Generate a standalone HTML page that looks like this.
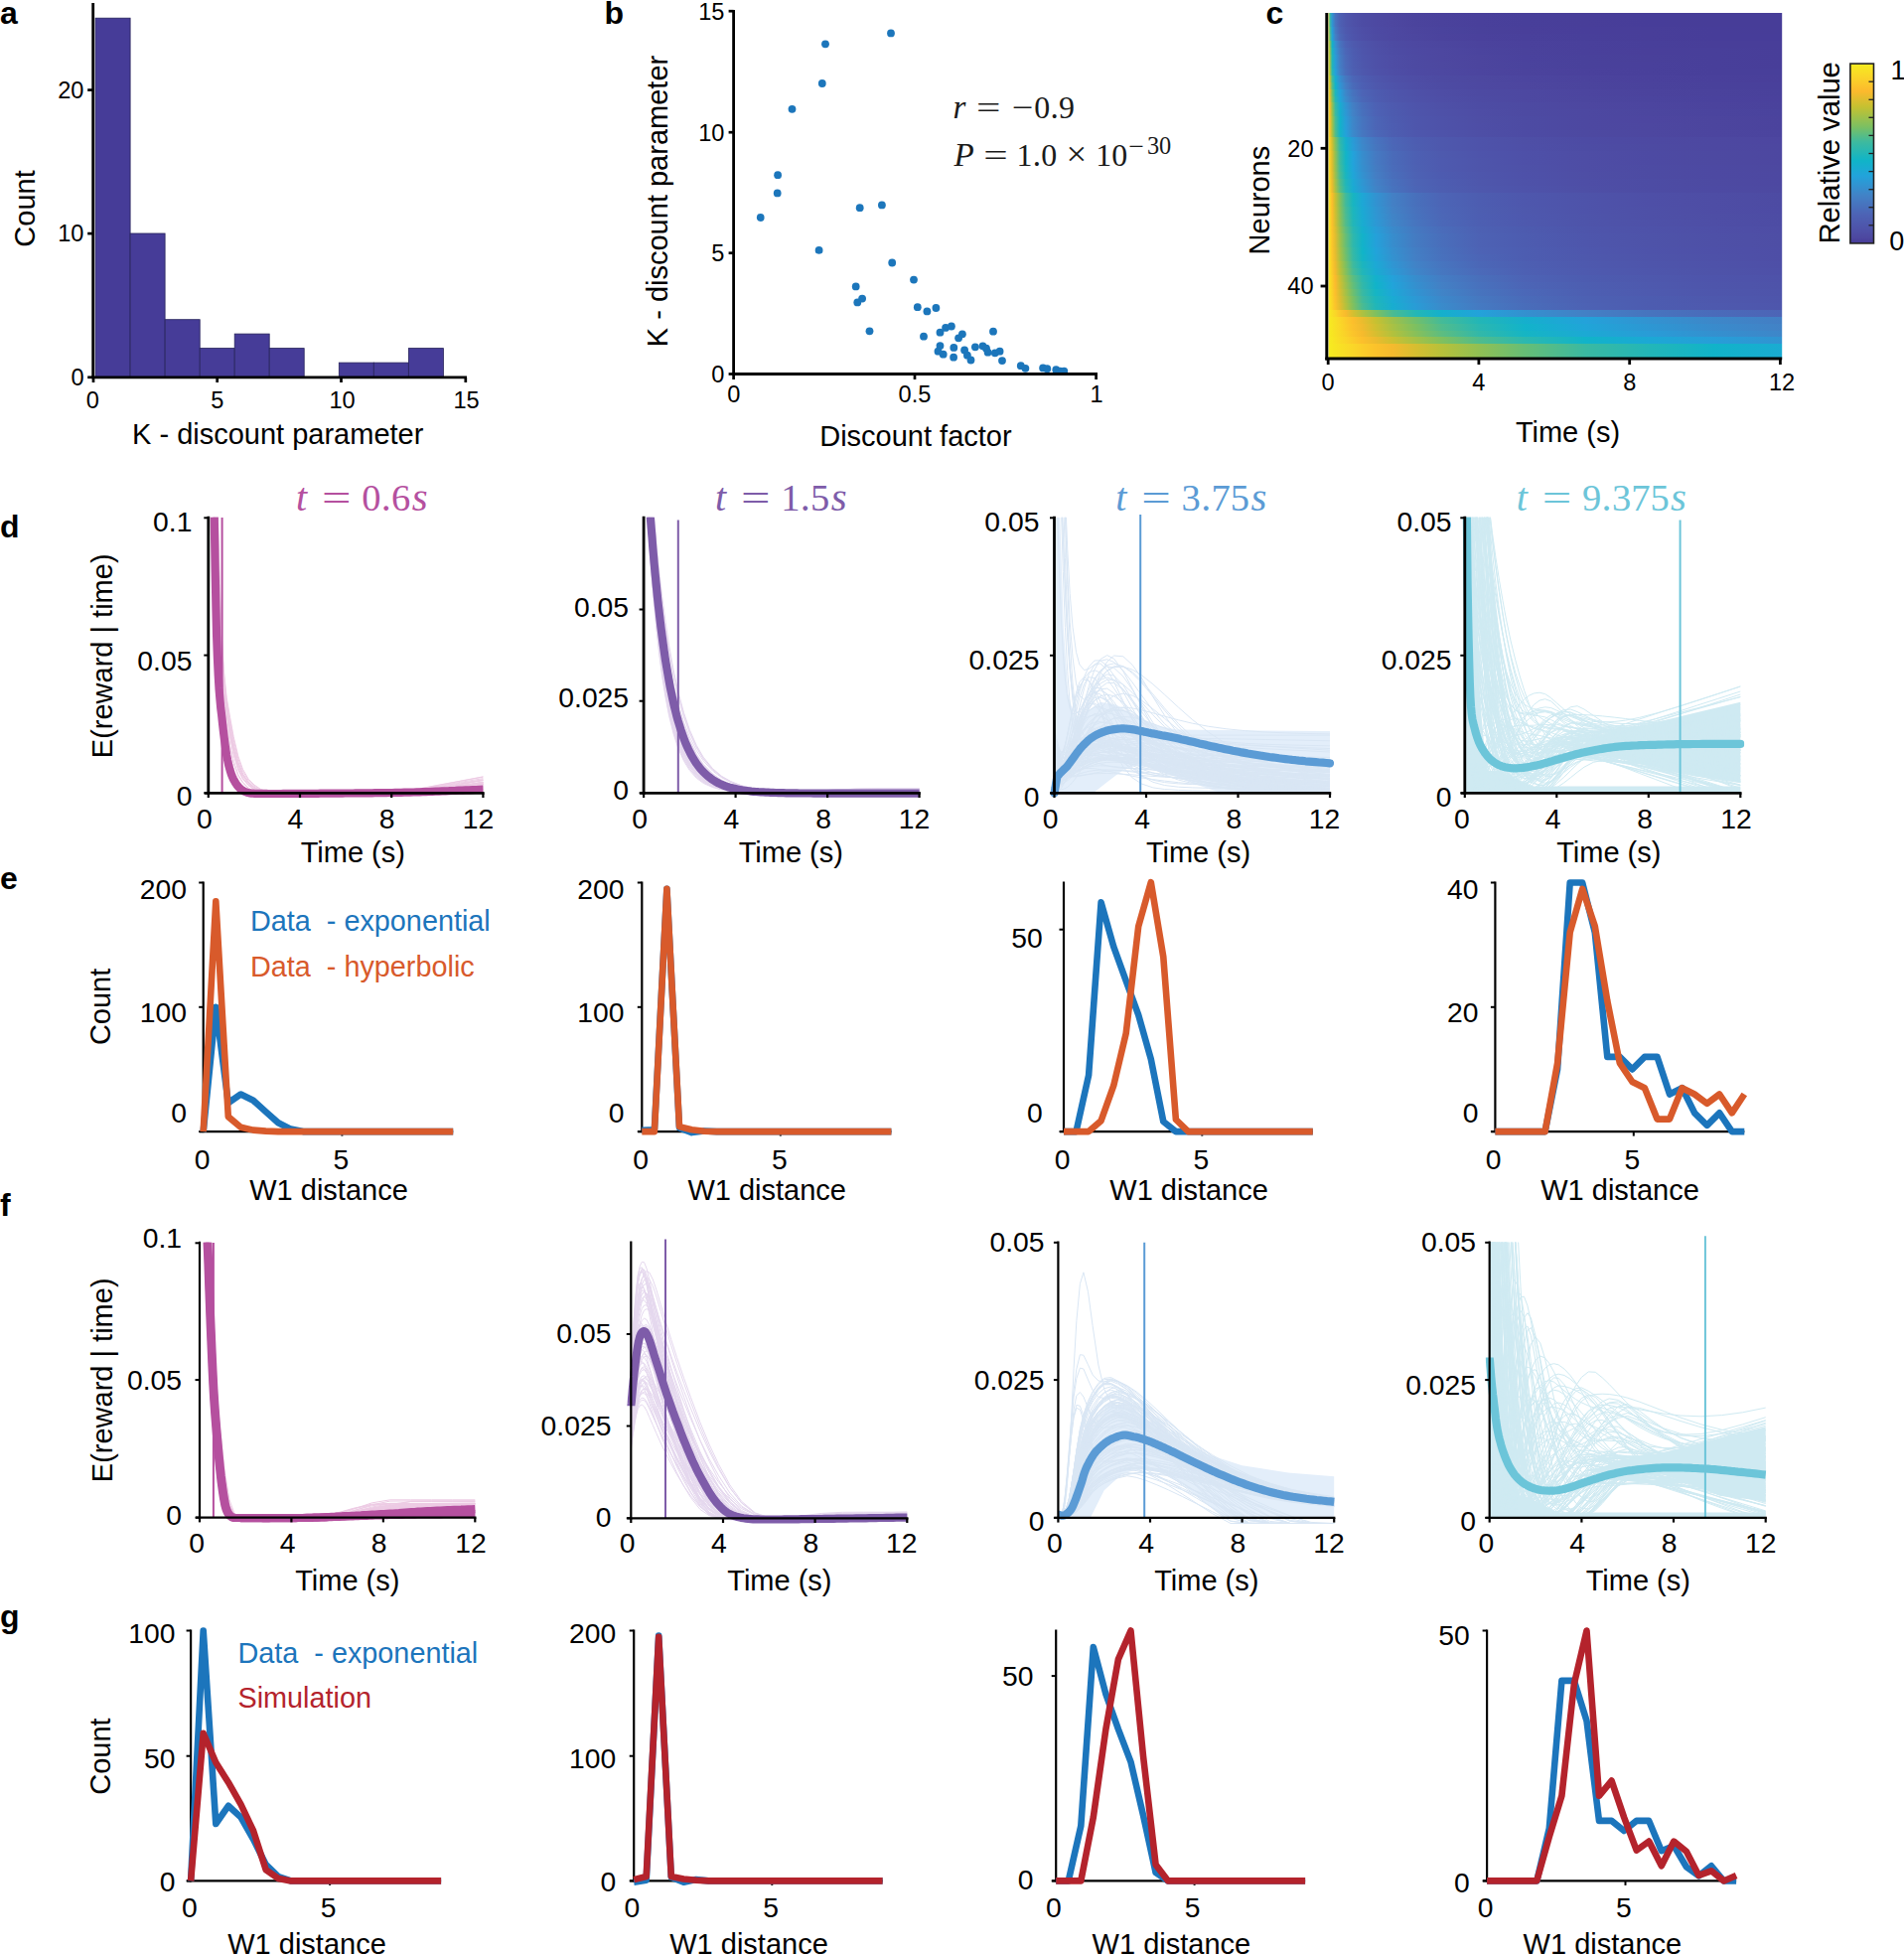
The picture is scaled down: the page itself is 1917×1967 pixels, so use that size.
<!DOCTYPE html>
<html lang="en"><head><meta charset="utf-8"><title>Figure</title><style>html,body{margin:0;padding:0;background:#fff}svg{display:block}</style></head><body>
<svg width="1917" height="1967" viewBox="0 0 1917 1967" font-family='"Liberation Sans", sans-serif'>
<rect x="0" y="0" width="1917" height="1967" fill="#fff"/>
<rect x="96.1" y="18.2" width="35" height="361.2" fill="#463c98" stroke="#26225a" stroke-width="0.8"/>
<rect x="131.1" y="235" width="35" height="144.5" fill="#463c98" stroke="#26225a" stroke-width="0.8"/>
<rect x="166.2" y="321.7" width="35" height="57.8" fill="#463c98" stroke="#26225a" stroke-width="0.8"/>
<rect x="201.2" y="350.6" width="35" height="28.9" fill="#463c98" stroke="#26225a" stroke-width="0.8"/>
<rect x="236.2" y="336.1" width="35" height="43.3" fill="#463c98" stroke="#26225a" stroke-width="0.8"/>
<rect x="271.2" y="350.6" width="35" height="28.9" fill="#463c98" stroke="#26225a" stroke-width="0.8"/>
<rect x="341.3" y="365.1" width="35" height="14.4" fill="#463c98" stroke="#26225a" stroke-width="0.8"/>
<rect x="376.3" y="365.1" width="35" height="14.4" fill="#463c98" stroke="#26225a" stroke-width="0.8"/>
<rect x="411.4" y="350.6" width="35" height="28.9" fill="#463c98" stroke="#26225a" stroke-width="0.8"/>
<line x1="93.7" y1="3" x2="93.7" y2="381" stroke="#000" stroke-width="2.8" stroke-linecap="butt"/>
<line x1="92.3" y1="379.8" x2="470" y2="379.8" stroke="#000" stroke-width="2.8" stroke-linecap="butt"/>
<line x1="94" y1="379.8" x2="94" y2="385" stroke="#000" stroke-width="2.7" stroke-linecap="butt"/>
<line x1="218.7" y1="379.8" x2="218.7" y2="385" stroke="#000" stroke-width="2.7" stroke-linecap="butt"/>
<line x1="343.5" y1="379.8" x2="343.5" y2="385" stroke="#000" stroke-width="2.7" stroke-linecap="butt"/>
<line x1="468.8" y1="379.8" x2="468.8" y2="385" stroke="#000" stroke-width="2.7" stroke-linecap="butt"/>
<line x1="88.2" y1="379.8" x2="93.7" y2="379.8" stroke="#000" stroke-width="2.7" stroke-linecap="butt"/>
<line x1="88.2" y1="235.1" x2="93.7" y2="235.1" stroke="#000" stroke-width="2.7" stroke-linecap="butt"/>
<line x1="88.2" y1="90.6" x2="93.7" y2="90.6" stroke="#000" stroke-width="2.7" stroke-linecap="butt"/>
<text x="93.4" y="410.8" font-size="23.6" text-anchor="middle" fill="#000">0</text>
<text x="218.7" y="410.8" font-size="23.6" text-anchor="middle" fill="#000">5</text>
<text x="344.5" y="410.8" font-size="23.6" text-anchor="middle" fill="#000">10</text>
<text x="469.6" y="410.8" font-size="23.6" text-anchor="middle" fill="#000">15</text>
<text x="84.5" y="388" font-size="23.6" text-anchor="end" fill="#000">0</text>
<text x="84.5" y="243.3" font-size="23.6" text-anchor="end" fill="#000">10</text>
<text x="84.5" y="98.8" font-size="23.6" text-anchor="end" fill="#000">20</text>
<text x="279.7" y="446.8" font-size="29" text-anchor="middle" fill="#000">K - discount parameter</text>
<text x="35" y="210" font-size="29" text-anchor="middle" fill="#000" transform="rotate(-90 35 210)">Count</text>
<circle cx="897" cy="33.4" r="3.9" fill="#1c76bb"/>
<circle cx="831" cy="44.3" r="3.9" fill="#1c76bb"/>
<circle cx="827.8" cy="84" r="3.9" fill="#1c76bb"/>
<circle cx="797.5" cy="109.8" r="3.9" fill="#1c76bb"/>
<circle cx="783.1" cy="176.2" r="3.9" fill="#1c76bb"/>
<circle cx="782.7" cy="194.4" r="3.9" fill="#1c76bb"/>
<circle cx="765.7" cy="219" r="3.9" fill="#1c76bb"/>
<circle cx="865.7" cy="209.2" r="3.9" fill="#1c76bb"/>
<circle cx="887.9" cy="206.4" r="3.9" fill="#1c76bb"/>
<circle cx="824.6" cy="251.9" r="3.9" fill="#1c76bb"/>
<circle cx="898.2" cy="264.5" r="3.9" fill="#1c76bb"/>
<circle cx="920" cy="281.6" r="3.9" fill="#1c76bb"/>
<circle cx="861.7" cy="288.4" r="3.9" fill="#1c76bb"/>
<circle cx="868.1" cy="300.6" r="3.9" fill="#1c76bb"/>
<circle cx="863.3" cy="304.4" r="3.9" fill="#1c76bb"/>
<circle cx="923.8" cy="309.2" r="3.9" fill="#1c76bb"/>
<circle cx="933.4" cy="313.4" r="3.9" fill="#1c76bb"/>
<circle cx="942.4" cy="310" r="3.9" fill="#1c76bb"/>
<circle cx="875.5" cy="333.3" r="3.9" fill="#1c76bb"/>
<circle cx="930" cy="338.7" r="3.9" fill="#1c76bb"/>
<circle cx="946.5" cy="334.7" r="3.9" fill="#1c76bb"/>
<circle cx="952.1" cy="329.9" r="3.9" fill="#1c76bb"/>
<circle cx="957.9" cy="328.5" r="3.9" fill="#1c76bb"/>
<circle cx="968.9" cy="336.3" r="3.9" fill="#1c76bb"/>
<circle cx="965.1" cy="340.3" r="3.9" fill="#1c76bb"/>
<circle cx="1000" cy="333.7" r="3.9" fill="#1c76bb"/>
<circle cx="946.5" cy="348.1" r="3.9" fill="#1c76bb"/>
<circle cx="960.3" cy="349.9" r="3.9" fill="#1c76bb"/>
<circle cx="944.5" cy="353.7" r="3.9" fill="#1c76bb"/>
<circle cx="949.7" cy="356.7" r="3.9" fill="#1c76bb"/>
<circle cx="960.1" cy="359.7" r="3.9" fill="#1c76bb"/>
<circle cx="971.1" cy="352.5" r="3.9" fill="#1c76bb"/>
<circle cx="973.9" cy="357.7" r="3.9" fill="#1c76bb"/>
<circle cx="977.5" cy="362.5" r="3.9" fill="#1c76bb"/>
<circle cx="981.9" cy="349.3" r="3.9" fill="#1c76bb"/>
<circle cx="989.5" cy="348.3" r="3.9" fill="#1c76bb"/>
<circle cx="993" cy="350.7" r="3.9" fill="#1c76bb"/>
<circle cx="994.6" cy="354.7" r="3.9" fill="#1c76bb"/>
<circle cx="1001.8" cy="355.3" r="3.9" fill="#1c76bb"/>
<circle cx="1006.6" cy="353.7" r="3.9" fill="#1c76bb"/>
<circle cx="1009" cy="363.1" r="3.9" fill="#1c76bb"/>
<circle cx="1027.8" cy="368.2" r="3.9" fill="#1c76bb"/>
<circle cx="1032.4" cy="370.8" r="3.9" fill="#1c76bb"/>
<circle cx="1050.1" cy="370.4" r="3.9" fill="#1c76bb"/>
<circle cx="1054.3" cy="371.2" r="3.9" fill="#1c76bb"/>
<circle cx="1063.3" cy="372.2" r="3.9" fill="#1c76bb"/>
<circle cx="1067.3" cy="373.6" r="3.9" fill="#1c76bb"/>
<circle cx="1071.3" cy="373.6" r="3.9" fill="#1c76bb"/>
<line x1="738.6" y1="10" x2="738.6" y2="377.9" stroke="#000" stroke-width="2.8" stroke-linecap="butt"/>
<line x1="737.2" y1="376.5" x2="1105" y2="376.5" stroke="#000" stroke-width="2.8" stroke-linecap="butt"/>
<line x1="738.6" y1="376.5" x2="738.6" y2="382" stroke="#000" stroke-width="2.7" stroke-linecap="butt"/>
<line x1="921" y1="376.5" x2="921" y2="382" stroke="#000" stroke-width="2.7" stroke-linecap="butt"/>
<line x1="1103.6" y1="376.5" x2="1103.6" y2="382" stroke="#000" stroke-width="2.7" stroke-linecap="butt"/>
<line x1="733.6" y1="376.5" x2="738.6" y2="376.5" stroke="#000" stroke-width="2.7" stroke-linecap="butt"/>
<line x1="733.6" y1="254.7" x2="738.6" y2="254.7" stroke="#000" stroke-width="2.7" stroke-linecap="butt"/>
<line x1="733.6" y1="133.2" x2="738.6" y2="133.2" stroke="#000" stroke-width="2.7" stroke-linecap="butt"/>
<line x1="733.6" y1="11.2" x2="738.6" y2="11.2" stroke="#000" stroke-width="2.7" stroke-linecap="butt"/>
<text x="738.8" y="405.2" font-size="23.6" text-anchor="middle" fill="#000">0</text>
<text x="921" y="405.2" font-size="23.6" text-anchor="middle" fill="#000">0.5</text>
<text x="1104" y="405.2" font-size="23.6" text-anchor="middle" fill="#000">1</text>
<text x="729.4" y="384.8" font-size="23.6" text-anchor="end" fill="#000">0</text>
<text x="729.4" y="263" font-size="23.6" text-anchor="end" fill="#000">5</text>
<text x="729.4" y="141.5" font-size="23.6" text-anchor="end" fill="#000">10</text>
<text x="729.4" y="19.5" font-size="23.6" text-anchor="end" fill="#000">15</text>
<text x="921.9" y="448.7" font-size="29" text-anchor="middle" fill="#000">Discount factor</text>
<text x="671.6" y="202.5" font-size="29" text-anchor="middle" fill="#000" transform="rotate(-90 671.6 202.5)">K - discount parameter</text>
<text x="959.5" y="118.6" font-size="33.176" text-anchor="start" fill="#1a1a1a" font-family='"Liberation Serif", "DejaVu Serif", serif' font-style="italic">r</text>
<text transform='translate(983.1 118.6) scale(1.36 1)' font-size='31.9' fill='#1a1a1a' font-family='"Liberation Serif", "DejaVu Serif", serif'>=</text>
<text transform='translate(1018.5 118.6) scale(1.2 1)' font-size='31.9' fill='#1a1a1a' font-family='"Liberation Serif", "DejaVu Serif", serif'>−</text>
<text x="1049.2" y="118.6" font-size="31.9" text-anchor="middle" fill="#1a1a1a" font-family='"Liberation Serif", "DejaVu Serif", serif'>0</text>
<text x="1061.6" y="118.6" font-size="33.176" text-anchor="middle" fill="#1a1a1a" font-family='"Liberation Serif", "DejaVu Serif", serif'>.</text>
<text x="1074.1" y="118.6" font-size="31.9" text-anchor="middle" fill="#1a1a1a" font-family='"Liberation Serif", "DejaVu Serif", serif'>9</text>
<text x="960.5" y="167" font-size="33.176" text-anchor="start" fill="#1a1a1a" font-family='"Liberation Serif", "DejaVu Serif", serif' font-style="italic">P</text>
<text transform='translate(990.2 167) scale(1.36 1)' font-size='31.9' fill='#1a1a1a' font-family='"Liberation Serif", "DejaVu Serif", serif'>=</text>
<text x="1031.5" y="167" font-size="31.9" text-anchor="middle" fill="#1a1a1a" font-family='"Liberation Serif", "DejaVu Serif", serif'>1</text>
<text x="1043.9" y="167" font-size="33.176" text-anchor="middle" fill="#1a1a1a" font-family='"Liberation Serif", "DejaVu Serif", serif'>.</text>
<text x="1056.3" y="167" font-size="31.9" text-anchor="middle" fill="#1a1a1a" font-family='"Liberation Serif", "DejaVu Serif", serif'>0</text>
<text x="1083.8" y="167" font-size="36.684999999999995" text-anchor="middle" fill="#1a1a1a" font-family='"Liberation Serif", "DejaVu Serif", serif'>×</text>
<text x="1111.3" y="167" font-size="31.9" text-anchor="middle" fill="#1a1a1a" font-family='"Liberation Serif", "DejaVu Serif", serif'>1</text>
<text x="1127.2" y="167" font-size="31.9" text-anchor="middle" fill="#1a1a1a" font-family='"Liberation Serif", "DejaVu Serif", serif'>0</text>
<text transform='translate(1136.3 154.6) scale(1.2 1)' font-size='23' fill='#1a1a1a' font-family='"Liberation Serif", "DejaVu Serif", serif'>−</text>
<text x="1161" y="154.6" font-size="24.346079999999997" text-anchor="middle" fill="#1a1a1a" font-family='"Liberation Serif", "DejaVu Serif", serif'>3</text>
<text x="1173.2" y="154.6" font-size="24.346079999999997" text-anchor="middle" fill="#1a1a1a" font-family='"Liberation Serif", "DejaVu Serif", serif'>0</text>
<defs>
<linearGradient id="h0"><stop offset="0%" stop-color="#f6ec20"/><stop offset="0.3%" stop-color="#38b9a4"/><stop offset="0.8%" stop-color="#3095d2"/><stop offset="1.5%" stop-color="#4773be"/><stop offset="2.5%" stop-color="#4d5fb2"/><stop offset="3.8%" stop-color="#4e56ac"/><stop offset="5.4%" stop-color="#4e50a8"/><stop offset="7.5%" stop-color="#4d4ca4"/><stop offset="10.4%" stop-color="#4d49a1"/><stop offset="14.2%" stop-color="#4d469f"/><stop offset="19.2%" stop-color="#4b439d"/><stop offset="25%" stop-color="#4a419c"/><stop offset="33.3%" stop-color="#49409b"/><stop offset="43.3%" stop-color="#483f9a"/><stop offset="56.7%" stop-color="#483e99"/><stop offset="70.8%" stop-color="#473d99"/><stop offset="85%" stop-color="#473d98"/><stop offset="100%" stop-color="#473d98"/></linearGradient>
<linearGradient id="h1"><stop offset="0%" stop-color="#f6ec20"/><stop offset="0.3%" stop-color="#3bbaa1"/><stop offset="0.8%" stop-color="#2e97d3"/><stop offset="1.5%" stop-color="#4775bf"/><stop offset="2.5%" stop-color="#4d60b3"/><stop offset="3.8%" stop-color="#4e57ac"/><stop offset="5.4%" stop-color="#4e51a8"/><stop offset="7.5%" stop-color="#4d4ca4"/><stop offset="10.4%" stop-color="#4d49a2"/><stop offset="14.2%" stop-color="#4d47a0"/><stop offset="19.2%" stop-color="#4b449d"/><stop offset="25%" stop-color="#4a429c"/><stop offset="33.3%" stop-color="#49409b"/><stop offset="43.3%" stop-color="#483f9a"/><stop offset="56.7%" stop-color="#483e99"/><stop offset="70.8%" stop-color="#473d99"/><stop offset="85%" stop-color="#473d98"/><stop offset="100%" stop-color="#473d98"/></linearGradient>
<linearGradient id="h2"><stop offset="0%" stop-color="#f6ec20"/><stop offset="0.3%" stop-color="#50bc8c"/><stop offset="0.8%" stop-color="#25a0d9"/><stop offset="1.5%" stop-color="#447bc2"/><stop offset="2.5%" stop-color="#4d63b5"/><stop offset="3.8%" stop-color="#4e59ae"/><stop offset="5.4%" stop-color="#4e53aa"/><stop offset="7.5%" stop-color="#4e4ea6"/><stop offset="10.4%" stop-color="#4d4aa3"/><stop offset="14.2%" stop-color="#4d48a1"/><stop offset="19.2%" stop-color="#4c459e"/><stop offset="25%" stop-color="#4a439d"/><stop offset="33.3%" stop-color="#49419b"/><stop offset="43.3%" stop-color="#493f9a"/><stop offset="56.7%" stop-color="#483e9a"/><stop offset="70.8%" stop-color="#483e99"/><stop offset="85%" stop-color="#473d99"/><stop offset="100%" stop-color="#473d98"/></linearGradient>
<linearGradient id="h3"><stop offset="0%" stop-color="#f6ec20"/><stop offset="0.3%" stop-color="#60bd7d"/><stop offset="0.8%" stop-color="#20a5d9"/><stop offset="1.5%" stop-color="#4380c5"/><stop offset="2.5%" stop-color="#4c67b7"/><stop offset="3.8%" stop-color="#4d5bb0"/><stop offset="5.4%" stop-color="#4e54ab"/><stop offset="7.5%" stop-color="#4e4fa7"/><stop offset="10.4%" stop-color="#4d4ba3"/><stop offset="14.2%" stop-color="#4d48a1"/><stop offset="19.2%" stop-color="#4c469f"/><stop offset="25%" stop-color="#4b439d"/><stop offset="33.3%" stop-color="#4a419c"/><stop offset="43.3%" stop-color="#49409b"/><stop offset="56.7%" stop-color="#483f9a"/><stop offset="70.8%" stop-color="#483e99"/><stop offset="85%" stop-color="#473d99"/><stop offset="100%" stop-color="#473d99"/></linearGradient>
<linearGradient id="h4"><stop offset="0%" stop-color="#f6ec20"/><stop offset="0.3%" stop-color="#8ec055"/><stop offset="0.8%" stop-color="#11b3c9"/><stop offset="1.5%" stop-color="#3392d0"/><stop offset="2.5%" stop-color="#4774be"/><stop offset="3.8%" stop-color="#4d62b5"/><stop offset="5.4%" stop-color="#4e5aae"/><stop offset="7.5%" stop-color="#4e54aa"/><stop offset="10.4%" stop-color="#4e4fa6"/><stop offset="14.2%" stop-color="#4d4ba3"/><stop offset="19.2%" stop-color="#4d48a1"/><stop offset="25%" stop-color="#4c469f"/><stop offset="33.3%" stop-color="#4b439d"/><stop offset="43.3%" stop-color="#4a419c"/><stop offset="56.7%" stop-color="#49409b"/><stop offset="70.8%" stop-color="#483f9a"/><stop offset="85%" stop-color="#483e99"/><stop offset="100%" stop-color="#483e99"/></linearGradient>
<linearGradient id="h5"><stop offset="0%" stop-color="#f6ec20"/><stop offset="0.3%" stop-color="#9cc04c"/><stop offset="0.8%" stop-color="#19b5c0"/><stop offset="1.5%" stop-color="#2d98d4"/><stop offset="2.5%" stop-color="#4579c1"/><stop offset="3.8%" stop-color="#4c66b7"/><stop offset="5.4%" stop-color="#4d5cb0"/><stop offset="7.5%" stop-color="#4e55ab"/><stop offset="10.4%" stop-color="#4e50a7"/><stop offset="14.2%" stop-color="#4d4ca4"/><stop offset="19.2%" stop-color="#4d49a2"/><stop offset="25%" stop-color="#4d47a0"/><stop offset="33.3%" stop-color="#4b449e"/><stop offset="43.3%" stop-color="#4a429c"/><stop offset="56.7%" stop-color="#49409b"/><stop offset="70.8%" stop-color="#493f9a"/><stop offset="85%" stop-color="#483f9a"/><stop offset="100%" stop-color="#483e99"/></linearGradient>
<linearGradient id="h6"><stop offset="0%" stop-color="#f6ec20"/><stop offset="0.3%" stop-color="#a5c146"/><stop offset="0.8%" stop-color="#20b6b9"/><stop offset="1.5%" stop-color="#289dd7"/><stop offset="2.5%" stop-color="#447dc3"/><stop offset="3.8%" stop-color="#4b69b8"/><stop offset="5.4%" stop-color="#4d5db1"/><stop offset="7.5%" stop-color="#4e56ac"/><stop offset="10.4%" stop-color="#4e51a8"/><stop offset="14.2%" stop-color="#4e4da5"/><stop offset="19.2%" stop-color="#4d4aa2"/><stop offset="25%" stop-color="#4d47a0"/><stop offset="33.3%" stop-color="#4c459e"/><stop offset="43.3%" stop-color="#4a429d"/><stop offset="56.7%" stop-color="#49419b"/><stop offset="70.8%" stop-color="#49409a"/><stop offset="85%" stop-color="#483f9a"/><stop offset="100%" stop-color="#483e99"/></linearGradient>
<linearGradient id="h7"><stop offset="0%" stop-color="#f6ec20"/><stop offset="0.3%" stop-color="#a7c145"/><stop offset="0.8%" stop-color="#22b6b8"/><stop offset="1.5%" stop-color="#279ed8"/><stop offset="2.5%" stop-color="#437ec4"/><stop offset="3.8%" stop-color="#4b6ab9"/><stop offset="5.4%" stop-color="#4d5eb1"/><stop offset="7.5%" stop-color="#4e57ac"/><stop offset="10.4%" stop-color="#4e51a8"/><stop offset="14.2%" stop-color="#4e4da5"/><stop offset="19.2%" stop-color="#4d4aa2"/><stop offset="25%" stop-color="#4d48a0"/><stop offset="33.3%" stop-color="#4c459e"/><stop offset="43.3%" stop-color="#4a439d"/><stop offset="56.7%" stop-color="#49419b"/><stop offset="70.8%" stop-color="#49409b"/><stop offset="85%" stop-color="#483f9a"/><stop offset="100%" stop-color="#483e99"/></linearGradient>
<linearGradient id="h8"><stop offset="0%" stop-color="#f6ec20"/><stop offset="0.3%" stop-color="#afc13f"/><stop offset="0.8%" stop-color="#29b7b2"/><stop offset="1.5%" stop-color="#23a2da"/><stop offset="2.5%" stop-color="#4281c6"/><stop offset="3.8%" stop-color="#4a6cba"/><stop offset="5.4%" stop-color="#4d5fb2"/><stop offset="7.5%" stop-color="#4e58ad"/><stop offset="10.4%" stop-color="#4e52a9"/><stop offset="14.2%" stop-color="#4e4ea6"/><stop offset="19.2%" stop-color="#4d4aa3"/><stop offset="25%" stop-color="#4d48a1"/><stop offset="33.3%" stop-color="#4c459f"/><stop offset="43.3%" stop-color="#4b439d"/><stop offset="56.7%" stop-color="#4a419c"/><stop offset="70.8%" stop-color="#49409b"/><stop offset="85%" stop-color="#483f9a"/><stop offset="100%" stop-color="#483f9a"/></linearGradient>
<linearGradient id="h9"><stop offset="0%" stop-color="#f6ec20"/><stop offset="0.3%" stop-color="#ccc030"/><stop offset="0.8%" stop-color="#45bb97"/><stop offset="1.5%" stop-color="#17aecf"/><stop offset="2.5%" stop-color="#358fcf"/><stop offset="3.8%" stop-color="#4678c0"/><stop offset="5.4%" stop-color="#4c66b7"/><stop offset="7.5%" stop-color="#4d5db1"/><stop offset="10.4%" stop-color="#4e56ac"/><stop offset="14.2%" stop-color="#4e51a8"/><stop offset="19.2%" stop-color="#4e4da5"/><stop offset="25%" stop-color="#4d4aa2"/><stop offset="33.3%" stop-color="#4d48a0"/><stop offset="43.3%" stop-color="#4c459f"/><stop offset="56.7%" stop-color="#4b439d"/><stop offset="70.8%" stop-color="#4a419c"/><stop offset="85%" stop-color="#49409b"/><stop offset="100%" stop-color="#493f9a"/></linearGradient>
<linearGradient id="h10"><stop offset="0%" stop-color="#f6ec20"/><stop offset="0.3%" stop-color="#d8be30"/><stop offset="0.8%" stop-color="#57bc85"/><stop offset="1.5%" stop-color="#11b3c9"/><stop offset="2.5%" stop-color="#2e96d3"/><stop offset="3.8%" stop-color="#447ec4"/><stop offset="5.4%" stop-color="#4a6bb9"/><stop offset="7.5%" stop-color="#4d5fb3"/><stop offset="10.4%" stop-color="#4e58ad"/><stop offset="14.2%" stop-color="#4e53aa"/><stop offset="19.2%" stop-color="#4e4ea6"/><stop offset="25%" stop-color="#4d4ba3"/><stop offset="33.3%" stop-color="#4d48a1"/><stop offset="43.3%" stop-color="#4d469f"/><stop offset="56.7%" stop-color="#4b449d"/><stop offset="70.8%" stop-color="#4a429c"/><stop offset="85%" stop-color="#49419b"/><stop offset="100%" stop-color="#49409b"/></linearGradient>
<linearGradient id="h11"><stop offset="0%" stop-color="#f6ec20"/><stop offset="0.3%" stop-color="#e9bc2e"/><stop offset="0.8%" stop-color="#74bf69"/><stop offset="1.5%" stop-color="#20b6ba"/><stop offset="2.5%" stop-color="#23a2da"/><stop offset="3.8%" stop-color="#3d87c9"/><stop offset="5.4%" stop-color="#4773be"/><stop offset="7.5%" stop-color="#4d64b6"/><stop offset="10.4%" stop-color="#4d5cb0"/><stop offset="14.2%" stop-color="#4e56ac"/><stop offset="19.2%" stop-color="#4e51a8"/><stop offset="25%" stop-color="#4e4da5"/><stop offset="33.3%" stop-color="#4d4aa2"/><stop offset="43.3%" stop-color="#4d48a1"/><stop offset="56.7%" stop-color="#4c459f"/><stop offset="70.8%" stop-color="#4b439d"/><stop offset="85%" stop-color="#4a429c"/><stop offset="100%" stop-color="#49419b"/></linearGradient>
<linearGradient id="h12"><stop offset="0%" stop-color="#f6ec20"/><stop offset="0.3%" stop-color="#f0bb2e"/><stop offset="0.8%" stop-color="#80c05e"/><stop offset="1.5%" stop-color="#28b7b2"/><stop offset="2.5%" stop-color="#1fa6d8"/><stop offset="3.8%" stop-color="#398ccc"/><stop offset="5.4%" stop-color="#4677c0"/><stop offset="7.5%" stop-color="#4b67b7"/><stop offset="10.4%" stop-color="#4d5db1"/><stop offset="14.2%" stop-color="#4e57ac"/><stop offset="19.2%" stop-color="#4e52a9"/><stop offset="25%" stop-color="#4e4ea6"/><stop offset="33.3%" stop-color="#4d4ba3"/><stop offset="43.3%" stop-color="#4d48a1"/><stop offset="56.7%" stop-color="#4c469f"/><stop offset="70.8%" stop-color="#4b449e"/><stop offset="85%" stop-color="#4a429d"/><stop offset="100%" stop-color="#4a419c"/></linearGradient>
<linearGradient id="h13"><stop offset="0%" stop-color="#f6ec20"/><stop offset="0.3%" stop-color="#fcb92d"/><stop offset="0.8%" stop-color="#96c050"/><stop offset="1.5%" stop-color="#38b9a3"/><stop offset="2.5%" stop-color="#18add0"/><stop offset="3.8%" stop-color="#2f95d2"/><stop offset="5.4%" stop-color="#437fc4"/><stop offset="7.5%" stop-color="#496ebb"/><stop offset="10.4%" stop-color="#4d61b4"/><stop offset="14.2%" stop-color="#4e5aaf"/><stop offset="19.2%" stop-color="#4e54ab"/><stop offset="25%" stop-color="#4e50a7"/><stop offset="33.3%" stop-color="#4d4ca4"/><stop offset="43.3%" stop-color="#4d4aa2"/><stop offset="56.7%" stop-color="#4d47a0"/><stop offset="70.8%" stop-color="#4c459f"/><stop offset="85%" stop-color="#4b439d"/><stop offset="100%" stop-color="#4a429c"/></linearGradient>
<linearGradient id="h14"><stop offset="0%" stop-color="#f6ec20"/><stop offset="0.3%" stop-color="#fcbc2d"/><stop offset="0.8%" stop-color="#9dc04b"/><stop offset="1.5%" stop-color="#3eba9e"/><stop offset="2.5%" stop-color="#15afcd"/><stop offset="3.8%" stop-color="#2c99d4"/><stop offset="5.4%" stop-color="#4282c6"/><stop offset="7.5%" stop-color="#4870bc"/><stop offset="10.4%" stop-color="#4d62b5"/><stop offset="14.2%" stop-color="#4d5baf"/><stop offset="19.2%" stop-color="#4e55ab"/><stop offset="25%" stop-color="#4e51a8"/><stop offset="33.3%" stop-color="#4e4da5"/><stop offset="43.3%" stop-color="#4d4aa2"/><stop offset="56.7%" stop-color="#4d48a1"/><stop offset="70.8%" stop-color="#4c469f"/><stop offset="85%" stop-color="#4b449e"/><stop offset="100%" stop-color="#4a439d"/></linearGradient>
<linearGradient id="h15"><stop offset="0%" stop-color="#f6ec20"/><stop offset="0.3%" stop-color="#fcbe2c"/><stop offset="0.8%" stop-color="#a6c145"/><stop offset="1.5%" stop-color="#4abb93"/><stop offset="2.5%" stop-color="#11b3c9"/><stop offset="3.8%" stop-color="#289dd7"/><stop offset="5.4%" stop-color="#3e86c8"/><stop offset="7.5%" stop-color="#4774be"/><stop offset="10.4%" stop-color="#4c65b6"/><stop offset="14.2%" stop-color="#4d5cb0"/><stop offset="19.2%" stop-color="#4e56ac"/><stop offset="25%" stop-color="#4e52a9"/><stop offset="33.3%" stop-color="#4e4ea5"/><stop offset="43.3%" stop-color="#4d4ba3"/><stop offset="56.7%" stop-color="#4d48a1"/><stop offset="70.8%" stop-color="#4d46a0"/><stop offset="85%" stop-color="#4c459e"/><stop offset="100%" stop-color="#4b439d"/></linearGradient>
<linearGradient id="h16"><stop offset="0%" stop-color="#f6ec20"/><stop offset="0.3%" stop-color="#fcbf2c"/><stop offset="0.8%" stop-color="#a8c144"/><stop offset="1.5%" stop-color="#4cbb90"/><stop offset="2.5%" stop-color="#11b3c9"/><stop offset="3.8%" stop-color="#279ed8"/><stop offset="5.4%" stop-color="#3e86c9"/><stop offset="7.5%" stop-color="#4774bf"/><stop offset="10.4%" stop-color="#4c65b6"/><stop offset="14.2%" stop-color="#4d5db1"/><stop offset="19.2%" stop-color="#4e56ac"/><stop offset="25%" stop-color="#4e52a9"/><stop offset="33.3%" stop-color="#4e4ea6"/><stop offset="43.3%" stop-color="#4d4ba3"/><stop offset="56.7%" stop-color="#4d48a1"/><stop offset="70.8%" stop-color="#4d47a0"/><stop offset="85%" stop-color="#4c459e"/><stop offset="100%" stop-color="#4b439d"/></linearGradient>
<linearGradient id="h17"><stop offset="0%" stop-color="#f6ec20"/><stop offset="0.3%" stop-color="#fbc12c"/><stop offset="0.8%" stop-color="#afc13f"/><stop offset="1.5%" stop-color="#55bc87"/><stop offset="2.5%" stop-color="#14b5c4"/><stop offset="3.8%" stop-color="#23a2da"/><stop offset="5.4%" stop-color="#3b8acb"/><stop offset="7.5%" stop-color="#4677c0"/><stop offset="10.4%" stop-color="#4b68b8"/><stop offset="14.2%" stop-color="#4d5eb1"/><stop offset="19.2%" stop-color="#4e57ad"/><stop offset="25%" stop-color="#4e53aa"/><stop offset="33.3%" stop-color="#4e4fa6"/><stop offset="43.3%" stop-color="#4d4ba4"/><stop offset="56.7%" stop-color="#4d49a1"/><stop offset="70.8%" stop-color="#4d47a0"/><stop offset="85%" stop-color="#4c459f"/><stop offset="100%" stop-color="#4b449e"/></linearGradient>
<linearGradient id="h18"><stop offset="0%" stop-color="#f6ec20"/><stop offset="0.3%" stop-color="#fbcb2a"/><stop offset="0.8%" stop-color="#d0bf30"/><stop offset="1.5%" stop-color="#83c05c"/><stop offset="2.5%" stop-color="#32b8a9"/><stop offset="3.8%" stop-color="#15afcd"/><stop offset="5.4%" stop-color="#299bd6"/><stop offset="7.5%" stop-color="#3e86c9"/><stop offset="10.4%" stop-color="#4774bf"/><stop offset="14.2%" stop-color="#4c66b7"/><stop offset="19.2%" stop-color="#4d5db1"/><stop offset="25%" stop-color="#4e58ad"/><stop offset="33.3%" stop-color="#4e53aa"/><stop offset="43.3%" stop-color="#4e4fa6"/><stop offset="56.7%" stop-color="#4d4ba4"/><stop offset="70.8%" stop-color="#4d49a2"/><stop offset="85%" stop-color="#4d48a1"/><stop offset="100%" stop-color="#4d46a0"/></linearGradient>
<linearGradient id="h19"><stop offset="0%" stop-color="#f6ec20"/><stop offset="0.3%" stop-color="#fbcc2a"/><stop offset="0.8%" stop-color="#d4bf30"/><stop offset="1.5%" stop-color="#87c05a"/><stop offset="2.5%" stop-color="#36b9a6"/><stop offset="3.8%" stop-color="#13b1cb"/><stop offset="5.4%" stop-color="#289dd7"/><stop offset="7.5%" stop-color="#3c88ca"/><stop offset="10.4%" stop-color="#4676bf"/><stop offset="14.2%" stop-color="#4b67b7"/><stop offset="19.2%" stop-color="#4d5eb1"/><stop offset="25%" stop-color="#4e58ad"/><stop offset="33.3%" stop-color="#4e53aa"/><stop offset="43.3%" stop-color="#4e4fa7"/><stop offset="56.7%" stop-color="#4d4ca4"/><stop offset="70.8%" stop-color="#4d4aa2"/><stop offset="85%" stop-color="#4d48a1"/><stop offset="100%" stop-color="#4d47a0"/></linearGradient>
<linearGradient id="h20"><stop offset="0%" stop-color="#f6ec20"/><stop offset="0.3%" stop-color="#fbce29"/><stop offset="0.8%" stop-color="#dcbe2f"/><stop offset="1.5%" stop-color="#92c052"/><stop offset="2.5%" stop-color="#3eba9e"/><stop offset="3.8%" stop-color="#12b4c7"/><stop offset="5.4%" stop-color="#22a3db"/><stop offset="7.5%" stop-color="#378dcd"/><stop offset="10.4%" stop-color="#457ac2"/><stop offset="14.2%" stop-color="#4a6bb9"/><stop offset="19.2%" stop-color="#4d60b3"/><stop offset="25%" stop-color="#4e5aae"/><stop offset="33.3%" stop-color="#4e54ab"/><stop offset="43.3%" stop-color="#4e50a8"/><stop offset="56.7%" stop-color="#4e4da5"/><stop offset="70.8%" stop-color="#4d4aa3"/><stop offset="85%" stop-color="#4d49a1"/><stop offset="100%" stop-color="#4d47a0"/></linearGradient>
<linearGradient id="h21"><stop offset="0%" stop-color="#f6ec20"/><stop offset="0.3%" stop-color="#fbce29"/><stop offset="0.8%" stop-color="#ddbe2f"/><stop offset="1.5%" stop-color="#94c051"/><stop offset="2.5%" stop-color="#3fba9d"/><stop offset="3.8%" stop-color="#13b4c6"/><stop offset="5.4%" stop-color="#22a3db"/><stop offset="7.5%" stop-color="#378ecd"/><stop offset="10.4%" stop-color="#457ac2"/><stop offset="14.2%" stop-color="#4a6bb9"/><stop offset="19.2%" stop-color="#4d60b3"/><stop offset="25%" stop-color="#4e5aaf"/><stop offset="33.3%" stop-color="#4e55ab"/><stop offset="43.3%" stop-color="#4e50a8"/><stop offset="56.7%" stop-color="#4e4da5"/><stop offset="70.8%" stop-color="#4d4aa3"/><stop offset="85%" stop-color="#4d49a1"/><stop offset="100%" stop-color="#4d47a0"/></linearGradient>
<linearGradient id="h22"><stop offset="0%" stop-color="#f6ec20"/><stop offset="0.3%" stop-color="#facf29"/><stop offset="0.8%" stop-color="#dfbd2f"/><stop offset="1.5%" stop-color="#97c04f"/><stop offset="2.5%" stop-color="#44bb98"/><stop offset="3.8%" stop-color="#15b5c3"/><stop offset="5.4%" stop-color="#21a4da"/><stop offset="7.5%" stop-color="#358fce"/><stop offset="10.4%" stop-color="#447cc2"/><stop offset="14.2%" stop-color="#4a6cba"/><stop offset="19.2%" stop-color="#4d61b3"/><stop offset="25%" stop-color="#4e5aaf"/><stop offset="33.3%" stop-color="#4e55ab"/><stop offset="43.3%" stop-color="#4e51a8"/><stop offset="56.7%" stop-color="#4e4da5"/><stop offset="70.8%" stop-color="#4d4ba3"/><stop offset="85%" stop-color="#4d49a2"/><stop offset="100%" stop-color="#4d48a0"/></linearGradient>
<linearGradient id="h23"><stop offset="0%" stop-color="#f6ec20"/><stop offset="0.3%" stop-color="#fad029"/><stop offset="0.8%" stop-color="#e3bd2f"/><stop offset="1.5%" stop-color="#9dc04c"/><stop offset="2.5%" stop-color="#4bbb92"/><stop offset="3.8%" stop-color="#19b5bf"/><stop offset="5.4%" stop-color="#1fa6d8"/><stop offset="7.5%" stop-color="#3392d0"/><stop offset="10.4%" stop-color="#447ec4"/><stop offset="14.2%" stop-color="#496ebb"/><stop offset="19.2%" stop-color="#4d62b4"/><stop offset="25%" stop-color="#4d5bb0"/><stop offset="33.3%" stop-color="#4e56ac"/><stop offset="43.3%" stop-color="#4e51a9"/><stop offset="56.7%" stop-color="#4e4ea5"/><stop offset="70.8%" stop-color="#4d4ba3"/><stop offset="85%" stop-color="#4d49a2"/><stop offset="100%" stop-color="#4d48a1"/></linearGradient>
<linearGradient id="h24"><stop offset="0%" stop-color="#f6ec20"/><stop offset="0.3%" stop-color="#fad229"/><stop offset="0.8%" stop-color="#e9bc2e"/><stop offset="1.5%" stop-color="#a5c146"/><stop offset="2.5%" stop-color="#55bc87"/><stop offset="3.8%" stop-color="#20b6b9"/><stop offset="5.4%" stop-color="#1ca9d4"/><stop offset="7.5%" stop-color="#2f96d2"/><stop offset="10.4%" stop-color="#4281c6"/><stop offset="14.2%" stop-color="#4871bd"/><stop offset="19.2%" stop-color="#4d64b5"/><stop offset="25%" stop-color="#4d5db1"/><stop offset="33.3%" stop-color="#4e57ac"/><stop offset="43.3%" stop-color="#4e52a9"/><stop offset="56.7%" stop-color="#4e4ea6"/><stop offset="70.8%" stop-color="#4d4ca4"/><stop offset="85%" stop-color="#4d4aa2"/><stop offset="100%" stop-color="#4d48a1"/></linearGradient>
<linearGradient id="h25"><stop offset="0%" stop-color="#f6ec20"/><stop offset="0.3%" stop-color="#fad329"/><stop offset="0.8%" stop-color="#edbb2e"/><stop offset="1.5%" stop-color="#abc142"/><stop offset="2.5%" stop-color="#5dbd80"/><stop offset="3.8%" stop-color="#25b7b5"/><stop offset="5.4%" stop-color="#19abd2"/><stop offset="7.5%" stop-color="#2c98d4"/><stop offset="10.4%" stop-color="#4084c7"/><stop offset="14.2%" stop-color="#4773be"/><stop offset="19.2%" stop-color="#4c65b6"/><stop offset="25%" stop-color="#4d5eb1"/><stop offset="33.3%" stop-color="#4e58ad"/><stop offset="43.3%" stop-color="#4e53aa"/><stop offset="56.7%" stop-color="#4e4fa6"/><stop offset="70.8%" stop-color="#4d4ca4"/><stop offset="85%" stop-color="#4d4aa3"/><stop offset="100%" stop-color="#4d49a1"/></linearGradient>
<linearGradient id="h26"><stop offset="0%" stop-color="#f6ec20"/><stop offset="0.3%" stop-color="#fad827"/><stop offset="0.8%" stop-color="#fcbc2c"/><stop offset="1.5%" stop-color="#c9c031"/><stop offset="2.5%" stop-color="#85c05b"/><stop offset="3.8%" stop-color="#40ba9c"/><stop offset="5.4%" stop-color="#17b5c1"/><stop offset="7.5%" stop-color="#1ea7d6"/><stop offset="10.4%" stop-color="#3293d1"/><stop offset="14.2%" stop-color="#4380c5"/><stop offset="19.2%" stop-color="#4870bc"/><stop offset="25%" stop-color="#4d64b6"/><stop offset="33.3%" stop-color="#4d5db0"/><stop offset="43.3%" stop-color="#4e57ad"/><stop offset="56.7%" stop-color="#4e53a9"/><stop offset="70.8%" stop-color="#4e4fa7"/><stop offset="85%" stop-color="#4e4da5"/><stop offset="100%" stop-color="#4d4ba3"/></linearGradient>
<linearGradient id="h27"><stop offset="0%" stop-color="#f6ec20"/><stop offset="0.3%" stop-color="#fad827"/><stop offset="0.8%" stop-color="#fcbd2c"/><stop offset="1.5%" stop-color="#cac031"/><stop offset="2.5%" stop-color="#86c05a"/><stop offset="3.8%" stop-color="#41ba9b"/><stop offset="5.4%" stop-color="#18b5c1"/><stop offset="7.5%" stop-color="#1da7d6"/><stop offset="10.4%" stop-color="#3193d1"/><stop offset="14.2%" stop-color="#4380c5"/><stop offset="19.2%" stop-color="#4870bc"/><stop offset="25%" stop-color="#4c65b6"/><stop offset="33.3%" stop-color="#4d5db1"/><stop offset="43.3%" stop-color="#4e57ad"/><stop offset="56.7%" stop-color="#4e53aa"/><stop offset="70.8%" stop-color="#4e4fa7"/><stop offset="85%" stop-color="#4e4da5"/><stop offset="100%" stop-color="#4d4ba3"/></linearGradient>
<linearGradient id="h28"><stop offset="0%" stop-color="#f6ec20"/><stop offset="0.3%" stop-color="#f9d927"/><stop offset="0.8%" stop-color="#fcbe2c"/><stop offset="1.5%" stop-color="#cec030"/><stop offset="2.5%" stop-color="#8bc057"/><stop offset="3.8%" stop-color="#48bb94"/><stop offset="5.4%" stop-color="#1cb6bd"/><stop offset="7.5%" stop-color="#1ba9d4"/><stop offset="10.4%" stop-color="#2f96d2"/><stop offset="14.2%" stop-color="#4282c6"/><stop offset="19.2%" stop-color="#4872bd"/><stop offset="25%" stop-color="#4c66b7"/><stop offset="33.3%" stop-color="#4d5eb1"/><stop offset="43.3%" stop-color="#4e58ad"/><stop offset="56.7%" stop-color="#4e53aa"/><stop offset="70.8%" stop-color="#4e50a7"/><stop offset="85%" stop-color="#4e4da5"/><stop offset="100%" stop-color="#4d4ba4"/></linearGradient>
<linearGradient id="h29"><stop offset="0%" stop-color="#f6ec20"/><stop offset="0.3%" stop-color="#f9d927"/><stop offset="0.8%" stop-color="#fcbf2c"/><stop offset="1.5%" stop-color="#d1bf30"/><stop offset="2.5%" stop-color="#8ec055"/><stop offset="3.8%" stop-color="#4cbb91"/><stop offset="5.4%" stop-color="#1eb6bb"/><stop offset="7.5%" stop-color="#1aaad3"/><stop offset="10.4%" stop-color="#2e97d3"/><stop offset="14.2%" stop-color="#4084c7"/><stop offset="19.2%" stop-color="#4773be"/><stop offset="25%" stop-color="#4c67b7"/><stop offset="33.3%" stop-color="#4d5eb2"/><stop offset="43.3%" stop-color="#4e58ae"/><stop offset="56.7%" stop-color="#4e54aa"/><stop offset="70.8%" stop-color="#4e50a7"/><stop offset="85%" stop-color="#4e4ea5"/><stop offset="100%" stop-color="#4d4ca4"/></linearGradient>
<linearGradient id="h30"><stop offset="0%" stop-color="#f6ec20"/><stop offset="0.3%" stop-color="#f9da27"/><stop offset="0.8%" stop-color="#fcc02c"/><stop offset="1.5%" stop-color="#d4bf30"/><stop offset="2.5%" stop-color="#93c052"/><stop offset="3.8%" stop-color="#51bc8b"/><stop offset="5.4%" stop-color="#22b6b8"/><stop offset="7.5%" stop-color="#19acd1"/><stop offset="10.4%" stop-color="#2c99d5"/><stop offset="14.2%" stop-color="#3f86c8"/><stop offset="19.2%" stop-color="#4775bf"/><stop offset="25%" stop-color="#4b68b8"/><stop offset="33.3%" stop-color="#4d5fb2"/><stop offset="43.3%" stop-color="#4e59ae"/><stop offset="56.7%" stop-color="#4e54aa"/><stop offset="70.8%" stop-color="#4e51a8"/><stop offset="85%" stop-color="#4e4ea6"/><stop offset="100%" stop-color="#4d4ca4"/></linearGradient>
<linearGradient id="h31"><stop offset="0%" stop-color="#f6ec20"/><stop offset="0.3%" stop-color="#f9db26"/><stop offset="0.8%" stop-color="#fbc32b"/><stop offset="1.5%" stop-color="#dcbe2f"/><stop offset="2.5%" stop-color="#9dc04b"/><stop offset="3.8%" stop-color="#5ebd7f"/><stop offset="5.4%" stop-color="#2ab7b1"/><stop offset="7.5%" stop-color="#15afcd"/><stop offset="10.4%" stop-color="#279ed8"/><stop offset="14.2%" stop-color="#3a8acb"/><stop offset="19.2%" stop-color="#4579c1"/><stop offset="25%" stop-color="#4a6cba"/><stop offset="33.3%" stop-color="#4d61b3"/><stop offset="43.3%" stop-color="#4d5baf"/><stop offset="56.7%" stop-color="#4e55ab"/><stop offset="70.8%" stop-color="#4e52a9"/><stop offset="85%" stop-color="#4e4fa7"/><stop offset="100%" stop-color="#4e4da5"/></linearGradient>
<linearGradient id="h32"><stop offset="0%" stop-color="#f6ec20"/><stop offset="0.3%" stop-color="#f9dc26"/><stop offset="0.8%" stop-color="#fbc52b"/><stop offset="1.5%" stop-color="#e1bd2f"/><stop offset="2.5%" stop-color="#a4c147"/><stop offset="3.8%" stop-color="#67be76"/><stop offset="5.4%" stop-color="#2fb8ac"/><stop offset="7.5%" stop-color="#12b2ca"/><stop offset="10.4%" stop-color="#24a1da"/><stop offset="14.2%" stop-color="#378dcd"/><stop offset="19.2%" stop-color="#447bc2"/><stop offset="25%" stop-color="#496ebb"/><stop offset="33.3%" stop-color="#4d62b4"/><stop offset="43.3%" stop-color="#4d5cb0"/><stop offset="56.7%" stop-color="#4e56ac"/><stop offset="70.8%" stop-color="#4e53a9"/><stop offset="85%" stop-color="#4e50a7"/><stop offset="100%" stop-color="#4e4ea5"/></linearGradient>
<linearGradient id="h33"><stop offset="0%" stop-color="#f6ec20"/><stop offset="0.3%" stop-color="#f9dc26"/><stop offset="0.8%" stop-color="#fbc52b"/><stop offset="1.5%" stop-color="#e1bd2f"/><stop offset="2.5%" stop-color="#a4c147"/><stop offset="3.8%" stop-color="#67be76"/><stop offset="5.4%" stop-color="#2fb8ac"/><stop offset="7.5%" stop-color="#12b2ca"/><stop offset="10.4%" stop-color="#24a1da"/><stop offset="14.2%" stop-color="#378dcd"/><stop offset="19.2%" stop-color="#447bc2"/><stop offset="25%" stop-color="#496ebb"/><stop offset="33.3%" stop-color="#4d62b4"/><stop offset="43.3%" stop-color="#4d5cb0"/><stop offset="56.7%" stop-color="#4e56ac"/><stop offset="70.8%" stop-color="#4e53a9"/><stop offset="85%" stop-color="#4e50a7"/><stop offset="100%" stop-color="#4e4ea5"/></linearGradient>
<linearGradient id="h34"><stop offset="0%" stop-color="#f6ec20"/><stop offset="0.3%" stop-color="#f9dc26"/><stop offset="0.8%" stop-color="#fbc62b"/><stop offset="1.5%" stop-color="#e5bc2f"/><stop offset="2.5%" stop-color="#aac143"/><stop offset="3.8%" stop-color="#6ebf6f"/><stop offset="5.4%" stop-color="#34b9a7"/><stop offset="7.5%" stop-color="#10b4c8"/><stop offset="10.4%" stop-color="#21a4da"/><stop offset="14.2%" stop-color="#3590cf"/><stop offset="19.2%" stop-color="#437ec4"/><stop offset="25%" stop-color="#4870bc"/><stop offset="33.3%" stop-color="#4d63b5"/><stop offset="43.3%" stop-color="#4d5db1"/><stop offset="56.7%" stop-color="#4e57ad"/><stop offset="70.8%" stop-color="#4e53aa"/><stop offset="85%" stop-color="#4e50a8"/><stop offset="100%" stop-color="#4e4ea6"/></linearGradient>
<linearGradient id="h35"><stop offset="0%" stop-color="#f6ec20"/><stop offset="0.3%" stop-color="#f9dd25"/><stop offset="0.8%" stop-color="#fbc72b"/><stop offset="1.5%" stop-color="#e8bc2e"/><stop offset="2.5%" stop-color="#aec140"/><stop offset="3.8%" stop-color="#73bf6a"/><stop offset="5.4%" stop-color="#37b9a4"/><stop offset="7.5%" stop-color="#13b4c5"/><stop offset="10.4%" stop-color="#1fa5d8"/><stop offset="14.2%" stop-color="#3392d0"/><stop offset="19.2%" stop-color="#437fc5"/><stop offset="25%" stop-color="#4871bd"/><stop offset="33.3%" stop-color="#4c65b6"/><stop offset="43.3%" stop-color="#4d5db1"/><stop offset="56.7%" stop-color="#4e58ad"/><stop offset="70.8%" stop-color="#4e54aa"/><stop offset="85%" stop-color="#4e51a8"/><stop offset="100%" stop-color="#4e4ea6"/></linearGradient>
<linearGradient id="h36"><stop offset="0%" stop-color="#f6ec20"/><stop offset="0.3%" stop-color="#f9de25"/><stop offset="0.8%" stop-color="#fbca2a"/><stop offset="1.5%" stop-color="#eebb2e"/><stop offset="2.5%" stop-color="#b7c13a"/><stop offset="3.8%" stop-color="#7ec060"/><stop offset="5.4%" stop-color="#3fba9d"/><stop offset="7.5%" stop-color="#1bb5be"/><stop offset="10.4%" stop-color="#1ca9d5"/><stop offset="14.2%" stop-color="#2f96d3"/><stop offset="19.2%" stop-color="#4183c7"/><stop offset="25%" stop-color="#4775bf"/><stop offset="33.3%" stop-color="#4b67b7"/><stop offset="43.3%" stop-color="#4d5fb2"/><stop offset="56.7%" stop-color="#4e59ae"/><stop offset="70.8%" stop-color="#4e55ab"/><stop offset="85%" stop-color="#4e52a9"/><stop offset="100%" stop-color="#4e4fa7"/></linearGradient>
<linearGradient id="h37"><stop offset="0%" stop-color="#f6ec20"/><stop offset="0.3%" stop-color="#f8df25"/><stop offset="0.8%" stop-color="#fbcb2a"/><stop offset="1.5%" stop-color="#f3ba2e"/><stop offset="2.5%" stop-color="#bdc136"/><stop offset="3.8%" stop-color="#86c05b"/><stop offset="5.4%" stop-color="#48bb94"/><stop offset="7.5%" stop-color="#21b6b9"/><stop offset="10.4%" stop-color="#19abd2"/><stop offset="14.2%" stop-color="#2b9ad5"/><stop offset="19.2%" stop-color="#3e86c9"/><stop offset="25%" stop-color="#4677c0"/><stop offset="33.3%" stop-color="#4b6ab9"/><stop offset="43.3%" stop-color="#4d60b3"/><stop offset="56.7%" stop-color="#4e5aaf"/><stop offset="70.8%" stop-color="#4e56ac"/><stop offset="85%" stop-color="#4e53a9"/><stop offset="100%" stop-color="#4e50a8"/></linearGradient>
<linearGradient id="h38"><stop offset="0%" stop-color="#f6ec20"/><stop offset="0.3%" stop-color="#f8e024"/><stop offset="0.8%" stop-color="#fbcf29"/><stop offset="1.5%" stop-color="#fcb92d"/><stop offset="2.5%" stop-color="#cbc031"/><stop offset="3.8%" stop-color="#96c050"/><stop offset="5.4%" stop-color="#5cbd81"/><stop offset="7.5%" stop-color="#2db8ae"/><stop offset="10.4%" stop-color="#13b1cc"/><stop offset="14.2%" stop-color="#24a1da"/><stop offset="19.2%" stop-color="#378dcd"/><stop offset="25%" stop-color="#447dc4"/><stop offset="33.3%" stop-color="#496fbb"/><stop offset="43.3%" stop-color="#4d63b5"/><stop offset="56.7%" stop-color="#4d5cb0"/><stop offset="70.8%" stop-color="#4e58ad"/><stop offset="85%" stop-color="#4e54ab"/><stop offset="100%" stop-color="#4e52a9"/></linearGradient>
<linearGradient id="h39"><stop offset="0%" stop-color="#f6ec20"/><stop offset="0.3%" stop-color="#f8e024"/><stop offset="0.8%" stop-color="#fad029"/><stop offset="1.5%" stop-color="#fcbb2d"/><stop offset="2.5%" stop-color="#d0bf30"/><stop offset="3.8%" stop-color="#9dc04c"/><stop offset="5.4%" stop-color="#64be79"/><stop offset="7.5%" stop-color="#32b8a9"/><stop offset="10.4%" stop-color="#11b3c9"/><stop offset="14.2%" stop-color="#21a4da"/><stop offset="19.2%" stop-color="#3490cf"/><stop offset="25%" stop-color="#4380c5"/><stop offset="33.3%" stop-color="#4871bd"/><stop offset="43.3%" stop-color="#4c65b6"/><stop offset="56.7%" stop-color="#4d5eb1"/><stop offset="70.8%" stop-color="#4e59ae"/><stop offset="85%" stop-color="#4e55ab"/><stop offset="100%" stop-color="#4e53a9"/></linearGradient>
<linearGradient id="h40"><stop offset="0%" stop-color="#f6ec20"/><stop offset="0.3%" stop-color="#f8e124"/><stop offset="0.8%" stop-color="#fad229"/><stop offset="1.5%" stop-color="#fcbe2c"/><stop offset="2.5%" stop-color="#d7be30"/><stop offset="3.8%" stop-color="#a5c146"/><stop offset="5.4%" stop-color="#6ebf6f"/><stop offset="7.5%" stop-color="#39b9a3"/><stop offset="10.4%" stop-color="#15b5c4"/><stop offset="14.2%" stop-color="#1ea7d7"/><stop offset="19.2%" stop-color="#3094d2"/><stop offset="25%" stop-color="#4084c7"/><stop offset="33.3%" stop-color="#4774be"/><stop offset="43.3%" stop-color="#4b68b8"/><stop offset="56.7%" stop-color="#4d5fb2"/><stop offset="70.8%" stop-color="#4e5aaf"/><stop offset="85%" stop-color="#4e56ac"/><stop offset="100%" stop-color="#4e54aa"/></linearGradient>
<linearGradient id="h41"><stop offset="0%" stop-color="#f6ec20"/><stop offset="0.3%" stop-color="#f8e224"/><stop offset="0.8%" stop-color="#fad428"/><stop offset="1.5%" stop-color="#fbc12c"/><stop offset="2.5%" stop-color="#debd2f"/><stop offset="3.8%" stop-color="#afc140"/><stop offset="5.4%" stop-color="#7bc062"/><stop offset="7.5%" stop-color="#42ba9a"/><stop offset="10.4%" stop-color="#1db6bc"/><stop offset="14.2%" stop-color="#1aabd3"/><stop offset="19.2%" stop-color="#2c99d5"/><stop offset="25%" stop-color="#3c88ca"/><stop offset="33.3%" stop-color="#4678c0"/><stop offset="43.3%" stop-color="#4a6bb9"/><stop offset="56.7%" stop-color="#4d61b3"/><stop offset="70.8%" stop-color="#4d5cb0"/><stop offset="85%" stop-color="#4e58ad"/><stop offset="100%" stop-color="#4e55ab"/></linearGradient>
<linearGradient id="h42"><stop offset="0%" stop-color="#f6ec20"/><stop offset="0.3%" stop-color="#f8e224"/><stop offset="0.8%" stop-color="#fad528"/><stop offset="1.5%" stop-color="#fbc32b"/><stop offset="2.5%" stop-color="#e3bd2f"/><stop offset="3.8%" stop-color="#b5c13c"/><stop offset="5.4%" stop-color="#81c05e"/><stop offset="7.5%" stop-color="#4abb92"/><stop offset="10.4%" stop-color="#21b6b8"/><stop offset="14.2%" stop-color="#18add0"/><stop offset="19.2%" stop-color="#299cd6"/><stop offset="25%" stop-color="#3a8bcb"/><stop offset="33.3%" stop-color="#457ac2"/><stop offset="43.3%" stop-color="#496dba"/><stop offset="56.7%" stop-color="#4d62b4"/><stop offset="70.8%" stop-color="#4d5cb0"/><stop offset="85%" stop-color="#4e59ae"/><stop offset="100%" stop-color="#4e56ac"/></linearGradient>
<linearGradient id="h43"><stop offset="0%" stop-color="#f6ec20"/><stop offset="0.3%" stop-color="#f7e722"/><stop offset="0.8%" stop-color="#f8df25"/><stop offset="1.5%" stop-color="#fad628"/><stop offset="2.5%" stop-color="#fbc72b"/><stop offset="3.8%" stop-color="#f8ba2d"/><stop offset="5.4%" stop-color="#d4bf30"/><stop offset="7.5%" stop-color="#adc141"/><stop offset="10.4%" stop-color="#7fc05f"/><stop offset="14.2%" stop-color="#4abb92"/><stop offset="19.2%" stop-color="#24b7b5"/><stop offset="25%" stop-color="#14b0cc"/><stop offset="33.3%" stop-color="#23a2da"/><stop offset="43.3%" stop-color="#3490cf"/><stop offset="56.7%" stop-color="#4380c5"/><stop offset="70.8%" stop-color="#4774be"/><stop offset="85%" stop-color="#4a6bba"/><stop offset="100%" stop-color="#4d64b6"/></linearGradient>
<linearGradient id="h44"><stop offset="0%" stop-color="#f6ec20"/><stop offset="0.3%" stop-color="#f7e921"/><stop offset="0.8%" stop-color="#f7e423"/><stop offset="1.5%" stop-color="#f8df25"/><stop offset="2.5%" stop-color="#fad628"/><stop offset="3.8%" stop-color="#fbcb2a"/><stop offset="5.4%" stop-color="#fcbe2c"/><stop offset="7.5%" stop-color="#eabc2e"/><stop offset="10.4%" stop-color="#c7c131"/><stop offset="14.2%" stop-color="#9fc04a"/><stop offset="19.2%" stop-color="#72bf6b"/><stop offset="25%" stop-color="#44bb98"/><stop offset="33.3%" stop-color="#22b6b7"/><stop offset="43.3%" stop-color="#15afcd"/><stop offset="56.7%" stop-color="#23a2da"/><stop offset="70.8%" stop-color="#3293d1"/><stop offset="85%" stop-color="#3d87c9"/><stop offset="100%" stop-color="#437ec4"/></linearGradient>
<linearGradient id="h45"><stop offset="0%" stop-color="#f6ec20"/><stop offset="0.3%" stop-color="#f7e921"/><stop offset="0.8%" stop-color="#f7e523"/><stop offset="1.5%" stop-color="#f8df25"/><stop offset="2.5%" stop-color="#fad827"/><stop offset="3.8%" stop-color="#fbcd29"/><stop offset="5.4%" stop-color="#fbc12c"/><stop offset="7.5%" stop-color="#f0bb2e"/><stop offset="10.4%" stop-color="#cfc030"/><stop offset="14.2%" stop-color="#a8c144"/><stop offset="19.2%" stop-color="#7dc060"/><stop offset="25%" stop-color="#50bc8d"/><stop offset="33.3%" stop-color="#2ab7b1"/><stop offset="43.3%" stop-color="#12b3ca"/><stop offset="56.7%" stop-color="#20a5d8"/><stop offset="70.8%" stop-color="#2d97d3"/><stop offset="85%" stop-color="#398bcc"/><stop offset="100%" stop-color="#4282c6"/></linearGradient>
<linearGradient id="h46"><stop offset="0%" stop-color="#f6ec20"/><stop offset="0.3%" stop-color="#f6e921"/><stop offset="0.8%" stop-color="#f7e522"/><stop offset="1.5%" stop-color="#f8e024"/><stop offset="2.5%" stop-color="#f9d927"/><stop offset="3.8%" stop-color="#fad029"/><stop offset="5.4%" stop-color="#fbc42b"/><stop offset="7.5%" stop-color="#f6ba2d"/><stop offset="10.4%" stop-color="#d7be30"/><stop offset="14.2%" stop-color="#b2c13d"/><stop offset="19.2%" stop-color="#88c059"/><stop offset="25%" stop-color="#5dbd80"/><stop offset="33.3%" stop-color="#32b8a9"/><stop offset="43.3%" stop-color="#15b5c4"/><stop offset="56.7%" stop-color="#1ca9d4"/><stop offset="70.8%" stop-color="#299cd7"/><stop offset="85%" stop-color="#3490cf"/><stop offset="100%" stop-color="#3e86c9"/></linearGradient>
<linearGradient id="h47"><stop offset="0%" stop-color="#f6ec20"/><stop offset="0.3%" stop-color="#f6ea21"/><stop offset="0.8%" stop-color="#f7e722"/><stop offset="1.5%" stop-color="#f8e223"/><stop offset="2.5%" stop-color="#f9dc26"/><stop offset="3.8%" stop-color="#fad528"/><stop offset="5.4%" stop-color="#fbcb2a"/><stop offset="7.5%" stop-color="#fcbf2c"/><stop offset="10.4%" stop-color="#ecbb2e"/><stop offset="14.2%" stop-color="#ccc031"/><stop offset="19.2%" stop-color="#a6c145"/><stop offset="25%" stop-color="#80c05e"/><stop offset="33.3%" stop-color="#4fbc8d"/><stop offset="43.3%" stop-color="#2cb8af"/><stop offset="56.7%" stop-color="#11b3c9"/><stop offset="70.8%" stop-color="#1ca8d5"/><stop offset="85%" stop-color="#279ed8"/><stop offset="100%" stop-color="#3193d1"/></linearGradient>
<linearGradient id="h48"><stop offset="0%" stop-color="#f6ec20"/><stop offset="0.3%" stop-color="#f6eb21"/><stop offset="0.8%" stop-color="#f7e821"/><stop offset="1.5%" stop-color="#f7e522"/><stop offset="2.5%" stop-color="#f8e124"/><stop offset="3.8%" stop-color="#f9dc26"/><stop offset="5.4%" stop-color="#fad628"/><stop offset="7.5%" stop-color="#fbcd2a"/><stop offset="10.4%" stop-color="#fbc22b"/><stop offset="14.2%" stop-color="#f4ba2e"/><stop offset="19.2%" stop-color="#d6be30"/><stop offset="25%" stop-color="#b7c13a"/><stop offset="33.3%" stop-color="#90c054"/><stop offset="43.3%" stop-color="#66be76"/><stop offset="56.7%" stop-color="#3ab9a2"/><stop offset="70.8%" stop-color="#22b6b8"/><stop offset="85%" stop-color="#11b3c9"/><stop offset="100%" stop-color="#1aabd2"/></linearGradient>
<linearGradient id="h49"><stop offset="0%" stop-color="#f6ec20"/><stop offset="0.3%" stop-color="#f6eb21"/><stop offset="0.8%" stop-color="#f7e821"/><stop offset="1.5%" stop-color="#f7e522"/><stop offset="2.5%" stop-color="#f8e124"/><stop offset="3.8%" stop-color="#f9dc26"/><stop offset="5.4%" stop-color="#fad628"/><stop offset="7.5%" stop-color="#fbcd2a"/><stop offset="10.4%" stop-color="#fbc22b"/><stop offset="14.2%" stop-color="#f4ba2e"/><stop offset="19.2%" stop-color="#d6be30"/><stop offset="25%" stop-color="#b7c13a"/><stop offset="33.3%" stop-color="#90c054"/><stop offset="43.3%" stop-color="#66be76"/><stop offset="56.7%" stop-color="#3ab9a2"/><stop offset="70.8%" stop-color="#22b6b8"/><stop offset="85%" stop-color="#11b3c9"/><stop offset="100%" stop-color="#1aabd2"/></linearGradient>
<linearGradient id="cb" x1="0" y1="1" x2="0" y2="0"><stop offset="0%" stop-color="#463b97"/><stop offset="3%" stop-color="#4d47a0"/><stop offset="7.7%" stop-color="#4e52a9"/><stop offset="16%" stop-color="#4d63b5"/><stop offset="26.5%" stop-color="#4282c6"/><stop offset="37.6%" stop-color="#22a3db"/><stop offset="46%" stop-color="#10b4c8"/><stop offset="56.5%" stop-color="#3eba9e"/><stop offset="65%" stop-color="#7cc061"/><stop offset="76%" stop-color="#c5c131"/><stop offset="84.6%" stop-color="#fcb92d"/><stop offset="93%" stop-color="#fad628"/><stop offset="100%" stop-color="#f6ec20"/></linearGradient>
</defs>
<rect x="1337.6" y="13" width="456.6" height="7" fill="url(#h0)"/>
<rect x="1337.6" y="20" width="456.6" height="7" fill="url(#h1)"/>
<rect x="1337.6" y="27" width="456.6" height="7" fill="url(#h2)"/>
<rect x="1337.6" y="34" width="456.6" height="7" fill="url(#h3)"/>
<rect x="1337.6" y="41" width="456.6" height="7" fill="url(#h4)"/>
<rect x="1337.6" y="48" width="456.6" height="7" fill="url(#h5)"/>
<rect x="1337.6" y="55" width="456.6" height="7" fill="url(#h6)"/>
<rect x="1337.6" y="62" width="456.6" height="7" fill="url(#h7)"/>
<rect x="1337.6" y="69" width="456.6" height="7" fill="url(#h8)"/>
<rect x="1337.6" y="76" width="456.6" height="7" fill="url(#h9)"/>
<rect x="1337.6" y="83" width="456.6" height="7" fill="url(#h10)"/>
<rect x="1337.6" y="90" width="456.6" height="7" fill="url(#h11)"/>
<rect x="1337.6" y="97" width="456.6" height="6" fill="url(#h12)"/>
<rect x="1337.6" y="103" width="456.6" height="7" fill="url(#h13)"/>
<rect x="1337.6" y="110" width="456.6" height="7" fill="url(#h14)"/>
<rect x="1337.6" y="117" width="456.6" height="7" fill="url(#h15)"/>
<rect x="1337.6" y="124" width="456.6" height="7" fill="url(#h16)"/>
<rect x="1337.6" y="131" width="456.6" height="7" fill="url(#h17)"/>
<rect x="1337.6" y="138" width="456.6" height="7" fill="url(#h18)"/>
<rect x="1337.6" y="145" width="456.6" height="7" fill="url(#h19)"/>
<rect x="1337.6" y="152" width="456.6" height="7" fill="url(#h20)"/>
<rect x="1337.6" y="159" width="456.6" height="7" fill="url(#h21)"/>
<rect x="1337.6" y="166" width="456.6" height="7" fill="url(#h22)"/>
<rect x="1337.6" y="173" width="456.6" height="7" fill="url(#h23)"/>
<rect x="1337.6" y="180" width="456.6" height="7" fill="url(#h24)"/>
<rect x="1337.6" y="187" width="456.6" height="7" fill="url(#h25)"/>
<rect x="1337.6" y="194" width="456.6" height="7" fill="url(#h26)"/>
<rect x="1337.6" y="201" width="456.6" height="7" fill="url(#h27)"/>
<rect x="1337.6" y="208" width="456.6" height="7" fill="url(#h28)"/>
<rect x="1337.6" y="215" width="456.6" height="6" fill="url(#h29)"/>
<rect x="1337.6" y="221" width="456.6" height="7" fill="url(#h30)"/>
<rect x="1337.6" y="228" width="456.6" height="7" fill="url(#h31)"/>
<rect x="1337.6" y="235" width="456.6" height="7" fill="url(#h32)"/>
<rect x="1337.6" y="242" width="456.6" height="7" fill="url(#h33)"/>
<rect x="1337.6" y="249" width="456.6" height="7" fill="url(#h34)"/>
<rect x="1337.6" y="256" width="456.6" height="7" fill="url(#h35)"/>
<rect x="1337.6" y="263" width="456.6" height="7" fill="url(#h36)"/>
<rect x="1337.6" y="270" width="456.6" height="7" fill="url(#h37)"/>
<rect x="1337.6" y="277" width="456.6" height="7" fill="url(#h38)"/>
<rect x="1337.6" y="284" width="456.6" height="7" fill="url(#h39)"/>
<rect x="1337.6" y="291" width="456.6" height="7" fill="url(#h40)"/>
<rect x="1337.6" y="298" width="456.6" height="7" fill="url(#h41)"/>
<rect x="1337.6" y="305" width="456.6" height="7" fill="url(#h42)"/>
<rect x="1337.6" y="312" width="456.6" height="7" fill="url(#h43)"/>
<rect x="1337.6" y="319" width="456.6" height="7" fill="url(#h44)"/>
<rect x="1337.6" y="326" width="456.6" height="7" fill="url(#h45)"/>
<rect x="1337.6" y="333" width="456.6" height="6" fill="url(#h46)"/>
<rect x="1337.6" y="339" width="456.6" height="7" fill="url(#h47)"/>
<rect x="1337.6" y="346" width="456.6" height="7" fill="url(#h48)"/>
<rect x="1337.6" y="353" width="456.6" height="7.5" fill="url(#h49)"/>
<line x1="1335.8" y1="13" x2="1335.8" y2="362.6" stroke="#000" stroke-width="3" stroke-linecap="butt"/>
<line x1="1334.3" y1="361.1" x2="1794.2" y2="361.1" stroke="#000" stroke-width="3" stroke-linecap="butt"/>
<line x1="1337.2" y1="361" x2="1337.2" y2="367" stroke="#000" stroke-width="2.8" stroke-linecap="butt"/>
<line x1="1488.9" y1="361" x2="1488.9" y2="367" stroke="#000" stroke-width="2.8" stroke-linecap="butt"/>
<line x1="1640.7" y1="361" x2="1640.7" y2="367" stroke="#000" stroke-width="2.8" stroke-linecap="butt"/>
<line x1="1792.4" y1="361" x2="1792.4" y2="367" stroke="#000" stroke-width="2.8" stroke-linecap="butt"/>
<line x1="1329.6" y1="149.3" x2="1335.8" y2="149.3" stroke="#000" stroke-width="2.8" stroke-linecap="butt"/>
<line x1="1329.6" y1="288" x2="1335.8" y2="288" stroke="#000" stroke-width="2.8" stroke-linecap="butt"/>
<text x="1337" y="393" font-size="23.6" text-anchor="middle" fill="#000">0</text>
<text x="1488.9" y="393" font-size="23.6" text-anchor="middle" fill="#000">4</text>
<text x="1640.7" y="393" font-size="23.6" text-anchor="middle" fill="#000">8</text>
<text x="1794" y="393" font-size="23.6" text-anchor="middle" fill="#000">12</text>
<text x="1322.6" y="157.5" font-size="23.6" text-anchor="end" fill="#000">20</text>
<text x="1322.6" y="296.2" font-size="23.6" text-anchor="end" fill="#000">40</text>
<text x="1578.5" y="444.5" font-size="29" text-anchor="middle" fill="#000">Time (s)</text>
<text x="1278.2" y="201.6" font-size="29" text-anchor="middle" fill="#000" transform="rotate(-90 1278.2 201.6)">Neurons</text>
<rect x="1862.9" y="64.1" width="23.6" height="180.8" fill="url(#cb)" stroke="#222" stroke-width="1.6"/>
<line x1="1881.5" y1="226.8" x2="1886.5" y2="226.8" stroke="#222" stroke-width="1.3" stroke-linecap="butt"/>
<line x1="1881.5" y1="208.7" x2="1886.5" y2="208.7" stroke="#222" stroke-width="1.3" stroke-linecap="butt"/>
<line x1="1881.5" y1="190.7" x2="1886.5" y2="190.7" stroke="#222" stroke-width="1.3" stroke-linecap="butt"/>
<line x1="1881.5" y1="172.6" x2="1886.5" y2="172.6" stroke="#222" stroke-width="1.3" stroke-linecap="butt"/>
<line x1="1881.5" y1="154.5" x2="1886.5" y2="154.5" stroke="#222" stroke-width="1.3" stroke-linecap="butt"/>
<line x1="1881.5" y1="136.4" x2="1886.5" y2="136.4" stroke="#222" stroke-width="1.3" stroke-linecap="butt"/>
<line x1="1881.5" y1="118.3" x2="1886.5" y2="118.3" stroke="#222" stroke-width="1.3" stroke-linecap="butt"/>
<line x1="1881.5" y1="100.3" x2="1886.5" y2="100.3" stroke="#222" stroke-width="1.3" stroke-linecap="butt"/>
<line x1="1881.5" y1="82.2" x2="1886.5" y2="82.2" stroke="#222" stroke-width="1.3" stroke-linecap="butt"/>
<text x="1903.5" y="79.9" font-size="27" text-anchor="start" fill="#000">1</text>
<text x="1902.3" y="252.2" font-size="27" text-anchor="start" fill="#000">0</text>
<text x="1851.6" y="153.8" font-size="29.2" text-anchor="middle" fill="#000" transform="rotate(-90 1851.6 153.8)">Relative value</text>
<clipPath id="c1"><rect x="205.8" y="520.8" width="284.6" height="283.5"/></clipPath>
<g clip-path="url(#c1)">
<path d="M209.8 490.8 210.7 490.8 211.6 490.8 212.6 490.8 213.7 490.8 215.1 490.8 216.7 517.6 218.6 607.7 220.6 667.3 222.9 700.5 225.5 721.5 228.2 742.7 231.7 762.4 235.2 775.5 239.8 785.6 244.4 791.5 250.1 795.9 255.9 797.9 262.8 798.7 269.7 798.9 278.9 798.9 288.2 799 297.4 798.9 308.9 798.9 320.4 798.8 334.3 798.8 348.1 798.7 364.2 798.6 382.7 798.4 401.1 798.3 421.9 796.9 442.6 794.8 463.3 792.3 486.4 789.1M209.8 490.8 210.7 490.8 211.6 490.8 212.6 490.8 213.7 490.8 215.1 513.5 216.7 614.1 218.6 675.9 220.6 708.5 222.9 731.7 225.5 753.9 228.2 770.3 231.7 782.6 235.2 789.4 239.8 794.9 244.4 797.5 250.1 798.7 255.9 798.9 262.8 798.9 269.7 799 278.9 798.9 288.2 798.9 297.4 798.8 308.9 798.8 320.4 798.7 334.3 798.5 348.1 798.4 364.2 798.2 382.7 797.9 401.1 797.3 421.9 795.5 442.6 793.1 463.3 790.7 486.4 788.7M209.8 490.8 210.7 490.8 211.6 490.8 212.6 490.8 213.7 490.8 215.1 490.8 216.7 531 218.6 619 220.6 674.2 222.9 704.9 225.5 725.6 228.2 746.9 231.7 765.7 235.2 777.9 239.8 787.1 244.4 792.6 250.1 796.5 255.9 798.2 262.8 798.8 269.7 798.9 278.9 799 288.2 799 297.4 798.9 308.9 798.9 320.4 798.8 334.3 798.8 348.1 798.7 364.2 798.6 382.7 798.4 401.1 798.2 421.9 796.7 442.6 794.5 463.3 791.8 486.4 788.4M209.8 490.8 210.7 490.8 211.6 490.8 212.6 490.8 213.7 490.8 215.1 490.8 216.7 490.8 218.6 539.9 220.6 618.5 222.9 669.9 225.5 700 228.2 719.5 231.7 741.6 235.2 758.9 239.8 774.5 244.4 783.7 250.1 790.5 255.9 794.8 262.8 797.4 269.7 798.5 278.9 798.8 288.2 798.9 297.4 799 308.9 799 320.4 798.9 334.3 798.9 348.1 798.8 364.2 798.7 382.7 798.7 401.1 798.6 421.9 797.4 442.6 795.6 463.3 793.6 486.4 791.1M209.8 490.8 210.7 490.8 211.6 490.8 212.6 490.8 213.7 490.8 215.1 490.8 216.7 558.7 218.6 640.7 220.6 687 222.9 713.3 225.5 735 228.2 755.1 231.7 772.1 235.2 782.3 239.8 790 244.4 794.7 250.1 797.6 255.9 798.6 262.8 798.9 269.7 798.9 278.9 799 288.2 799 297.4 798.9 308.9 798.8 320.4 798.8 334.3 798.7 348.1 798.6 364.2 798.5 382.7 798.3 401.1 798 421.9 796 442.6 792.9 463.3 789.4 486.4 785M209.8 490.8 210.7 490.8 211.6 490.8 212.6 490.8 213.7 490.8 215.1 490.8 216.7 490.8 218.6 512.5 220.6 594.6 222.9 654.6 225.5 689.6 228.2 711.6 231.7 732.5 235.2 751.1 239.8 768.6 244.4 779.7 250.1 787.7 255.9 792.8 262.8 796.4 269.7 798 278.9 798.8 288.2 798.9 297.4 798.9 308.9 799 320.4 799 334.3 798.9 348.1 798.9 364.2 798.8 382.7 798.7 401.1 798.6 421.9 797.9 442.6 796.8 463.3 795.6 486.4 794.1M209.8 490.8 210.7 490.8 211.6 490.8 212.6 490.8 213.7 490.8 215.1 490.8 216.7 490.8 218.6 511.4 220.6 593.6 222.9 653.9 225.5 689.2 228.2 711.3 231.7 732.1 235.2 750.8 239.8 768.4 244.4 779.6 250.1 787.6 255.9 792.7 262.8 796.3 269.7 798 278.9 798.8 288.2 798.9 297.4 798.9 308.9 799 320.4 799 334.3 798.9 348.1 798.9 364.2 798.8 382.7 798.7 401.1 798.6 421.9 796.8 442.6 794.3 463.3 791.3 486.4 787.5M209.8 490.8 210.7 490.8 211.6 490.8 212.6 490.8 213.7 490.8 215.1 490.8 216.7 572 218.6 650.2 220.6 692.6 222.9 717.2 225.5 739.6 228.2 758.9 231.7 774.9 235.2 784.2 239.8 791.3 244.4 795.5 250.1 798 255.9 798.7 262.8 798.9 269.7 798.9 278.9 799 288.2 798.9 297.4 798.9 308.9 798.8 320.4 798.8 334.3 798.7 348.1 798.6 364.2 798.4 382.7 798.2 401.1 797.9 421.9 797.3 442.6 796.4 463.3 795.4 486.4 794.3M209.8 490.8 210.7 490.8 211.6 490.8 212.6 490.8 213.7 490.8 215.1 524.4 216.7 623.1 218.6 681.1 220.6 711.7 222.9 735.3 225.5 756.9 228.2 772.7 231.7 784.1 235.2 790.4 239.8 795.6 244.4 797.9 250.1 798.8 255.9 798.9 262.8 799 269.7 799 278.9 798.9 288.2 798.9 297.4 798.8 308.9 798.7 320.4 798.6 334.3 798.5 348.1 798.3 364.2 798.1 382.7 797.7 401.1 797.1 421.9 794.2 442.6 790.3 463.3 786.4 486.4 782.2M209.8 490.8 210.7 490.8 211.6 490.8 212.6 490.8 213.7 490.8 215.1 490.8 216.7 563.8 218.6 644.4 220.6 689.2 222.9 714.8 225.5 736.8 228.2 756.6 231.7 773.2 235.2 783.1 239.8 790.5 244.4 795 250.1 797.7 255.9 798.7 262.8 798.9 269.7 798.9 278.9 799 288.2 798.9 297.4 798.9 308.9 798.8 320.4 798.8 334.3 798.7 348.1 798.6 364.2 798.4 382.7 798.2 401.1 798 421.9 796.3 442.6 793.7 463.3 790.7 486.4 787.1M209.8 490.8 210.7 490.8 211.6 490.8 212.6 490.8 213.7 490.8 215.1 490.8 216.7 490.8 218.6 531.9 220.6 611.7 222.9 665.7 225.5 697.1 228.2 717.2 231.7 739 235.2 756.7 239.8 772.9 244.4 782.7 250.1 789.7 255.9 794.3 262.8 797.2 269.7 798.4 278.9 798.8 288.2 798.9 297.4 799 308.9 799 320.4 798.9 334.3 798.9 348.1 798.8 364.2 798.8 382.7 798.7 401.1 798.6 421.9 798.4 442.6 798.2 463.3 798 486.4 797.6M209.8 490.8 210.7 490.8 211.6 490.8 212.6 490.8 213.7 490.8 215.1 490.8 216.7 535.9 218.6 623 220.6 676.5 222.9 706.5 225.5 727.2 228.2 748.3 231.7 766.9 235.2 778.8 239.8 787.6 244.4 793 250.1 796.7 255.9 798.3 262.8 798.8 269.7 798.9 278.9 799 288.2 799 297.4 798.9 308.9 798.9 320.4 798.8 334.3 798.7 348.1 798.7 364.2 798.5 382.7 798.4 401.1 798.2 421.9 797.8 442.6 797.1 463.3 796.2 486.4 795.1M209.8 490.8 210.7 490.8 211.6 490.8 212.6 490.8 213.7 490.8 215.1 490.8 216.7 490.8 218.6 541.6 220.6 619.9 222.9 670.7 225.5 700.5 228.2 720 231.7 742.1 235.2 759.3 239.8 774.8 244.4 784 250.1 790.6 255.9 794.9 262.8 797.5 269.7 798.5 278.9 798.8 288.2 798.9 297.4 799 308.9 799 320.4 798.9 334.3 798.9 348.1 798.8 364.2 798.7 382.7 798.7 401.1 798.5 421.9 797.9 442.6 797 463.3 795.9 486.4 794.6M209.8 490.8 210.7 490.8 211.6 490.8 212.6 490.8 213.7 490.8 215.1 490.8 216.7 490.8 218.6 493.1 220.6 575.4 222.9 640.7 225.5 680.7 228.2 705.4 231.7 725.5 235.2 744.8 239.8 763.6 244.4 776.2 250.1 785.4 255.9 791 262.8 795.3 269.7 797.5 278.9 798.6 288.2 798.8 297.4 798.9 308.9 799 320.4 799 334.3 798.9 348.1 798.9 364.2 798.8 382.7 798.8 401.1 798.7 421.9 797.6 442.6 796.1 463.3 794.3 486.4 792.1M209.8 490.8 210.7 490.8 211.6 490.8 212.6 490.8 213.7 490.8 215.1 490.8 216.7 514.7 218.6 605.1 220.6 665.7 222.9 699.5 225.5 720.7 228.2 741.7 231.7 761.7 235.2 774.9 239.8 785.2 244.4 791.2 250.1 795.7 255.9 797.8 262.8 798.7 269.7 798.9 278.9 798.9 288.2 799 297.4 799 308.9 798.9 320.4 798.8 334.3 798.8 348.1 798.7 364.2 798.6 382.7 798.5 401.1 798.3 421.9 796.3 442.6 793.4 463.3 789.9 486.4 785.5M209.8 490.8 210.7 490.8 211.6 490.8 212.6 490.8 213.7 490.8 215.1 490.8 216.7 533.7 218.6 621.2 220.6 675.5 222.9 705.8 225.5 726.5 228.2 747.7 231.7 766.4 235.2 778.4 239.8 787.4 244.4 792.9 250.1 796.7 255.9 798.3 262.8 798.8 269.7 798.9 278.9 799 288.2 799 297.4 798.9 308.9 798.9 320.4 798.8 334.3 798.7 348.1 798.7 364.2 798.5 382.7 798.4 401.1 798.2 421.9 796.6 442.6 794.2 463.3 791.3 486.4 787.6M209.8 490.8 210.7 490.8 211.6 490.8 212.6 490.8 213.7 490.8 215.1 490.8 216.7 529.1 218.6 617.4 220.6 673.2 222.9 704.3 225.5 725 228.2 746.3 231.7 765.3 235.2 777.6 239.8 786.9 244.4 792.5 250.1 796.5 255.9 798.2 262.8 798.8 269.7 798.9 278.9 799 288.2 799 297.4 798.9 308.9 798.9 320.4 798.8 334.3 798.8 348.1 798.7 364.2 798.6 382.7 798.4 401.1 798.2 421.9 796.6 442.6 794.2 463.3 791.2 486.4 787.5M209.8 490.8 210.7 490.8 211.6 490.8 212.6 490.8 213.7 490.8 215.1 490.8 216.7 518.8 218.6 608.7 220.6 667.9 222.9 700.9 225.5 721.9 228.2 743.1 231.7 762.7 235.2 775.7 239.8 785.7 244.4 791.6 250.1 796 255.9 797.9 262.8 798.7 269.7 798.9 278.9 799 288.2 799 297.4 798.9 308.9 798.9 320.4 798.8 334.3 798.8 348.1 798.7 364.2 798.6 382.7 798.4 401.1 798.3 421.9 797.4 442.6 796.2 463.3 794.7 486.4 792.7M209.8 490.8 210.7 490.8 211.6 490.8 212.6 490.8 213.7 490.8 215.1 527.2 216.7 625.4 218.6 682.4 220.6 712.5 222.9 736.3 225.5 757.7 228.2 773.3 231.7 784.4 235.2 790.7 239.8 795.7 244.4 797.9 250.1 798.8 255.9 798.9 262.8 799 269.7 799 278.9 798.9 288.2 798.9 297.4 798.8 308.9 798.7 320.4 798.6 334.3 798.5 348.1 798.3 364.2 798.1 382.7 797.7 401.1 797 421.9 794 442.6 790 463.3 786.2 486.4 781.8M209.8 490.8 210.7 490.8 211.6 490.8 212.6 490.8 213.7 490.8 215.1 498.1 216.7 599.9 218.6 667.7 220.6 703.4 222.9 726.2 225.5 749.1 228.2 766.6 231.7 780.2 235.2 787.7 239.8 793.8 244.4 797 250.1 798.5 255.9 798.8 262.8 798.9 269.7 799 278.9 799 288.2 798.9 297.4 798.8 308.9 798.8 320.4 798.7 334.3 798.6 348.1 798.5 364.2 798.3 382.7 798 401.1 797.6 421.9 795.4 442.6 792.3 463.3 788.9 486.4 785.5M209.8 490.8 210.7 490.8 211.6 490.8 212.6 490.8 213.7 490.8 215.1 490.8 216.7 490.8 218.6 575.6 220.6 646.4 222.9 687.1 225.5 711.5 228.2 731 231.7 752.8 235.2 768.1 239.8 780.9 244.4 788 250.1 793.7 255.9 796.7 262.8 798.3 269.7 798.8 278.9 798.9 288.2 799 297.4 799 308.9 798.9 320.4 798.9 334.3 798.8 348.1 798.8 364.2 798.7 382.7 798.6 401.1 798.4 421.9 797.8 442.6 796.9 463.3 795.7 486.4 794.2M209.8 490.8 210.7 490.8 211.6 490.8 212.6 490.8 213.7 490.8 215.1 490.8 216.7 490.8 218.6 568.9 220.6 641.4 222.9 684.1 225.5 709.4 228.2 728.6 231.7 750.7 235.2 766.4 239.8 779.8 244.4 787.2 250.1 793.1 255.9 796.4 262.8 798.2 269.7 798.8 278.9 798.9 288.2 799 297.4 799 308.9 798.9 320.4 798.9 334.3 798.8 348.1 798.8 364.2 798.7 382.7 798.6 401.1 798.4 421.9 798.1 442.6 797.7 463.3 797.2 486.4 796.3M209.8 490.8 210.7 490.8 211.6 490.8 212.6 490.8 213.7 490.8 215.1 490.8 216.7 586.4 218.6 659.5 220.6 698.3 222.9 721.6 225.5 744.5 228.2 762.9 231.7 777.7 235.2 786 239.8 792.6 244.4 796.3 250.1 798.3 255.9 798.8 262.8 798.9 269.7 799 278.9 799 288.2 798.9 297.4 798.9 308.9 798.8 320.4 798.7 334.3 798.6 348.1 798.5 364.2 798.3 382.7 798.1 401.1 797.8 421.9 796.3 442.6 794.3 463.3 791.9 486.4 789.5M209.8 490.8 210.7 490.8 211.6 490.8 212.6 490.8 213.7 490.8 215.1 499.3 216.7 601.1 218.6 668.3 220.6 703.8 222.9 726.6 225.5 749.4 228.2 766.9 231.7 780.4 235.2 787.8 239.8 793.9 244.4 797 250.1 798.5 255.9 798.8 262.8 798.9 269.7 799 278.9 799 288.2 798.9 297.4 798.8 308.9 798.8 320.4 798.7 334.3 798.6 348.1 798.5 364.2 798.3 382.7 798 401.1 797.6 421.9 796 442.6 793.9 463.3 791.6 486.4 789.7M209.8 490.8 210.7 490.8 211.6 490.8 212.6 490.8 213.7 490.8 215.1 519.9 216.7 619.4 218.6 679 220.6 710.4 222.9 733.8 225.5 755.7 228.2 771.7 231.7 783.5 235.2 790 239.8 795.3 244.4 797.7 250.1 798.7 255.9 798.9 262.8 799 269.7 799 278.9 798.9 288.2 798.9 297.4 798.8 308.9 798.7 320.4 798.7 334.3 798.5 348.1 798.4 364.2 798.1 382.7 797.8 401.1 797.2 421.9 794.5 442.6 791 463.3 787.4 486.4 783.7M209.8 490.8 210.7 490.8 211.6 490.8 212.6 490.8 213.7 490.8 215.1 490.8 216.7 490.8 218.6 490.8 220.6 565.9 222.9 633.4 225.5 676 228.2 702.2 231.7 722.5 235.2 741.6 239.8 761.1 244.4 774.2 250.1 784.2 255.9 790 262.8 794.6 269.7 797.1 278.9 798.5 288.2 798.8 297.4 798.9 308.9 799 320.4 799 334.3 798.9 348.1 798.9 364.2 798.8 382.7 798.8 401.1 798.7 421.9 798.2 442.6 797.4 463.3 796.5 486.4 795.5M209.8 490.8 210.7 490.8 211.6 490.8 212.6 490.8 213.7 490.8 215.1 511 216.7 611.9 218.6 674.6 220.6 707.7 222.9 730.8 225.5 753.1 228.2 769.7 231.7 782.2 235.2 789.1 239.8 794.8 244.4 797.5 250.1 798.7 255.9 798.9 262.8 798.9 269.7 799 278.9 798.9 288.2 798.9 297.4 798.8 308.9 798.8 320.4 798.7 334.3 798.6 348.1 798.4 364.2 798.2 382.7 797.9 401.1 797.4 421.9 795.5 442.6 793.1 463.3 790.7 486.4 788.6M209.8 490.8 210.7 490.8 211.6 490.8 212.6 490.8 213.7 490.8 215.1 524 216.7 622.8 218.6 680.9 220.6 711.6 222.9 735.2 225.5 756.8 228.2 772.6 231.7 784 235.2 790.4 239.8 795.6 244.4 797.8 250.1 798.8 255.9 798.9 262.8 799 269.7 799 278.9 798.9 288.2 798.9 297.4 798.8 308.9 798.7 320.4 798.6 334.3 798.5 348.1 798.3 364.2 798.1 382.7 797.7 401.1 797.1 421.9 795.4 442.6 793.1 463.3 791.3 486.4 789.6M209.8 490.8 210.7 490.8 211.6 490.8 212.6 490.8 213.7 490.8 215.1 490.8 216.7 490.8 218.6 506.1 220.6 588.5 222.9 650.3 225.5 686.9 228.2 709.7 231.7 730.2 235.2 749.1 239.8 767 244.4 778.6 250.1 787 255.9 792.2 262.8 796 269.7 797.9 278.9 798.7 288.2 798.9 297.4 798.9 308.9 799 320.4 799 334.3 798.9 348.1 798.9 364.2 798.8 382.7 798.7 401.1 798.6 421.9 797.2 442.6 795.2 463.3 792.8 486.4 789.9M209.8 490.8 210.7 490.8 211.6 490.8 212.6 490.8 213.7 490.8 215.1 490.8 216.7 588.7 218.6 660.9 220.6 699.2 222.9 722.3 225.5 745.3 228.2 763.6 231.7 778.1 235.2 786.3 239.8 792.9 244.4 796.5 250.1 798.3 255.9 798.8 262.8 798.9 269.7 799 278.9 799 288.2 798.9 297.4 798.9 308.9 798.8 320.4 798.7 334.3 798.6 348.1 798.5 364.2 798.3 382.7 798.1 401.1 797.7 421.9 796.5 442.6 794.9 463.3 793 486.4 791.2M209.8 490.8 210.7 490.8 211.6 490.8 212.6 490.8 213.7 490.8 215.1 490.8 216.7 490.8 218.6 510.3 220.6 592.6 222.9 653.2 225.5 688.7 228.2 711 231.7 731.7 235.2 750.4 239.8 768.1 244.4 779.4 250.1 787.5 255.9 792.6 262.8 796.3 269.7 798 278.9 798.8 288.2 798.9 297.4 798.9 308.9 799 320.4 799 334.3 798.9 348.1 798.9 364.2 798.8 382.7 798.7 401.1 798.6 421.9 797.8 442.6 796.7 463.3 795.4 486.4 793.7M209.8 490.8 210.7 490.8 211.6 490.8 212.6 490.8 213.7 490.8 215.1 521 216.7 620.4 218.6 679.5 220.6 710.7 222.9 734.2 225.5 756 228.2 772 231.7 783.6 235.2 790.1 239.8 795.4 244.4 797.8 250.1 798.7 255.9 798.9 262.8 799 269.7 799 278.9 798.9 288.2 798.9 297.4 798.8 308.9 798.7 320.4 798.7 334.3 798.5 348.1 798.4 364.2 798.1 382.7 797.8 401.1 797.2 421.9 794.7 442.6 791.4 463.3 788.2 486.4 784.9M209.8 490.8 210.7 490.8 211.6 490.8 212.6 490.8 213.7 490.8 215.1 490.8 216.7 490.8 218.6 519.8 220.6 601.3 222.9 659 225.5 692.6 228.2 713.8 231.7 735 235.2 753.3 239.8 770.3 244.4 780.9 250.1 788.5 255.9 793.4 262.8 796.7 269.7 798.2 278.9 798.8 288.2 798.9 297.4 799 308.9 799 320.4 798.9 334.3 798.9 348.1 798.8 364.2 798.8 382.7 798.7 401.1 798.6 421.9 798 442.6 797.1 463.3 796 486.4 794.7M209.8 490.8 210.7 490.8 211.6 490.8 212.6 490.8 213.7 490.8 215.1 490.8 216.7 490.8 218.6 514.6 220.6 596.5 222.9 655.9 225.5 690.5 228.2 712.3 231.7 733.2 235.2 751.7 239.8 769.1 244.4 780.1 250.1 787.9 255.9 793 262.8 796.5 269.7 798.1 278.9 798.8 288.2 798.9 297.4 798.9 308.9 799 320.4 799 334.3 798.9 348.1 798.9 364.2 798.8 382.7 798.7 401.1 798.6 421.9 798.4 442.6 798 463.3 797.7 486.4 797.2M209.8 490.8 210.7 490.8 211.6 490.8 212.6 490.8 213.7 490.8 215.1 490.8 216.7 592.1 218.6 663 220.6 700.5 222.9 723.5 225.5 746.4 228.2 764.5 231.7 778.8 235.2 786.7 239.8 793.2 244.4 796.6 250.1 798.4 255.9 798.8 262.8 798.9 269.7 799 278.9 799 288.2 798.9 297.4 798.9 308.9 798.8 320.4 798.7 334.3 798.6 348.1 798.5 364.2 798.3 382.7 798.1 401.1 797.7 421.9 796.6 442.6 795.2 463.3 793.7 486.4 792.4M209.8 490.8 210.7 490.8 211.6 490.8 212.6 490.8 213.7 490.8 215.1 490.8 216.7 543 218.6 628.7 220.6 679.9 222.9 708.6 225.5 729.6 228.2 750.5 231.7 768.6 235.2 779.9 239.8 788.4 244.4 793.6 250.1 797 255.9 798.4 262.8 798.8 269.7 798.9 278.9 799 288.2 799 297.4 798.9 308.9 798.9 320.4 798.8 334.3 798.7 348.1 798.6 364.2 798.5 382.7 798.3 401.1 798.1 421.9 796.9 442.6 795 463.3 792.7 486.4 789.9" fill="none" stroke="#edcbe4" stroke-width="1" stroke-linejoin="round"/>
<path d="M209.8 490.8 209.8 490.8 209.9 490.8 210.1 490.8 210.3 490.8 210.5 490.8 210.8 490.8 211.1 490.8 211.4 490.8 211.8 490.8 212.2 490.8 212.6 490.8 213.1 490.8 213.6 490.8 214.2 490.8 214.8 490.8 215.4 493.4 216 535.5 216.7 575.5 217.4 610.6 218.1 639.9 218.9 662.2 219.7 679.2 220.5 692.8 221.4 703.7 222.2 712.5 223.2 720.5 224.1 729 225.1 737.8 226.1 745.8 227.1 753.1 228.1 759.7 229.2 765.5 230.3 770.6 231.5 775 232.6 778.7 233.8 781.9 235 784.5 236.3 786.8 237.5 788.7 238.8 790.6 240.1 792.2 241.5 793.6 242.8 794.8 244.2 795.7 245.7 796.5 247.1 797.2 248.6 797.7 250.1 798.1 251.6 798.4 253.1 798.6 254.7 798.7 256.3 798.8 257.9 798.8 259.6 798.8 261.3 798.9 263 798.9 264.7 798.9 266.4 798.9 268.2 798.9 270 799 271.8 799 273.6 799 275.5 799 277.4 799 279.3 799 281.2 799 283.2 799 285.2 798.9 287.2 798.9 289.2 798.9 291.3 798.9 293.4 798.9 295.5 798.9 297.6 798.9 299.7 798.9 301.9 798.9 304.1 798.8 306.3 798.8 308.6 798.8 310.8 798.8 313.1 798.8 315.4 798.8 317.7 798.8 320.1 798.8 322.5 798.7 324.9 798.7 327.3 798.7 329.7 798.7 332.2 798.7 334.7 798.7 337.2 798.6 339.7 798.6 342.3 798.6 344.8 798.6 347.4 798.5 350.1 798.5 352.7 798.5 355.4 798.5 358 798.4 360.7 798.4 363.5 798.4 366.2 798.4 369 798.3 371.8 798.3 374.6 798.3 377.4 798.2 380.3 798.2 383.2 798.2 386.1 798.1 389 798.1 391.9 798 394.9 798 397.9 797.9 400.9 797.9 403.9 797.8 407 797.7 410 797.7 413.1 797.6 416.2 797.5 419.4 797.4 422.5 797.3 425.7 797.2 428.9 797.1 432.1 797 435.4 796.8 438.6 796.7 441.9 796.6 445.2 796.4 448.5 796.3 451.9 796.2 455.2 796 458.6 795.9 462 795.7 465.4 795.6 468.9 795.4 472.3 795.3 475.8 795.1 479.3 795 482.9 794.8 486.4 794.7" fill="none" stroke="#b5509f" stroke-width="8.2" stroke-linejoin="round" stroke-linecap="butt"/>
</g>
<line x1="223.6" y1="521" x2="223.6" y2="798.3" stroke="#b5509f" stroke-width="2" stroke-linecap="butt"/>
<line x1="209.8" y1="519.8" x2="209.8" y2="799.7" stroke="#000" stroke-width="2.8" stroke-linecap="butt"/>
<line x1="205.8" y1="798.3" x2="487.6" y2="798.3" stroke="#000" stroke-width="2.8" stroke-linecap="butt"/>
<line x1="209.8" y1="798.3" x2="209.8" y2="803" stroke="#000" stroke-width="2.2" stroke-linecap="butt"/>
<line x1="302" y1="798.3" x2="302" y2="803" stroke="#000" stroke-width="2.2" stroke-linecap="butt"/>
<line x1="394.2" y1="798.3" x2="394.2" y2="803" stroke="#000" stroke-width="2.2" stroke-linecap="butt"/>
<line x1="486.4" y1="798.3" x2="486.4" y2="803" stroke="#000" stroke-width="2.2" stroke-linecap="butt"/>
<line x1="205.3" y1="521.3" x2="209.8" y2="521.3" stroke="#000" stroke-width="2" stroke-linecap="butt"/>
<text x="193.4" y="535.2" font-size="28.3" text-anchor="end" fill="#000">0.1</text>
<line x1="205.3" y1="659.6" x2="209.8" y2="659.6" stroke="#000" stroke-width="2" stroke-linecap="butt"/>
<text x="193.4" y="674.6" font-size="28.3" text-anchor="end" fill="#000">0.05</text>
<line x1="205.3" y1="798.3" x2="209.8" y2="798.3" stroke="#000" stroke-width="2" stroke-linecap="butt"/>
<text x="193.4" y="810.9" font-size="28.3" text-anchor="end" fill="#000">0</text>
<text x="205.8" y="833.6" font-size="28.3" text-anchor="middle" fill="#000">0</text>
<text x="297.4" y="833.6" font-size="28.3" text-anchor="middle" fill="#000">4</text>
<text x="389.6" y="833.6" font-size="28.3" text-anchor="middle" fill="#000">8</text>
<text x="481.6" y="833.6" font-size="28.3" text-anchor="middle" fill="#000">12</text>
<text x="355.3" y="867.6" font-size="29" text-anchor="middle" fill="#000">Time (s)</text>
<text x="297.9" y="513.6" font-size="40.04" text-anchor="start" fill="#b5509f" font-family='"Liberation Serif", "DejaVu Serif", serif' font-style="italic">t</text>
<text transform='translate(323.9 513.6) scale(1.36 1)' font-size='38.5' fill='#b5509f' font-family='"Liberation Serif", "DejaVu Serif", serif'>=</text>
<text x="373.8" y="513.6" font-size="38.5" text-anchor="middle" fill="#b5509f" font-family='"Liberation Serif", "DejaVu Serif", serif'>0</text>
<text x="388.8" y="513.6" font-size="40.04" text-anchor="middle" fill="#b5509f" font-family='"Liberation Serif", "DejaVu Serif", serif'>.</text>
<text x="403.7" y="513.6" font-size="38.5" text-anchor="middle" fill="#b5509f" font-family='"Liberation Serif", "DejaVu Serif", serif'>6</text>
<text x="414.7" y="513.6" font-size="40.81" text-anchor="start" fill="#b5509f" font-family='"Liberation Serif", "DejaVu Serif", serif' font-style="italic">s</text>
<text x="113" y="660.3" font-size="29" text-anchor="middle" fill="#000" transform="rotate(-90 113 660.3)">E(reward | time)</text>
<clipPath id="c2"><rect x="644.1" y="520.8" width="285.5" height="283.5"/></clipPath>
<g clip-path="url(#c2)">
<path d="M648.1 490.8 649 490.8 650 490.8 650.9 490.8 652 490.8 653.4 506.5 655 530.5 656.9 555.4 659 580.7 661.3 605.8 663.8 630 666.6 652.9 670.1 677.3 673.5 697.6 678.2 719.4 682.8 736.5 688.6 752.8 694.4 764.8 701.3 775.1 708.2 782.2 717.5 788.4 726.7 792.2 736 794.6 747.5 796.3 759.1 797.2 773 797.7 786.9 797.7 803 797.4 821.5 796.8 840 796.1 860.9 795.5 881.7 795.3 902.5 795.3 925.6 795.3M648.1 490.8 649 490.8 650 490.8 650.9 490.8 652 492.1 653.4 508.6 655 526.8 656.9 546.1 659 566.3 661.3 586.8 663.8 607.2 666.6 627.3 670.1 649.5 673.5 668.7 678.2 690.6 682.8 708.8 688.6 727.3 694.4 741.9 701.3 755.6 708.2 765.9 717.5 776 726.7 782.9 736 787.6 747.5 791.6 759.1 794.1 773 795.8 786.9 796.7 803 797.1 821.5 797.1 840 796.9 860.9 796.7 881.7 796.6 902.5 796.6 925.6 796.6M648.1 490.8 649 490.8 650 490.8 650.9 490.8 652 501.7 653.4 523.8 655 547.6 656.9 572.2 659 597 661.3 621.4 663.8 644.9 666.6 666.9 670.1 690.1 673.5 709.2 678.2 729.5 682.8 745.2 688.6 759.8 694.4 770.5 701.3 779.4 708.2 785.5 717.5 790.7 726.7 793.7 736 795.6 747.5 796.9 759.1 797.6 773 797.9 786.9 797.8 803 797.4 821.5 796.7 840 796 860.9 795.4 881.7 795.2 902.5 795.2 925.6 795.2M648.1 490.8 649 490.8 650 490.8 650.9 490.8 652 490.8 653.4 495.3 655 519.2 656.9 544.3 659 569.8 661.3 595.2 663.8 619.8 666.6 643.3 670.1 668.4 673.5 689.4 678.2 712.3 682.8 730.3 688.6 747.6 694.4 760.5 701.3 771.8 708.2 779.7 717.5 786.7 726.7 791 736 793.8 747.5 795.8 759.1 796.9 773 797.6 786.9 797.7 803 797.4 821.5 796.8 840 796.1 860.9 795.6 881.7 795.4 902.5 795.4 925.6 795.4M648.1 490.8 649 490.8 650 490.8 650.9 490.8 652 502 653.4 521.3 655 542.2 656.9 564.2 659 586.7 661.3 609.2 663.8 631.1 666.6 652.2 670.1 674.8 673.5 694 678.2 714.9 682.8 731.7 688.6 748 694.4 760.3 701.3 771.2 708.2 778.9 717.5 785.9 726.7 790.4 736 793.3 747.5 795.4 759.1 796.7 773 797.5 786.9 797.8 803 797.9 821.5 797.9 840 797.7 860.9 797.6 881.7 797.6 902.5 797.6 925.6 797.6M648.1 490.8 649 490.8 650 490.8 650.9 490.8 652 490.8 653.4 490.8 655 490.8 656.9 503.1 659 527.3 661.3 551.7 663.8 576.1 666.6 600 670.1 626.3 673.5 649 678.2 674.8 682.8 696.1 688.6 717.7 694.4 734.7 701.3 750.4 708.2 762.2 717.5 773.6 726.7 781.4 736 786.7 747.5 791.1 759.1 793.8 773 795.7 786.9 796.5 803 796.6 821.5 796.1 840 795.5 860.9 794.8 881.7 794.6 902.5 794.7 925.6 794.7M648.1 490.8 649 490.8 650 490.8 650.9 494.3 652 512.5 653.4 532.9 655 554.9 656.9 577.8 659 601 661.3 624 663.8 646.1 666.6 667.1 670.1 689.3 673.5 707.8 678.2 727.6 682.8 743.1 688.6 757.8 694.4 768.5 701.3 777.8 708.2 784.1 717.5 789.7 726.7 793 736 795.1 747.5 796.6 759.1 797.4 773 797.8 786.9 797.9 803 797.8 821.5 797.5 840 797.2 860.9 796.9 881.7 796.8 902.5 796.8 925.6 796.8M648.1 490.8 649 490.8 650 490.8 650.9 490.8 652 493.6 653.4 516.6 655 541.2 656.9 566.7 659 592.4 661.3 617.7 663.8 641.9 666.6 664.6 670.1 688.4 673.5 708 678.2 728.8 682.8 744.8 688.6 759.7 694.4 770.5 701.3 779.5 708.2 785.6 717.5 790.8 726.7 793.8 736 795.7 747.5 796.9 759.1 797.6 773 798 786.9 798.1 803 798.2 821.5 798.2 840 798.2 860.9 798.2 881.7 798.2 902.5 798.2 925.6 798.2M648.1 490.8 649 490.8 650 490.8 650.9 499.1 652 518.5 653.4 540.1 655 563.2 656.9 587.2 659 611.2 661.3 634.6 663.8 657.1 666.6 678.1 670.1 700 673.5 717.9 678.2 736.8 682.8 751.3 688.6 764.7 694.4 774.2 701.3 782.2 708.2 787.5 717.5 792 726.7 794.6 736 796.1 747.5 797.2 759.1 797.7 773 798 786.9 798 803 797.6 821.5 797.2 840 796.6 860.9 796.2 881.7 796 902.5 796 925.6 796M648.1 490.8 649 490.8 650 490.8 650.9 498.1 652 518 653.4 540.2 655 563.9 656.9 588.3 659 612.7 661.3 636.5 663.8 659.2 666.6 680.4 670.1 702.3 673.5 720.2 678.2 739 682.8 753.2 688.6 766.3 694.4 775.6 701.3 783.3 708.2 788.4 717.5 792.6 726.7 795 736 796.4 747.5 797.3 759.1 797.8 773 798 786.9 797.8 803 797.1 821.5 796.2 840 795.2 860.9 794.4 881.7 794.1 902.5 794.1 925.6 794.1M648.1 490.8 649 490.8 650 490.8 650.9 490.8 652 503.9 653.4 522.9 655 543.6 656.9 565.3 659 587.6 661.3 609.8 663.8 631.5 666.6 652.4 670.1 674.9 673.5 693.9 678.2 714.8 682.8 731.4 688.6 747.7 694.4 760 701.3 770.9 708.2 778.7 717.5 785.7 726.7 790.3 736 793.2 747.5 795.4 759.1 796.6 773 797.4 786.9 797.8 803 797.9 821.5 797.9 840 797.8 860.9 797.7 881.7 797.7 902.5 797.7 925.6 797.7M648.1 490.8 649 490.8 650 490.8 650.9 490.8 652 494.6 653.4 515.8 655 538.7 656.9 562.6 659 586.8 661.3 610.8 663.8 634.1 666.6 656.2 670.1 679.7 673.5 699.4 678.2 720.6 682.8 737.2 688.6 753.1 694.4 764.9 701.3 775 708.2 782.1 717.5 788.3 726.7 792.1 736 794.5 747.5 796.2 759.1 797.2 773 797.7 786.9 798 803 798 821.5 797.9 840 797.8 860.9 797.6 881.7 797.6 902.5 797.6 925.6 797.6M648.1 490.8 649 490.8 650 490.8 650.9 490.8 652 490.8 653.4 490.8 655 492.9 656.9 515.1 659 538.2 661.3 561.6 663.8 584.9 666.6 607.8 670.1 632.9 673.5 654.8 678.2 679.4 682.8 699.9 688.6 720.6 694.4 736.9 701.3 752 708.2 763.4 717.5 774.4 726.7 781.9 736 787.1 747.5 791.3 759.1 793.9 773 795.8 786.9 796.8 803 797.4 821.5 797.6 840 797.6 860.9 797.5 881.7 797.5 902.5 797.5 925.6 797.5M648.1 490.8 649 490.8 650 490.8 650.9 490.8 652 490.8 653.4 490.8 655 500.1 656.9 525.3 659 551.1 661.3 576.9 663.8 602.3 666.6 626.6 670.1 652.8 673.5 675 678.2 699.4 682.8 719 688.6 738.2 694.4 752.7 701.3 765.5 708.2 774.8 717.5 783.2 726.7 788.6 736 792 747.5 794.7 759.1 796.2 773 797.2 786.9 797.6 803 797.5 821.5 797.3 840 796.9 860.9 796.6 881.7 796.4 902.5 796.4 925.6 796.4M648.1 490.8 649 490.8 650 490.8 650.9 490.8 652 490.8 653.4 493 655 516.4 656.9 541 659 566 661.3 591 663.8 615.5 666.6 638.8 670.1 663.9 673.5 685 678.2 708.1 682.8 726.5 688.6 744.3 694.4 757.7 701.3 769.4 708.2 777.8 717.5 785.3 726.7 790.1 736 793.1 747.5 795.3 759.1 796.6 773 797.4 786.9 797.7 803 797.7 821.5 797.4 840 797 860.9 796.7 881.7 796.6 902.5 796.6 925.6 796.6M648.1 490.8 649 490.8 650 490.8 650.9 498.1 652 516.4 653.4 536.8 655 558.8 656.9 581.7 659 604.8 661.3 627.6 663.8 649.6 666.6 670.4 670.1 692.3 673.5 710.5 678.2 730 682.8 745.1 688.6 759.4 694.4 769.9 701.3 778.8 708.2 784.9 717.5 790.2 726.7 793.4 736 795.3 747.5 796.7 759.1 797.5 773 797.8 786.9 797.7 803 797.1 821.5 796.1 840 795.1 860.9 794.3 881.7 794 902.5 794 925.6 794M648.1 490.8 649 490.8 650 490.8 650.9 490.8 652 490.8 653.4 490.8 655 501.3 656.9 529 659 557.1 661.3 584.9 663.8 611.8 666.6 637.3 670.1 664.4 673.5 686.8 678.2 711.1 682.8 730 688.6 748 694.4 761.3 701.3 772.7 708.2 780.6 717.5 787.4 726.7 791.6 736 794.2 747.5 796.1 759.1 797.1 773 797.7 786.9 797.9 803 797.8 821.5 797.5 840 797.1 860.9 796.8 881.7 796.7 902.5 796.7 925.6 796.7M648.1 490.8 649 490.8 650 490.8 650.9 490.8 652 492.8 653.4 514.6 655 538.2 656.9 562.7 659 587.5 661.3 612.1 663.8 635.8 666.6 658.2 670.1 681.9 673.5 701.6 678.2 722.8 682.8 739.4 688.6 755.1 694.4 766.6 701.3 776.4 708.2 783.2 717.5 789.1 726.7 792.7 736 794.9 747.5 796.5 759.1 797.3 773 797.8 786.9 797.8 803 797.4 821.5 796.8 840 796.1 860.9 795.5 881.7 795.3 902.5 795.3 925.6 795.3M648.1 490.8 649 490.8 650 490.8 650.9 490.8 652 499.4 653.4 517.3 655 536.8 656.9 557.5 659 578.7 661.3 600.2 663.8 621.4 666.6 641.9 670.1 664.3 673.5 683.4 678.2 704.8 682.8 722.2 688.6 739.4 694.4 752.8 701.3 764.8 708.2 773.7 717.5 782 726.7 787.5 736 791.1 747.5 794 759.1 795.7 773 796.9 786.9 797.4 803 797.5 821.5 797.3 840 797 860.9 796.8 881.7 796.7 902.5 796.7 925.6 796.7M648.1 490.8 649 490.8 650 490.8 650.9 490.8 652 490.8 653.4 508.9 655 533.9 656.9 559.9 659 586.1 661.3 611.8 663.8 636.5 666.6 659.8 670.1 684.2 673.5 704.3 678.2 725.7 682.8 742.3 688.6 757.7 694.4 768.9 701.3 778.4 708.2 784.8 717.5 790.2 726.7 793.5 736 795.4 747.5 796.8 759.1 797.5 773 797.9 786.9 797.9 803 797.6 821.5 797.2 840 796.7 860.9 796.2 881.7 796.1 902.5 796.1 925.6 796.1M648.1 490.8 649 490.8 650 490.8 650.9 499.9 652 518.7 653.4 539.6 655 562.1 656.9 585.4 659 608.9 661.3 631.9 663.8 654.1 666.6 674.9 670.1 696.7 673.5 714.7 678.2 733.8 682.8 748.6 688.6 762.4 694.4 772.3 701.3 780.7 708.2 786.4 717.5 791.2 726.7 794.1 736 795.8 747.5 797 759.1 797.6 773 798 786.9 798 803 797.7 821.5 797.3 840 796.9 860.9 796.5 881.7 796.4 902.5 796.4 925.6 796.4M648.1 490.8 649 490.8 650 490.8 650.9 490.8 652 490.8 653.4 490.8 655 511.1 656.9 533.7 659 556.9 661.3 580.4 663.8 603.6 666.6 626 670.1 650.5 673.5 671.5 678.2 695 682.8 714.1 688.6 733.1 694.4 747.8 701.3 761.1 708.2 770.9 717.5 780.1 726.7 786.2 736 790.3 747.5 793.5 759.1 795.4 773 796.7 786.9 797.3 803 797.4 821.5 797.2 840 796.8 860.9 796.5 881.7 796.4 902.5 796.4 925.6 796.4M648.1 490.8 649 490.8 650 490.8 650.9 490.8 652 493 653.4 515.5 655 539.6 656.9 564.7 659 590 661.3 615 663.8 639 666.6 661.6 670.1 685.4 673.5 705 678.2 726 682.8 742.3 688.6 757.6 694.4 768.7 701.3 778.1 708.2 784.5 717.5 790 726.7 793.3 736 795.3 747.5 796.7 759.1 797.5 773 797.9 786.9 798.1 803 798.1 821.5 798 840 798 860.9 797.9 881.7 797.8 902.5 797.8 925.6 797.8M648.1 490.8 649 490.8 650 490.8 650.9 490.8 652 490.8 653.4 490.8 655 507.4 656.9 529.8 659 553 661.3 576.4 663.8 599.5 666.6 622 670.1 646.6 673.5 667.8 678.2 691.5 682.8 710.9 688.6 730.3 694.4 745.3 701.3 759.1 708.2 769.3 717.5 778.9 726.7 785.3 736 789.6 747.5 793 759.1 795.1 773 796.5 786.9 797 803 797 821.5 796.5 840 795.9 860.9 795.4 881.7 795.2 902.5 795.2 925.6 795.2M648.1 490.8 649 490.8 650 490.8 650.9 490.8 652 505.8 653.4 523.7 655 543.1 656.9 563.6 659 584.7 661.3 605.9 663.8 626.9 666.6 647.1 670.1 669.1 673.5 687.9 678.2 708.7 682.8 725.7 688.6 742.4 694.4 755.3 701.3 766.9 708.2 775.3 717.5 783.2 726.7 788.4 736 791.8 747.5 794.4 759.1 796 773 797 786.9 797.5 803 797.6 821.5 797.4 840 797.1 860.9 796.9 881.7 796.8 902.5 796.8 925.6 796.8M648.1 490.8 649 490.8 650 490.8 650.9 490.8 652 490.8 653.4 490.8 655 496.8 656.9 518.7 659 541.5 661.3 564.6 663.8 587.7 666.6 610.2 670.1 635 673.5 656.6 678.2 681 682.8 701.2 688.6 721.6 694.4 737.7 701.3 752.7 708.2 763.9 717.5 774.7 726.7 782.1 736 787.2 747.5 791.4 759.1 794 773 795.8 786.9 796.7 803 797 821.5 796.9 840 796.6 860.9 796.3 881.7 796.2 902.5 796.2 925.6 796.3M648.1 490.8 649 490.8 650 490.8 650.9 490.8 652 493.8 653.4 512.4 655 532.6 656.9 554 659 576.1 661.3 598.2 663.8 620 666.6 641.1 670.1 664 673.5 683.6 678.2 705.3 682.8 722.9 688.6 740.3 694.4 753.7 701.3 765.7 708.2 774.5 717.5 782.7 726.7 788 736 791.6 747.5 794.3 759.1 795.9 773 797 786.9 797.4 803 797.4 821.5 797.1 840 796.7 860.9 796.3 881.7 796.2 902.5 796.2 925.6 796.2M648.1 490.8 649 490.8 650 490.8 650.9 490.8 652 490.8 653.4 490.8 655 494.8 656.9 521.2 659 548.3 661.3 575.3 663.8 601.6 666.6 626.7 670.1 653.7 673.5 676.5 678.2 701.3 682.8 721.1 688.6 740.3 694.4 754.7 701.3 767.3 708.2 776.3 717.5 784.4 726.7 789.5 736 792.7 747.5 795.1 759.1 796.5 773 797.3 786.9 797.4 803 797 821.5 796.1 840 795.2 860.9 794.3 881.7 794.1 902.5 794.1 925.6 794.1M648.1 490.8 649 490.8 650 490.8 650.9 491.5 652 511.5 653.4 533.7 655 557.5 656.9 582.1 659 606.7 661.3 630.8 663.8 653.9 666.6 675.4 670.1 697.9 673.5 716.2 678.2 735.6 682.8 750.4 688.6 764.1 694.4 773.8 701.3 782 708.2 787.4 717.5 791.9 726.7 794.6 736 796.1 747.5 797.2 759.1 797.7 773 798 786.9 798 803 797.8 821.5 797.5 840 797.1 860.9 796.8 881.7 796.7 902.5 796.7 925.6 796.7M648.1 490.8 649 490.8 650 490.8 650.9 490.8 652 506 653.4 527.4 655 550.3 656.9 574.2 659 598.3 661.3 622 663.8 644.9 666.6 666.5 670.1 689.3 673.5 708.1 678.2 728.3 682.8 743.9 688.6 758.7 694.4 769.4 701.3 778.5 708.2 784.8 717.5 790.1 726.7 793.4 736 795.3 747.5 796.7 759.1 797.5 773 797.8 786.9 797.7 803 797.1 821.5 796.2 840 795.3 860.9 794.5 881.7 794.2 902.5 794.3 925.6 794.3M648.1 490.8 649 490.8 650 490.8 650.9 492.2 652 507.8 653.4 525.4 655 544.6 656.9 565 659 585.9 661.3 606.9 663.8 627.7 666.6 647.8 670.1 669.6 673.5 688.2 678.2 708.9 682.8 725.8 688.6 742.4 694.4 755.3 701.3 766.8 708.2 775.3 717.5 783.1 726.7 788.3 736 791.7 747.5 794.4 759.1 796 773 797 786.9 797.3 803 797.1 821.5 796.5 840 795.7 860.9 795.1 881.7 794.9 902.5 794.9 925.6 794.9M648.1 490.8 649 490.8 650 490.8 650.9 490.8 652 490.8 653.4 502.3 655 522.9 656.9 544.7 659 567.2 661.3 589.8 663.8 612.2 666.6 633.8 670.1 657.4 673.5 677.6 678.2 700.1 682.8 718.4 688.6 736.5 694.4 750.6 701.3 763.3 708.2 772.6 717.5 781.3 726.7 787 736 790.8 747.5 793.8 759.1 795.6 773 796.9 786.9 797.5 803 797.9 821.5 798.1 840 798.2 860.9 798.2 881.7 798.3 902.5 798.3 925.6 798.3M648.1 490.8 649 490.8 650 490.8 650.9 495.7 652 513.4 653.4 533.2 655 554.7 656.9 577.1 659 599.8 661.3 622.3 663.8 644.2 666.6 664.9 670.1 687 673.5 705.4 678.2 725.3 682.8 740.9 688.6 755.8 694.4 766.9 701.3 776.4 708.2 783 717.5 788.9 726.7 792.5 736 794.7 747.5 796.3 759.1 797.2 773 797.7 786.9 797.6 803 797 821.5 796.1 840 795.1 860.9 794.2 881.7 793.9 902.5 793.9 925.6 793.9M648.1 490.8 649 490.8 650 490.8 650.9 490.8 652 490.8 653.4 490.8 655 493.3 656.9 520.2 659 547.5 661.3 574.8 663.8 601.4 666.6 626.8 670.1 654 673.5 676.9 678.2 701.9 682.8 721.7 688.6 740.9 694.4 755.2 701.3 767.8 708.2 776.7 717.5 784.7 726.7 789.7 736 792.9 747.5 795.3 759.1 796.6 773 797.4 786.9 797.9 803 798.1 821.5 798.2 840 798.2 860.9 798.2 881.7 798.2 902.5 798.2 925.6 798.2M648.1 490.8 649 490.8 650 490.8 650.9 490.8 652 497.9 653.4 520.1 655 544 656.9 568.8 659 593.8 661.3 618.4 663.8 642.1 666.6 664.3 670.1 687.8 673.5 707.1 678.2 727.7 682.8 743.7 688.6 758.7 694.4 769.5 701.3 778.7 708.2 785 717.5 790.3 726.7 793.5 736 795.4 747.5 796.8 759.1 797.5 773 797.9 786.9 797.7 803 797.2 821.5 796.4 840 795.6 860.9 794.9 881.7 794.6 902.5 794.6 925.6 794.6M648.1 490.8 649 490.8 650 490.8 650.9 490.8 652 490.8 653.4 490.8 655 503.9 656.9 527.1 659 551 661.3 575.1 663.8 598.9 666.6 622 670.1 647.1 673.5 668.7 678.2 692.7 682.8 712.3 688.6 731.8 694.4 746.8 701.3 760.4 708.2 770.5 717.5 779.8 726.7 786 736 790.2 747.5 793.4 759.1 795.4 773 796.7 786.9 797.2 803 797.3 821.5 796.9 840 796.5 860.9 796.1 881.7 795.9 902.5 796 925.6 796M648.1 490.8 649 490.8 650 490.8 650.9 490.8 652 490.8 653.4 505.4 655 529.2 656.9 554 659 579.1 661.3 604.1 663.8 628.3 666.6 651.2 670.1 675.6 673.5 695.9 678.2 717.9 682.8 735.2 688.6 751.6 694.4 763.8 701.3 774.3 708.2 781.6 717.5 788 726.7 791.9 736 794.4 747.5 796.2 759.1 797.1 773 797.7 786.9 797.9 803 797.9 821.5 797.7 840 797.4 860.9 797.2 881.7 797.1 902.5 797.1 925.6 797.1M648.1 490.8 649 490.8 650 490.8 650.9 490.8 652 490.8 653.4 490.8 655 512.3 656.9 541.2 659 570.2 661.3 598.6 663.8 625.8 666.6 651.3 670.1 677.9 673.5 699.7 678.2 722.8 682.8 740.4 688.6 756.8 694.4 768.6 701.3 778.3 708.2 784.9 717.5 790.4 726.7 793.7 736 795.6 747.5 796.9 759.1 797.6 773 798 786.9 798.1 803 798 821.5 797.9 840 797.8 860.9 797.6 881.7 797.6 902.5 797.6 925.6 797.6M648.1 490.8 649 490.8 650 490.8 650.9 490.8 652 502 653.4 524.6 655 548.8 656.9 573.8 659 599 661.3 623.6 663.8 647.3 666.6 669.4 670.1 692.6 673.5 711.6 678.2 731.7 682.8 747.2 688.6 761.6 694.4 771.9 701.3 780.6 708.2 786.4 717.5 791.3 726.7 794.2 736 795.9 747.5 797 759.1 797.6 773 798 786.9 798 803 797.9 821.5 797.7 840 797.4 860.9 797.1 881.7 797.1 902.5 797.1 925.6 797.1M648.1 490.8 649 490.8 650 490.8 650.9 490.8 652 490.8 653.4 490.8 655 497.1 656.9 523.7 659 550.9 661.3 577.9 663.8 604.2 666.6 629.4 670.1 656.3 673.5 678.9 678.2 703.6 682.8 723.1 688.6 742 694.4 756.2 701.3 768.5 708.2 777.3 717.5 785 726.7 790 736 793 747.5 795.4 759.1 796.6 773 797.4 786.9 797.6 803 797.3 821.5 796.7 840 796 860.9 795.4 881.7 795.2 902.5 795.2 925.6 795.2" fill="none" stroke="#e5d8ee" stroke-width="1" stroke-linejoin="round"/>
<path d="M648.1 490.8 648.1 490.8 648.2 490.8 648.4 490.8 648.6 490.8 648.8 490.8 649.1 490.8 649.4 490.8 649.7 490.8 650.1 490.8 650.5 490.8 650.9 490.8 651.4 490.8 651.9 490.8 652.5 490.8 653.1 495.7 653.7 504.6 654.3 513.6 655 522.6 655.7 531.6 656.5 540.9 657.2 550.2 658 559.6 658.8 569 659.7 578.3 660.6 587.5 661.5 596.5 662.4 605.3 663.4 614 664.4 622.7 665.4 631.2 666.5 639.5 667.6 647.6 668.7 655.5 669.8 663.1 671 670.4 672.2 677.4 673.4 684.3 674.6 690.9 675.9 697.3 677.2 703.5 678.5 709.4 679.9 715 681.2 720.3 682.6 725.4 684.1 730.2 685.5 734.8 687 739.1 688.5 743.3 690 747.3 691.6 751 693.2 754.5 694.8 757.8 696.4 760.8 698.1 763.6 699.7 766.3 701.4 768.9 703.2 771.3 704.9 773.5 706.7 775.5 708.5 777.4 710.3 779.2 712.2 780.8 714 782.3 715.9 783.8 717.8 785.1 719.8 786.4 721.7 787.5 723.7 788.5 725.8 789.4 727.8 790.3 729.9 791.1 731.9 791.8 734 792.5 736.2 793.1 738.3 793.6 740.5 794.1 742.7 794.6 744.9 795 747.2 795.4 749.4 795.7 751.7 796 754 796.3 756.4 796.6 758.7 796.8 761.1 797 763.5 797.2 766 797.3 768.4 797.4 770.9 797.6 773.4 797.7 775.9 797.8 778.4 797.9 781 798 783.6 798.1 786.2 798.2 788.8 798.2 791.5 798.3 794.1 798.3 796.8 798.4 799.5 798.4 802.3 798.4 805 798.5 807.8 798.5 810.6 798.5 813.4 798.5 816.3 798.5 819.2 798.6 822 798.6 824.9 798.6 827.9 798.6 830.8 798.6 833.8 798.6 836.8 798.6 839.8 798.6 842.9 798.6 845.9 798.6 849 798.6 852.1 798.7 855.2 798.7 858.4 798.7 861.5 798.7 864.7 798.7 867.9 798.7 871.1 798.7 874.4 798.7 877.7 798.7 881 798.7 884.3 798.7 887.6 798.7 890.9 798.7 894.3 798.7 897.7 798.7 901.1 798.7 904.6 798.7 908 798.7 911.5 798.7 915 798.7 918.5 798.7 922 798.7 925.6 798.7" fill="none" stroke="#7e5ca9" stroke-width="8.2" stroke-linejoin="round" stroke-linecap="butt"/>
</g>
<line x1="682.8" y1="523.5" x2="682.8" y2="798.3" stroke="#7e5ca9" stroke-width="2" stroke-linecap="butt"/>
<line x1="648.1" y1="519.8" x2="648.1" y2="799.7" stroke="#000" stroke-width="2.8" stroke-linecap="butt"/>
<line x1="644.1" y1="798.3" x2="926.8" y2="798.3" stroke="#000" stroke-width="2.8" stroke-linecap="butt"/>
<line x1="648.1" y1="798.3" x2="648.1" y2="803" stroke="#000" stroke-width="2.2" stroke-linecap="butt"/>
<line x1="740.6" y1="798.3" x2="740.6" y2="803" stroke="#000" stroke-width="2.2" stroke-linecap="butt"/>
<line x1="833.1" y1="798.3" x2="833.1" y2="803" stroke="#000" stroke-width="2.2" stroke-linecap="butt"/>
<line x1="925.6" y1="798.3" x2="925.6" y2="803" stroke="#000" stroke-width="2.2" stroke-linecap="butt"/>
<line x1="643.6" y1="613.5" x2="648.1" y2="613.5" stroke="#000" stroke-width="2" stroke-linecap="butt"/>
<text x="633.1" y="620.5" font-size="28.3" text-anchor="end" fill="#000">0.05</text>
<line x1="643.6" y1="705.7" x2="648.1" y2="705.7" stroke="#000" stroke-width="2" stroke-linecap="butt"/>
<text x="633.1" y="711.6" font-size="28.3" text-anchor="end" fill="#000">0.025</text>
<line x1="643.6" y1="798.3" x2="648.1" y2="798.3" stroke="#000" stroke-width="2" stroke-linecap="butt"/>
<text x="633.1" y="805" font-size="28.3" text-anchor="end" fill="#000">0</text>
<text x="644.1" y="833.6" font-size="28.3" text-anchor="middle" fill="#000">0</text>
<text x="736.3" y="833.6" font-size="28.3" text-anchor="middle" fill="#000">4</text>
<text x="829" y="833.6" font-size="28.3" text-anchor="middle" fill="#000">8</text>
<text x="920.5" y="833.6" font-size="28.3" text-anchor="middle" fill="#000">12</text>
<text x="796.3" y="867.6" font-size="29" text-anchor="middle" fill="#000">Time (s)</text>
<text x="719.9" y="513.6" font-size="40.04" text-anchor="start" fill="#7e5ca9" font-family='"Liberation Serif", "DejaVu Serif", serif' font-style="italic">t</text>
<text transform='translate(745.9 513.6) scale(1.36 1)' font-size='38.5' fill='#7e5ca9' font-family='"Liberation Serif", "DejaVu Serif", serif'>=</text>
<text x="795.8" y="513.6" font-size="38.5" text-anchor="middle" fill="#7e5ca9" font-family='"Liberation Serif", "DejaVu Serif", serif'>1</text>
<text x="810.8" y="513.6" font-size="40.04" text-anchor="middle" fill="#7e5ca9" font-family='"Liberation Serif", "DejaVu Serif", serif'>.</text>
<text x="825.7" y="513.6" font-size="38.5" text-anchor="middle" fill="#7e5ca9" font-family='"Liberation Serif", "DejaVu Serif", serif'>5</text>
<text x="836.7" y="513.6" font-size="40.81" text-anchor="start" fill="#7e5ca9" font-family='"Liberation Serif", "DejaVu Serif", serif' font-style="italic">s</text>
<clipPath id="c3"><rect x="1057.5" y="520.8" width="285.5" height="283.5"/></clipPath>
<g clip-path="url(#c3)">
<path d="M1062.7 798.3 1062.7 520.8 1067.3 520.8 1070.8 631.8 1075.4 698.4 1082.3 723.4 1091.6 717.8 1107.8 706.7 1123.9 709.5 1142.4 720.6 1165.6 730.6 1184.1 734.5 1339 736.1 1339 798.3 1230.3 798.3 1211.8 792.2 1188.7 783.9 1165.6 775 1147.1 769.4 1130.9 775 1114.7 787.2 1100.8 798.3Z" fill="#e3eefa"/>
<path d="M1061.5 752.7 1062.4 757 1063.3 760.8 1064.3 764 1065.4 767.3 1066.8 770.2 1068.4 772 1070.3 772.2 1072.4 770.6 1074.7 766.9 1077.2 761.5 1080 754.8 1083.5 746.8 1086.9 740 1091.6 734 1096.2 731.7 1102 733.5 1107.8 738.8 1114.7 747.4 1121.6 756.5 1130.9 767.3 1140.1 775.4 1149.4 781 1160.9 785.2 1172.5 787.6 1186.4 788.9 1200.2 789.6 1216.4 790 1234.9 790.3 1253.4 790.6 1274.2 790.8 1295.1 791.1 1315.9 791.4 1339 791.7M1061.5 762.9 1062.4 766.2 1063.3 768.6 1064.3 770.2 1065.4 771.4 1066.8 771.9 1068.4 771.4 1070.3 769.9 1072.4 767.6 1074.7 764.7 1077.2 761.4 1080 758.2 1083.5 754.8 1086.9 752.3 1091.6 750.1 1096.2 749.1 1102 748.9 1107.8 749.5 1114.7 750.6 1121.6 751.9 1130.9 753.6 1140.1 755.2 1149.4 756.6 1160.9 758.4 1172.5 760 1186.4 762.1 1200.2 764.1 1216.4 766.5 1234.9 769.4 1253.4 772.2 1274.2 775.4 1295.1 778.7 1315.9 781.9 1339 785.5M1061.5 740.3 1062.4 744.6 1063.3 748.1 1064.3 751 1065.4 753.7 1066.8 755.7 1068.4 756.6 1070.3 756.2 1072.4 754 1074.7 750.1 1077.2 744.5 1080 737.4 1083.5 727.7 1086.9 717.9 1091.6 705.4 1096.2 694.3 1102 683.1 1107.8 675.1 1114.7 669.5 1121.6 667.9 1130.9 670.7 1140.1 677.7 1149.4 687.2 1160.9 701 1172.5 715.1 1186.4 731.1 1200.2 745.2 1216.4 758.9 1234.9 771.2 1253.4 780.5 1274.2 788.4 1295.1 794.1 1315.9 795.9 1339 797M1061.5 765.9 1062.4 767.8 1063.3 769.3 1064.3 770.4 1065.4 771.5 1066.8 772.2 1068.4 772.6 1070.3 772.5 1072.4 771.9 1074.7 770.8 1077.2 769.3 1080 767.6 1083.5 765.4 1086.9 763.3 1091.6 761.1 1096.2 759.3 1102 758 1107.8 757.4 1114.7 757.4 1121.6 758 1130.9 759.4 1140.1 761.1 1149.4 762.8 1160.9 764.9 1172.5 766.8 1186.4 768.7 1200.2 770.4 1216.4 772 1234.9 773.7 1253.4 775.1 1274.2 776.7 1295.1 778.2 1315.9 779.7 1339 781.3M1061.5 745.1 1062.4 748.6 1063.3 751.6 1064.3 754.1 1065.4 756.6 1066.8 758.7 1068.4 760 1070.3 760.2 1072.4 758.9 1074.7 755.9 1077.2 751.2 1080 745 1083.5 736.2 1086.9 727.1 1091.6 715.4 1096.2 705.1 1102 694.9 1107.8 688.1 1114.7 684.2 1121.6 684.3 1130.9 689.1 1140.1 697.3 1149.4 707.1 1160.9 719.8 1172.5 731.5 1186.4 743.2 1200.2 752.3 1216.4 759.9 1234.9 765.7 1253.4 769.4 1274.2 772.1 1295.1 773.8 1315.9 775.1 1339 776.3M1061.5 784.8 1062.4 784.8 1063.3 784.6 1064.3 784.3 1065.4 783.6 1066.8 782.4 1068.4 780.6 1070.3 778.2 1072.4 775.2 1074.7 771.7 1077.2 768 1080 764.1 1083.5 760 1086.9 756.8 1091.6 753.7 1096.2 752.1 1102 751.4 1107.8 751.7 1114.7 752.9 1121.6 754.3 1130.9 756.1 1140.1 757.7 1149.4 758.9 1160.9 760.2 1172.5 761.2 1186.4 762.3 1200.2 763.4 1216.4 764.6 1234.9 766.1 1253.4 767.5 1274.2 769.2 1295.1 770.9 1315.9 772.6 1339 774.4M1061.5 782.6 1062.4 783.4 1063.3 783.8 1064.3 784.1 1065.4 784.1 1066.8 783.8 1068.4 783.2 1070.3 782.1 1072.4 780.8 1074.7 779.1 1077.2 777.2 1080 775.1 1083.5 772.8 1086.9 770.8 1091.6 768.6 1096.2 766.9 1102 765.5 1107.8 764.9 1114.7 764.7 1121.6 765.1 1130.9 766.2 1140.1 767.7 1149.4 769.4 1160.9 771.7 1172.5 774.1 1186.4 777 1200.2 780 1216.4 783.4 1234.9 787.4 1253.4 791.4 1274.2 795.8 1295.1 798.3 1315.9 798.3 1339 798.3M1061.5 795.4 1062.4 794.9 1063.3 794.4 1064.3 793.7 1065.4 792.7 1066.8 791.1 1068.4 788.5 1070.3 784.4 1072.4 778.3 1074.7 769.9 1077.2 759 1080 745.8 1083.5 728.5 1086.9 711.9 1091.6 692.8 1096.2 678.8 1102 669.3 1107.8 667.9 1114.7 674.4 1121.6 686.5 1130.9 705.8 1140.1 724.4 1149.4 739.8 1160.9 753.8 1172.5 762.9 1186.4 769.3 1200.2 772.8 1216.4 774.9 1234.9 776.2 1253.4 777.1 1274.2 777.9 1295.1 778.7 1315.9 779.5 1339 780.4M1061.5 744.8 1062.4 751.7 1063.3 757.3 1064.3 762 1065.4 766.7 1066.8 770.9 1068.4 774 1070.3 775.9 1072.4 776.2 1074.7 775 1077.2 772.2 1080 767.9 1083.5 761.4 1086.9 754.1 1091.6 744 1096.2 734.2 1102 723 1107.8 713.7 1114.7 705.4 1121.6 700.3 1130.9 698.1 1140.1 700.1 1149.4 705.1 1160.9 713.7 1172.5 723.3 1186.4 734.6 1200.2 744.5 1216.4 753.9 1234.9 761.7 1253.4 767.1 1274.2 771.1 1295.1 773.7 1315.9 775.5 1339 776.9M1061.5 784.2 1062.4 785 1063.3 785.3 1064.3 784.9 1065.4 783.8 1066.8 781.5 1068.4 777.7 1070.3 772.2 1072.4 765.1 1074.7 756.5 1077.2 746.9 1080 736.7 1083.5 725.2 1086.9 715.5 1091.6 705.9 1096.2 700 1102 697.3 1107.8 698.9 1114.7 704.8 1121.6 713.3 1130.9 726.2 1140.1 739.1 1149.4 750.5 1160.9 762.3 1172.5 771.3 1186.4 778.8 1200.2 783.9 1216.4 787.7 1234.9 790.5 1253.4 792.3 1274.2 793.9 1295.1 795.2 1315.9 796.4 1339 797.7M1061.5 752.7 1062.4 758.5 1063.3 763.1 1064.3 766.8 1065.4 770.2 1066.8 773.2 1068.4 775.3 1070.3 776.4 1072.4 776.7 1074.7 776.2 1077.2 775 1080 773.4 1083.5 771.3 1086.9 769.3 1091.6 766.9 1096.2 765 1102 763.1 1107.8 761.7 1114.7 760.7 1121.6 760.1 1130.9 760 1140.1 760.3 1149.4 761 1160.9 762.1 1172.5 763.3 1186.4 765 1200.2 766.7 1216.4 768.8 1234.9 771.1 1253.4 773.5 1274.2 776 1295.1 778.6 1315.9 781.1 1339 784M1061.5 775.5 1062.4 778.3 1063.3 780.6 1064.3 782.3 1065.4 783.6 1066.8 784.3 1068.4 784.1 1070.3 782.8 1072.4 780.2 1074.7 776.5 1077.2 772 1080 766.8 1083.5 760.7 1086.9 755.5 1091.6 750.4 1096.2 747.5 1102 746.4 1107.8 747.5 1114.7 750.7 1121.6 754.8 1130.9 760.3 1140.1 765 1149.4 768.7 1160.9 771.9 1172.5 774 1186.4 775.5 1200.2 776.5 1216.4 777.3 1234.9 778 1253.4 778.6 1274.2 779.3 1295.1 780 1315.9 780.7 1339 781.5M1061.5 490.8 1062.4 490.8 1063.3 490.8 1064.3 490.8 1065.4 490.8 1066.8 490.8 1068.4 508.4 1070.3 575.5 1072.4 631.3 1074.7 675.3 1077.2 708.1 1080 730.9 1083.5 747.2 1086.9 755.1 1091.6 758.2 1096.2 757.1 1102 753.5 1107.8 749.5 1114.7 745.6 1121.6 743.2 1130.9 742.3 1140.1 743.7 1149.4 746.7 1160.9 751.9 1172.5 757.7 1186.4 764.6 1200.2 770.8 1216.4 776.8 1234.9 782.1 1253.4 785.8 1274.2 788.8 1295.1 790.9 1315.9 792.4 1339 793.7M1061.5 753.7 1062.4 757.8 1063.3 761.2 1064.3 763.9 1065.4 766.4 1066.8 768.4 1068.4 769.6 1070.3 769.7 1072.4 768.7 1074.7 766.6 1077.2 763.6 1080 759.9 1083.5 755.4 1086.9 751.4 1091.6 747.2 1096.2 744.4 1102 742.8 1107.8 742.7 1114.7 744.1 1121.6 746.2 1130.9 749.5 1140.1 752.7 1149.4 755.6 1160.9 758.7 1172.5 761.4 1186.4 764.4 1200.2 767.3 1216.4 770.5 1234.9 774.2 1253.4 778 1274.2 782.1 1295.1 786.3 1315.9 790.5 1339 795.2M1061.5 781.1 1062.4 781.8 1063.3 782.2 1064.3 782.5 1065.4 782.6 1066.8 782.4 1068.4 782 1070.3 781.2 1072.4 780.1 1074.7 778.7 1077.2 777 1080 775.2 1083.5 773.1 1086.9 771.2 1091.6 769 1096.2 767.2 1102 765.5 1107.8 764.4 1114.7 763.7 1121.6 763.4 1130.9 763.5 1140.1 763.9 1149.4 764.5 1160.9 765.3 1172.5 766.2 1186.4 767.1 1200.2 767.9 1216.4 768.7 1234.9 769.5 1253.4 770.2 1274.2 770.8 1295.1 771.4 1315.9 772 1339 772.7M1061.5 792.5 1062.4 792 1063.3 791.3 1064.3 790.6 1065.4 789.6 1066.8 788.1 1068.4 786 1070.3 783.1 1072.4 779.5 1074.7 774.9 1077.2 769.6 1080 763.5 1083.5 756.1 1086.9 749.2 1091.6 741.2 1096.2 735 1102 729.9 1107.8 727.5 1114.7 727.7 1121.6 730.2 1130.9 735.5 1140.1 741.8 1149.4 748 1160.9 754.6 1172.5 759.9 1186.4 764.4 1200.2 767.6 1216.4 770 1234.9 771.8 1253.4 773.1 1274.2 774.4 1295.1 775.5 1315.9 776.5 1339 777.7M1061.5 779 1062.4 780.5 1063.3 781.5 1064.3 782.1 1065.4 782.3 1066.8 782 1068.4 780.9 1070.3 779 1072.4 776.4 1074.7 773.1 1077.2 769.3 1080 765.5 1083.5 761.2 1086.9 757.9 1091.6 754.9 1096.2 753.5 1102 753.5 1107.8 755 1114.7 757.9 1121.6 761.4 1130.9 766.2 1140.1 770.6 1149.4 774.3 1160.9 778 1172.5 780.9 1186.4 783.5 1200.2 785.5 1216.4 787.5 1234.9 789.5 1253.4 791.4 1274.2 793.5 1295.1 795.6 1315.9 797.6 1339 798.3M1061.5 796.1 1062.4 794.5 1063.3 792.9 1064.3 791.3 1065.4 789.1 1066.8 786.3 1068.4 782.9 1070.3 778.9 1072.4 774.4 1074.7 769.6 1077.2 764.9 1080 760.5 1083.5 756.2 1086.9 753.2 1091.6 751 1096.2 750.3 1102 750.9 1107.8 752.4 1114.7 754.6 1121.6 756.9 1130.9 759.8 1140.1 762.4 1149.4 764.9 1160.9 767.8 1172.5 770.7 1186.4 774.3 1200.2 777.9 1216.4 782.1 1234.9 787 1253.4 792 1274.2 797.5 1295.1 798.3 1315.9 798.3 1339 798.3M1061.5 744.8 1062.4 751.7 1063.3 757.6 1064.3 762.7 1065.4 767.7 1066.8 772 1068.4 774.8 1070.3 775.3 1072.4 772.9 1074.7 767.4 1077.2 759 1080 748.4 1083.5 735.1 1086.9 723.5 1091.6 712.6 1096.2 707.7 1102 709.2 1107.8 716.6 1114.7 729.7 1121.6 743.7 1130.9 760.3 1140.1 772.8 1149.4 781.1 1160.9 787.3 1172.5 790.5 1186.4 792.2 1200.2 792.9 1216.4 793.3 1234.9 793.4 1253.4 793.5 1274.2 793.6 1295.1 793.7 1315.9 793.8 1339 793.9M1061.5 766.4 1062.4 769.5 1063.3 772.1 1064.3 774.3 1065.4 776.5 1066.8 778.5 1068.4 780.1 1070.3 781.1 1072.4 781.4 1074.7 780.8 1077.2 779.4 1080 777.3 1083.5 773.9 1086.9 770.1 1091.6 765 1096.2 760.3 1102 755.5 1107.8 752.3 1114.7 750.6 1121.6 750.8 1130.9 753.4 1140.1 757.4 1149.4 761.9 1160.9 767.3 1172.5 771.9 1186.4 776.3 1200.2 779.6 1216.4 782.5 1234.9 785 1253.4 787.2 1274.2 789.4 1295.1 791.5 1315.9 793.6 1339 795.9M1061.5 737 1062.4 742.4 1063.3 746.7 1064.3 750.1 1065.4 753.2 1066.8 755.8 1068.4 757.4 1070.3 757.9 1072.4 757.4 1074.7 756 1077.2 753.9 1080 751.5 1083.5 748.7 1086.9 746.4 1091.6 744.3 1096.2 743.3 1102 743.3 1107.8 744.4 1114.7 746.5 1121.6 749.1 1130.9 752.8 1140.1 756.5 1149.4 759.8 1160.9 763.7 1172.5 767.1 1186.4 770.9 1200.2 774.5 1216.4 778.5 1234.9 782.9 1253.4 787.3 1274.2 792.2 1295.1 797.1 1315.9 798.3 1339 798.3M1061.5 744.2 1062.4 748.5 1063.3 751.6 1064.3 753.8 1065.4 755.7 1066.8 756.8 1068.4 757.1 1070.3 756.6 1072.4 755.2 1074.7 753.2 1077.2 750.9 1080 748.6 1083.5 746.2 1086.9 744.5 1091.6 743.4 1096.2 743.3 1102 744.4 1107.8 746.3 1114.7 749 1121.6 751.9 1130.9 755.3 1140.1 758.2 1149.4 760.4 1160.9 762.5 1172.5 763.8 1186.4 764.8 1200.2 765.4 1216.4 765.8 1234.9 766.1 1253.4 766.3 1274.2 766.5 1295.1 766.7 1315.9 766.9 1339 767.1M1061.5 791.2 1062.4 791.1 1063.3 791.1 1064.3 790.9 1065.4 790.5 1066.8 789.8 1068.4 788.3 1070.3 785.8 1072.4 781.9 1074.7 776.1 1077.2 768.1 1080 757.8 1083.5 743.4 1086.9 728.2 1091.6 708.4 1096.2 690.9 1102 674.1 1107.8 663.7 1114.7 659.6 1121.6 663.1 1130.9 675.8 1140.1 693.2 1149.4 711.4 1160.9 732 1172.5 748.5 1186.4 762.7 1200.2 772 1216.4 778.5 1234.9 782.7 1253.4 785 1274.2 786.7 1295.1 788 1315.9 789.2 1339 790.4M1061.5 779 1062.4 778.8 1063.3 778.5 1064.3 778.1 1065.4 777.5 1066.8 776.5 1068.4 775.2 1070.3 773.3 1072.4 771 1074.7 768.2 1077.2 764.9 1080 761.3 1083.5 757.1 1086.9 753.4 1091.6 749.3 1096.2 746.3 1102 744 1107.8 743 1114.7 742.9 1121.6 743.5 1130.9 744.8 1140.1 746.3 1149.4 747.7 1160.9 749.3 1172.5 750.8 1186.4 752.6 1200.2 754.3 1216.4 756.4 1234.9 758.7 1253.4 761.1 1274.2 763.9 1295.1 766.6 1315.9 769.4 1339 772.4M1061.5 798.1 1062.4 796.1 1063.3 794.3 1064.3 792.5 1065.4 790.3 1066.8 787.8 1068.4 784.9 1070.3 781.9 1072.4 778.6 1074.7 775.2 1077.2 771.6 1080 767.9 1083.5 763.6 1086.9 759.6 1091.6 754.7 1096.2 750.4 1102 745.9 1107.8 742.4 1114.7 739.3 1121.6 737.3 1130.9 736.2 1140.1 736.3 1149.4 737.1 1160.9 738.8 1172.5 740.6 1186.4 742.8 1200.2 744.6 1216.4 746.5 1234.9 748.2 1253.4 749.7 1274.2 751.1 1295.1 752.5 1315.9 753.8 1339 755.2M1061.5 732.1 1062.4 737.3 1063.3 741.7 1064.3 745.7 1065.4 749.9 1066.8 754.1 1068.4 758 1070.3 761.3 1072.4 763.9 1074.7 765.8 1077.2 766.9 1080 767.4 1083.5 767.2 1086.9 766.6 1091.6 765.5 1096.2 764.5 1102 763.5 1107.8 762.9 1114.7 762.8 1121.6 763.2 1130.9 764.5 1140.1 766.2 1149.4 768.2 1160.9 770.9 1172.5 773.6 1186.4 776.8 1200.2 779.8 1216.4 783.2 1234.9 786.7 1253.4 790.2 1274.2 793.9 1295.1 797.5 1315.9 798.2 1339 798.3M1061.5 766.6 1062.4 769.5 1063.3 771.8 1064.3 773.5 1065.4 775 1066.8 776.1 1068.4 776.5 1070.3 776.3 1072.4 775.4 1074.7 773.9 1077.2 771.9 1080 769.6 1083.5 766.8 1086.9 764.2 1091.6 761.2 1096.2 758.6 1102 756.1 1107.8 754.1 1114.7 752.3 1121.6 750.9 1130.9 749.7 1140.1 748.9 1149.4 748.5 1160.9 748.2 1172.5 748.2 1186.4 748.3 1200.2 748.6 1216.4 749.1 1234.9 749.7 1253.4 750.4 1274.2 751.2 1295.1 751.9 1315.9 752.7 1339 753.6M1061.5 739.3 1062.4 745.2 1063.3 750.3 1064.3 754.6 1065.4 759.1 1066.8 763.4 1068.4 767.1 1070.3 769.9 1072.4 771.6 1074.7 772.1 1077.2 771.6 1080 770 1083.5 767.3 1086.9 764.2 1091.6 760.1 1096.2 756.5 1102 753 1107.8 750.7 1114.7 749.6 1121.6 749.9 1130.9 751.9 1140.1 755.1 1149.4 758.9 1160.9 763.8 1172.5 768.4 1186.4 773.2 1200.2 777.2 1216.4 781 1234.9 784.4 1253.4 787.1 1274.2 789.8 1295.1 792.2 1315.9 794.5 1339 796.9M1061.5 796.8 1062.4 796.1 1063.3 795.3 1064.3 794.6 1065.4 793.6 1066.8 792.5 1068.4 791 1070.3 789.2 1072.4 787 1074.7 784.2 1077.2 780.8 1080 776.8 1083.5 771.6 1086.9 766.5 1091.6 760.2 1096.2 755.1 1102 750.5 1107.8 748.1 1114.7 747.7 1121.6 749.2 1130.9 752.8 1140.1 756.9 1149.4 760.8 1160.9 764.6 1172.5 767.2 1186.4 769.2 1200.2 770.2 1216.4 770.8 1234.9 771.1 1253.4 771.2 1274.2 771.3 1295.1 771.3 1315.9 771.4 1339 771.4M1061.5 765.9 1062.4 768.7 1063.3 771.1 1064.3 773.1 1065.4 775.2 1066.8 777.2 1068.4 778.9 1070.3 780.1 1072.4 780.7 1074.7 780.7 1077.2 780.2 1080 779.1 1083.5 777.3 1086.9 775.3 1091.6 772.6 1096.2 770.2 1102 767.7 1107.8 765.8 1114.7 764.4 1121.6 763.9 1130.9 764.2 1140.1 765.4 1149.4 767.1 1160.9 769.6 1172.5 772.1 1186.4 775 1200.2 777.5 1216.4 779.8 1234.9 782 1253.4 783.7 1274.2 785.2 1295.1 786.5 1315.9 787.6 1339 788.7M1061.5 794.9 1062.4 793.6 1063.3 792.2 1064.3 790.9 1065.4 789.3 1066.8 787.4 1068.4 785.1 1070.3 782.6 1072.4 779.8 1074.7 776.6 1077.2 773 1080 769 1083.5 763.9 1086.9 758.8 1091.6 752 1096.2 745.5 1102 738.2 1107.8 732.1 1114.7 726.6 1121.6 723.2 1130.9 721.4 1140.1 722.1 1149.4 724.5 1160.9 728.6 1172.5 733 1186.4 737.7 1200.2 741.4 1216.4 744.6 1234.9 746.9 1253.4 748.3 1274.2 749.3 1295.1 749.9 1315.9 750.4 1339 750.8M1061.5 742.9 1062.4 747.7 1063.3 751.8 1064.3 755.1 1065.4 758.1 1066.8 759.8 1068.4 759.3 1070.3 756 1072.4 749.3 1074.7 739.4 1077.2 727.3 1080 714.2 1083.5 700.3 1086.9 690.4 1091.6 684.2 1096.2 685.2 1102 693.6 1107.8 706.3 1114.7 722.9 1121.6 737.8 1130.9 753.2 1140.1 763.3 1149.4 769.5 1160.9 773.8 1172.5 776 1186.4 777.4 1200.2 778.2 1216.4 779 1234.9 779.8 1253.4 780.6 1274.2 781.5 1295.1 782.5 1315.9 783.4 1339 784.4M1061.5 794.5 1062.4 793.8 1063.3 793 1064.3 792.2 1065.4 791 1066.8 789.2 1068.4 786.5 1070.3 782.6 1072.4 777 1074.7 769.6 1077.2 760.2 1080 749.2 1083.5 735.3 1086.9 722.3 1091.6 708 1096.2 698.2 1102 692.3 1107.8 692.7 1114.7 699.3 1121.6 709.7 1130.9 725.5 1140.1 740.3 1149.4 752.6 1160.9 763.9 1172.5 771.6 1186.4 777.6 1200.2 781.5 1216.4 784.8 1234.9 787.8 1253.4 790.5 1274.2 793.4 1295.1 796.3 1315.9 798.3 1339 798.3M1061.5 760.2 1062.4 763.5 1063.3 766.3 1064.3 768.6 1065.4 770.9 1066.8 772.8 1068.4 774 1070.3 774.3 1072.4 773.2 1074.7 770.6 1077.2 766.2 1080 760 1083.5 750.7 1086.9 740.5 1091.6 726.8 1096.2 714.1 1102 701.1 1107.8 692.3 1114.7 687.3 1121.6 687.6 1130.9 694.2 1140.1 704.7 1149.4 716.5 1160.9 730.5 1172.5 742.1 1186.4 752.6 1200.2 759.7 1216.4 765.1 1234.9 769 1253.4 771.6 1274.2 773.8 1295.1 775.7 1315.9 777.5 1339 779.5M1061.5 773.3 1062.4 775.7 1063.3 777.4 1064.3 778.6 1065.4 779.5 1066.8 779.9 1068.4 779.7 1070.3 778.8 1072.4 777.3 1074.7 775.1 1077.2 772.6 1080 769.7 1083.5 766.2 1086.9 762.9 1091.6 758.9 1096.2 755.6 1102 752.2 1107.8 749.7 1114.7 747.7 1121.6 746.8 1130.9 746.8 1140.1 747.9 1149.4 749.8 1160.9 752.9 1172.5 756.4 1186.4 760.8 1200.2 765.2 1216.4 770 1234.9 775.1 1253.4 779.8 1274.2 784.7 1295.1 789.4 1315.9 793.8 1339 798.1M1061.5 760.7 1062.4 763.5 1063.3 766 1064.3 768.2 1065.4 770.5 1066.8 772.8 1068.4 774.8 1070.3 776.5 1072.4 777.6 1074.7 778.2 1077.2 778.1 1080 777.6 1083.5 776.4 1086.9 775.1 1091.6 773.4 1096.2 772.1 1102 771.1 1107.8 770.8 1114.7 771 1121.6 771.6 1130.9 772.6 1140.1 773.5 1149.4 774.3 1160.9 775 1172.5 775.5 1186.4 776 1200.2 776.5 1216.4 777.1 1234.9 777.8 1253.4 778.5 1274.2 779.2 1295.1 780 1315.9 780.8 1339 781.7M1061.5 736.1 1062.4 743.3 1063.3 748.9 1064.3 753.2 1065.4 757.2 1066.8 760.4 1068.4 762.3 1070.3 763 1072.4 762.5 1074.7 761 1077.2 758.7 1080 756.2 1083.5 753.3 1086.9 751 1091.6 749.1 1096.2 748.5 1102 749 1107.8 750.6 1114.7 753.3 1121.6 756.3 1130.9 760.2 1140.1 763.7 1149.4 766.6 1160.9 769.3 1172.5 771.2 1186.4 772.8 1200.2 773.7 1216.4 774.4 1234.9 774.9 1253.4 775.2 1274.2 775.4 1295.1 775.6 1315.9 775.8 1339 776M1061.5 784.2 1062.4 785.6 1063.3 786.7 1064.3 787.5 1065.4 788.2 1066.8 788.7 1068.4 788.8 1070.3 788.4 1072.4 787.4 1074.7 785.8 1077.2 783.6 1080 780.8 1083.5 776.9 1086.9 773 1091.6 768 1096.2 763.8 1102 759.8 1107.8 757.4 1114.7 756.4 1121.6 757.1 1130.9 759.7 1140.1 763.1 1149.4 766.5 1160.9 770.2 1172.5 773 1186.4 775.4 1200.2 776.9 1216.4 778 1234.9 778.7 1253.4 779.3 1274.2 779.8 1295.1 780.3 1315.9 780.7 1339 781.2M1061.5 751.1 1062.4 755.6 1063.3 759.6 1064.3 762.9 1065.4 766.4 1066.8 769.3 1068.4 771.3 1070.3 771.7 1072.4 770.3 1074.7 766.7 1077.2 760.9 1080 753.1 1083.5 742 1086.9 730.5 1091.6 715.9 1096.2 703.3 1102 691.6 1107.8 684.6 1114.7 681.9 1121.6 684.6 1130.9 693.8 1140.1 706.6 1149.4 720.7 1160.9 737.5 1172.5 751.9 1186.4 765.4 1200.2 775.1 1216.4 782.5 1234.9 787.4 1253.4 790.1 1274.2 791.6 1295.1 792.4 1315.9 792.8 1339 793.1M1061.5 746.2 1062.4 753.5 1063.3 759.4 1064.3 764.2 1065.4 768.6 1066.8 771.8 1068.4 773.2 1070.3 772.3 1072.4 768.7 1074.7 762.7 1077.2 754.5 1080 745 1083.5 733.6 1086.9 723.7 1091.6 714.1 1096.2 708.9 1102 707.9 1107.8 711.5 1114.7 719.8 1121.6 729.9 1130.9 743.5 1140.1 755.1 1149.4 764.2 1160.9 772.1 1172.5 777.1 1186.4 780.6 1200.2 782.6 1216.4 783.9 1234.9 784.8 1253.4 785.5 1274.2 786.1 1295.1 786.8 1315.9 787.4 1339 788.1M1061.5 737.9 1062.4 745.3 1063.3 751.5 1064.3 756.8 1065.4 762.3 1066.8 767.4 1068.4 771.8 1070.3 775.1 1072.4 777.1 1074.7 777.7 1077.2 776.9 1080 774.7 1083.5 770.4 1086.9 765.2 1091.6 757.3 1096.2 749.3 1102 740 1107.8 732.5 1114.7 726.1 1121.6 723 1130.9 723.2 1140.1 727 1149.4 733 1160.9 741.5 1172.5 749.8 1186.4 758.1 1200.2 764.4 1216.4 769.5 1234.9 773.2 1253.4 775.4 1274.2 777 1295.1 778.1 1315.9 779.1 1339 780M1061.5 744.5 1062.4 751 1063.3 756.4 1064.3 760.9 1065.4 765.4 1066.8 769.5 1068.4 772.9 1070.3 775.3 1072.4 776.7 1074.7 777.2 1077.2 776.9 1080 775.9 1083.5 774.3 1086.9 772.4 1091.6 770 1096.2 767.8 1102 765.4 1107.8 763.5 1114.7 761.8 1121.6 760.6 1130.9 759.7 1140.1 759.2 1149.4 759.1 1160.9 759.2 1172.5 759.5 1186.4 759.9 1200.2 760.2 1216.4 760.6 1234.9 760.9 1253.4 761.2 1274.2 761.5 1295.1 761.8 1315.9 762.1 1339 762.4M1061.5 751 1062.4 757 1063.3 761.8 1064.3 765.6 1065.4 769.4 1066.8 772.7 1068.4 775.3 1070.3 776.9 1072.4 777.7 1074.7 777.7 1077.2 777.2 1080 776.3 1083.5 775.2 1086.9 774.4 1091.6 773.6 1096.2 773.4 1102 773.8 1107.8 774.6 1114.7 776 1121.6 777.5 1130.9 779.4 1140.1 781.3 1149.4 782.9 1160.9 784.6 1172.5 786.1 1186.4 787.7 1200.2 789.1 1216.4 790.6 1234.9 792.3 1253.4 793.9 1274.2 795.7 1295.1 797.6 1315.9 798.3 1339 798.3M1061.5 743.8 1062.4 749.6 1063.3 754.7 1064.3 759 1065.4 763.5 1066.8 768 1068.4 771.9 1070.3 775.2 1072.4 777.7 1074.7 779.5 1077.2 780.5 1080 781 1083.5 780.9 1086.9 780.6 1091.6 780 1096.2 779.4 1102 778.8 1107.8 778.6 1114.7 778.5 1121.6 778.7 1130.9 779.3 1140.1 779.9 1149.4 780.6 1160.9 781.4 1172.5 782.2 1186.4 783.1 1200.2 783.9 1216.4 784.8 1234.9 785.7 1253.4 786.7 1274.2 787.7 1295.1 788.8 1315.9 789.8 1339 791M1061.5 797 1062.4 797 1063.3 796.9 1064.3 796.7 1065.4 796.3 1066.8 795.3 1068.4 793.5 1070.3 790.6 1072.4 786.3 1074.7 780.2 1077.2 772.4 1080 762.9 1083.5 750.4 1086.9 737.9 1091.6 722.8 1096.2 710.3 1102 699.3 1107.8 693.7 1114.7 693.1 1121.6 697.9 1130.9 709.5 1140.1 723.7 1149.4 738.2 1160.9 754.3 1172.5 767.1 1186.4 778.3 1200.2 785.6 1216.4 790.8 1234.9 794 1253.4 795.7 1274.2 796.7 1295.1 797.3 1315.9 797.8 1339 798.2M1061.5 745.1 1062.4 750 1063.3 754.2 1064.3 757.6 1065.4 761 1066.8 763.8 1068.4 765.6 1070.3 765.9 1072.4 764.6 1074.7 761.6 1077.2 756.8 1080 750.5 1083.5 741.9 1086.9 733.3 1091.6 722.7 1096.2 713.8 1102 705.6 1107.8 700.8 1114.7 699 1121.6 700.8 1130.9 707.2 1140.1 716.2 1149.4 726.4 1160.9 738.9 1172.5 750.3 1186.4 761.7 1200.2 770.6 1216.4 778.3 1234.9 784.4 1253.4 788.7 1274.2 792.2 1295.1 794.9 1315.9 797.2 1339 798.2M1061.5 490.8 1062.4 490.8 1063.3 490.8 1064.3 490.8 1065.4 490.8 1066.8 490.8 1068.4 490.8 1070.3 490.8 1072.4 561.7 1074.7 624.8 1077.2 672 1080 705.7 1083.5 730.9 1086.9 744.7 1091.6 753.4 1096.2 756.4 1102 756.8 1107.8 755.8 1114.7 754.5 1121.6 753.6 1130.9 753.3 1140.1 753.7 1149.4 754.7 1160.9 756.4 1172.5 758.3 1186.4 760.5 1200.2 762.5 1216.4 764.7 1234.9 766.8 1253.4 768.6 1274.2 770.5 1295.1 772.2 1315.9 773.9 1339 775.8M1061.5 746.2 1062.4 750.8 1063.3 754.7 1064.3 758 1065.4 761.4 1066.8 764.4 1068.4 766.9 1070.3 768.6 1072.4 769.3 1074.7 769 1077.2 767.8 1080 765.8 1083.5 762.6 1086.9 759 1091.6 754.3 1096.2 749.9 1102 745.3 1107.8 741.7 1114.7 738.9 1121.6 737.5 1130.9 737.7 1140.1 739.6 1149.4 742.6 1160.9 747.3 1172.5 752.3 1186.4 758.1 1200.2 763.5 1216.4 769 1234.9 774.4 1253.4 779 1274.2 783.5 1295.1 787.7 1315.9 791.6 1339 795.8M1061.5 785.8 1062.4 785.6 1063.3 785.3 1064.3 784.8 1065.4 783.9 1066.8 782.6 1068.4 780.7 1070.3 778.2 1072.4 775 1074.7 771.1 1077.2 766.7 1080 761.9 1083.5 756.2 1086.9 751 1091.6 745.1 1096.2 740.6 1102 736.8 1107.8 734.7 1114.7 733.9 1121.6 734.1 1130.9 735.3 1140.1 736.6 1149.4 737.8 1160.9 738.9 1172.5 739.5 1186.4 739.9 1200.2 740.1 1216.4 740.1 1234.9 740.1 1253.4 740.1 1274.2 740.1 1295.1 740.2 1315.9 740.2 1339 740.2M1061.5 741.8 1062.4 749.6 1063.3 756.2 1064.3 761.5 1065.4 766.7 1066.8 771.2 1068.4 774.1 1070.3 775.1 1072.4 773.7 1074.7 769.7 1077.2 763.2 1080 754.6 1083.5 742.9 1086.9 731.4 1091.6 718.3 1096.2 708.7 1102 702.3 1107.8 701.5 1114.7 706.1 1121.6 714.5 1130.9 727.8 1140.1 740.6 1149.4 751.3 1160.9 761.1 1172.5 767.5 1186.4 772.1 1200.2 774.5 1216.4 776.1 1234.9 777 1253.4 777.6 1274.2 778.1 1295.1 778.6 1315.9 779.1 1339 779.6M1061.5 760.7 1062.4 764 1063.3 766.8 1064.3 769 1065.4 771.2 1066.8 773.1 1068.4 774.4 1070.3 774.9 1072.4 774.5 1074.7 773.3 1077.2 771.4 1080 768.8 1083.5 765.2 1086.9 761.6 1091.6 757.3 1096.2 753.7 1102 750.3 1107.8 748.2 1114.7 747.2 1121.6 747.5 1130.9 749.5 1140.1 752.4 1149.4 755.9 1160.9 760.4 1172.5 764.6 1186.4 769.1 1200.2 772.9 1216.4 776.6 1234.9 780.2 1253.4 783.3 1274.2 786.5 1295.1 789.4 1315.9 792.3 1339 795.4M1061.5 789.5 1062.4 788.8 1063.3 788 1064.3 787.2 1065.4 786.2 1066.8 784.9 1068.4 783.2 1070.3 781.2 1072.4 778.7 1074.7 775.8 1077.2 772.5 1080 768.7 1083.5 763.9 1086.9 759.3 1091.6 753.3 1096.2 747.8 1102 742 1107.8 737.3 1114.7 733.3 1121.6 731 1130.9 730.1 1140.1 731.2 1149.4 733.7 1160.9 737.9 1172.5 742.6 1186.4 748.3 1200.2 753.4 1216.4 758.6 1234.9 763.3 1253.4 767 1274.2 770.3 1295.1 773 1315.9 775.4 1339 777.8M1061.5 794.3 1062.4 794.5 1063.3 794.7 1064.3 794.8 1065.4 795 1066.8 795 1068.4 794.9 1070.3 794.5 1072.4 793.7 1074.7 792.4 1077.2 790.3 1080 787.3 1083.5 782.7 1086.9 777.4 1091.6 769.6 1096.2 761.5 1102 752 1107.8 743.8 1114.7 736.7 1121.6 732.6 1130.9 731.6 1140.1 734.7 1149.4 740.6 1160.9 749.7 1172.5 759.2 1186.4 769.4 1200.2 777.5 1216.4 784.4 1234.9 789.5 1253.4 792.5 1274.2 794.3 1295.1 795.4 1315.9 795.9 1339 796.4M1061.5 795.9 1062.4 794.8 1063.3 793.6 1064.3 792.5 1065.4 790.9 1066.8 789 1068.4 786.4 1070.3 783.1 1072.4 779 1074.7 774.2 1077.2 768.9 1080 763.5 1083.5 757.8 1086.9 753.5 1091.6 750.1 1096.2 749 1102 750.1 1107.8 752.9 1114.7 757 1121.6 761.1 1130.9 765.8 1140.1 769.4 1149.4 772.2 1160.9 775 1172.5 777.4 1186.4 780.1 1200.2 782.7 1216.4 785.7 1234.9 789.2 1253.4 792.7 1274.2 796.6 1295.1 798.3 1315.9 798.3 1339 798.3M1061.5 797.2 1062.4 795.3 1063.3 793.4 1064.3 791.6 1065.4 789.4 1066.8 786.8 1068.4 783.6 1070.3 780.1 1072.4 776 1074.7 771.5 1077.2 766.7 1080 761.5 1083.5 755.5 1086.9 750 1091.6 743.8 1096.2 738.9 1102 734.8 1107.8 732.6 1114.7 732 1121.6 733.1 1130.9 736.2 1140.1 740.2 1149.4 744.3 1160.9 749.2 1172.5 753.5 1186.4 757.9 1200.2 761.7 1216.4 765.4 1234.9 769.3 1253.4 773 1274.2 776.9 1295.1 780.9 1315.9 784.8 1339 789.1M1061.5 767.2 1062.4 771 1063.3 773.8 1064.3 775.6 1065.4 777 1066.8 777.4 1068.4 776.9 1070.3 775.1 1072.4 772.3 1074.7 768.5 1077.2 764.1 1080 759.1 1083.5 753.3 1086.9 748 1091.6 742.1 1096.2 737.5 1102 733.6 1107.8 731.3 1114.7 730.5 1121.6 731.2 1130.9 733.9 1140.1 737.9 1149.4 742.5 1160.9 748.3 1172.5 754 1186.4 760 1200.2 765.1 1216.4 769.8 1234.9 773.9 1253.4 776.9 1274.2 779.3 1295.1 781 1315.9 782.3 1339 783.5M1061.5 490.8 1062.4 490.8 1063.3 490.8 1064.3 490.8 1065.4 490.8 1066.8 490.8 1068.4 490.8 1070.3 490.8 1072.4 493.9 1074.7 551.9 1077.2 597.5 1080 631.1 1083.5 656.3 1086.9 669 1091.6 674.5 1096.2 673.4 1102 669 1107.8 665.2 1114.7 663.8 1121.6 666.5 1130.9 675 1140.1 686.9 1149.4 699.9 1160.9 715.3 1172.5 728.5 1186.4 740.6 1200.2 749.2 1216.4 755.8 1234.9 760.4 1253.4 763.2 1274.2 765.3 1295.1 766.9 1315.9 768.2 1339 769.5M1061.5 789 1062.4 788.6 1063.3 788.1 1064.3 787.4 1065.4 786.2 1066.8 784.3 1068.4 781.4 1070.3 777.6 1072.4 772.6 1074.7 766.9 1077.2 760.7 1080 754.6 1083.5 748.5 1086.9 744.2 1091.6 741.2 1096.2 740.7 1102 742.3 1107.8 745.1 1114.7 748.9 1121.6 752.2 1130.9 755.6 1140.1 758 1149.4 759.6 1160.9 761.3 1172.5 762.7 1186.4 764.4 1200.2 766.1 1216.4 768.2 1234.9 770.5 1253.4 773 1274.2 775.7 1295.1 778.4 1315.9 781.2 1339 784.2M1061.5 787 1062.4 786.9 1063.3 786.6 1064.3 786.3 1065.4 785.6 1066.8 784.6 1068.4 783.2 1070.3 781.3 1072.4 779 1074.7 776.5 1077.2 773.8 1080 771.1 1083.5 768.2 1086.9 766.1 1091.6 764.1 1096.2 763.1 1102 762.9 1107.8 763.3 1114.7 764.4 1121.6 765.7 1130.9 767.5 1140.1 769.1 1149.4 770.6 1160.9 772.4 1172.5 774 1186.4 775.9 1200.2 777.7 1216.4 779.9 1234.9 782.5 1253.4 785 1274.2 787.9 1295.1 790.8 1315.9 793.7 1339 796.9M1061.5 753.6 1062.4 756.5 1063.3 759 1064.3 761.1 1065.4 763.1 1066.8 764.9 1068.4 766.2 1070.3 766.6 1072.4 766.1 1074.7 764.6 1077.2 762.2 1080 759.2 1083.5 755.4 1086.9 751.8 1091.6 748 1096.2 745.5 1102 744 1107.8 744.1 1114.7 745.6 1121.6 747.8 1130.9 751.1 1140.1 754.2 1149.4 756.6 1160.9 758.9 1172.5 760.5 1186.4 761.7 1200.2 762.6 1216.4 763.3 1234.9 764.1 1253.4 764.7 1274.2 765.5 1295.1 766.2 1315.9 766.9 1339 767.7M1061.5 758.2 1062.4 764.9 1063.3 770.2 1064.3 774.3 1065.4 778 1066.8 780.8 1068.4 781.9 1070.3 781.1 1072.4 777.9 1074.7 772.2 1077.2 764.3 1080 754.5 1083.5 741.6 1086.9 729.3 1091.6 715.1 1096.2 704.5 1102 696.8 1107.8 694.9 1114.7 698.6 1121.6 706.6 1130.9 720.5 1140.1 734.9 1149.4 747.6 1160.9 760.1 1172.5 769 1186.4 775.9 1200.2 779.9 1216.4 782.6 1234.9 784.2 1253.4 785.2 1274.2 786 1295.1 786.7 1315.9 787.3 1339 788M1061.5 789.1 1062.4 788 1063.3 786.9 1064.3 785.8 1065.4 784.5 1066.8 782.8 1068.4 780.8 1070.3 778.6 1072.4 776.1 1074.7 773.5 1077.2 770.6 1080 767.7 1083.5 764.4 1086.9 761.3 1091.6 757.8 1096.2 754.8 1102 751.8 1107.8 749.5 1114.7 747.5 1121.6 746 1130.9 744.8 1140.1 744 1149.4 743.5 1160.9 743.3 1172.5 743.1 1186.4 743.2 1200.2 743.3 1216.4 743.5 1234.9 743.8 1253.4 744.1 1274.2 744.5 1295.1 744.9 1315.9 745.3 1339 745.8M1061.5 738.4 1062.4 746.2 1063.3 752.5 1064.3 757.8 1065.4 763 1066.8 767.6 1068.4 771.1 1070.3 773.2 1072.4 773.8 1074.7 772.8 1077.2 770.5 1080 767 1083.5 762.1 1086.9 757.2 1091.6 751.2 1096.2 746.5 1102 742.7 1107.8 741.1 1114.7 741.6 1121.6 743.8 1130.9 748.4 1140.1 753.5 1149.4 758.4 1160.9 763.8 1172.5 768 1186.4 772 1200.2 775 1216.4 777.9 1234.9 780.7 1253.4 783.3 1274.2 786.2 1295.1 789 1315.9 791.7 1339 794.8M1061.5 775.7 1062.4 776.2 1063.3 776.5 1064.3 776.7 1065.4 776.8 1066.8 776.6 1068.4 776 1070.3 775 1072.4 773.5 1074.7 771.4 1077.2 768.7 1080 765.5 1083.5 761.3 1086.9 757.1 1091.6 751.6 1096.2 746.6 1102 741.4 1107.8 737.5 1114.7 734.5 1121.6 733.3 1130.9 733.9 1140.1 736.6 1149.4 740.5 1160.9 746.3 1172.5 752.4 1186.4 759.5 1200.2 765.9 1216.4 772.3 1234.9 778.6 1253.4 784 1274.2 789.3 1295.1 794.2 1315.9 798.1 1339 798.2M1061.5 787.9 1062.4 787.5 1063.3 786.9 1064.3 786.2 1065.4 785.3 1066.8 784 1068.4 782.3 1070.3 780.3 1072.4 777.8 1074.7 775 1077.2 771.7 1080 768.2 1083.5 763.9 1086.9 759.8 1091.6 754.8 1096.2 750.4 1102 745.9 1107.8 742.5 1114.7 739.7 1121.6 738.1 1130.9 737.5 1140.1 738.2 1149.4 739.7 1160.9 742.2 1172.5 744.9 1186.4 748.2 1200.2 751 1216.4 753.9 1234.9 756.5 1253.4 758.6 1274.2 760.5 1295.1 762.2 1315.9 763.6 1339 765.1M1061.5 785.4 1062.4 785.7 1063.3 785.9 1064.3 786 1065.4 786 1066.8 785.9 1068.4 785.6 1070.3 785.1 1072.4 784.4 1074.7 783.5 1077.2 782.5 1080 781.4 1083.5 780.1 1086.9 778.9 1091.6 777.5 1096.2 776.4 1102 775.5 1107.8 775.1 1114.7 774.9 1121.6 775.2 1130.9 775.9 1140.1 777 1149.4 778.2 1160.9 779.9 1172.5 781.6 1186.4 783.7 1200.2 785.9 1216.4 788.4 1234.9 791.2 1253.4 794.1 1274.2 797.3 1295.1 798.3 1315.9 798.3 1339 798.3M1061.5 793.6 1062.4 792.5 1063.3 791.5 1064.3 790.5 1065.4 789.2 1066.8 787.6 1068.4 785.7 1070.3 783.5 1072.4 781.1 1074.7 778.4 1077.2 775.7 1080 773 1083.5 770.3 1086.9 768.2 1091.6 766.2 1096.2 765.1 1102 764.3 1107.8 764 1114.7 763.9 1121.6 764 1130.9 764.3 1140.1 764.9 1149.4 765.7 1160.9 766.9 1172.5 768.2 1186.4 770 1200.2 771.9 1216.4 774.1 1234.9 776.8 1253.4 779.4 1274.2 782.4 1295.1 785.5 1315.9 788.5 1339 791.8M1061.5 490.8 1062.4 490.8 1063.3 490.8 1064.3 491.6 1065.4 537.9 1066.8 582.7 1068.4 623.1 1070.3 656.9 1072.4 683.1 1074.7 701.6 1077.2 713 1080 718.4 1083.5 718.7 1086.9 715 1091.6 707.4 1096.2 699 1102 689.4 1107.8 681.6 1114.7 675.2 1121.6 671.7 1130.9 671.1 1140.1 674.1 1149.4 679.7 1160.9 688.8 1172.5 699.2 1186.4 712 1200.2 724.2 1216.4 736.9 1234.9 749.1 1253.4 758.9 1274.2 767.4 1295.1 773.9 1315.9 778.8 1339 783M1061.5 795 1062.4 794.5 1063.3 793.9 1064.3 793.2 1065.4 792.1 1066.8 790.5 1068.4 788.2 1070.3 785 1072.4 780.7 1074.7 775.1 1077.2 768.2 1080 760 1083.5 749 1086.9 737.9 1091.6 723.3 1096.2 709.8 1102 695.4 1107.8 684.1 1114.7 675.1 1121.6 670.7 1130.9 671 1140.1 676.5 1149.4 685.4 1160.9 698.9 1172.5 712.9 1186.4 728.4 1200.2 741.6 1216.4 753.5 1234.9 763.3 1253.4 769.9 1274.2 774.6 1295.1 777.8 1315.9 779.9 1339 781.7M1061.5 791.9 1062.4 791.3 1063.3 790.6 1064.3 790 1065.4 789.2 1066.8 788.3 1068.4 787.2 1070.3 786 1072.4 784.7 1074.7 783.2 1077.2 781.6 1080 779.9 1083.5 777.9 1086.9 776 1091.6 773.7 1096.2 771.7 1102 769.7 1107.8 768.3 1114.7 767.4 1121.6 767.1 1130.9 767.7 1140.1 769 1149.4 770.8 1160.9 773.3 1172.5 775.9 1186.4 778.9 1200.2 781.7 1216.4 784.7 1234.9 787.9 1253.4 790.9 1274.2 794.1 1295.1 797.3 1315.9 798.3 1339 798.3M1061.5 797.5 1062.4 795.5 1063.3 793.5 1064.3 791.5 1065.4 788.9 1066.8 785.7 1068.4 782 1070.3 777.8 1072.4 773 1074.7 767.7 1077.2 762.1 1080 756.3 1083.5 749.4 1086.9 743.2 1091.6 735.8 1096.2 729.6 1102 723.3 1107.8 718.7 1114.7 714.9 1121.6 712.8 1130.9 712.1 1140.1 712.9 1149.4 714.8 1160.9 717.8 1172.5 721.1 1186.4 724.8 1200.2 728.1 1216.4 731.2 1234.9 733.8 1253.4 735.6 1274.2 737 1295.1 737.9 1315.9 738.5 1339 738.9M1061.5 490.8 1062.4 490.8 1063.3 490.8 1064.3 490.8 1065.4 490.8 1066.8 490.8 1068.4 490.8 1070.3 490.8 1072.4 514.8 1074.7 588.6 1077.2 645.7 1080 688 1083.5 721.1 1086.9 740.3 1091.6 753.4 1096.2 758.8 1102 760.7 1107.8 760.8 1114.7 760.6 1121.6 761.1 1130.9 762.8 1140.1 765.3 1149.4 768.1 1160.9 771.5 1172.5 774.4 1186.4 777 1200.2 779 1216.4 780.6 1234.9 781.9 1253.4 783 1274.2 784 1295.1 785 1315.9 785.9 1339 786.9M1061.5 738.8 1062.4 747.5 1063.3 754.7 1064.3 760.5 1065.4 766.3 1066.8 771.5 1068.4 775.7 1070.3 778.6 1072.4 780.3 1074.7 780.8 1077.2 780.3 1080 779 1083.5 777 1086.9 774.8 1091.6 771.9 1096.2 769.4 1102 766.8 1107.8 765 1114.7 763.5 1121.6 762.8 1130.9 762.7 1140.1 763.2 1149.4 764.1 1160.9 765.4 1172.5 766.6 1186.4 768 1200.2 769 1216.4 769.9 1234.9 770.7 1253.4 771.2 1274.2 771.5 1295.1 771.8 1315.9 772 1339 772.2M1061.5 764 1062.4 768.7 1063.3 772.1 1064.3 774.4 1065.4 775.8 1066.8 775.7 1068.4 773.4 1070.3 768.5 1072.4 761.1 1074.7 751.1 1077.2 739.2 1080 725.9 1083.5 710.1 1086.9 696.2 1091.6 681.4 1096.2 671.3 1102 665 1107.8 664.8 1114.7 670.3 1121.6 680.1 1130.9 696.4 1140.1 713.2 1149.4 728.7 1160.9 745 1172.5 757.4 1186.4 768.1 1200.2 775.1 1216.4 780.2 1234.9 783.7 1253.4 785.8 1274.2 787.4 1295.1 788.6 1315.9 789.7 1339 790.9M1061.5 786.4 1062.4 787.9 1063.3 789 1064.3 789.9 1065.4 790.5 1066.8 790.6 1068.4 790 1070.3 788.6 1072.4 786.1 1074.7 782.5 1077.2 777.8 1080 772.1 1083.5 764.5 1086.9 756.8 1091.6 747 1096.2 738.1 1102 728.8 1107.8 721.9 1114.7 716.5 1121.6 714.3 1130.9 715.2 1140.1 719.5 1149.4 725.9 1160.9 735.5 1172.5 745.4 1186.4 756.6 1200.2 766.1 1216.4 775.1 1234.9 782.5 1253.4 787.6 1274.2 791.2 1295.1 793.4 1315.9 794.7 1339 795.6M1061.5 757.2 1062.4 760.3 1063.3 762.8 1064.3 764.9 1065.4 767.1 1066.8 769 1068.4 770.5 1070.3 771.5 1072.4 771.8 1074.7 771.4 1077.2 770.5 1080 768.9 1083.5 766.7 1086.9 764.3 1091.6 761.2 1096.2 758.4 1102 755.4 1107.8 753.1 1114.7 751.1 1121.6 750 1130.9 749.5 1140.1 750 1149.4 751.1 1160.9 753.2 1172.5 755.6 1186.4 758.8 1200.2 762 1216.4 765.6 1234.9 769.3 1253.4 772.6 1274.2 775.8 1295.1 778.7 1315.9 781.3 1339 783.9M1061.5 738.1 1062.4 743.3 1063.3 747.9 1064.3 751.8 1065.4 755.6 1066.8 758.4 1068.4 759 1070.3 756.5 1072.4 750.1 1074.7 740 1077.2 726.9 1080 712.5 1083.5 697.2 1086.9 686.7 1091.6 681.5 1096.2 685 1102 697.9 1107.8 715.2 1114.7 736.4 1121.6 754.6 1130.9 772.1 1140.1 782.9 1149.4 789 1160.9 792.9 1172.5 794.5 1186.4 795.4 1200.2 795.8 1216.4 796.1 1234.9 796.4 1253.4 796.7 1274.2 797.1 1295.1 797.4 1315.9 797.7 1339 798.1M1061.5 765.7 1062.4 767.6 1063.3 769 1064.3 770 1065.4 770.9 1066.8 771.3 1068.4 771.1 1070.3 770.2 1072.4 768.5 1074.7 766.1 1077.2 763 1080 759.5 1083.5 755.1 1086.9 751 1091.6 746.3 1096.2 742.6 1102 739.3 1107.8 737.5 1114.7 736.7 1121.6 737.1 1130.9 738.9 1140.1 741.3 1149.4 744 1160.9 747.2 1172.5 750.1 1186.4 753.1 1200.2 755.6 1216.4 758.2 1234.9 760.7 1253.4 763 1274.2 765.5 1295.1 767.9 1315.9 770.3 1339 773M1061.5 779.3 1062.4 780.6 1063.3 781.6 1064.3 782.3 1065.4 782.7 1066.8 782.8 1068.4 782.2 1070.3 780.8 1072.4 778.4 1074.7 775.2 1077.2 770.9 1080 765.9 1083.5 759.1 1086.9 752.4 1091.6 743.9 1096.2 736.2 1102 728.1 1107.8 722 1114.7 717.3 1121.6 715 1130.9 715.4 1140.1 718.5 1149.4 723.6 1160.9 731.4 1172.5 739.8 1186.4 749.7 1200.2 758.5 1216.4 767.1 1234.9 774.7 1253.4 780.3 1274.2 784.7 1295.1 787.7 1315.9 789.8 1339 791.4M1061.5 777.3 1062.4 779.2 1063.3 780.5 1064.3 781.4 1065.4 781.9 1066.8 782 1068.4 781.4 1070.3 780.2 1072.4 778.5 1074.7 776.2 1077.2 773.7 1080 771.1 1083.5 768.2 1086.9 765.7 1091.6 763.1 1096.2 761.4 1102 760.2 1107.8 759.8 1114.7 760.2 1121.6 761.1 1130.9 763 1140.1 765.1 1149.4 767.3 1160.9 770.1 1172.5 772.8 1186.4 775.9 1200.2 778.9 1216.4 782.4 1234.9 786.3 1253.4 790.2 1274.2 794.6 1295.1 798.3 1315.9 798.3 1339 798.3M1061.5 796.3 1062.4 795.4 1063.3 794.2 1064.3 792.9 1065.4 791.1 1066.8 788.7 1068.4 785.7 1070.3 782.3 1072.4 778.5 1074.7 774.7 1077.2 771 1080 767.7 1083.5 764.6 1086.9 762.4 1091.6 760.8 1096.2 760.3 1102 760.7 1107.8 761.6 1114.7 763 1121.6 764.4 1130.9 766 1140.1 767.3 1149.4 768.3 1160.9 769.2 1172.5 770.1 1186.4 771 1200.2 771.8 1216.4 772.8 1234.9 774 1253.4 775.2 1274.2 776.6 1295.1 777.9 1315.9 779.3 1339 780.8M1061.5 782.4 1062.4 784.5 1063.3 786.1 1064.3 787.2 1065.4 788 1066.8 788.2 1068.4 787.3 1070.3 785 1072.4 781.3 1074.7 776 1077.2 769.6 1080 762.5 1083.5 754.3 1086.9 747.8 1091.6 742.2 1096.2 740.1 1102 741.4 1107.8 745.6 1114.7 752.4 1121.6 759.4 1130.9 767.4 1140.1 773.3 1149.4 777.2 1160.9 780.1 1172.5 781.7 1186.4 782.7 1200.2 783.3 1216.4 783.8 1234.9 784.3 1253.4 784.8 1274.2 785.3 1295.1 785.8 1315.9 786.3 1339 786.9M1061.5 734 1062.4 741.7 1063.3 748.2 1064.3 753.8 1065.4 759.6 1066.8 765.1 1068.4 769.9 1070.3 773.7 1072.4 776.3 1074.7 777.7 1077.2 778.1 1080 777.6 1083.5 776.2 1086.9 774.5 1091.6 772 1096.2 769.7 1102 767.5 1107.8 766 1114.7 765.2 1121.6 765.1 1130.9 765.9 1140.1 767.4 1149.4 769.2 1160.9 771.5 1172.5 773.6 1186.4 775.9 1200.2 777.7 1216.4 779.4 1234.9 781 1253.4 782.2 1274.2 783.4 1295.1 784.5 1315.9 785.5 1339 786.6M1061.5 768.6 1062.4 772.2 1063.3 775.3 1064.3 777.8 1065.4 780 1066.8 781.7 1068.4 782.2 1070.3 781.2 1072.4 778.2 1074.7 773.3 1077.2 766.4 1080 757.7 1083.5 746.3 1086.9 735.3 1091.6 722.3 1096.2 712.4 1102 704.7 1107.8 702.1 1114.7 704.5 1121.6 711.1 1130.9 723.6 1140.1 737.2 1149.4 749.9 1160.9 763.4 1172.5 773.5 1186.4 782 1200.2 787.4 1216.4 791.3 1234.9 793.8 1253.4 795.5 1274.2 796.8 1295.1 797.9 1315.9 798.3 1339 798.3M1061.5 741.1 1062.4 745 1063.3 748.5 1064.3 751.5 1065.4 754.7 1066.8 757.8 1068.4 760.5 1070.3 762.8 1072.4 764.3 1074.7 765.1 1077.2 765 1080 764.3 1083.5 762.6 1086.9 760.5 1091.6 757.6 1096.2 755 1102 752.3 1107.8 750.7 1114.7 750 1121.6 750.5 1130.9 752.4 1140.1 755.1 1149.4 758.2 1160.9 762 1172.5 765.6 1186.4 769.5 1200.2 773 1216.4 776.8 1234.9 780.9 1253.4 784.8 1274.2 789.1 1295.1 793.5 1315.9 797.8 1339 798.3M1061.5 770.7 1062.4 772.4 1063.3 773.6 1064.3 774.4 1065.4 775 1066.8 775.1 1068.4 774.6 1070.3 773.6 1072.4 771.9 1074.7 769.8 1077.2 767.4 1080 764.8 1083.5 761.9 1086.9 759.3 1091.6 756.5 1096.2 754.5 1102 752.7 1107.8 751.7 1114.7 751.1 1121.6 751 1130.9 751.4 1140.1 752.1 1149.4 753.1 1160.9 754.4 1172.5 755.9 1186.4 757.8 1200.2 759.7 1216.4 762 1234.9 764.7 1253.4 767.5 1274.2 770.6 1295.1 773.7 1315.9 776.8 1339 780.2M1061.5 744.6 1062.4 748.9 1063.3 752.8 1064.3 756.1 1065.4 759.6 1066.8 762.7 1068.4 765 1070.3 766.1 1072.4 765.5 1074.7 763 1077.2 758.7 1080 752.8 1083.5 744.8 1086.9 737 1091.6 728.2 1096.2 722.1 1102 718.6 1107.8 719.2 1114.7 724 1121.6 731.5 1130.9 743.1 1140.1 754.3 1149.4 763.9 1160.9 773.3 1172.5 779.8 1186.4 785.1 1200.2 788.4 1216.4 791 1234.9 793.2 1253.4 794.9 1274.2 796.7 1295.1 798.3 1315.9 798.3 1339 798.3M1061.5 490.8 1062.4 490.8 1063.3 490.8 1064.3 490.8 1065.4 490.8 1066.8 490.8 1068.4 490.8 1070.3 536.8 1072.4 594.8 1074.7 641.4 1077.2 676.4 1080 700.4 1083.5 715.7 1086.9 720.3 1091.6 716.4 1096.2 706.6 1102 691.8 1107.8 678.1 1114.7 666.1 1121.6 660 1130.9 660.8 1140.1 669.3 1149.4 682.5 1160.9 701.6 1172.5 720.2 1186.4 739.3 1200.2 753.8 1216.4 765.6 1234.9 773.9 1253.4 778.8 1274.2 782 1295.1 784 1315.9 785.5 1339 786.8M1061.5 490.8 1062.4 490.8 1063.3 490.8 1064.3 490.8 1065.4 490.8 1066.8 490.8 1068.4 490.8 1070.3 538.7 1072.4 592.2 1074.7 636.5 1077.2 671.4 1080 697.8 1083.5 719.1 1086.9 731.8 1091.6 740.9 1096.2 744.9 1102 746.5 1107.8 746.4 1114.7 745.7 1121.6 745 1130.9 744.4 1140.1 744.4 1149.4 744.7 1160.9 745.4 1172.5 746.3 1186.4 747.5 1200.2 748.7 1216.4 749.9 1234.9 751.3 1253.4 752.5 1274.2 753.7 1295.1 754.8 1315.9 755.8 1339 757M1061.5 734.1 1062.4 743.7 1063.3 751.1 1064.3 756.7 1065.4 761.6 1066.8 765.2 1068.4 766.9 1070.3 766.7 1072.4 764.6 1074.7 761 1077.2 756.2 1080 750.9 1083.5 744.6 1086.9 739.2 1091.6 733.6 1096.2 729.7 1102 727.2 1107.8 726.6 1114.7 727.7 1121.6 730.1 1130.9 734.1 1140.1 738.3 1149.4 742.3 1160.9 746.7 1172.5 750.3 1186.4 753.8 1200.2 756.6 1216.4 759.4 1234.9 762.3 1253.4 764.9 1274.2 767.8 1295.1 770.6 1315.9 773.5 1339 776.6M1061.5 759.6 1062.4 763.7 1063.3 767.2 1064.3 770.2 1065.4 773.3 1066.8 776.2 1068.4 778.5 1070.3 780 1072.4 780.6 1074.7 780 1077.2 778.4 1080 775.8 1083.5 771.6 1086.9 766.8 1091.6 760.3 1096.2 754.1 1102 747.3 1107.8 741.9 1114.7 737.4 1121.6 735.1 1130.9 735 1140.1 737.5 1149.4 741.8 1160.9 748.6 1172.5 755.8 1186.4 764.2 1200.2 771.5 1216.4 778.6 1234.9 784.8 1253.4 789.3 1274.2 793 1295.1 795.8 1315.9 797.5 1339 797.9M1061.5 739.4 1062.4 744.5 1063.3 748.8 1064.3 752.5 1065.4 756.4 1066.8 760 1068.4 763.2 1070.3 765.7 1072.4 767.4 1074.7 768.3 1077.2 768.4 1080 767.9 1083.5 766.7 1086.9 765.2 1091.6 763.2 1096.2 761.3 1102 759.3 1107.8 757.7 1114.7 756.3 1121.6 755.4 1130.9 754.8 1140.1 754.7 1149.4 755 1160.9 755.6 1172.5 756.4 1186.4 757.5 1200.2 758.7 1216.4 760 1234.9 761.5 1253.4 763 1274.2 764.6 1295.1 766.1 1315.9 767.7 1339 769.4M1061.5 779.8 1062.4 780.8 1063.3 780.9 1064.3 780.3 1065.4 779 1066.8 776.6 1068.4 773.1 1070.3 768.5 1072.4 763 1074.7 756.7 1077.2 750 1080 743.3 1083.5 736 1086.9 730 1091.6 724.4 1096.2 721.1 1102 719.8 1107.8 721.1 1114.7 724.9 1121.6 730.4 1130.9 739 1140.1 747.8 1149.4 756 1160.9 765 1172.5 772.3 1186.4 779 1200.2 783.8 1216.4 787.8 1234.9 790.6 1253.4 792.5 1274.2 793.9 1295.1 794.8 1315.9 795.6 1339 796.3M1061.5 795.7 1062.4 794.3 1063.3 792.9 1064.3 791.4 1065.4 789.4 1066.8 786.8 1068.4 783.7 1070.3 780 1072.4 775.8 1074.7 771.2 1077.2 766.4 1080 761.3 1083.5 755.7 1086.9 750.8 1091.6 745.5 1096.2 741.7 1102 738.7 1107.8 737.5 1114.7 737.9 1121.6 739.8 1130.9 743.7 1140.1 748.5 1149.4 753.6 1160.9 759.7 1172.5 765.3 1186.4 771.2 1200.2 776.3 1216.4 781.4 1234.9 786.4 1253.4 790.9 1274.2 795.7 1295.1 798.1 1315.9 798.2 1339 798.3M1061.5 490.8 1062.4 490.8 1063.3 490.8 1064.3 490.8 1065.4 490.8 1066.8 490.8 1068.4 490.8 1070.3 490.8 1072.4 517.3 1074.7 578.1 1077.2 626.1 1080 661.6 1083.5 687.9 1086.9 700.4 1091.6 704.1 1096.2 700 1102 691.2 1107.8 683.4 1114.7 678.8 1121.6 680.1 1130.9 689.6 1140.1 704.5 1149.4 721.4 1160.9 741.4 1172.5 758.1 1186.4 772.9 1200.2 782.6 1216.4 789.4 1234.9 793.4 1253.4 795.4 1274.2 796.4 1295.1 797 1315.9 797.4 1339 797.8M1061.5 736.3 1062.4 746.4 1063.3 754.3 1064.3 760.4 1065.4 765.9 1066.8 769.9 1068.4 771.8 1070.3 771.3 1072.4 768.4 1074.7 763.4 1077.2 756.6 1080 748.8 1083.5 739.3 1086.9 730.9 1091.6 721.9 1096.2 715.7 1102 711.9 1107.8 711.6 1114.7 714.7 1121.6 720.3 1130.9 729.6 1140.1 739.2 1149.4 748.1 1160.9 757.4 1172.5 764.5 1186.4 770.5 1200.2 774.5 1216.4 777.5 1234.9 779.5 1253.4 780.8 1274.2 781.8 1295.1 782.6 1315.9 783.3 1339 784.1M1061.5 771.3 1062.4 773.2 1063.3 774.5 1064.3 775.4 1065.4 776 1066.8 775.9 1068.4 775 1070.3 773.2 1072.4 770.4 1074.7 766.9 1077.2 762.8 1080 758.5 1083.5 753.7 1086.9 749.8 1091.6 746.3 1096.2 744.4 1102 743.9 1107.8 744.7 1114.7 746.6 1121.6 748.9 1130.9 752.1 1140.1 755 1149.4 757.7 1160.9 760.7 1172.5 763.5 1186.4 766.9 1200.2 770.2 1216.4 774.2 1234.9 778.7 1253.4 783.2 1274.2 788.3 1295.1 793.4 1315.9 798.3 1339 798.3M1061.5 776.6 1062.4 777 1063.3 777.3 1064.3 777.5 1065.4 777.6 1066.8 777.7 1068.4 777.5 1070.3 777.1 1072.4 776.5 1074.7 775.6 1077.2 774.5 1080 773.2 1083.5 771.4 1086.9 769.8 1091.6 767.7 1096.2 765.9 1102 764.2 1107.8 763 1114.7 762.3 1121.6 762.1 1130.9 762.5 1140.1 763.3 1149.4 764.3 1160.9 765.7 1172.5 767.1 1186.4 768.7 1200.2 770.4 1216.4 772.3 1234.9 774.5 1253.4 776.7 1274.2 779.2 1295.1 781.6 1315.9 784.1 1339 786.9M1061.5 774 1062.4 776.9 1063.3 779.1 1064.3 780.9 1065.4 782.2 1066.8 782.6 1068.4 781.3 1070.3 777.7 1072.4 771.2 1074.7 761.6 1077.2 749.1 1080 734.7 1083.5 717.2 1086.9 702.4 1091.6 688.4 1096.2 681.7 1102 682.5 1107.8 690.5 1114.7 705.2 1121.6 721.4 1130.9 740.8 1140.1 755.7 1149.4 766 1160.9 773.8 1172.5 778.2 1186.4 780.9 1200.2 782.4 1216.4 783.5 1234.9 784.5 1253.4 785.4 1274.2 786.4 1295.1 787.4 1315.9 788.5 1339 789.6M1061.5 759.3 1062.4 762.5 1063.3 765.3 1064.3 767.7 1065.4 770.4 1066.8 773 1068.4 775.5 1070.3 777.7 1072.4 779.5 1074.7 780.8 1077.2 781.6 1080 781.9 1083.5 781.8 1086.9 781.3 1091.6 780.4 1096.2 779.4 1102 778.2 1107.8 777.2 1114.7 776.3 1121.6 775.8 1130.9 775.7 1140.1 776.1 1149.4 776.9 1160.9 778.1 1172.5 779.4 1186.4 781 1200.2 782.5 1216.4 784.1 1234.9 785.7 1253.4 787.2 1274.2 788.8 1295.1 790.2 1315.9 791.6 1339 793.2M1061.5 741.1 1062.4 746.3 1063.3 750.8 1064.3 754.5 1065.4 758.3 1066.8 761.9 1068.4 764.8 1070.3 766.9 1072.4 768 1074.7 768.2 1077.2 767.5 1080 766.1 1083.5 763.7 1086.9 761.2 1091.6 758 1096.2 755.2 1102 752.7 1107.8 751.1 1114.7 750.3 1121.6 750.4 1130.9 751.7 1140.1 753.6 1149.4 755.8 1160.9 758.5 1172.5 761.2 1186.4 764.1 1200.2 766.8 1216.4 769.9 1234.9 773.3 1253.4 776.6 1274.2 780.3 1295.1 783.9 1315.9 787.6 1339 791.7M1061.5 795.2 1062.4 794.6 1063.3 794 1064.3 793.2 1065.4 792.1 1066.8 790.7 1068.4 788.9 1070.3 786.7 1072.4 784.1 1074.7 781.1 1077.2 777.8 1080 774.3 1083.5 770.1 1086.9 766.3 1091.6 761.8 1096.2 758.1 1102 754.6 1107.8 752.2 1114.7 750.7 1121.6 750.5 1130.9 751.4 1140.1 753.4 1149.4 756 1160.9 759.5 1172.5 762.9 1186.4 766.6 1200.2 769.7 1216.4 772.7 1234.9 775.4 1253.4 777.5 1274.2 779.5 1295.1 781.1 1315.9 782.6 1339 784.1M1061.5 794.3 1062.4 794 1063.3 793.7 1064.3 793.3 1065.4 792.5 1066.8 791.2 1068.4 789.2 1070.3 786 1072.4 781.5 1074.7 775.4 1077.2 767.4 1080 757.7 1083.5 744.6 1086.9 731.2 1091.6 714.3 1096.2 699.4 1102 684.9 1107.8 675.6 1114.7 670.9 1121.6 672.3 1130.9 681 1140.1 694.2 1149.4 709.2 1160.9 727.5 1172.5 743.4 1186.4 758.4 1200.2 769.2 1216.4 777.7 1234.9 783.7 1253.4 787.5 1274.2 790.3 1295.1 792.4 1315.9 794.1 1339 795.9M1061.5 777.2 1062.4 779.1 1063.3 779.7 1064.3 779.3 1065.4 777.5 1066.8 774 1068.4 768.4 1070.3 760.8 1072.4 751.3 1074.7 740.4 1077.2 728.6 1080 716.7 1083.5 703.7 1086.9 693.1 1091.6 682.9 1096.2 677 1102 674.8 1107.8 676.9 1114.7 683.6 1121.6 692.9 1130.9 707.1 1140.1 721.2 1149.4 734.1 1160.9 747.8 1172.5 758.5 1186.4 768.1 1200.2 775 1216.4 780.5 1234.9 784.9 1253.4 788 1274.2 790.8 1295.1 793.3 1315.9 795.6 1339 798M1061.5 767.2 1062.4 769.9 1063.3 772.2 1064.3 774.3 1065.4 776.3 1066.8 778.2 1068.4 779.6 1070.3 780.2 1072.4 779.9 1074.7 778.3 1077.2 775.6 1080 771.5 1083.5 765.3 1086.9 758.4 1091.6 749 1096.2 739.9 1102 729.8 1107.8 721.8 1114.7 715.3 1121.6 712.2 1130.9 712.4 1140.1 716.6 1149.4 723.3 1160.9 733.4 1172.5 744 1186.4 755.7 1200.2 765.5 1216.4 774.6 1234.9 781.9 1253.4 787 1274.2 790.8 1295.1 793.4 1315.9 795.3 1339 797M1061.5 738.9 1062.4 743.4 1063.3 747.4 1064.3 751 1065.4 755 1066.8 759 1068.4 762.8 1070.3 766.1 1072.4 768.5 1074.7 769.8 1077.2 769.9 1080 768.7 1083.5 765.9 1086.9 762.3 1091.6 757.3 1096.2 752.9 1102 749.1 1107.8 747.4 1114.7 747.9 1121.6 750.6 1130.9 755.8 1140.1 761.6 1149.4 766.8 1160.9 772.1 1172.5 775.9 1186.4 778.9 1200.2 780.9 1216.4 782.6 1234.9 784 1253.4 785.3 1274.2 786.6 1295.1 787.9 1315.9 789.2 1339 790.7M1061.5 795.4 1062.4 794.3 1063.3 793.2 1064.3 792.1 1065.4 790.5 1066.8 788.4 1068.4 785.7 1070.3 782.4 1072.4 778.6 1074.7 774.5 1077.2 770.3 1080 766.5 1083.5 762.8 1086.9 760.2 1091.6 758.4 1096.2 757.9 1102 758.4 1107.8 759.4 1114.7 760.8 1121.6 762 1130.9 763.1 1140.1 763.8 1149.4 764.3 1160.9 764.7 1172.5 765 1186.4 765.4 1200.2 766 1216.4 766.6 1234.9 767.4 1253.4 768.2 1274.2 769.1 1295.1 770.1 1315.9 771 1339 772M1061.5 765 1062.4 767.2 1063.3 768.8 1064.3 770 1065.4 770.9 1066.8 771.2 1068.4 770.7 1070.3 769.3 1072.4 766.8 1074.7 763.3 1077.2 758.9 1080 753.7 1083.5 747.2 1086.9 741 1091.6 733.6 1096.2 727.6 1102 722.2 1107.8 719.1 1114.7 717.9 1121.6 719 1130.9 723.1 1140.1 729.1 1149.4 735.8 1160.9 744.5 1172.5 752.6 1186.4 761.1 1200.2 767.9 1216.4 774 1234.9 778.9 1253.4 782.2 1274.2 784.6 1295.1 786.1 1315.9 787.1 1339 787.9M1061.5 737.4 1062.4 743.7 1063.3 749.1 1064.3 753.6 1065.4 758.2 1066.8 762.3 1068.4 765.6 1070.3 767.7 1072.4 768.4 1074.7 767.8 1077.2 765.8 1080 762.7 1083.5 758.2 1086.9 753.4 1091.6 747.3 1096.2 742 1102 736.8 1107.8 733.5 1114.7 731.6 1121.6 731.8 1130.9 734.4 1140.1 738.9 1149.4 744.4 1160.9 751.8 1172.5 759.1 1186.4 767 1200.2 773.7 1216.4 779.9 1234.9 785.2 1253.4 789 1274.2 791.8 1295.1 793.8 1315.9 795.1 1339 796.2M1061.5 760.9 1062.4 764.4 1063.3 767.4 1064.3 769.9 1065.4 772.5 1066.8 774.7 1068.4 776.3 1070.3 777 1072.4 776.7 1074.7 775.5 1077.2 773.6 1080 771.3 1083.5 768.9 1086.9 767.1 1091.6 766 1096.2 766.2 1102 767.4 1107.8 769 1114.7 770.8 1121.6 772.2 1130.9 773.3 1140.1 773.8 1149.4 773.9 1160.9 773.9 1172.5 773.9 1186.4 773.8 1200.2 773.8 1216.4 773.9 1234.9 774 1253.4 774.1 1274.2 774.3 1295.1 774.4 1315.9 774.6 1339 774.7" fill="none" stroke="#d9e6f4" stroke-width="1" stroke-linejoin="round"/>
<path d="M1061.5 798.3 1061.5 798.1 1061.6 797.5 1061.8 796.7 1062 795.6 1062.2 794.3 1062.5 792.8 1062.8 791 1063.1 789 1063.5 786.7 1063.9 784.4 1064.3 782.5 1064.8 781.3 1065.3 780.6 1065.9 780 1066.5 779.3 1067.1 778.6 1067.7 777.9 1068.4 777.3 1069.1 776.6 1069.9 775.8 1070.6 775.1 1071.4 774.4 1072.2 773.6 1073.1 772.8 1074 771.9 1074.9 770.8 1075.8 769.6 1076.8 768.3 1077.8 766.9 1078.8 765.5 1079.9 764 1081 762.5 1082.1 761 1083.2 759.4 1084.4 757.8 1085.6 756.2 1086.8 754.6 1088 753.1 1089.3 751.7 1090.6 750.3 1091.9 749 1093.3 747.7 1094.6 746.4 1096 745.1 1097.5 743.9 1098.9 742.8 1100.4 741.8 1101.9 740.8 1103.4 740 1105 739.2 1106.6 738.5 1108.2 737.8 1109.8 737.2 1111.5 736.6 1113.1 736 1114.8 735.5 1116.6 735.1 1118.3 734.7 1120.1 734.4 1121.9 734.1 1123.7 733.9 1125.6 733.7 1127.4 733.5 1129.3 733.4 1131.2 733.4 1133.2 733.5 1135.1 733.7 1137.1 733.8 1139.2 734.1 1141.2 734.4 1143.3 734.8 1145.3 735.3 1147.4 735.7 1149.6 736.1 1151.7 736.6 1153.9 737 1156.1 737.5 1158.3 737.9 1160.6 738.4 1162.8 738.8 1165.1 739.3 1167.4 739.7 1169.8 740.2 1172.1 740.6 1174.5 741 1176.9 741.5 1179.4 742 1181.8 742.5 1184.3 743 1186.8 743.6 1189.3 744.2 1191.8 744.7 1194.4 745.3 1197 745.9 1199.6 746.5 1202.2 747.1 1204.9 747.7 1207.5 748.4 1210.2 749 1212.9 749.6 1215.7 750.3 1218.4 750.9 1221.2 751.5 1224 752.1 1226.8 752.7 1229.7 753.3 1232.6 753.9 1235.4 754.5 1238.3 755.1 1241.3 755.7 1244.2 756.2 1247.2 756.8 1250.2 757.4 1253.2 757.9 1256.3 758.5 1259.3 759 1262.4 759.5 1265.5 760 1268.6 760.5 1271.8 761 1274.9 761.5 1278.1 762 1281.3 762.4 1284.5 762.8 1287.8 763.3 1291.1 763.7 1294.4 764.1 1297.7 764.5 1301 764.9 1304.3 765.2 1307.7 765.6 1311.1 765.9 1314.5 766.3 1318 766.6 1321.4 766.9 1324.9 767.2 1328.4 767.5 1331.9 767.7 1335.4 768 1339 768.3" fill="none" stroke="#5b9bd5" stroke-width="8.2" stroke-linejoin="round" stroke-linecap="round"/>
</g>
<line x1="1148.2" y1="518" x2="1148.2" y2="798.3" stroke="#5b9bd5" stroke-width="2" stroke-linecap="butt"/>
<line x1="1061.5" y1="519.8" x2="1061.5" y2="799.7" stroke="#000" stroke-width="2.8" stroke-linecap="butt"/>
<line x1="1057.5" y1="798.3" x2="1340.2" y2="798.3" stroke="#000" stroke-width="2.8" stroke-linecap="butt"/>
<line x1="1061.5" y1="798.3" x2="1061.5" y2="803" stroke="#000" stroke-width="2.2" stroke-linecap="butt"/>
<line x1="1154" y1="798.3" x2="1154" y2="803" stroke="#000" stroke-width="2.2" stroke-linecap="butt"/>
<line x1="1246.5" y1="798.3" x2="1246.5" y2="803" stroke="#000" stroke-width="2.2" stroke-linecap="butt"/>
<line x1="1339" y1="798.3" x2="1339" y2="803" stroke="#000" stroke-width="2.2" stroke-linecap="butt"/>
<line x1="1057" y1="521.3" x2="1061.5" y2="521.3" stroke="#000" stroke-width="2" stroke-linecap="butt"/>
<text x="1046.4" y="534.5" font-size="28.3" text-anchor="end" fill="#000">0.05</text>
<line x1="1057" y1="659.8" x2="1061.5" y2="659.8" stroke="#000" stroke-width="2" stroke-linecap="butt"/>
<text x="1046.4" y="673.5" font-size="28.3" text-anchor="end" fill="#000">0.025</text>
<line x1="1057" y1="798.3" x2="1061.5" y2="798.3" stroke="#000" stroke-width="2" stroke-linecap="butt"/>
<text x="1046.4" y="811.6" font-size="28.3" text-anchor="end" fill="#000">0</text>
<text x="1057.7" y="833.6" font-size="28.3" text-anchor="middle" fill="#000">0</text>
<text x="1150.2" y="833.6" font-size="28.3" text-anchor="middle" fill="#000">4</text>
<text x="1242.4" y="833.6" font-size="28.3" text-anchor="middle" fill="#000">8</text>
<text x="1333.5" y="833.6" font-size="28.3" text-anchor="middle" fill="#000">12</text>
<text x="1206.5" y="867.6" font-size="29" text-anchor="middle" fill="#000">Time (s)</text>
<text x="1123.3" y="513.6" font-size="40.04" text-anchor="start" fill="#5b9bd5" font-family='"Liberation Serif", "DejaVu Serif", serif' font-style="italic">t</text>
<text transform='translate(1149.3 513.6) scale(1.36 1)' font-size='38.5' fill='#5b9bd5' font-family='"Liberation Serif", "DejaVu Serif", serif'>=</text>
<text x="1199.2" y="513.6" font-size="38.5" text-anchor="middle" fill="#5b9bd5" font-family='"Liberation Serif", "DejaVu Serif", serif'>3</text>
<text x="1214.2" y="513.6" font-size="40.04" text-anchor="middle" fill="#5b9bd5" font-family='"Liberation Serif", "DejaVu Serif", serif'>.</text>
<text x="1229.1" y="513.6" font-size="38.5" text-anchor="middle" fill="#5b9bd5" font-family='"Liberation Serif", "DejaVu Serif", serif'>7</text>
<text x="1248.4" y="513.6" font-size="38.5" text-anchor="middle" fill="#5b9bd5" font-family='"Liberation Serif", "DejaVu Serif", serif'>5</text>
<text x="1259.4" y="513.6" font-size="40.81" text-anchor="start" fill="#5b9bd5" font-family='"Liberation Serif", "DejaVu Serif", serif' font-style="italic">s</text>
<clipPath id="c4"><rect x="1470.8" y="520.8" width="285.5" height="283.5"/></clipPath>
<g clip-path="url(#c4)">
<path d="M1474.8 798.3 1474.8 465.3 1481.7 465.3 1486.4 631.8 1491 715 1495.6 765 1502.5 798.3Z" fill="#cfeaf2"/>
<path d="M1578.9 756.7 1602 745.6 1620.5 738.4 1659.8 728.9 1706 717.8 1752.3 706.7 1752.3 787.2 1706 781.6 1659.8 770.5 1636.7 765 1613.5 760.6 1590.4 759.4Z" fill="#cfeaf2"/>
<path d="M1474.8 798.3 1752.3 798.3 1752.3 791.6 1544.2 791.6 1521 781.6 1509.5 776.1 1474.8 776.1Z" fill="#cfeaf2"/>
<path d="M1474.8 514.4 1475.7 564.8 1476.6 606.2 1477.6 640.3 1478.7 674.5 1480.1 705.9 1481.7 732.7 1483.6 753.9 1485.7 769.6 1488 780.5 1490.5 787.5 1493.3 791.5 1496.1 793.3 1499.1 793.7 1502.5 793 1506 791.4 1509.5 789.2 1513 786.5 1516.4 783.7 1521 779.6 1525.7 775.5 1530.3 771.6 1534.9 768.1 1539.5 764.2 1544.2 758.8 1550 750.5 1555.7 741.5 1561.5 732.6 1567.3 724.5 1574.2 716.7 1581.2 711.8 1588.1 710.7 1595 714 1604.3 720.3 1613.5 726.5 1625.1 733.7 1636.7 740.2 1650.5 746.8 1666.7 753.4 1687.5 760.2 1708.4 766 1729.2 771.1 1752.3 776.4M1474.8 613.1 1475.7 619 1476.6 624.7 1477.6 630.2 1478.7 636.9 1480.1 644.6 1481.7 653.1 1483.6 662.2 1485.7 671.8 1488 681.6 1490.5 691.6 1493.3 701.5 1496.1 710.5 1499.1 719.2 1502.5 728.3 1506 736.3 1509.5 743.4 1513 749.7 1516.4 755.2 1521 760.1 1525.7 762.3 1530.3 762.3 1534.9 760.5 1539.5 757.4 1544.2 753.4 1550 747.8 1555.7 742.3 1561.5 737.7 1567.3 734.8 1574.2 734.5 1581.2 735.5 1588.1 736.2 1595 736.7 1604.3 737.1 1613.5 737.3 1625.1 737.4 1636.7 737.3 1650.5 737 1666.7 736.6 1687.5 736 1708.4 735.2 1729.2 734.5 1752.3 733.7M1474.8 490.8 1475.7 490.8 1476.6 490.8 1477.6 490.8 1478.7 490.8 1480.1 490.8 1481.7 490.8 1483.6 490.8 1485.7 503.2 1488 529.8 1490.5 556.3 1493.3 582.3 1496.1 605.4 1499.1 627.7 1502.5 650.3 1506 669.8 1509.5 686.8 1513 701.6 1516.4 714.3 1521 728.8 1525.7 740.8 1530.3 750.7 1534.9 758.9 1539.5 763.9 1544.2 765.6 1550 764.1 1555.7 759.9 1561.5 754.2 1567.3 748 1574.2 741.3 1581.2 736.6 1588.1 735.2 1595 737.6 1604.3 741.4 1613.5 744.8 1625.1 748.8 1636.7 752.6 1650.5 756.9 1666.7 761.8 1687.5 768 1708.4 774.1 1729.2 780.3 1752.3 787M1474.8 798.3 1475.7 798.3 1476.6 798.2 1477.6 798 1478.7 797.6 1480.1 797 1481.7 795.9 1483.6 794.2 1485.7 791.9 1488 789 1490.5 785.4 1493.3 781.4 1496.1 777.3 1499.1 773.2 1502.5 768.8 1506 765 1509.5 762 1513 759.7 1516.4 758.2 1521 757.2 1525.7 757.2 1530.3 758.2 1534.9 759.4 1539.5 759.4 1544.2 758 1550 754.7 1555.7 750 1561.5 744.6 1567.3 738.9 1574.2 732.6 1581.2 728.1 1588.1 726.8 1595 728.3 1604.3 730 1613.5 731.1 1625.1 731.8 1636.7 732.1 1650.5 731.8 1666.7 731.2 1687.5 729.9 1708.4 728.5 1729.2 726.9 1752.3 725.2M1474.8 490.8 1475.7 490.8 1476.6 490.8 1477.6 490.8 1478.7 490.8 1480.1 490.8 1481.7 490.8 1483.6 490.8 1485.7 494 1488 519.9 1490.5 545.8 1493.3 571.4 1496.1 594.4 1499.1 616.6 1502.5 639.3 1506 659.2 1509.5 676.2 1513 689.5 1516.4 699.7 1521 709 1525.7 714.6 1530.3 717.3 1534.9 718.1 1539.5 717.5 1544.2 716.4 1550 715.2 1555.7 715 1561.5 716.8 1567.3 721.1 1574.2 726.1 1581.2 730.5 1588.1 734.2 1595 737.6 1604.3 741.6 1613.5 745.2 1625.1 749.2 1636.7 753 1650.5 757.3 1666.7 762.2 1687.5 768.3 1708.4 774.2 1729.2 780.2 1752.3 786.8M1474.8 490.8 1475.7 490.8 1476.6 490.8 1477.6 490.8 1478.7 490.8 1480.1 490.8 1481.7 490.8 1483.6 503.7 1485.7 531.2 1488 558.9 1490.5 585.9 1493.3 612 1496.1 634.9 1499.1 656.5 1502.5 677.9 1506 696.1 1509.5 711.5 1513 724.6 1516.4 735.7 1521 748 1525.7 757.9 1530.3 765.4 1534.9 770.4 1539.5 773.2 1544.2 774.2 1550 773.5 1555.7 771.4 1561.5 768.4 1567.3 765.3 1574.2 761.9 1581.2 760 1588.1 760.1 1595 760.3 1604.3 760.3 1613.5 760.1 1625.1 759.7 1636.7 759.2 1650.5 758.5 1666.7 757.7 1687.5 756.5 1708.4 755.4 1729.2 754.2 1752.3 752.9M1474.8 490.8 1475.7 490.8 1476.6 490.8 1477.6 552.7 1478.7 649.8 1480.1 717 1481.7 758 1483.6 780.1 1485.7 790.5 1488 794.8 1490.5 796.2 1493.3 796.2 1496.1 795.7 1499.1 794.9 1502.5 793.9 1506 792.7 1509.5 791.5 1513 790.2 1516.4 788.9 1521 787.3 1525.7 785.7 1530.3 782.9 1534.9 778 1539.5 771.4 1544.2 763.8 1550 753.7 1555.7 743.7 1561.5 734.7 1567.3 727.3 1574.2 721.6 1581.2 720.1 1588.1 722.6 1595 725.6 1604.3 729.8 1613.5 734.1 1625.1 739.7 1636.7 745.4 1650.5 752.1 1666.7 759.7 1687.5 769 1708.4 777.8 1729.2 786.1 1752.3 794.9M1474.8 490.8 1475.7 490.8 1476.6 490.8 1477.6 490.8 1478.7 490.8 1480.1 490.8 1481.7 490.8 1483.6 490.8 1485.7 518.7 1488 546.9 1490.5 574.6 1493.3 601.3 1496.1 624.9 1499.1 647.3 1502.5 669.5 1506 688.5 1509.5 704.4 1513 717 1516.4 726.7 1521 736 1525.7 741.8 1530.3 744.9 1534.9 746.1 1539.5 746 1544.2 745.1 1550 743.6 1555.7 742.6 1561.5 742.7 1567.3 744.6 1574.2 746.7 1581.2 748.4 1588.1 749.8 1595 750.8 1604.3 752 1613.5 752.9 1625.1 753.9 1636.7 754.7 1650.5 755.6 1666.7 756.6 1687.5 757.8 1708.4 758.9 1729.2 760.1 1752.3 761.4M1474.8 490.8 1475.7 490.8 1476.6 490.8 1477.6 490.8 1478.7 490.8 1480.1 490.8 1481.7 490.8 1483.6 490.8 1485.7 490.8 1488 490.8 1490.5 490.8 1493.3 490.8 1496.1 490.8 1499.1 529.5 1502.5 590.4 1506 637.5 1509.5 674 1513 702.2 1516.4 724 1521 745.5 1525.7 760.8 1530.3 771.7 1534.9 779.4 1539.5 784.5 1544.2 786.3 1550 785.2 1555.7 781.5 1561.5 776.5 1567.3 771.2 1574.2 765.3 1581.2 760.9 1588.1 758.9 1595 759.8 1604.3 762.7 1613.5 765.6 1625.1 769.1 1636.7 772.7 1650.5 776.9 1666.7 781.9 1687.5 788.2 1708.4 794.5 1729.2 798.3 1752.3 798.3M1474.8 490.8 1475.7 490.8 1476.6 490.8 1477.6 490.8 1478.7 490.8 1480.1 490.8 1481.7 490.8 1483.6 490.8 1485.7 490.8 1488 490.8 1490.5 490.8 1493.3 490.8 1496.1 490.8 1499.1 546.2 1502.5 639.9 1506 698.7 1509.5 735.7 1513 759 1516.4 773.6 1521 785 1525.7 791.1 1530.3 794.4 1534.9 795.1 1539.5 793.1 1544.2 789.2 1550 782.8 1555.7 775.4 1561.5 767.8 1567.3 760.8 1574.2 754 1581.2 749.9 1588.1 749.3 1595 750.6 1604.3 752.4 1613.5 754.2 1625.1 756.4 1636.7 758.6 1650.5 761.3 1666.7 764.4 1687.5 768.4 1708.4 772.4 1729.2 776.4 1752.3 780.8M1474.8 490.8 1475.7 490.8 1476.6 490.8 1477.6 497.4 1478.7 520.8 1480.1 546.6 1481.7 573.6 1483.6 601 1485.7 627.8 1488 653.3 1490.5 677 1493.3 698.5 1496.1 716.1 1499.1 731.8 1502.5 746.1 1506 757.4 1509.5 766.2 1513 773.2 1516.4 778.5 1521 782.1 1525.7 782.5 1530.3 780.3 1534.9 776.3 1539.5 771.1 1544.2 765.3 1550 758 1555.7 751.2 1561.5 745.9 1567.3 742.6 1574.2 742.3 1581.2 743.3 1588.1 744.2 1595 745.2 1604.3 746.3 1613.5 747.5 1625.1 749 1636.7 750.4 1650.5 752.2 1666.7 754.2 1687.5 756.8 1708.4 759.4 1729.2 762 1752.3 764.9M1474.8 490.8 1475.7 490.8 1476.6 490.8 1477.6 490.8 1478.7 490.8 1480.1 490.8 1481.7 490.8 1483.6 490.8 1485.7 490.8 1488 490.8 1490.5 490.8 1493.3 490.8 1496.1 490.8 1499.1 534.1 1502.5 628 1506 688.5 1509.5 727.5 1513 752.7 1516.4 768.9 1521 781.9 1525.7 789.2 1530.3 793.2 1534.9 795.5 1539.5 796.7 1544.2 797.4 1550 797.7 1555.7 795 1561.5 789.7 1567.3 782.7 1574.2 773.1 1581.2 763.7 1588.1 755.5 1595 749.6 1604.3 746.9 1613.5 748.9 1625.1 751.5 1636.7 754.2 1650.5 757.3 1666.7 761 1687.5 765.8 1708.4 770.5 1729.2 775.3 1752.3 780.5M1474.8 490.8 1475.7 504.3 1476.6 523.2 1477.6 540.9 1478.7 561.4 1480.1 583.9 1481.7 607.4 1483.6 631.2 1485.7 654.4 1488 676.4 1490.5 696.8 1493.3 715.1 1496.1 730.2 1499.1 743.4 1502.5 755.5 1506 765 1509.5 772.3 1513 778 1516.4 782.5 1521 787 1525.7 790.2 1530.3 792.5 1534.9 794.1 1539.5 795.3 1544.2 796.2 1550 795.7 1555.7 792.6 1561.5 787.6 1567.3 781.6 1574.2 774.1 1581.2 767.1 1588.1 761.7 1595 758.6 1604.3 759 1613.5 761.4 1625.1 764.3 1636.7 767.3 1650.5 770.9 1666.7 775 1687.5 780.4 1708.4 785.7 1729.2 791.1 1752.3 797M1474.8 490.8 1475.7 490.8 1476.6 490.8 1477.6 490.8 1478.7 541.4 1480.1 629.3 1481.7 694.1 1483.6 736.9 1485.7 761.7 1488 772.9 1490.5 774.5 1493.3 769.5 1496.1 761.3 1499.1 751.3 1502.5 740.6 1506 732.1 1509.5 726.7 1513 724.4 1516.4 724.9 1521 729.2 1525.7 736.3 1530.3 744.8 1534.9 753.7 1539.5 762.1 1544.2 769.6 1550 777.4 1555.7 781.3 1561.5 781.4 1567.3 778.6 1574.2 772.7 1581.2 765.5 1588.1 758.4 1595 752.6 1604.3 749 1613.5 749.5 1625.1 750.3 1636.7 751 1650.5 751.7 1666.7 752.6 1687.5 753.8 1708.4 754.9 1729.2 756.1 1752.3 757.4M1474.8 490.8 1475.7 490.8 1476.6 490.8 1477.6 490.8 1478.7 490.8 1480.1 508.2 1481.7 529.7 1483.6 552.3 1485.7 575.5 1488 598.7 1490.5 621.4 1493.3 643.3 1496.1 662.4 1499.1 680.5 1502.5 698.4 1506 713.6 1509.5 726.5 1513 737.4 1516.4 746.6 1521 756.8 1525.7 765 1530.3 771.5 1534.9 776 1539.5 778.3 1544.2 778.9 1550 777.8 1555.7 775.1 1561.5 771.4 1567.3 767.2 1574.2 762.4 1581.2 758.8 1588.1 757.4 1595 756.9 1604.3 756 1613.5 754.9 1625.1 753.4 1636.7 751.9 1650.5 749.9 1666.7 747.6 1687.5 744.6 1708.4 741.6 1729.2 738.5 1752.3 735.2M1474.8 490.8 1475.7 490.8 1476.6 490.8 1477.6 490.8 1478.7 490.8 1480.1 490.8 1481.7 490.8 1483.6 490.8 1485.7 490.8 1488 490.8 1490.5 490.8 1493.3 533.8 1496.1 576.7 1499.1 615.4 1502.5 651.8 1506 680.9 1509.5 704.2 1513 722.9 1516.4 737.9 1521 753.3 1525.7 764.8 1530.3 772.8 1534.9 777.7 1539.5 780.1 1544.2 780.7 1550 779.4 1555.7 776.7 1561.5 773.2 1567.3 769.5 1574.2 765.6 1581.2 763.2 1588.1 762.5 1595 761.8 1604.3 760.8 1613.5 759.7 1625.1 758.2 1636.7 756.7 1650.5 754.9 1666.7 752.8 1687.5 750.1 1708.4 747.4 1729.2 744.6 1752.3 741.6M1474.8 490.8 1475.7 490.8 1476.6 490.8 1477.6 490.8 1478.7 506.7 1480.1 533.8 1481.7 562.3 1483.6 591 1485.7 619.2 1488 646.1 1490.5 671 1493.3 693.6 1496.1 712.1 1499.1 728.5 1502.5 743.6 1506 755.5 1509.5 764.7 1513 772 1516.4 777.6 1521 781.6 1525.7 782.3 1530.3 780.5 1534.9 776.8 1539.5 771.8 1544.2 766.2 1550 758.9 1555.7 752.1 1561.5 746.6 1567.3 743 1574.2 742.3 1581.2 742.9 1588.1 743.5 1595 744.1 1604.3 744.8 1613.5 745.5 1625.1 746.3 1636.7 747.2 1650.5 748.2 1666.7 749.4 1687.5 750.9 1708.4 752.4 1729.2 753.9 1752.3 755.6M1474.8 490.8 1475.7 490.8 1476.6 490.8 1477.6 490.8 1478.7 490.8 1480.1 490.8 1481.7 490.8 1483.6 490.8 1485.7 490.8 1488 490.8 1490.5 490.8 1493.3 492.9 1496.1 529 1499.1 563.4 1502.5 597.6 1506 626.8 1509.5 651.7 1513 673.1 1516.4 691.3 1521 711.5 1525.7 727.7 1530.3 739 1534.9 746.4 1539.5 750.6 1544.2 752.5 1550 752.6 1555.7 751.1 1561.5 749 1567.3 747.2 1574.2 746.4 1581.2 748 1588.1 750.8 1595 753.1 1604.3 755.8 1613.5 758.2 1625.1 760.8 1636.7 763.2 1650.5 765.9 1666.7 769 1687.5 772.8 1708.4 776.6 1729.2 780.4 1752.3 784.6M1474.8 490.8 1475.7 490.8 1476.6 490.8 1477.6 530.6 1478.7 623.1 1480.1 692.6 1481.7 738.8 1483.6 765.6 1485.7 778.4 1488 781.7 1490.5 779.3 1493.3 773.5 1496.1 766.7 1499.1 759.7 1502.5 753 1506 748.6 1509.5 746.4 1513 746.3 1516.4 748 1521 752.2 1525.7 756.4 1530.3 759.4 1534.9 761.1 1539.5 761.3 1544.2 760.2 1550 757.3 1555.7 753.5 1561.5 749.5 1567.3 746.1 1574.2 744 1581.2 744.7 1588.1 745.5 1595 746 1604.3 746.5 1613.5 746.8 1625.1 747.2 1636.7 747.4 1650.5 747.7 1666.7 748.1 1687.5 748.5 1708.4 749 1729.2 749.4 1752.3 749.9M1474.8 722.4 1475.7 725.2 1476.6 727.8 1477.6 730.4 1478.7 733.4 1480.1 736.9 1481.7 740.7 1483.6 744.8 1485.7 749 1488 753.4 1490.5 757.7 1493.3 761.9 1496.1 765.7 1499.1 769.4 1502.5 773.1 1506 776.4 1509.5 779.2 1513 781.6 1516.4 783.8 1521 786.2 1525.7 788.2 1530.3 788.6 1534.9 786.8 1539.5 783.3 1544.2 778.5 1550 771.7 1555.7 764.4 1561.5 757.6 1567.3 751.9 1574.2 747.3 1581.2 746.1 1588.1 747.8 1595 749.7 1604.3 752.1 1613.5 754.4 1625.1 757.2 1636.7 760.1 1650.5 763.4 1666.7 767.3 1687.5 772.2 1708.4 777.2 1729.2 782.1 1752.3 787.6M1474.8 490.8 1475.7 490.8 1476.6 490.8 1477.6 490.8 1478.7 490.8 1480.1 490.8 1481.7 490.8 1483.6 490.8 1485.7 490.8 1488 499.4 1490.5 523 1493.3 546.6 1496.1 568.2 1499.1 589.5 1502.5 611.7 1506 631.5 1509.5 649 1513 663.7 1516.4 675.9 1521 688.7 1525.7 698.2 1530.3 704.8 1534.9 709.2 1539.5 711.9 1544.2 713.5 1550 714.5 1555.7 715.5 1561.5 717.3 1567.3 720.7 1574.2 724.4 1581.2 727.2 1588.1 729.3 1595 730.7 1604.3 732 1613.5 732.6 1625.1 732.7 1636.7 732.3 1650.5 731.4 1666.7 729.9 1687.5 727.7 1708.4 725.2 1729.2 722.6 1752.3 719.7M1474.8 490.8 1475.7 490.8 1476.6 490.8 1477.6 490.8 1478.7 490.8 1480.1 490.8 1481.7 490.8 1483.6 490.8 1485.7 490.8 1488 490.8 1490.5 490.8 1493.3 490.8 1496.1 496.1 1499.1 540.8 1502.5 584.2 1506 620.4 1509.5 650.1 1513 674.3 1516.4 693.8 1521 713.8 1525.7 728.1 1530.3 737.9 1534.9 744.2 1539.5 747.8 1544.2 749.5 1550 749.9 1555.7 749.3 1561.5 748.9 1567.3 749.3 1574.2 749.2 1581.2 748.4 1588.1 747.1 1595 745.6 1604.3 743.2 1613.5 740.5 1625.1 737 1636.7 733.4 1650.5 729 1666.7 723.8 1687.5 717 1708.4 710.2 1729.2 703.5 1752.3 696M1474.8 490.8 1475.7 490.8 1476.6 490.8 1477.6 490.8 1478.7 490.8 1480.1 490.8 1481.7 490.8 1483.6 490.8 1485.7 514.3 1488 553.9 1490.5 591.1 1493.3 625.2 1496.1 653.8 1499.1 679.4 1502.5 703.4 1506 722.5 1509.5 737.8 1513 750 1516.4 759.7 1521 769.7 1525.7 777 1530.3 780.3 1534.9 779.7 1539.5 776.5 1544.2 771.3 1550 763.4 1555.7 755 1561.5 747.2 1567.3 740.8 1574.2 736.3 1581.2 736 1588.1 738.8 1595 741.5 1604.3 745.2 1613.5 748.7 1625.1 753.2 1636.7 757.6 1650.5 762.9 1666.7 769.1 1687.5 777 1708.4 785 1729.2 792.9 1752.3 798.3M1474.8 490.8 1475.7 494.6 1476.6 507.9 1477.6 520.6 1478.7 535.7 1480.1 552.8 1481.7 571.2 1483.6 590.7 1485.7 610.5 1488 630.4 1490.5 649.8 1493.3 668.5 1496.1 684.8 1499.1 700.1 1502.5 715.3 1506 728.1 1509.5 739 1513 748.1 1516.4 755.9 1521 764.4 1525.7 771.2 1530.3 776.6 1534.9 781 1539.5 783.6 1544.2 783.5 1550 780.2 1555.7 774.4 1561.5 767 1567.3 758.9 1574.2 749.3 1581.2 741.3 1588.1 736.2 1595 735.2 1604.3 735.7 1613.5 736.1 1625.1 736.5 1636.7 736.8 1650.5 737.1 1666.7 737.5 1687.5 737.9 1708.4 738.3 1729.2 738.7 1752.3 739.1M1474.8 490.8 1475.7 490.8 1476.6 490.8 1477.6 490.8 1478.7 490.8 1480.1 490.8 1481.7 490.8 1483.6 490.8 1485.7 490.8 1488 490.8 1490.5 549.3 1493.3 631.2 1496.1 686.2 1499.1 725.6 1502.5 754.1 1506 771.5 1509.5 782 1513 788.4 1516.4 792.3 1521 795.2 1525.7 796.7 1530.3 797.5 1534.9 797.9 1539.5 798.1 1544.2 798.2 1550 797.8 1555.7 795.2 1561.5 790.5 1567.3 784.1 1574.2 774.7 1581.2 764.4 1588.1 754.3 1595 745.7 1604.3 738.9 1613.5 735.9 1625.1 732.2 1636.7 728.5 1650.5 724 1666.7 718.7 1687.5 712 1708.4 705.2 1729.2 698.5 1752.3 691M1474.8 490.8 1475.7 490.8 1476.6 490.8 1477.6 490.8 1478.7 490.8 1480.1 490.8 1481.7 507 1483.6 535.5 1485.7 564.3 1488 592.5 1490.5 619.7 1493.3 645.2 1496.1 667.1 1499.1 687.3 1502.5 706.8 1506 722.9 1509.5 736.1 1513 746.1 1516.4 752.9 1521 757.7 1525.7 758.8 1530.3 757.2 1534.9 753.6 1539.5 748.9 1544.2 743.6 1550 737.3 1555.7 732.2 1561.5 729.2 1567.3 729.2 1574.2 730.9 1581.2 732.3 1588.1 733.6 1595 734.7 1604.3 736.1 1613.5 737.5 1625.1 739 1636.7 740.6 1650.5 742.4 1666.7 744.5 1687.5 747.2 1708.4 749.9 1729.2 752.6 1752.3 755.6M1474.8 490.8 1475.7 490.8 1476.6 490.8 1477.6 490.8 1478.7 490.8 1480.1 490.8 1481.7 490.8 1483.6 490.8 1485.7 490.8 1488 490.8 1490.5 490.8 1493.3 490.8 1496.1 490.8 1499.1 508.6 1502.5 540.9 1506 569.6 1509.5 595.2 1513 617.8 1516.4 638 1521 661.4 1525.7 681.3 1530.3 697.1 1534.9 709.2 1539.5 718.1 1544.2 724.4 1550 729.3 1555.7 731.8 1561.5 732.8 1567.3 733.2 1574.2 733.7 1581.2 735.8 1588.1 739 1595 741.4 1604.3 743.6 1613.5 745.1 1625.1 746.1 1636.7 746.5 1650.5 746.4 1666.7 745.9 1687.5 744.7 1708.4 743.4 1729.2 741.9 1752.3 740.2M1474.8 490.8 1475.7 490.8 1476.6 490.8 1477.6 490.8 1478.7 490.8 1480.1 490.8 1481.7 490.8 1483.6 490.8 1485.7 490.8 1488 490.8 1490.5 490.8 1493.3 490.8 1496.1 568.7 1499.1 634.7 1502.5 687.6 1506 723.5 1509.5 747.7 1513 764.1 1516.4 775.1 1521 784.6 1525.7 790.1 1530.3 793.5 1534.9 795.4 1539.5 795.9 1544.2 794.2 1550 789.8 1555.7 783.5 1561.5 776 1567.3 768 1574.2 758.6 1581.2 750.6 1588.1 745.2 1595 743.5 1604.3 742.8 1613.5 742.2 1625.1 741.4 1636.7 740.6 1650.5 739.7 1666.7 738.5 1687.5 737.1 1708.4 735.7 1729.2 734.2 1752.3 732.6M1474.8 709.5 1475.7 713.8 1476.6 717.9 1477.6 721.8 1478.7 726.4 1480.1 731.6 1481.7 737.2 1483.6 743 1485.7 748.8 1488 754.6 1490.5 760.2 1493.3 765.5 1496.1 770.1 1499.1 774.3 1502.5 778.4 1506 781.8 1509.5 784.6 1513 786.9 1516.4 788.9 1521 790.9 1525.7 791.8 1530.3 790.6 1534.9 787.8 1539.5 783.6 1544.2 778.5 1550 771.1 1555.7 763.5 1561.5 756.1 1567.3 749.8 1574.2 744.5 1581.2 742.9 1588.1 742.3 1595 741.7 1604.3 740.8 1613.5 740 1625.1 738.9 1636.7 737.8 1650.5 736.5 1666.7 734.9 1687.5 732.9 1708.4 730.9 1729.2 728.9 1752.3 726.7M1474.8 490.8 1475.7 490.8 1476.6 490.8 1477.6 490.8 1478.7 490.8 1480.1 490.8 1481.7 490.8 1483.6 490.8 1485.7 515 1488 572.1 1490.5 621.6 1493.3 663.4 1496.1 695.3 1499.1 721.4 1502.5 743.5 1506 759.2 1509.5 770.4 1513 778.4 1516.4 784 1521 788.2 1525.7 789.5 1530.3 788.9 1534.9 786.9 1539.5 784 1544.2 780.5 1550 775.8 1555.7 771.2 1561.5 767.2 1567.3 764.4 1574.2 763.1 1581.2 762.5 1588.1 761.9 1595 761.2 1604.3 760.4 1613.5 759.6 1625.1 758.5 1636.7 757.5 1650.5 756.2 1666.7 754.8 1687.5 752.9 1708.4 751 1729.2 749.1 1752.3 747M1474.8 798.3 1475.7 798.3 1476.6 798.2 1477.6 798.2 1478.7 798.1 1480.1 797.9 1481.7 797.6 1483.6 797.1 1485.7 796.5 1488 795.8 1490.5 794.9 1493.3 793.8 1496.1 792.6 1499.1 791.2 1502.5 789.6 1506 787.9 1509.5 786.2 1513 784.6 1516.4 783 1521 780.9 1525.7 778.7 1530.3 775.2 1534.9 770.5 1539.5 764.8 1544.2 758.5 1550 750.1 1555.7 741.7 1561.5 733.9 1567.3 727.2 1574.2 721.5 1581.2 719.4 1588.1 719.4 1595 719.6 1604.3 720.1 1613.5 720.9 1625.1 722.1 1636.7 723.5 1650.5 725.3 1666.7 727.3 1687.5 729.7 1708.4 731.6 1729.2 733.2 1752.3 734.3M1474.8 490.8 1475.7 490.8 1476.6 522.4 1477.6 573 1478.7 623.4 1480.1 669.2 1481.7 707.7 1483.6 737.8 1485.7 759.8 1488 774.8 1490.5 784.2 1493.3 789.7 1496.1 792.1 1499.1 792.9 1502.5 792.3 1506 790.9 1509.5 789 1513 786.7 1516.4 784.2 1521 780.8 1525.7 777.3 1530.3 773.1 1534.9 767.7 1539.5 761.5 1544.2 754.8 1550 746.3 1555.7 738.2 1561.5 731 1567.3 725.3 1574.2 720.9 1581.2 719.8 1588.1 722 1595 724.6 1604.3 728.4 1613.5 732.4 1625.1 737.2 1636.7 741.6 1650.5 746.2 1666.7 750.5 1687.5 754.7 1708.4 757.7 1729.2 760 1752.3 761.9M1474.8 490.8 1475.7 490.8 1476.6 490.8 1477.6 490.8 1478.7 490.8 1480.1 490.8 1481.7 490.8 1483.6 490.8 1485.7 490.8 1488 490.8 1490.5 490.8 1493.3 490.8 1496.1 507.3 1499.1 555.5 1502.5 601.2 1506 638.4 1509.5 668.5 1513 693 1516.4 712.9 1521 733.6 1525.7 749.3 1530.3 761.2 1534.9 770.1 1539.5 775.2 1544.2 776.8 1550 775.3 1555.7 771.4 1561.5 766.1 1567.3 760.6 1574.2 754.7 1581.2 750.8 1588.1 749.8 1595 751.7 1604.3 754.7 1613.5 757.5 1625.1 761 1636.7 764.4 1650.5 768.4 1666.7 773 1687.5 779 1708.4 785 1729.2 791 1752.3 797.6M1474.8 798.3 1475.7 798.3 1476.6 798.3 1477.6 798.3 1478.7 798.3 1480.1 798.3 1481.7 798.3 1483.6 798.3 1485.7 798.3 1488 798.2 1490.5 798.1 1493.3 797.9 1496.1 797.7 1499.1 797.3 1502.5 796.7 1506 795.9 1509.5 795 1513 793.9 1516.4 792.6 1521 790.8 1525.7 788.8 1530.3 786 1534.9 781.7 1539.5 776.2 1544.2 769.9 1550 761.4 1555.7 752.7 1561.5 744.5 1567.3 737.4 1574.2 731 1581.2 727.9 1588.1 728.2 1595 729.2 1604.3 731 1613.5 733.1 1625.1 735.8 1636.7 738.6 1650.5 741.5 1666.7 744.5 1687.5 747.3 1708.4 749.2 1729.2 750.4 1752.3 751.3M1474.8 537.1 1475.7 550.8 1476.6 563.8 1477.6 576.1 1478.7 590.5 1480.1 606.7 1481.7 623.9 1483.6 641.7 1485.7 659.6 1488 677 1490.5 693.7 1493.3 709.3 1496.1 722.6 1499.1 734.8 1502.5 746.4 1506 755.9 1509.5 763.6 1513 770 1516.4 775.2 1521 780.6 1525.7 784.8 1530.3 787.4 1534.9 787.1 1539.5 784.5 1544.2 780.1 1550 772.8 1555.7 764.6 1561.5 756.3 1567.3 748.7 1574.2 741.7 1581.2 738 1588.1 738.4 1595 739.4 1604.3 740.7 1613.5 742 1625.1 743.6 1636.7 745.1 1650.5 747 1666.7 749.1 1687.5 751.9 1708.4 754.6 1729.2 757.4 1752.3 760.4M1474.8 490.8 1475.7 490.8 1476.6 526.3 1477.6 586.1 1478.7 642.3 1480.1 689.5 1481.7 724.4 1483.6 746 1485.7 754.8 1488 753.1 1490.5 744.1 1493.3 731.7 1496.1 720.8 1499.1 713.3 1502.5 711.2 1506 715.1 1509.5 723.3 1513 733.7 1516.4 744.9 1521 758.7 1525.7 768.4 1530.3 773.5 1534.9 774.7 1539.5 772.8 1544.2 768.9 1550 762.3 1555.7 755.2 1561.5 748.8 1567.3 743.9 1574.2 741.2 1581.2 742.1 1588.1 743.4 1595 744.8 1604.3 746.5 1613.5 748.3 1625.1 750.5 1636.7 752.7 1650.5 755.4 1666.7 758.4 1687.5 762.4 1708.4 766.4 1729.2 770.3 1752.3 774.7M1474.8 490.8 1475.7 490.8 1476.6 490.8 1477.6 490.8 1478.7 490.8 1480.1 490.8 1481.7 490.8 1483.6 490.8 1485.7 490.8 1488 490.8 1490.5 490.8 1493.3 490.8 1496.1 518.8 1499.1 554 1502.5 589.1 1506 618.8 1509.5 643.1 1513 662.8 1516.4 678.5 1521 694.3 1525.7 705.2 1530.3 712.3 1534.9 716.7 1539.5 719 1544.2 720.1 1550 720.8 1555.7 721.9 1561.5 724.5 1567.3 727.5 1574.2 730 1581.2 731.8 1588.1 732.9 1595 733.6 1604.3 734.1 1613.5 734.2 1625.1 733.9 1636.7 733.4 1650.5 732.6 1666.7 731.6 1687.5 730.1 1708.4 728.6 1729.2 727.1 1752.3 725.4M1474.8 643.1 1475.7 647.5 1476.6 651.9 1477.6 656.1 1478.7 661.1 1480.1 667 1481.7 673.5 1483.6 680.5 1485.7 688 1488 695.7 1490.5 703.6 1493.3 711.5 1496.1 718.7 1499.1 725.9 1502.5 733.3 1506 740 1509.5 746.1 1513 751.4 1516.4 756.3 1521 762 1525.7 766.9 1530.3 771.1 1534.9 774.8 1539.5 778 1544.2 780.7 1550 781.7 1555.7 779.3 1561.5 774.5 1567.3 768.1 1574.2 759.4 1581.2 750.8 1588.1 743.7 1595 739.2 1604.3 738.8 1613.5 740.3 1625.1 741.9 1636.7 743.3 1650.5 744.8 1666.7 746.5 1687.5 748.5 1708.4 750.4 1729.2 752.2 1752.3 754.2M1474.8 798.3 1475.7 798.3 1476.6 798.1 1477.6 797.8 1478.7 797.1 1480.1 796.1 1481.7 794.4 1483.6 792.1 1485.7 788.9 1488 785 1490.5 780.4 1493.3 775.1 1496.1 769.8 1499.1 764.3 1502.5 758.3 1506 753.1 1509.5 748.4 1513 743.8 1516.4 739.6 1521 734.3 1525.7 729.5 1530.3 725.3 1534.9 721.4 1539.5 718.1 1544.2 715.4 1550 712.9 1555.7 711.8 1561.5 712.5 1567.3 715.1 1574.2 718.3 1581.2 721.3 1588.1 723.9 1595 726.1 1604.3 728.3 1613.5 729.7 1625.1 730.5 1636.7 730.5 1650.5 729.5 1666.7 727.4 1687.5 723.7 1708.4 719.4 1729.2 714.8 1752.3 709.4M1474.8 490.8 1475.7 490.8 1476.6 490.8 1477.6 490.8 1478.7 490.8 1480.1 490.8 1481.7 490.8 1483.6 490.8 1485.7 510.4 1488 532 1490.5 553.8 1493.3 575.6 1496.1 595.5 1499.1 615 1502.5 635.2 1506 653.2 1509.5 669.1 1513 683.4 1516.4 696 1521 710.8 1525.7 723.4 1530.3 734.2 1534.9 743.4 1539.5 751.3 1544.2 757.2 1550 761.2 1555.7 762.6 1561.5 761.9 1567.3 760 1574.2 756.9 1581.2 754 1588.1 752.2 1595 752.4 1604.3 755 1613.5 757.3 1625.1 759.5 1636.7 761.4 1650.5 763.2 1666.7 765.1 1687.5 767.3 1708.4 769.2 1729.2 771.1 1752.3 773.2M1474.8 490.8 1475.7 490.8 1476.6 490.8 1477.6 490.8 1478.7 490.8 1480.1 490.8 1481.7 490.8 1483.6 490.8 1485.7 490.8 1488 490.8 1490.5 490.8 1493.3 490.8 1496.1 503.7 1499.1 541.8 1502.5 579.6 1506 611.9 1509.5 639.1 1513 661.3 1516.4 679.4 1521 698 1525.7 711.5 1530.3 720.9 1534.9 727.1 1539.5 731 1544.2 733.3 1550 734.7 1555.7 735.7 1561.5 737.3 1567.3 739.9 1574.2 742.5 1581.2 744.2 1588.1 745.2 1595 745.9 1604.3 746.3 1613.5 746.3 1625.1 746 1636.7 745.4 1650.5 744.6 1666.7 743.5 1687.5 742.1 1708.4 740.5 1729.2 739 1752.3 737.3M1474.8 490.8 1475.7 490.8 1476.6 490.8 1477.6 490.8 1478.7 490.8 1480.1 490.8 1481.7 490.8 1483.6 490.8 1485.7 490.8 1488 556.1 1490.5 613.3 1493.3 660.4 1496.1 695.5 1499.1 723.5 1502.5 746.5 1506 762.4 1509.5 773.4 1513 781.1 1516.4 786.4 1521 791 1525.7 793.8 1530.3 794.3 1534.9 791.9 1539.5 787.5 1544.2 781.5 1550 772.8 1555.7 763.5 1561.5 754.5 1567.3 746.5 1574.2 739.4 1581.2 736.1 1588.1 736.4 1595 737.1 1604.3 737.9 1613.5 738.8 1625.1 739.8 1636.7 740.8 1650.5 742.1 1666.7 743.6 1687.5 745.4 1708.4 747.3 1729.2 749.2 1752.3 751.3M1474.8 490.8 1475.7 490.8 1476.6 490.8 1477.6 490.8 1478.7 490.8 1480.1 490.8 1481.7 490.8 1483.6 490.8 1485.7 490.8 1488 490.8 1490.5 490.8 1493.3 522 1496.1 562.2 1499.1 599.2 1502.5 634.7 1506 663.9 1509.5 687.9 1513 707.6 1516.4 723.8 1521 741 1525.7 754.2 1530.3 764.4 1534.9 772.2 1539.5 778.2 1544.2 782.8 1550 786.4 1555.7 785.9 1561.5 782.1 1567.3 776 1574.2 766.7 1581.2 756.7 1588.1 747.4 1595 740.3 1604.3 736.3 1613.5 736.2 1625.1 735.9 1636.7 735.5 1650.5 735 1666.7 734.5 1687.5 733.7 1708.4 732.9 1729.2 732.1 1752.3 731.2M1474.8 490.8 1475.7 490.8 1476.6 490.8 1477.6 490.8 1478.7 490.8 1480.1 490.8 1481.7 490.8 1483.6 490.8 1485.7 490.8 1488 490.8 1490.5 490.8 1493.3 490.8 1496.1 490.8 1499.1 518.7 1502.5 578.1 1506 624.8 1509.5 661 1513 688.6 1516.4 709.4 1521 728.9 1525.7 741.3 1530.3 748.5 1534.9 752 1539.5 753 1544.2 752.4 1550 750.6 1555.7 748.8 1561.5 748 1567.3 748.2 1574.2 748 1581.2 747.4 1588.1 746.5 1595 745.5 1604.3 744.1 1613.5 742.6 1625.1 740.6 1636.7 738.6 1650.5 736.2 1666.7 733.4 1687.5 729.7 1708.4 726.1 1729.2 722.5 1752.3 718.4M1474.8 490.8 1475.7 490.8 1476.6 490.8 1477.6 490.8 1478.7 490.8 1480.1 490.8 1481.7 490.8 1483.6 490.8 1485.7 490.8 1488 490.8 1490.5 490.8 1493.3 559.4 1496.1 634.5 1499.1 689.5 1502.5 730.4 1506 756 1509.5 771.9 1513 781.8 1516.4 788 1521 792.8 1525.7 795.4 1530.3 796.3 1534.9 794.5 1539.5 790.7 1544.2 785.6 1550 778.2 1555.7 770.5 1561.5 763.2 1567.3 757 1574.2 751.9 1581.2 750 1588.1 751.6 1595 753.9 1604.3 756.9 1613.5 759.9 1625.1 763.7 1636.7 767.5 1650.5 772 1666.7 777.3 1687.5 784.1 1708.4 790.9 1729.2 797.7 1752.3 798.3M1474.8 509.9 1475.7 517.9 1476.6 525.8 1477.6 533.4 1478.7 542.6 1480.1 553.2 1481.7 565.1 1483.6 578 1485.7 591.6 1488 605.7 1490.5 620.2 1493.3 634.7 1496.1 648 1499.1 661.3 1502.5 675.1 1506 687.5 1509.5 698.7 1513 708.7 1516.4 717.8 1521 728.4 1525.7 737.5 1530.3 744.6 1534.9 750 1539.5 753.7 1544.2 756.1 1550 757.5 1555.7 757.6 1561.5 757 1567.3 756.1 1574.2 755.3 1581.2 755.8 1588.1 756.8 1595 757.5 1604.3 758 1613.5 757.9 1625.1 757.4 1636.7 756.6 1650.5 755.2 1666.7 753.4 1687.5 750.7 1708.4 747.8 1729.2 744.8 1752.3 741.4M1474.8 490.8 1475.7 490.8 1476.6 490.8 1477.6 490.8 1478.7 490.8 1480.1 490.8 1481.7 490.8 1483.6 490.8 1485.7 490.8 1488 490.8 1490.5 490.8 1493.3 490.8 1496.1 490.8 1499.1 512.8 1502.5 544.2 1506 572.1 1509.5 596.9 1513 618.9 1516.4 638 1521 659.5 1525.7 677 1530.3 690.9 1534.9 701.8 1539.5 710.1 1544.2 716.3 1550 721.8 1555.7 725.6 1561.5 728.5 1567.3 731.6 1574.2 735.3 1581.2 737.8 1588.1 739.3 1595 739.9 1604.3 739.9 1613.5 739.1 1625.1 737.2 1636.7 734.7 1650.5 731.1 1666.7 726.5 1687.5 720.1 1708.4 713.4 1729.2 706.6 1752.3 699M1474.8 496.9 1475.7 509.4 1476.6 521.3 1477.6 532.7 1478.7 546.3 1480.1 561.7 1481.7 578.5 1483.6 596.3 1485.7 614.6 1488 632.9 1490.5 651 1493.3 668.5 1496.1 683.9 1499.1 698.5 1502.5 713.1 1506 725.5 1509.5 736.2 1513 745 1516.4 751.4 1521 756.7 1525.7 759.1 1530.3 759.2 1534.9 757.8 1539.5 755.4 1544.2 752.5 1550 748.9 1555.7 746.1 1561.5 744.7 1567.3 745.3 1574.2 748 1581.2 750.4 1588.1 752.6 1595 754.6 1604.3 757 1613.5 759.4 1625.1 762.1 1636.7 764.8 1650.5 768 1666.7 771.6 1687.5 776.2 1708.4 780.8 1729.2 785.4 1752.3 790.5M1474.8 490.8 1475.7 490.8 1476.6 490.8 1477.6 490.8 1478.7 490.8 1480.1 490.8 1481.7 490.8 1483.6 490.8 1485.7 490.8 1488 490.8 1490.5 490.8 1493.3 490.8 1496.1 555.2 1499.1 617 1502.5 669 1506 706.1 1509.5 732.6 1513 751.5 1516.4 764.8 1521 775 1525.7 779.2 1530.3 779.2 1534.9 776.7 1539.5 772.5 1544.2 767.7 1550 761.4 1555.7 755.9 1561.5 751.9 1567.3 749.8 1574.2 750.6 1581.2 752.5 1588.1 754.4 1595 756.3 1604.3 758.7 1613.5 761.2 1625.1 764.3 1636.7 767.3 1650.5 771 1666.7 775.3 1687.5 780.9 1708.4 786.4 1729.2 792 1752.3 798.1M1474.8 490.8 1475.7 490.8 1476.6 490.8 1477.6 490.8 1478.7 490.8 1480.1 505.3 1481.7 572.4 1483.6 612.5 1485.7 634 1488 648 1490.5 663.3 1493.3 683.7 1496.1 706.4 1499.1 730 1502.5 752.9 1506 769.7 1509.5 781.2 1513 788.4 1516.4 792.6 1521 794.8 1525.7 794.5 1530.3 792.8 1534.9 790.2 1539.5 787 1544.2 783.5 1550 779 1555.7 774.6 1561.5 770.8 1567.3 768 1574.2 766.5 1581.2 765.5 1588.1 764.5 1595 763.4 1604.3 762.1 1613.5 760.7 1625.1 759 1636.7 757.3 1650.5 755.2 1666.7 752.8 1687.5 749.7 1708.4 746.6 1729.2 743.5 1752.3 740.1M1474.8 490.8 1475.7 490.8 1476.6 490.8 1477.6 490.8 1478.7 490.8 1480.1 490.8 1481.7 490.8 1483.6 490.8 1485.7 490.8 1488 490.8 1490.5 490.8 1493.3 490.8 1496.1 515.3 1499.1 542.7 1502.5 570.9 1506 596.1 1509.5 618.5 1513 638.3 1516.4 656 1521 676.6 1525.7 694.2 1530.3 709.3 1534.9 722.2 1539.5 733.2 1544.2 742.6 1550 752.4 1555.7 758.4 1561.5 760.9 1567.3 760.6 1574.2 757.9 1581.2 753.9 1588.1 749.9 1595 746.8 1604.3 746.1 1613.5 748.9 1625.1 751.9 1636.7 754.3 1650.5 756.7 1666.7 759 1687.5 761.7 1708.4 764.1 1729.2 766.5 1752.3 769M1474.8 490.8 1475.7 490.8 1476.6 490.8 1477.6 490.8 1478.7 490.8 1480.1 490.8 1481.7 490.8 1483.6 490.8 1485.7 490.8 1488 490.8 1490.5 490.8 1493.3 490.8 1496.1 490.8 1499.1 543.7 1502.5 600.9 1506 645.2 1509.5 679.6 1513 706.2 1516.4 726.9 1521 747.4 1525.7 762 1530.3 772.5 1534.9 779.8 1539.5 783.9 1544.2 785.1 1550 783.6 1555.7 779.7 1561.5 774.5 1567.3 768.8 1574.2 762 1581.2 756.6 1588.1 753.4 1595 753.1 1604.3 753.1 1613.5 753.1 1625.1 753 1636.7 752.9 1650.5 752.8 1666.7 752.7 1687.5 752.5 1708.4 752.3 1729.2 752.1 1752.3 751.9M1474.8 490.8 1475.7 490.8 1476.6 490.8 1477.6 492 1478.7 502.6 1480.1 514.8 1481.7 528.4 1483.6 543.2 1485.7 558.8 1488 575 1490.5 591.6 1493.3 608.4 1496.1 623.7 1499.1 638.9 1502.5 654.9 1506 669.2 1509.5 682.1 1513 692.8 1516.4 701.3 1521 709.5 1525.7 714.9 1530.3 717.9 1534.9 719.1 1539.5 719 1544.2 718.2 1550 716.8 1555.7 715.9 1561.5 716.3 1567.3 718.9 1574.2 722.6 1581.2 725.7 1588.1 728.1 1595 730 1604.3 732.1 1613.5 733.6 1625.1 734.9 1636.7 735.8 1650.5 736.5 1666.7 736.9 1687.5 737.2 1708.4 737.2 1729.2 737.1 1752.3 736.9M1474.8 490.8 1475.7 490.8 1476.6 490.8 1477.6 490.8 1478.7 490.8 1480.1 490.8 1481.7 490.8 1483.6 490.8 1485.7 490.8 1488 490.8 1490.5 506 1493.3 594.1 1496.1 655.7 1499.1 701.7 1502.5 736.6 1506 758.9 1509.5 773.2 1513 782.3 1516.4 788.1 1521 792.2 1525.7 792.3 1530.3 789.5 1534.9 784.9 1539.5 779.1 1544.2 772.8 1550 764.7 1555.7 757.3 1561.5 751.3 1567.3 747.1 1574.2 745.5 1581.2 746.9 1588.1 748.4 1595 750 1604.3 752.1 1613.5 754.1 1625.1 756.7 1636.7 759.3 1650.5 762.4 1666.7 766 1687.5 770.7 1708.4 775.3 1729.2 780 1752.3 785.1M1474.8 538.5 1475.7 546.6 1476.6 554.4 1477.6 562.1 1478.7 571.2 1480.1 581.8 1481.7 593.5 1483.6 606.1 1485.7 619.3 1488 632.9 1490.5 646.8 1493.3 660.5 1496.1 673 1499.1 685.3 1502.5 698 1506 709.2 1509.5 719.2 1513 728.1 1516.4 735.9 1521 745.1 1525.7 752.8 1530.3 758.6 1534.9 762.6 1539.5 765.1 1544.2 766.2 1550 766.1 1555.7 764.8 1561.5 762.8 1567.3 760.6 1574.2 758.4 1581.2 757.8 1588.1 758.2 1595 758.3 1604.3 758.1 1613.5 757.6 1625.1 756.7 1636.7 755.5 1650.5 753.8 1666.7 751.8 1687.5 748.9 1708.4 746 1729.2 743 1752.3 739.7M1474.8 536.5 1475.7 543.8 1476.6 550.8 1477.6 557.7 1478.7 566 1480.1 575.5 1481.7 586.2 1483.6 597.8 1485.7 610.1 1488 622.8 1490.5 635.9 1493.3 649 1496.1 661.1 1499.1 673 1502.5 685.5 1506 696.8 1509.5 707 1513 716.1 1516.4 724.3 1521 734 1525.7 742.4 1530.3 749.7 1534.9 756.1 1539.5 761.2 1544.2 763.7 1550 763.6 1555.7 761.2 1561.5 757.2 1567.3 752.6 1574.2 747.3 1581.2 743.4 1588.1 741.8 1595 743.4 1604.3 747.4 1613.5 751 1625.1 755.1 1636.7 758.9 1650.5 763 1666.7 767.6 1687.5 773.3 1708.4 778.7 1729.2 784.1 1752.3 790M1474.8 798.3 1475.7 798.3 1476.6 798.3 1477.6 798.3 1478.7 798.3 1480.1 798.2 1481.7 798.2 1483.6 797.9 1485.7 797.5 1488 796.8 1490.5 795.5 1493.3 793.6 1496.1 791.2 1499.1 788 1502.5 783.8 1506 779.1 1509.5 774.2 1513 769.4 1516.4 764.8 1521 759.3 1525.7 754.9 1530.3 751.7 1534.9 749.7 1539.5 749 1544.2 749.3 1550 750.8 1555.7 751.6 1561.5 751.2 1567.3 749.3 1574.2 745.5 1581.2 740.3 1588.1 734.7 1595 729.7 1604.3 726.4 1613.5 726.9 1625.1 726.5 1636.7 725.1 1650.5 722.4 1666.7 718.2 1687.5 712.1 1708.4 705.5 1729.2 698.7 1752.3 691M1474.8 490.8 1475.7 490.8 1476.6 490.8 1477.6 490.8 1478.7 490.8 1480.1 490.8 1481.7 490.8 1483.6 490.8 1485.7 490.8 1488 490.8 1490.5 490.8 1493.3 490.8 1496.1 501.8 1499.1 544.1 1502.5 585.4 1506 620 1509.5 649 1513 673.3 1516.4 693.6 1521 715.7 1525.7 732.4 1530.3 744.1 1534.9 751.6 1539.5 756 1544.2 757.9 1550 757.9 1555.7 756.1 1561.5 753.5 1567.3 751 1574.2 749.2 1581.2 749.7 1588.1 750.6 1595 751.2 1604.3 751.6 1613.5 751.8 1625.1 751.8 1636.7 751.6 1650.5 751.3 1666.7 750.9 1687.5 750.4 1708.4 749.8 1729.2 749.2 1752.3 748.5M1474.8 490.8 1475.7 490.8 1476.6 490.8 1477.6 490.8 1478.7 490.8 1480.1 490.8 1481.7 490.8 1483.6 490.8 1485.7 490.8 1488 490.8 1490.5 522.7 1493.3 608.5 1496.1 667.6 1499.1 711.1 1502.5 743.6 1506 764 1509.5 776.8 1513 784.8 1516.4 789.8 1521 793.8 1525.7 795.9 1530.3 797 1534.9 797.6 1539.5 797.9 1544.2 798 1550 796.4 1555.7 792.6 1561.5 787.2 1567.3 780.8 1574.2 772.6 1581.2 764.6 1588.1 757.9 1595 753.4 1604.3 752 1613.5 751.9 1625.1 751.7 1636.7 751.5 1650.5 751.3 1666.7 751 1687.5 750.6 1708.4 750.3 1729.2 750 1752.3 749.6M1474.8 490.8 1475.7 490.8 1476.6 490.8 1477.6 490.8 1478.7 490.8 1480.1 490.8 1481.7 490.8 1483.6 490.8 1485.7 490.8 1488 490.8 1490.5 490.8 1493.3 490.8 1496.1 490.8 1499.1 521.4 1502.5 556.8 1506 587.7 1509.5 614.6 1513 638.1 1516.4 658.6 1521 681.9 1525.7 701.3 1530.3 717.5 1534.9 731 1539.5 742.2 1544.2 751.5 1550 760.9 1555.7 766.4 1561.5 768.7 1567.3 768.8 1574.2 766.9 1581.2 764.2 1588.1 761.5 1595 759.8 1604.3 760.2 1613.5 763 1625.1 765.9 1636.7 768.4 1650.5 771.1 1666.7 774 1687.5 777.4 1708.4 780.8 1729.2 784.1 1752.3 787.7M1474.8 613.9 1475.7 621.1 1476.6 627.9 1477.6 634.5 1478.7 642.4 1480.1 651.4 1481.7 661.2 1483.6 671.6 1485.7 682.3 1488 693.2 1490.5 704 1493.3 714.6 1496.1 723.9 1499.1 732.9 1502.5 741.9 1506 749.6 1509.5 756.3 1513 762.1 1516.4 767.1 1521 772.7 1525.7 777.3 1530.3 781 1534.9 784.1 1539.5 786.7 1544.2 788.7 1550 790.6 1555.7 790.1 1561.5 787.5 1567.3 783.6 1574.2 777.9 1581.2 772.3 1588.1 767.6 1595 764.5 1604.3 763.8 1613.5 766 1625.1 768.8 1636.7 771.4 1650.5 774.6 1666.7 778.2 1687.5 782.8 1708.4 787.4 1729.2 792 1752.3 797.1M1474.8 798.3 1475.7 798.3 1476.6 798.1 1477.6 797.9 1478.7 797.3 1480.1 796.2 1481.7 794.5 1483.6 791.9 1485.7 788.3 1488 783.7 1490.5 778.2 1493.3 772 1496.1 765.8 1499.1 759.5 1502.5 752.9 1506 747.3 1509.5 742.4 1513 738.5 1516.4 735.4 1521 732.5 1525.7 730.8 1530.3 730.1 1534.9 730.1 1539.5 730.7 1544.2 731.9 1550 733.8 1555.7 736.6 1561.5 740.2 1567.3 744 1574.2 747.9 1581.2 751.3 1588.1 753.9 1595 755.9 1604.3 757.7 1613.5 758.7 1625.1 759 1636.7 758.6 1650.5 757.4 1666.7 755.4 1687.5 752.4 1708.4 749.1 1729.2 745.7 1752.3 741.9M1474.8 798.3 1475.7 798.3 1476.6 798.3 1477.6 798.2 1478.7 797.9 1480.1 797.4 1481.7 796.4 1483.6 794.8 1485.7 792.4 1488 789.1 1490.5 784.7 1493.3 779.2 1496.1 773.2 1499.1 766.6 1502.5 759.1 1506 751.7 1509.5 744.3 1513 737 1516.4 730.1 1521 721.8 1525.7 714.5 1530.3 708.5 1534.9 703.7 1539.5 700.2 1544.2 698 1550 697.2 1555.7 698.6 1561.5 702.5 1567.3 707.7 1574.2 713.6 1581.2 719 1588.1 723.8 1595 727.9 1604.3 732.4 1613.5 735.9 1625.1 738.8 1636.7 740.7 1650.5 741.8 1666.7 742.1 1687.5 741.6 1708.4 740.5 1729.2 739.1 1752.3 737.5M1474.8 490.8 1475.7 490.8 1476.6 490.8 1477.6 490.8 1478.7 490.8 1480.1 540.7 1481.7 590.6 1483.6 635.9 1485.7 675.2 1488 707.8 1490.5 733.8 1493.3 753.7 1496.1 767.5 1499.1 777.6 1502.5 785.3 1506 790.1 1509.5 793.1 1513 795 1516.4 796.2 1521 797.2 1525.7 797.7 1530.3 798 1534.9 797.9 1539.5 796.5 1544.2 793.8 1550 789.1 1555.7 783.6 1561.5 777.8 1567.3 772.2 1574.2 766.5 1581.2 762.6 1588.1 761.2 1595 762 1604.3 763.4 1613.5 764.7 1625.1 766.4 1636.7 768.1 1650.5 770.2 1666.7 772.6 1687.5 775.6 1708.4 778.7 1729.2 781.7 1752.3 785.1M1474.8 490.8 1475.7 490.8 1476.6 490.8 1477.6 490.8 1478.7 490.8 1480.1 512.7 1481.7 590 1483.6 652.8 1485.7 700.8 1488 735.3 1490.5 758.5 1493.3 773.1 1496.1 780.9 1499.1 784.9 1502.5 786.4 1506 786.2 1509.5 785 1513 783.4 1516.4 781.5 1521 777.5 1525.7 772.1 1530.3 765.7 1534.9 758.7 1539.5 751.4 1544.2 744.1 1550 735.5 1555.7 728.1 1561.5 722.4 1567.3 719.1 1574.2 718.9 1581.2 720.2 1588.1 721.8 1595 723.4 1604.3 725.6 1613.5 727.8 1625.1 730.3 1636.7 732.5 1650.5 734.7 1666.7 736.6 1687.5 738.3 1708.4 739.2 1729.2 739.7 1752.3 739.8M1474.8 495.3 1475.7 504.7 1476.6 513.7 1477.6 522.5 1478.7 533 1480.1 545.2 1481.7 558.6 1483.6 573.2 1485.7 588.4 1488 604.2 1490.5 620.2 1493.3 636.1 1496.1 650.7 1499.1 664.9 1502.5 679.7 1506 692.8 1509.5 704.4 1513 714.8 1516.4 724.1 1521 734.8 1525.7 744 1530.3 751.8 1534.9 758.6 1539.5 764.3 1544.2 768.8 1550 771.2 1555.7 770.7 1561.5 767.8 1567.3 763.1 1574.2 756.2 1581.2 748.8 1588.1 742.5 1595 738.5 1604.3 737.5 1613.5 736.7 1625.1 735.3 1636.7 733.6 1650.5 731.4 1666.7 728.5 1687.5 724.6 1708.4 720.6 1729.2 716.6 1752.3 712M1474.8 581.3 1475.7 588.2 1476.6 594.9 1477.6 601.3 1478.7 609.1 1480.1 618.1 1481.7 627.9 1483.6 638.6 1485.7 649.7 1488 661.2 1490.5 672.9 1493.3 684.4 1496.1 694.9 1499.1 705.2 1502.5 715.8 1506 725.2 1509.5 733.5 1513 740.9 1516.4 747.4 1521 755 1525.7 761.5 1530.3 766.9 1534.9 771.6 1539.5 774.4 1544.2 774.4 1550 771.4 1555.7 766.2 1561.5 759.8 1567.3 753.3 1574.2 746.4 1581.2 741.7 1588.1 740.2 1595 742.4 1604.3 746.7 1613.5 750.7 1625.1 755.4 1636.7 760 1650.5 765.3 1666.7 771.3 1687.5 779 1708.4 786.6 1729.2 794.2 1752.3 798.3M1474.8 490.8 1475.7 490.8 1476.6 490.8 1477.6 490.8 1478.7 490.8 1480.1 490.8 1481.7 490.8 1483.6 490.8 1485.7 490.8 1488 490.8 1490.5 490.8 1493.3 546 1496.1 598.3 1499.1 642.8 1502.5 682 1506 711.3 1509.5 733.2 1513 749.6 1516.4 761.9 1521 773.6 1525.7 781.5 1530.3 786.9 1534.9 790.6 1539.5 793 1544.2 794.7 1550 796 1555.7 795.3 1561.5 792.8 1567.3 788.8 1574.2 782.7 1581.2 775.9 1588.1 769.2 1595 763.4 1604.3 758.8 1613.5 757.6 1625.1 756.1 1636.7 754.7 1650.5 753 1666.7 750.9 1687.5 748.3 1708.4 745.7 1729.2 743.1 1752.3 740.2M1474.8 490.8 1475.7 490.8 1476.6 490.8 1477.6 493.2 1478.7 508.7 1480.1 526.3 1481.7 545.5 1483.6 565.8 1485.7 586.7 1488 607.7 1490.5 628.4 1493.3 648.5 1496.1 666.1 1499.1 682.9 1502.5 699.7 1506 714 1509.5 726.2 1513 736.7 1516.4 745.6 1521 755.6 1525.7 763.6 1530.3 770.2 1534.9 775.5 1539.5 779.8 1544.2 783.3 1550 786.7 1555.7 788.3 1561.5 786.4 1567.3 781.7 1574.2 773.6 1581.2 763.9 1588.1 753.9 1595 745 1604.3 737 1613.5 735.3 1625.1 734.3 1636.7 733.1 1650.5 731.7 1666.7 729.9 1687.5 727.6 1708.4 725.2 1729.2 722.9 1752.3 720.3M1474.8 798.3 1475.7 797.3 1476.6 794.3 1477.6 789.7 1478.7 782.5 1480.1 773 1481.7 761.9 1483.6 751 1485.7 741.9 1488 735.9 1490.5 734 1493.3 736.1 1496.1 741.1 1499.1 748.3 1502.5 757.2 1506 765.7 1509.5 773.2 1513 779.3 1516.4 784.3 1521 789.1 1525.7 791.7 1530.3 791.8 1534.9 789.9 1539.5 786.5 1544.2 782 1550 775.5 1555.7 768.5 1561.5 761.6 1567.3 755.6 1574.2 750.5 1581.2 748.5 1588.1 747.4 1595 746.2 1604.3 744.8 1613.5 743.3 1625.1 741.4 1636.7 739.5 1650.5 737.3 1666.7 734.7 1687.5 731.4 1708.4 728 1729.2 724.7 1752.3 720.9M1474.8 490.8 1475.7 490.8 1476.6 490.8 1477.6 490.8 1478.7 490.8 1480.1 515.1 1481.7 555.4 1483.6 594.4 1485.7 630.9 1488 663.8 1490.5 692.6 1493.3 717 1496.1 735.8 1499.1 751.3 1502.5 764.5 1506 773.9 1509.5 780.8 1513 785.7 1516.4 789.2 1521 792.4 1525.7 793.6 1530.3 792.6 1534.9 789.8 1539.5 785.7 1544.2 780.6 1550 773.5 1555.7 766 1561.5 758.8 1567.3 752.7 1574.2 747.5 1581.2 745.8 1588.1 744.9 1595 744.1 1604.3 742.9 1613.5 741.7 1625.1 740.2 1636.7 738.8 1650.5 737 1666.7 734.9 1687.5 732.3 1708.4 729.6 1729.2 727 1752.3 724M1474.8 490.8 1475.7 490.8 1476.6 490.8 1477.6 490.8 1478.7 490.8 1480.1 490.8 1481.7 490.8 1483.6 490.8 1485.7 490.8 1488 490.8 1490.5 490.8 1493.3 490.8 1496.1 541.2 1499.1 587.2 1502.5 630.1 1506 664.3 1509.5 691.5 1513 713.2 1516.4 730.5 1521 748.2 1525.7 761.3 1530.3 771 1534.9 778 1539.5 781.6 1544.2 782.2 1550 779.8 1555.7 775 1561.5 768.9 1567.3 762.2 1574.2 754.7 1581.2 748.9 1588.1 745.9 1595 746.1 1604.3 746.8 1613.5 747.4 1625.1 748.2 1636.7 748.8 1650.5 749.6 1666.7 750.5 1687.5 751.7 1708.4 752.8 1729.2 754 1752.3 755.3M1474.8 490.8 1475.7 490.8 1476.6 490.8 1477.6 490.8 1478.7 490.8 1480.1 490.8 1481.7 490.8 1483.6 490.8 1485.7 490.8 1488 490.8 1490.5 490.8 1493.3 490.8 1496.1 490.8 1499.1 508.9 1502.5 536.6 1506 561.6 1509.5 584.2 1513 604.6 1516.4 623.1 1521 645 1525.7 664.2 1530.3 681 1534.9 695.7 1539.5 708.6 1544.2 719.8 1550 731.4 1555.7 739.5 1561.5 744.8 1567.3 747.7 1574.2 748.8 1581.2 748.3 1588.1 747.1 1595 746.2 1604.3 747.3 1613.5 749.3 1625.1 750.9 1636.7 751.5 1650.5 751.6 1666.7 750.8 1687.5 749.2 1708.4 747.1 1729.2 744.8 1752.3 742M1474.8 490.8 1475.7 490.8 1476.6 490.8 1477.6 490.8 1478.7 490.8 1480.1 490.8 1481.7 490.8 1483.6 490.8 1485.7 490.8 1488 490.8 1490.5 529.7 1493.3 594.9 1496.1 644.2 1499.1 684.2 1502.5 717.7 1506 741.3 1509.5 757.9 1513 769 1516.4 776.2 1521 781.4 1525.7 783.1 1530.3 782.6 1534.9 780.7 1539.5 777.9 1544.2 774.6 1550 770.5 1555.7 766.9 1561.5 764.5 1567.3 763.5 1574.2 762.5 1581.2 761.6 1588.1 760.6 1595 759.7 1604.3 758.4 1613.5 757 1625.1 755.4 1636.7 753.8 1650.5 751.8 1666.7 749.5 1687.5 746.6 1708.4 743.7 1729.2 740.7 1752.3 737.5M1474.8 490.8 1475.7 490.8 1476.6 490.8 1477.6 490.8 1478.7 490.8 1480.1 490.8 1481.7 525.2 1483.6 560.9 1485.7 595.5 1488 628 1490.5 657.8 1493.3 684.4 1496.1 706 1499.1 724.8 1502.5 741.7 1506 754.8 1509.5 764.8 1513 772.6 1516.4 778.5 1521 784.3 1525.7 788.4 1530.3 790.2 1534.9 789.9 1539.5 787.9 1544.2 784.9 1550 780 1555.7 774.8 1561.5 769.7 1567.3 765.4 1574.2 761.7 1581.2 760.5 1588.1 761.3 1595 762.2 1604.3 763.3 1613.5 764.3 1625.1 765.7 1636.7 767 1650.5 768.6 1666.7 770.5 1687.5 772.9 1708.4 775.3 1729.2 777.7 1752.3 780.3M1474.8 490.8 1475.7 490.8 1476.6 490.8 1477.6 490.8 1478.7 490.8 1480.1 490.8 1481.7 490.8 1483.6 525.5 1485.7 561.4 1488 595.8 1490.5 628 1493.3 657.2 1496.1 681.4 1499.1 703 1502.5 723 1506 738.8 1509.5 751.3 1513 761.1 1516.4 768.9 1521 776.9 1525.7 782.6 1530.3 786.8 1534.9 788.3 1539.5 786.8 1544.2 783 1550 776.2 1555.7 768.2 1561.5 760 1567.3 752.5 1574.2 745.5 1581.2 741.6 1588.1 741.9 1595 744.2 1604.3 747.1 1613.5 750 1625.1 753.6 1636.7 757.2 1650.5 761.6 1666.7 766.6 1687.5 773.1 1708.4 779.6 1729.2 786 1752.3 793.2M1474.8 490.8 1475.7 490.8 1476.6 490.8 1477.6 490.8 1478.7 490.8 1480.1 490.8 1481.7 504.1 1483.6 524.3 1485.7 545.4 1488 566.9 1490.5 588.4 1493.3 609.6 1496.1 628.7 1499.1 647.2 1502.5 666.1 1506 682.6 1509.5 697 1513 709.7 1516.4 720.7 1521 733.4 1525.7 743.9 1530.3 752.8 1534.9 760.2 1539.5 766.4 1544.2 770.8 1550 773.3 1555.7 773.3 1561.5 771.6 1567.3 768.8 1574.2 764.9 1581.2 761.4 1588.1 759.1 1595 758.8 1604.3 761 1613.5 762.9 1625.1 765 1636.7 766.8 1650.5 768.9 1666.7 771.1 1687.5 773.8 1708.4 776.4 1729.2 779 1752.3 781.9M1474.8 490.8 1475.7 490.8 1476.6 490.8 1477.6 553.3 1478.7 645 1480.1 710.8 1481.7 752.5 1483.6 775.8 1485.7 787.1 1488 791.5 1490.5 792.1 1493.3 790.8 1496.1 788.6 1499.1 785.8 1502.5 782.2 1506 778.5 1509.5 774.6 1513 770.9 1516.4 767.3 1521 762.8 1525.7 758.9 1530.3 755.3 1534.9 750.9 1539.5 746 1544.2 740.8 1550 734.2 1555.7 727.9 1561.5 722.4 1567.3 718 1574.2 714.6 1581.2 714 1588.1 716.6 1595 720 1604.3 724.7 1613.5 729.4 1625.1 734.9 1636.7 739.9 1650.5 745.1 1666.7 750.2 1687.5 755.1 1708.4 758.7 1729.2 761.4 1752.3 763.6M1474.8 490.8 1475.7 490.8 1476.6 490.8 1477.6 490.8 1478.7 517.9 1480.1 600.6 1481.7 665.8 1483.6 712.3 1485.7 741.4 1488 755.9 1490.5 759.3 1493.3 755.1 1496.1 747.5 1499.1 738.7 1502.5 730.6 1506 725.9 1509.5 724.9 1513 727.1 1516.4 731.8 1521 740.5 1525.7 750.4 1530.3 760 1534.9 768.7 1539.5 776 1544.2 781.8 1550 785.2 1555.7 784.8 1561.5 781.8 1567.3 777.1 1574.2 770.6 1581.2 764.3 1588.1 759.4 1595 756.7 1604.3 757.3 1613.5 758.8 1625.1 760.6 1636.7 762.4 1650.5 764.6 1666.7 767.1 1687.5 770.4 1708.4 773.6 1729.2 776.8 1752.3 780.5M1474.8 609.3 1475.7 653.8 1476.6 687.9 1477.6 713.8 1478.7 737.6 1480.1 757.1 1481.7 771.5 1483.6 780.9 1485.7 786.2 1488 788.2 1490.5 788.1 1493.3 786.4 1496.1 784 1499.1 781 1502.5 777.4 1506 773.9 1509.5 770.6 1513 767.5 1516.4 764.7 1521 761.5 1525.7 759 1530.3 757 1534.9 755.7 1539.5 755 1544.2 754.5 1550 753 1555.7 750.6 1561.5 747.7 1567.3 744.5 1574.2 741 1581.2 738.3 1588.1 737 1595 737.5 1604.3 741.3 1613.5 745.4 1625.1 750.1 1636.7 754.3 1650.5 758.7 1666.7 762.9 1687.5 767.2 1708.4 770.5 1729.2 773.2 1752.3 775.6M1474.8 490.8 1475.7 490.8 1476.6 490.8 1477.6 490.8 1478.7 490.8 1480.1 490.8 1481.7 490.8 1483.6 490.8 1485.7 490.8 1488 490.8 1490.5 490.8 1493.3 508.1 1496.1 531.7 1499.1 555 1502.5 579.4 1506 601.4 1509.5 621.1 1513 638.9 1516.4 654.9 1521 673.7 1525.7 690.1 1530.3 703.5 1534.9 713.7 1539.5 721.2 1544.2 726.5 1550 730.6 1555.7 732.8 1561.5 733.7 1567.3 734 1574.2 734.7 1581.2 736.8 1588.1 740.4 1595 743.4 1604.3 746.5 1613.5 748.8 1625.1 750.9 1636.7 752.3 1650.5 753.4 1666.7 754.2 1687.5 754.7 1708.4 754.8 1729.2 754.8 1752.3 754.7M1474.8 490.8 1475.7 490.8 1476.6 490.8 1477.6 490.8 1478.7 490.8 1480.1 490.8 1481.7 490.8 1483.6 490.8 1485.7 495.1 1488 531.5 1490.5 566.6 1493.3 599.7 1496.1 628 1499.1 654.1 1502.5 679.3 1506 700.2 1509.5 717.3 1513 731.5 1516.4 743.2 1521 755.6 1525.7 765.3 1530.3 772.8 1534.9 778.5 1539.5 782.9 1544.2 784.5 1550 783 1555.7 778.6 1561.5 772.3 1567.3 764.9 1574.2 755.9 1581.2 748 1588.1 742.4 1595 740.4 1604.3 741.1 1613.5 741.8 1625.1 742.5 1636.7 743.2 1650.5 744 1666.7 744.9 1687.5 746 1708.4 747.1 1729.2 748.2 1752.3 749.4M1474.8 798.3 1475.7 798.3 1476.6 798.3 1477.6 798.3 1478.7 798.2 1480.1 798.1 1481.7 797.9 1483.6 797.4 1485.7 796.5 1488 795 1490.5 792.7 1493.3 789.5 1496.1 785.7 1499.1 781.1 1502.5 775.5 1506 769.8 1509.5 764.5 1513 759.8 1516.4 755.8 1521 751.9 1525.7 749.7 1530.3 747.7 1534.9 744.8 1539.5 741.3 1544.2 737.4 1550 732.1 1555.7 726.9 1561.5 722.1 1567.3 718.4 1574.2 716 1581.2 717.1 1588.1 721.3 1595 725.3 1604.3 729.6 1613.5 733 1625.1 736.3 1636.7 738.9 1650.5 741.5 1666.7 743.9 1687.5 746.8 1708.4 749.4 1729.2 752 1752.3 754.9M1474.8 490.8 1475.7 490.8 1476.6 490.8 1477.6 490.8 1478.7 490.8 1480.1 576.8 1481.7 645.4 1483.6 693.7 1485.7 722.7 1488 735.9 1490.5 738 1493.3 734.7 1496.1 731.1 1499.1 729.9 1502.5 732.9 1506 739.8 1509.5 748.8 1513 757.9 1516.4 765.8 1521 773.5 1525.7 777.8 1530.3 779.1 1534.9 778 1539.5 775.1 1544.2 771.3 1550 765.8 1555.7 760.6 1561.5 756.3 1567.3 753.9 1574.2 752 1581.2 750.1 1588.1 748.1 1595 746.1 1604.3 743.5 1613.5 740.9 1625.1 737.6 1636.7 734.3 1650.5 730.3 1666.7 725.7 1687.5 719.8 1708.4 713.9 1729.2 708 1752.3 701.4M1474.8 490.8 1475.7 490.8 1476.6 490.8 1477.6 490.8 1478.7 490.8 1480.1 490.8 1481.7 490.8 1483.6 490.8 1485.7 531.2 1488 582.4 1490.5 627.4 1493.3 665.9 1496.1 695.7 1499.1 720.5 1502.5 741.7 1506 757.2 1509.5 768.4 1513 776.6 1516.4 782.5 1521 788 1525.7 791.6 1530.3 793.9 1534.9 795.4 1539.5 796 1544.2 794.8 1550 791.2 1555.7 785.9 1561.5 779.4 1567.3 772.2 1574.2 763.6 1581.2 755.9 1588.1 750.3 1595 748 1604.3 746.6 1613.5 745.3 1625.1 743.6 1636.7 741.9 1650.5 739.9 1666.7 737.5 1687.5 734.5 1708.4 731.5 1729.2 728.4 1752.3 725.1M1474.8 798.3 1475.7 798.3 1476.6 798.3 1477.6 798.3 1478.7 798.3 1480.1 798.3 1481.7 798.2 1483.6 798.1 1485.7 797.8 1488 797.3 1490.5 796.3 1493.3 794.8 1496.1 792.7 1499.1 789.8 1502.5 785.9 1506 781.5 1509.5 776.6 1513 770.2 1516.4 762.9 1521 752.4 1525.7 741.8 1530.3 731.7 1534.9 722.8 1539.5 715.4 1544.2 709.6 1550 705.1 1555.7 703.7 1561.5 705.8 1567.3 711 1574.2 718.1 1581.2 724.7 1588.1 730.8 1595 736.2 1604.3 742.6 1613.5 748.1 1625.1 753.9 1636.7 758.9 1650.5 764.3 1666.7 770 1687.5 776.9 1708.4 783.7 1729.2 790.3 1752.3 797.8M1474.8 651.6 1475.7 687.4 1476.6 714.5 1477.6 734.9 1478.7 753.6 1480.1 768.9 1481.7 780.2 1483.6 787.8 1485.7 792.4 1488 794.9 1490.5 795.9 1493.3 796 1496.1 795.5 1499.1 794.6 1502.5 793.2 1506 791.7 1509.5 790 1513 788.2 1516.4 786.4 1521 784 1525.7 781.7 1530.3 779.6 1534.9 777.7 1539.5 776 1544.2 774.2 1550 770.7 1555.7 765.9 1561.5 760.2 1567.3 754.2 1574.2 746.9 1581.2 740.3 1588.1 735.3 1595 732.8 1604.3 733.4 1613.5 734.6 1625.1 735.9 1636.7 737.1 1650.5 738.1 1666.7 738.7 1687.5 738.6 1708.4 737.7 1729.2 736.2 1752.3 734.1M1474.8 490.8 1475.7 490.8 1476.6 490.8 1477.6 490.8 1478.7 490.8 1480.1 490.8 1481.7 490.8 1483.6 490.8 1485.7 527.2 1488 565.7 1490.5 601.8 1493.3 634.9 1496.1 662.4 1499.1 686.9 1502.5 709.8 1506 728 1509.5 742.2 1513 752.7 1516.4 760.3 1521 766.8 1525.7 770.1 1530.3 771.1 1534.9 770.3 1539.5 768.3 1544.2 765.7 1550 762.1 1555.7 759 1561.5 757 1567.3 756.5 1574.2 755.9 1581.2 755.1 1588.1 754.2 1595 753.3 1604.3 752 1613.5 750.6 1625.1 748.9 1636.7 747.2 1650.5 745.1 1666.7 742.6 1687.5 739.5 1708.4 736.3 1729.2 733.1 1752.3 729.6M1474.8 490.8 1475.7 490.8 1476.6 563.9 1477.6 653.1 1478.7 717.9 1480.1 757.4 1481.7 777.5 1483.6 785.3 1485.7 786.4 1488 784 1490.5 780 1493.3 775.1 1496.1 770.1 1499.1 765 1502.5 759.4 1506 754.5 1509.5 750.4 1513 746.9 1516.4 744.3 1521 741.8 1525.7 740.6 1530.3 739.5 1534.9 737.9 1539.5 735.9 1544.2 733.5 1550 730 1555.7 726.2 1561.5 722.5 1567.3 719.3 1574.2 716.9 1581.2 717 1588.1 719.5 1595 721.9 1604.3 724.5 1613.5 726.4 1625.1 728 1636.7 728.6 1650.5 728.5 1666.7 727.5 1687.5 725 1708.4 721.9 1729.2 718.3 1752.3 714.1M1474.8 545.6 1475.7 556.9 1476.6 567.6 1477.6 577.8 1478.7 590 1480.1 603.7 1481.7 618.6 1483.6 634.2 1485.7 650.2 1488 666.1 1490.5 681.6 1493.3 696.5 1496.1 709.5 1499.1 721.7 1502.5 733.7 1506 743.8 1509.5 752.3 1513 759.5 1516.4 765.6 1521 772.3 1525.7 777.6 1530.3 781.6 1534.9 783.5 1539.5 783.4 1544.2 781.9 1550 778.5 1555.7 774.2 1561.5 769.7 1567.3 765.5 1574.2 761.6 1581.2 759.7 1588.1 760.4 1595 761.7 1604.3 763.4 1613.5 765 1625.1 766.9 1636.7 768.7 1650.5 770.9 1666.7 773.4 1687.5 776.6 1708.4 779.8 1729.2 783 1752.3 786.6M1474.8 490.8 1475.7 490.8 1476.6 490.8 1477.6 490.8 1478.7 490.8 1480.1 490.8 1481.7 490.8 1483.6 490.8 1485.7 490.8 1488 532.4 1490.5 589.9 1493.3 638.6 1496.1 675.9 1499.1 706.5 1502.5 732.5 1506 751.1 1509.5 764.4 1513 774 1516.4 780.9 1521 787.1 1525.7 791.1 1530.3 793.7 1534.9 795.3 1539.5 796.4 1544.2 796.5 1550 794.2 1555.7 789.6 1561.5 783.3 1567.3 775.8 1574.2 766 1581.2 756.3 1588.1 748 1595 742.5 1604.3 739.7 1613.5 737.3 1625.1 734.4 1636.7 731.4 1650.5 727.8 1666.7 723.6 1687.5 718.3 1708.4 712.9 1729.2 707.6 1752.3 701.6M1474.8 639.5 1475.7 696.5 1476.6 732.7 1477.6 755.1 1478.7 770.5 1480.1 777.7 1481.7 777.3 1483.6 771.2 1485.7 761.9 1488 752.2 1490.5 744.4 1493.3 740.2 1496.1 740.3 1499.1 743.9 1502.5 750.8 1506 759 1509.5 767.1 1513 774.3 1516.4 780.3 1521 785.1 1525.7 786.2 1530.3 784.5 1534.9 780.7 1539.5 775.4 1544.2 769.2 1550 761 1555.7 753.1 1561.5 746.4 1567.3 741.5 1574.2 739.3 1581.2 738.7 1588.1 738.1 1595 737.5 1604.3 736.6 1613.5 735.8 1625.1 734.7 1636.7 733.7 1650.5 732.4 1666.7 730.9 1687.5 729.1 1708.4 727.2 1729.2 725.3 1752.3 723.2M1474.8 798.3 1475.7 798.3 1476.6 798.3 1477.6 798.3 1478.7 798.2 1480.1 798.1 1481.7 797.7 1483.6 796.8 1485.7 795.2 1488 792.7 1490.5 788.9 1493.3 783.9 1496.1 778.4 1499.1 772.2 1502.5 765.6 1506 760 1509.5 755.9 1513 753.3 1516.4 752.3 1521 753.1 1525.7 755.8 1530.3 759.7 1534.9 764.4 1539.5 769.2 1544.2 773.9 1550 778.2 1555.7 780 1561.5 779.8 1567.3 777.9 1574.2 774.4 1581.2 770.4 1588.1 766.8 1595 764.3 1604.3 764.1 1613.5 765 1625.1 765.7 1636.7 766.4 1650.5 767.1 1666.7 767.9 1687.5 769 1708.4 770 1729.2 771 1752.3 772.1M1474.8 490.8 1475.7 490.8 1476.6 490.8 1477.6 490.8 1478.7 490.8 1480.1 490.8 1481.7 500.2 1483.6 518.9 1485.7 538.5 1488 558.7 1490.5 579.1 1493.3 599.4 1496.1 617.8 1499.1 635.8 1502.5 654.4 1506 670.9 1509.5 685.3 1513 697.1 1516.4 706.7 1521 716.3 1525.7 722.9 1530.3 727.1 1534.9 729.4 1539.5 730.3 1544.2 730.2 1550 729.7 1555.7 729.3 1561.5 729.9 1567.3 732.3 1574.2 735 1581.2 737 1588.1 738.5 1595 739.5 1604.3 740.4 1613.5 740.9 1625.1 741 1636.7 740.9 1650.5 740.4 1666.7 739.5 1687.5 738.3 1708.4 736.9 1729.2 735.4 1752.3 733.8M1474.8 490.8 1475.7 490.8 1476.6 490.8 1477.6 490.8 1478.7 490.8 1480.1 490.8 1481.7 490.8 1483.6 490.8 1485.7 490.8 1488 490.8 1490.5 500.9 1493.3 527.7 1496.1 552 1499.1 575.9 1502.5 600.6 1506 622.6 1509.5 642.1 1513 659.4 1516.4 674.9 1521 692.8 1525.7 708.1 1530.3 721.2 1534.9 732.4 1539.5 741.8 1544.2 748.6 1550 753.9 1555.7 756.4 1561.5 756.9 1567.3 756.1 1574.2 754.3 1581.2 752.6 1588.1 751.8 1595 753 1604.3 755.7 1613.5 757.8 1625.1 759.8 1636.7 761.3 1650.5 762.7 1666.7 764 1687.5 765.3 1708.4 766.4 1729.2 767.4 1752.3 768.5M1474.8 490.8 1475.7 490.8 1476.6 490.8 1477.6 490.8 1478.7 490.8 1480.1 490.8 1481.7 490.8 1483.6 506.4 1485.7 536.5 1488 566.3 1490.5 595.3 1493.3 622.7 1496.1 646.4 1499.1 668.5 1502.5 690.1 1506 708.1 1509.5 723 1513 735 1516.4 743.7 1521 751.2 1525.7 755.1 1530.3 756.4 1534.9 755.8 1539.5 754 1544.2 751.8 1550 749 1555.7 747 1561.5 746.5 1567.3 748 1574.2 751.2 1581.2 754 1588.1 756.7 1595 759.1 1604.3 762.2 1613.5 765.2 1625.1 768.8 1636.7 772.3 1650.5 776.5 1666.7 781.4 1687.5 787.6 1708.4 793.9 1729.2 798.3 1752.3 798.3M1474.8 490.8 1475.7 490.8 1476.6 490.8 1477.6 490.8 1478.7 490.8 1480.1 490.8 1481.7 490.8 1483.6 490.8 1485.7 490.8 1488 490.8 1490.5 490.8 1493.3 490.8 1496.1 568 1499.1 635.1 1502.5 688.7 1506 724.7 1509.5 748.8 1513 765.1 1516.4 776 1521 785.2 1525.7 790.6 1530.3 793.8 1534.9 795.6 1539.5 796.7 1544.2 797.4 1550 797.8 1555.7 797.5 1561.5 795.8 1567.3 792.9 1574.2 788.3 1581.2 782.9 1588.1 777.3 1595 772.2 1604.3 767.3 1613.5 765.5 1625.1 763.9 1636.7 762.3 1650.5 760.4 1666.7 758.2 1687.5 755.3 1708.4 752.5 1729.2 749.6 1752.3 746.4M1474.8 490.8 1475.7 490.8 1476.6 490.8 1477.6 490.8 1478.7 566 1480.1 658.3 1481.7 720.3 1483.6 757.5 1485.7 777.3 1488 786.3 1490.5 789.3 1493.3 789.2 1496.1 787.7 1499.1 785.5 1502.5 782.7 1506 779.9 1509.5 777.2 1513 774.7 1516.4 772.5 1521 768.7 1525.7 763.4 1530.3 757.1 1534.9 750.4 1539.5 743.5 1544.2 736.9 1550 729.6 1555.7 723.7 1561.5 719.9 1567.3 718.4 1574.2 720.3 1581.2 724.4 1588.1 728.5 1595 732.8 1604.3 738.3 1613.5 743.8 1625.1 750.2 1636.7 756.3 1650.5 763 1666.7 770.2 1687.5 778.5 1708.4 786 1729.2 792.9 1752.3 797.5M1474.8 592.8 1475.7 607.2 1476.6 620.6 1477.6 633 1478.7 647.3 1480.1 662.9 1481.7 679.1 1483.6 695.2 1485.7 710.7 1488 725.2 1490.5 738.4 1493.3 750.2 1496.1 759.6 1499.1 767.7 1502.5 775 1506 780.5 1509.5 784.8 1513 788 1516.4 790.5 1521 792.8 1525.7 794.5 1530.3 795.7 1534.9 796.5 1539.5 797 1544.2 797.2 1550 794.9 1555.7 790 1561.5 783.2 1567.3 775.3 1574.2 765.4 1581.2 756.2 1588.1 748.9 1595 744.5 1604.3 744.2 1613.5 745 1625.1 746.1 1636.7 747.1 1650.5 748.4 1666.7 749.9 1687.5 751.8 1708.4 753.7 1729.2 755.6 1752.3 757.7M1474.8 490.8 1475.7 490.8 1476.6 490.8 1477.6 490.8 1478.7 490.8 1480.1 490.8 1481.7 490.8 1483.6 490.8 1485.7 490.8 1488 490.8 1490.5 490.8 1493.3 490.8 1496.1 511.4 1499.1 564.8 1502.5 614.1 1506 653 1509.5 683.7 1513 707.9 1516.4 727 1521 746.3 1525.7 760.4 1530.3 770.7 1534.9 778.2 1539.5 783.6 1544.2 787.6 1550 790.7 1555.7 789.9 1561.5 786.1 1567.3 780.3 1574.2 772.1 1581.2 763.8 1588.1 756.7 1595 751.7 1604.3 750 1613.5 752 1625.1 754.5 1636.7 756.9 1650.5 759.8 1666.7 763.2 1687.5 767.5 1708.4 771.9 1729.2 776.2 1752.3 781.1M1474.8 645.2 1475.7 655.3 1476.6 664.7 1477.6 673.6 1478.7 683.8 1480.1 694.9 1481.7 706.6 1483.6 718.3 1485.7 729.7 1488 740.5 1490.5 750.4 1493.3 759.3 1496.1 766.5 1499.1 772.8 1502.5 778.6 1506 783.1 1509.5 786.5 1513 789.2 1516.4 791.2 1521 793.3 1525.7 794.7 1530.3 795.8 1534.9 796.5 1539.5 797 1544.2 797.4 1550 797.7 1555.7 796.6 1561.5 792.8 1567.3 786.7 1574.2 777.6 1581.2 767.6 1588.1 757.7 1595 749.3 1604.3 742.2 1613.5 741.2 1625.1 740.9 1636.7 740.5 1650.5 740.1 1666.7 739.6 1687.5 739 1708.4 738.4 1729.2 737.8 1752.3 737.1M1474.8 798.3 1475.7 798.3 1476.6 798.2 1477.6 798.1 1478.7 797.6 1480.1 796.5 1481.7 794.5 1483.6 791.1 1485.7 785.9 1488 778.9 1490.5 770.4 1493.3 760.9 1496.1 752 1499.1 743.7 1502.5 736.7 1506 732.4 1509.5 730.6 1513 730.1 1516.4 730.6 1521 732.1 1525.7 734.1 1530.3 736 1534.9 737.5 1539.5 738.6 1544.2 739.5 1550 740.4 1555.7 741.8 1561.5 744.1 1567.3 747.8 1574.2 751.8 1581.2 755.1 1588.1 757.9 1595 760.2 1604.3 763 1613.5 765.6 1625.1 768.7 1636.7 771.6 1650.5 775.2 1666.7 779.2 1687.5 784.5 1708.4 789.7 1729.2 794.9 1752.3 798.3M1474.8 490.8 1475.7 490.8 1476.6 494.9 1477.6 507.8 1478.7 523.2 1480.1 540.6 1481.7 559.5 1483.6 579.4 1485.7 599.9 1488 620.3 1490.5 640.4 1493.3 659.8 1496.1 676.7 1499.1 692.8 1502.5 708.7 1506 722.2 1509.5 733.7 1513 743.4 1516.4 751.7 1521 760.4 1525.7 765.8 1530.3 768.3 1534.9 768.7 1539.5 767.5 1544.2 765.1 1550 761.4 1555.7 757.4 1561.5 753.9 1567.3 751.6 1574.2 751 1581.2 752.7 1588.1 754.3 1595 755.6 1604.3 757.3 1613.5 758.8 1625.1 760.6 1636.7 762.2 1650.5 764.2 1666.7 766.4 1687.5 769.2 1708.4 772 1729.2 774.8 1752.3 777.9M1474.8 490.8 1475.7 490.8 1476.6 490.8 1477.6 490.8 1478.7 490.8 1480.1 490.8 1481.7 490.8 1483.6 490.8 1485.7 490.8 1488 490.8 1490.5 490.8 1493.3 490.8 1496.1 490.8 1499.1 537.2 1502.5 598.7 1506 645.7 1509.5 681.7 1513 709.2 1516.4 730.2 1521 750.7 1525.7 765 1530.3 774 1534.9 777.9 1539.5 778.1 1544.2 775.7 1550 770.2 1555.7 763.2 1561.5 755.9 1567.3 749.1 1574.2 742.9 1581.2 740.1 1588.1 740.6 1595 741.5 1604.3 742.5 1613.5 743.5 1625.1 744.7 1636.7 745.9 1650.5 747.3 1666.7 749 1687.5 751.1 1708.4 753.3 1729.2 755.4 1752.3 757.8M1474.8 490.8 1475.7 490.8 1476.6 490.8 1477.6 490.8 1478.7 490.8 1480.1 490.8 1481.7 495.5 1483.6 552.4 1485.7 603.7 1488 648.3 1490.5 685.6 1493.3 715.8 1496.1 738 1499.1 755.3 1502.5 769.2 1506 778.6 1509.5 785 1513 789.3 1516.4 792.2 1521 794.7 1525.7 796.1 1530.3 797 1534.9 797.5 1539.5 797.8 1544.2 798 1550 796.6 1555.7 792.5 1561.5 786.8 1567.3 780.3 1574.2 772.5 1581.2 765.8 1588.1 761.1 1595 759 1604.3 760.8 1613.5 764.3 1625.1 768.7 1636.7 773.1 1650.5 778.4 1666.7 784.5 1687.5 792.4 1708.4 798.3 1729.2 798.3 1752.3 798.3M1474.8 798.3 1475.7 798.3 1476.6 798.3 1477.6 798.3 1478.7 798.2 1480.1 798 1481.7 797.7 1483.6 797.1 1485.7 796 1488 794.4 1490.5 792.1 1493.3 789 1496.1 785.4 1499.1 781.1 1502.5 775.9 1506 770.6 1509.5 765.5 1513 760.4 1516.4 755 1521 747.6 1525.7 740.5 1530.3 734 1534.9 728.3 1539.5 723.6 1544.2 720.1 1550 717.4 1555.7 716.7 1561.5 718.1 1567.3 721.7 1574.2 727.8 1581.2 733.7 1588.1 739.3 1595 744.5 1604.3 750.6 1613.5 755.9 1625.1 761.5 1636.7 766 1650.5 770.4 1666.7 774.6 1687.5 779.1 1708.4 783 1729.2 786.6 1752.3 790.5M1474.8 490.8 1475.7 490.8 1476.6 490.8 1477.6 490.8 1478.7 490.8 1480.1 490.8 1481.7 490.8 1483.6 490.8 1485.7 490.8 1488 490.8 1490.5 541.6 1493.3 590.1 1496.1 629.4 1499.1 663.6 1502.5 694.6 1506 718.5 1509.5 736.9 1513 751 1516.4 761.8 1521 770.9 1525.7 775.4 1530.3 776.4 1534.9 775 1539.5 772 1544.2 768 1550 762.4 1555.7 757.1 1561.5 752.8 1567.3 750.1 1574.2 749.8 1581.2 750.6 1588.1 751.3 1595 752 1604.3 752.8 1613.5 753.7 1625.1 754.7 1636.7 755.7 1650.5 756.9 1666.7 758.3 1687.5 760.2 1708.4 762 1729.2 763.8 1752.3 765.8M1474.8 490.8 1475.7 490.8 1476.6 490.8 1477.6 490.8 1478.7 490.8 1480.1 490.8 1481.7 490.8 1483.6 490.8 1485.7 490.8 1488 490.8 1490.5 490.8 1493.3 490.8 1496.1 520.7 1499.1 553.9 1502.5 587.4 1506 616.2 1509.5 641.1 1513 662.6 1516.4 681.2 1521 701.8 1525.7 717.9 1530.3 730.1 1534.9 739.1 1539.5 745.5 1544.2 749.9 1550 753.2 1555.7 754.9 1561.5 755.6 1567.3 756.1 1574.2 757.3 1581.2 759.3 1588.1 760.8 1595 761.7 1604.3 762.4 1613.5 762.7 1625.1 762.7 1636.7 762.3 1650.5 761.7 1666.7 760.8 1687.5 759.5 1708.4 758.1 1729.2 756.7 1752.3 755.1M1474.8 490.8 1475.7 490.8 1476.6 490.8 1477.6 490.8 1478.7 490.8 1480.1 490.8 1481.7 490.8 1483.6 490.8 1485.7 508.4 1488 536.3 1490.5 563.9 1493.3 590.7 1496.1 614.5 1499.1 637.2 1502.5 659.9 1506 679.4 1509.5 696.2 1513 710.6 1516.4 722.9 1521 736.8 1525.7 747.1 1530.3 753.5 1534.9 756.9 1539.5 757.8 1544.2 756.8 1550 754 1555.7 750.1 1561.5 746.2 1567.3 743.1 1574.2 741.3 1581.2 742.5 1588.1 744.4 1595 745.9 1604.3 747.7 1613.5 749.2 1625.1 750.8 1636.7 752.2 1650.5 753.8 1666.7 755.6 1687.5 757.8 1708.4 759.9 1729.2 762.1 1752.3 764.4M1474.8 490.8 1475.7 490.8 1476.6 490.8 1477.6 501.1 1478.7 516.4 1480.1 533.6 1481.7 552.5 1483.6 572.4 1485.7 592.8 1488 613.4 1490.5 633.6 1493.3 653.2 1496.1 670.4 1499.1 686.8 1502.5 703.1 1506 717 1509.5 728.9 1513 739.1 1516.4 747.7 1521 757.3 1525.7 765.1 1530.3 771.4 1534.9 776.5 1539.5 780.6 1544.2 782.3 1550 780.6 1555.7 776 1561.5 769.6 1567.3 762.6 1574.2 754.6 1581.2 748.3 1588.1 744.8 1595 744.8 1604.3 748.7 1613.5 752.5 1625.1 757.1 1636.7 761.6 1650.5 767 1666.7 773.2 1687.5 781.1 1708.4 789 1729.2 796.9 1752.3 798.3M1474.8 490.8 1475.7 490.8 1476.6 529.9 1477.6 620.6 1478.7 692.3 1480.1 741.2 1481.7 770.5 1483.6 786.1 1485.7 793.3 1488 796.2 1490.5 797.1 1493.3 797.1 1496.1 796.7 1499.1 796.1 1502.5 795.1 1506 793.9 1509.5 792.5 1513 791.1 1516.4 789.5 1521 786.7 1525.7 782.4 1530.3 777 1534.9 770.9 1539.5 764.4 1544.2 757.8 1550 749.9 1555.7 742.9 1561.5 737.2 1567.3 733.3 1574.2 731.5 1581.2 732.1 1588.1 733.2 1595 734.6 1604.3 736.9 1613.5 739.6 1625.1 743.3 1636.7 747 1650.5 751.4 1666.7 756.2 1687.5 761.5 1708.4 766 1729.2 769.6 1752.3 773M1474.8 490.8 1475.7 490.8 1476.6 490.8 1477.6 490.8 1478.7 490.8 1480.1 490.8 1481.7 490.8 1483.6 490.8 1485.7 490.8 1488 490.8 1490.5 501.1 1493.3 538.5 1496.1 571.1 1499.1 601.9 1502.5 632.3 1506 657.9 1509.5 679.6 1513 698 1516.4 713.5 1521 730.2 1525.7 742.5 1530.3 751.2 1534.9 756.9 1539.5 760.5 1544.2 762.3 1550 762.9 1555.7 762.4 1561.5 761.6 1567.3 761 1574.2 761.4 1581.2 762.9 1588.1 764.1 1595 764.9 1604.3 765.8 1613.5 766.4 1625.1 766.9 1636.7 767.3 1650.5 767.7 1666.7 768.1 1687.5 768.5 1708.4 768.9 1729.2 769.2 1752.3 769.7M1474.8 490.8 1475.7 490.8 1476.6 490.8 1477.6 490.8 1478.7 490.8 1480.1 555.6 1481.7 638 1483.6 697.8 1485.7 737.6 1488 761.2 1490.5 772.7 1493.3 775.7 1496.1 773.3 1499.1 767.4 1502.5 758.9 1506 749.9 1509.5 741.6 1513 734.5 1516.4 729 1521 724.5 1525.7 723 1530.3 724.3 1534.9 727.7 1539.5 732.6 1544.2 738.6 1550 745.8 1555.7 751.4 1561.5 755.2 1567.3 757.4 1574.2 758.2 1581.2 757.7 1588.1 756.7 1595 756.2 1604.3 757.8 1613.5 759.8 1625.1 761.2 1636.7 762 1650.5 762.4 1666.7 762.5 1687.5 762.5 1708.4 762.4 1729.2 762.2 1752.3 762.1M1474.8 544.1 1475.7 559.2 1476.6 573.4 1477.6 586.8 1478.7 602.4 1480.1 619.6 1481.7 637.7 1483.6 656.3 1485.7 674.6 1488 692.1 1490.5 708.6 1493.3 723.7 1496.1 736.2 1499.1 747.4 1502.5 757.9 1506 766.2 1509.5 772.8 1513 778 1516.4 782.2 1521 786.4 1525.7 789.6 1530.3 791.9 1534.9 793.6 1539.5 794.8 1544.2 795.7 1550 796.5 1555.7 795.2 1561.5 791.1 1567.3 785.3 1574.2 777.4 1581.2 769.6 1588.1 763 1595 758.5 1604.3 756.9 1613.5 759.8 1625.1 763.9 1636.7 767.9 1650.5 772.7 1666.7 778.3 1687.5 785.6 1708.4 792.8 1729.2 798.3 1752.3 798.3M1474.8 490.8 1475.7 490.8 1476.6 490.8 1477.6 490.8 1478.7 490.8 1480.1 490.8 1481.7 490.8 1483.6 490.8 1485.7 490.8 1488 490.8 1490.5 490.8 1493.3 520.7 1496.1 556.1 1499.1 589.3 1502.5 622 1506 649.6 1509.5 672.8 1513 692.5 1516.4 709 1521 727.2 1525.7 741.6 1530.3 752.3 1534.9 758.5 1539.5 761.3 1544.2 761.4 1550 759 1555.7 754.9 1561.5 750.2 1567.3 745.8 1574.2 742.2 1581.2 741.4 1588.1 743.7 1595 746.2 1604.3 749.2 1613.5 751.9 1625.1 755 1636.7 758.1 1650.5 761.6 1666.7 765.6 1687.5 770.7 1708.4 775.8 1729.2 781 1752.3 786.6" fill="none" stroke="#cfeaf2" stroke-width="1" stroke-linejoin="round"/>
<path d="M1474.8 490.8 1474.8 490.8 1474.9 490.8 1475.1 490.8 1475.3 490.8 1475.5 490.8 1475.8 490.8 1476.1 490.8 1476.4 490.8 1476.8 511.7 1477.2 552.9 1477.6 588.6 1478.1 616.7 1478.6 642.2 1479.2 666.1 1479.8 686.7 1480.4 701.4 1481 711.3 1481.7 718.7 1482.4 723.9 1483.2 727.6 1483.9 730.4 1484.7 733.3 1485.5 736.5 1486.4 739.6 1487.3 742.4 1488.2 744.9 1489.1 747.3 1490.1 749.4 1491.1 751.4 1492.1 753.3 1493.2 755 1494.3 756.7 1495.4 758.4 1496.5 759.9 1497.7 761.3 1498.9 762.7 1500.1 763.9 1501.3 765.1 1502.6 766.1 1503.9 767.1 1505.2 768 1506.6 768.8 1507.9 769.6 1509.3 770.2 1510.8 770.8 1512.2 771.4 1513.7 771.8 1515.2 772.2 1516.7 772.5 1518.3 772.8 1519.9 773 1521.5 773.2 1523.1 773.3 1524.8 773.3 1526.4 773.4 1528.1 773.3 1529.9 773.2 1531.6 773.1 1533.4 772.9 1535.2 772.6 1537 772.4 1538.9 772 1540.7 771.7 1542.6 771.3 1544.5 770.9 1546.5 770.6 1548.4 770.1 1550.4 769.7 1552.5 769.1 1554.5 768.6 1556.6 768 1558.6 767.4 1560.7 766.7 1562.9 766.1 1565 765.4 1567.2 764.8 1569.4 764.2 1571.6 763.5 1573.9 762.9 1576.1 762.2 1578.4 761.6 1580.7 760.9 1583.1 760.3 1585.4 759.6 1587.8 759 1590.2 758.4 1592.7 757.8 1595.1 757.3 1597.6 756.7 1600.1 756.2 1602.6 755.7 1605.1 755.2 1607.7 754.7 1610.3 754.3 1612.9 753.9 1615.5 753.4 1618.2 753 1620.8 752.6 1623.5 752.2 1626.2 751.9 1629 751.6 1631.7 751.3 1634.5 751.1 1637.3 750.9 1640.1 750.8 1643 750.6 1645.9 750.5 1648.7 750.4 1651.6 750.2 1654.6 750.1 1657.5 750 1660.5 749.9 1663.5 749.8 1666.5 749.8 1669.6 749.7 1672.6 749.6 1675.7 749.5 1678.8 749.4 1681.9 749.4 1685.1 749.3 1688.2 749.2 1691.4 749.2 1694.6 749.1 1697.8 749.1 1701.1 749.1 1704.4 749 1707.7 749 1711 749 1714.3 748.9 1717.6 748.9 1721 748.9 1724.4 748.9 1727.8 748.9 1731.3 748.9 1734.7 748.9 1738.2 748.9 1741.7 748.9 1745.2 748.9 1748.7 748.9 1752.3 748.9" fill="none" stroke="#6cc5d9" stroke-width="8.2" stroke-linejoin="round" stroke-linecap="round"/>
</g>
<line x1="1691.6" y1="523.5" x2="1691.6" y2="798.3" stroke="#6cc5d9" stroke-width="2" stroke-linecap="butt"/>
<line x1="1474.8" y1="519.8" x2="1474.8" y2="799.7" stroke="#000" stroke-width="2.8" stroke-linecap="butt"/>
<line x1="1470.8" y1="798.3" x2="1753.5" y2="798.3" stroke="#000" stroke-width="2.8" stroke-linecap="butt"/>
<line x1="1474.8" y1="798.3" x2="1474.8" y2="803" stroke="#000" stroke-width="2.2" stroke-linecap="butt"/>
<line x1="1567.3" y1="798.3" x2="1567.3" y2="803" stroke="#000" stroke-width="2.2" stroke-linecap="butt"/>
<line x1="1659.8" y1="798.3" x2="1659.8" y2="803" stroke="#000" stroke-width="2.2" stroke-linecap="butt"/>
<line x1="1752.3" y1="798.3" x2="1752.3" y2="803" stroke="#000" stroke-width="2.2" stroke-linecap="butt"/>
<line x1="1470.3" y1="521.3" x2="1474.8" y2="521.3" stroke="#000" stroke-width="2" stroke-linecap="butt"/>
<text x="1461.5" y="534.5" font-size="28.3" text-anchor="end" fill="#000">0.05</text>
<line x1="1470.3" y1="659.8" x2="1474.8" y2="659.8" stroke="#000" stroke-width="2" stroke-linecap="butt"/>
<text x="1461.5" y="673.5" font-size="28.3" text-anchor="end" fill="#000">0.025</text>
<line x1="1470.3" y1="798.3" x2="1474.8" y2="798.3" stroke="#000" stroke-width="2" stroke-linecap="butt"/>
<text x="1461.5" y="811.6" font-size="28.3" text-anchor="end" fill="#000">0</text>
<text x="1471.9" y="833.6" font-size="28.3" text-anchor="middle" fill="#000">0</text>
<text x="1563.7" y="833.6" font-size="28.3" text-anchor="middle" fill="#000">4</text>
<text x="1656.1" y="833.6" font-size="28.3" text-anchor="middle" fill="#000">8</text>
<text x="1747.9" y="833.6" font-size="28.3" text-anchor="middle" fill="#000">12</text>
<text x="1619.8" y="867.6" font-size="29" text-anchor="middle" fill="#000">Time (s)</text>
<text x="1526.7" y="513.6" font-size="40.04" text-anchor="start" fill="#6cc5d9" font-family='"Liberation Serif", "DejaVu Serif", serif' font-style="italic">t</text>
<text transform='translate(1552.7 513.6) scale(1.36 1)' font-size='38.5' fill='#6cc5d9' font-family='"Liberation Serif", "DejaVu Serif", serif'>=</text>
<text x="1602.6" y="513.6" font-size="38.5" text-anchor="middle" fill="#6cc5d9" font-family='"Liberation Serif", "DejaVu Serif", serif'>9</text>
<text x="1617.6" y="513.6" font-size="40.04" text-anchor="middle" fill="#6cc5d9" font-family='"Liberation Serif", "DejaVu Serif", serif'>.</text>
<text x="1632.5" y="513.6" font-size="38.5" text-anchor="middle" fill="#6cc5d9" font-family='"Liberation Serif", "DejaVu Serif", serif'>3</text>
<text x="1651.8" y="513.6" font-size="38.5" text-anchor="middle" fill="#6cc5d9" font-family='"Liberation Serif", "DejaVu Serif", serif'>7</text>
<text x="1671" y="513.6" font-size="38.5" text-anchor="middle" fill="#6cc5d9" font-family='"Liberation Serif", "DejaVu Serif", serif'>5</text>
<text x="1682" y="513.6" font-size="40.81" text-anchor="start" fill="#6cc5d9" font-family='"Liberation Serif", "DejaVu Serif", serif' font-style="italic">s</text>
<line x1="204.7" y1="887.5" x2="204.7" y2="1140.1" stroke="#000" stroke-width="2.2" stroke-linecap="butt"/>
<line x1="200.7" y1="1139.1" x2="456.2" y2="1139.1" stroke="#000" stroke-width="2.2" stroke-linecap="butt"/>
<line x1="344.4" y1="1139.1" x2="344.4" y2="1143.6" stroke="#000" stroke-width="2" stroke-linecap="butt"/>
<line x1="200.2" y1="888.5" x2="204.7" y2="888.5" stroke="#000" stroke-width="2" stroke-linecap="butt"/>
<text x="187.9" y="904.6" font-size="28.3" text-anchor="end" fill="#000">200</text>
<line x1="200.2" y1="1013.8" x2="204.7" y2="1013.8" stroke="#000" stroke-width="2" stroke-linecap="butt"/>
<text x="187.9" y="1029.3" font-size="28.3" text-anchor="end" fill="#000">100</text>
<line x1="200.2" y1="1139.1" x2="204.7" y2="1139.1" stroke="#000" stroke-width="2" stroke-linecap="butt"/>
<text x="187.9" y="1130.3" font-size="28.3" text-anchor="end" fill="#000">0</text>
<path d="M204.7 1139.1 217.3 1013.8 229.8 1110.3 242.4 1101.5 255 1107.8 267.6 1119.1 280.1 1130.3 292.7 1136.6 305.3 1139.1 317.9 1139.1 330.4 1139.1 343 1139.1 355.6 1139.1 368.2 1139.1 380.8 1139.1 393.3 1139.1 405.9 1139.1 418.5 1139.1 431 1139.1 443.6 1139.1 456.2 1139.1" fill="none" stroke="#1c75bc" stroke-width="6.6" stroke-linejoin="round" stroke-linecap="butt"/>
<path d="M204.7 1139.1 217.3 907.3 229.8 1124.1 242.4 1134.7 255 1137.6 267.6 1138.6 280.1 1139.1 292.7 1139.1 305.3 1139.1 317.9 1139.1 330.4 1139.1 343 1139.1 355.6 1139.1 368.2 1139.1 380.8 1139.1 393.3 1139.1 405.9 1139.1 418.5 1139.1 431 1139.1 443.6 1139.1 456.2 1139.1" fill="none" stroke="#d85a2b" stroke-width="6.6" stroke-linejoin="round" stroke-linecap="butt"/>
<text x="203.6" y="1176.5" font-size="28.3" text-anchor="middle" fill="#000">0</text>
<text x="343.3" y="1176.5" font-size="28.3" text-anchor="middle" fill="#000">5</text>
<text x="331" y="1208" font-size="29" text-anchor="middle" fill="#000">W1 distance</text>
<text x="111.5" y="1013.4" font-size="29" text-anchor="middle" fill="#000" transform="rotate(-90 111.5 1013.4)">Count</text>
<text x="252" y="936.9" font-size="28.8" text-anchor="start" fill="#1c75bc" xml:space="preserve">Data  - exponential</text>
<text x="252" y="982.8" font-size="28.8" text-anchor="start" fill="#d85a2b" xml:space="preserve">Data  - hyperbolic</text>
<line x1="646.3" y1="887.5" x2="646.3" y2="1140.1" stroke="#000" stroke-width="2.2" stroke-linecap="butt"/>
<line x1="642.3" y1="1139.1" x2="897.4" y2="1139.1" stroke="#000" stroke-width="2.2" stroke-linecap="butt"/>
<line x1="785.8" y1="1139.1" x2="785.8" y2="1143.6" stroke="#000" stroke-width="2" stroke-linecap="butt"/>
<line x1="641.8" y1="888.5" x2="646.3" y2="888.5" stroke="#000" stroke-width="2" stroke-linecap="butt"/>
<text x="628.5" y="904.6" font-size="28.3" text-anchor="end" fill="#000">200</text>
<line x1="641.8" y1="1013.8" x2="646.3" y2="1013.8" stroke="#000" stroke-width="2" stroke-linecap="butt"/>
<text x="628.5" y="1029.3" font-size="28.3" text-anchor="end" fill="#000">100</text>
<line x1="641.8" y1="1139.1" x2="646.3" y2="1139.1" stroke="#000" stroke-width="2" stroke-linecap="butt"/>
<text x="628.5" y="1130.3" font-size="28.3" text-anchor="end" fill="#000">0</text>
<path d="M646.3 1137.8 658.9 1137.2 671.4 894.8 684 1135.3 696.5 1140.1 709.1 1138.5 721.6 1139.1 734.2 1139.1 746.7 1139.1 759.3 1139.1 771.8 1139.1 784.4 1139.1 797 1139.1 809.5 1139.1 822.1 1139.1 834.6 1139.1 847.2 1139.1 859.7 1139.1 872.3 1139.1 884.8 1139.1 897.4 1139.1" fill="none" stroke="#1c75bc" stroke-width="6.6" stroke-linejoin="round" stroke-linecap="butt"/>
<path d="M646.3 1139.1 658.9 1139.1 671.4 894.8 684 1134.1 696.5 1137.2 709.1 1138.7 721.6 1139.1 734.2 1139.1 746.7 1139.1 759.3 1139.1 771.8 1139.1 784.4 1139.1 797 1139.1 809.5 1139.1 822.1 1139.1 834.6 1139.1 847.2 1139.1 859.7 1139.1 872.3 1139.1 884.8 1139.1 897.4 1139.1" fill="none" stroke="#d85a2b" stroke-width="6.6" stroke-linejoin="round" stroke-linecap="butt"/>
<text x="645.2" y="1176.5" font-size="28.3" text-anchor="middle" fill="#000">0</text>
<text x="784.9" y="1176.5" font-size="28.3" text-anchor="middle" fill="#000">5</text>
<text x="772.2" y="1208" font-size="29" text-anchor="middle" fill="#000">W1 distance</text>
<line x1="1071" y1="887.5" x2="1071" y2="1140.1" stroke="#000" stroke-width="2.2" stroke-linecap="butt"/>
<line x1="1067" y1="1139.1" x2="1321.8" y2="1139.1" stroke="#000" stroke-width="2.2" stroke-linecap="butt"/>
<line x1="1210.3" y1="1139.1" x2="1210.3" y2="1143.6" stroke="#000" stroke-width="2" stroke-linecap="butt"/>
<line x1="1066.5" y1="935.7" x2="1071" y2="935.7" stroke="#000" stroke-width="2" stroke-linecap="butt"/>
<text x="1049.7" y="954.2" font-size="28.3" text-anchor="end" fill="#000">50</text>
<line x1="1066.5" y1="1139.1" x2="1071" y2="1139.1" stroke="#000" stroke-width="2" stroke-linecap="butt"/>
<text x="1049.7" y="1130.3" font-size="28.3" text-anchor="end" fill="#000">0</text>
<path d="M1071 1139.1 1083.5 1139.1 1096.1 1082.4 1108.6 908.3 1121.2 952.9 1133.7 987.3 1146.2 1021.7 1158.8 1066.2 1171.3 1129 1183.9 1139.1 1196.4 1139.1 1208.9 1139.1 1221.5 1139.1 1234 1139.1 1246.6 1139.1 1259.1 1139.1 1271.6 1139.1 1284.2 1139.1 1296.7 1139.1 1309.3 1139.1 1321.8 1139.1" fill="none" stroke="#1c75bc" stroke-width="6.6" stroke-linejoin="round" stroke-linecap="butt"/>
<path d="M1071 1139.1 1083.5 1139.1 1096.1 1139.1 1108.6 1128.2 1121.2 1092.9 1133.7 1040.3 1146.2 932.6 1158.8 888.1 1171.3 963.4 1183.9 1127 1196.4 1139.1 1208.9 1139.1 1221.5 1139.1 1234 1139.1 1246.6 1139.1 1259.1 1139.1 1271.6 1139.1 1284.2 1139.1 1296.7 1139.1 1309.3 1139.1 1321.8 1139.1" fill="none" stroke="#d85a2b" stroke-width="6.6" stroke-linejoin="round" stroke-linecap="butt"/>
<text x="1069.6" y="1176.5" font-size="28.3" text-anchor="middle" fill="#000">0</text>
<text x="1209.3" y="1176.5" font-size="28.3" text-anchor="middle" fill="#000">5</text>
<text x="1197.1" y="1208" font-size="29" text-anchor="middle" fill="#000">W1 distance</text>
<line x1="1505.4" y1="887.5" x2="1505.4" y2="1140.1" stroke="#000" stroke-width="2.2" stroke-linecap="butt"/>
<line x1="1501.4" y1="1139.1" x2="1756.3" y2="1139.1" stroke="#000" stroke-width="2.2" stroke-linecap="butt"/>
<line x1="1644.8" y1="1139.1" x2="1644.8" y2="1143.6" stroke="#000" stroke-width="2" stroke-linecap="butt"/>
<line x1="1500.9" y1="888.5" x2="1505.4" y2="888.5" stroke="#000" stroke-width="2" stroke-linecap="butt"/>
<text x="1488.6" y="904.6" font-size="28.3" text-anchor="end" fill="#000">40</text>
<line x1="1500.9" y1="1013.8" x2="1505.4" y2="1013.8" stroke="#000" stroke-width="2" stroke-linecap="butt"/>
<text x="1488.6" y="1029.3" font-size="28.3" text-anchor="end" fill="#000">20</text>
<line x1="1500.9" y1="1139.1" x2="1505.4" y2="1139.1" stroke="#000" stroke-width="2" stroke-linecap="butt"/>
<text x="1488.6" y="1130.3" font-size="28.3" text-anchor="end" fill="#000">0</text>
<path d="M1505.4 1139.1 1517.9 1139.1 1530.5 1139.1 1543 1139.1 1555.6 1139.1 1568.1 1076.4 1580.7 888.5 1593.2 888.5 1605.8 938.6 1618.3 1063.9 1630.8 1063.9 1643.4 1076.4 1655.9 1063.9 1668.5 1063.9 1681 1101.5 1693.6 1095.2 1706.1 1120.3 1718.7 1132.8 1731.2 1120.3 1743.8 1139.1 1756.3 1139.1" fill="none" stroke="#1c75bc" stroke-width="6.6" stroke-linejoin="round" stroke-linecap="butt"/>
<path d="M1505.4 1139.1 1517.9 1139.1 1530.5 1139.1 1543 1139.1 1555.6 1139.1 1568.1 1070.2 1580.7 938.6 1593.2 894.8 1605.8 932.4 1618.3 1007.5 1630.8 1070.2 1643.4 1089 1655.9 1095.2 1668.5 1126.6 1681 1126.6 1693.6 1095.2 1706.1 1101.5 1718.7 1110.9 1731.2 1101.5 1743.8 1120.3 1756.3 1101.5" fill="none" stroke="#d85a2b" stroke-width="6.6" stroke-linejoin="round" stroke-linecap="butt"/>
<text x="1503.7" y="1176.5" font-size="28.3" text-anchor="middle" fill="#000">0</text>
<text x="1643.3" y="1176.5" font-size="28.3" text-anchor="middle" fill="#000">5</text>
<text x="1631" y="1208" font-size="29" text-anchor="middle" fill="#000">W1 distance</text>
<clipPath id="c5"><rect x="197" y="1250.8" width="285.3" height="282.9"/></clipPath>
<g clip-path="url(#c5)">
<path d="M316.5 1527.7 339.6 1524.4 362.8 1519.4 385.9 1515.2 409 1513.3 478.3 1512.5 478.3 1527.7Z" fill="#edcbe4"/>
<path d="M201 1220.8 201.9 1220.8 202.8 1220.8 203.8 1220.8 204.9 1220.8 206.3 1220.8 207.9 1220.8 209.8 1247.3 211.9 1293.7 214.2 1345.3 216.7 1393.6 219.5 1429.3 223 1463.7 226.4 1491.7 231 1516.2 235.7 1525.1 241.4 1527.9 247.2 1528 254.1 1528.1 261.1 1528.2 270.3 1527.7 279.6 1527.7 288.8 1527.7 300.4 1527.7 311.9 1527.7 325.8 1527.7 339.6 1527.4 355.8 1524.7 374.3 1520.1 392.8 1516 413.6 1514.9 434.4 1514.9 455.2 1514.9 478.3 1514.9M201 1220.8 201.9 1220.8 202.8 1220.8 203.8 1220.8 204.9 1220.8 206.3 1220.8 207.9 1225.1 209.8 1270 211.9 1322.7 214.2 1376.5 216.7 1419 219.5 1451 223 1485.4 226.4 1509.5 231 1523.9 235.7 1527.5 241.4 1528 247.2 1528.1 254.1 1528.2 261.1 1528.2 270.3 1527.7 279.6 1527.7 288.8 1527.7 300.4 1527.7 311.9 1527.7 325.8 1527.7 339.6 1527.7 355.8 1527.2 374.3 1525.5 392.8 1523.8 413.6 1522.7 434.4 1522.7 455.2 1522.7 478.3 1522.7M201 1220.8 201.9 1220.8 202.8 1220.8 203.8 1220.8 204.9 1220.8 206.3 1220.8 207.9 1243.5 209.8 1294.5 211.9 1351.8 214.2 1403.3 216.7 1439.6 219.5 1472.7 223 1503.3 226.4 1520.3 231 1527 235.7 1528 241.4 1528.1 247.2 1528.1 254.1 1528.2 261.1 1528.2 270.3 1527.7 279.6 1527.7 288.8 1527.7 300.4 1527.7 311.9 1527.7 325.8 1527.7 339.6 1526.8 355.8 1524.2 374.3 1520.6 392.8 1518.1 413.6 1517.8 434.4 1517.8 455.2 1517.8 478.3 1517.8M201 1220.8 201.9 1220.8 202.8 1220.8 203.8 1220.8 204.9 1220.8 206.3 1220.8 207.9 1220.8 209.8 1252.4 211.9 1300.3 214.2 1352.7 216.7 1400.1 219.5 1434.4 223 1469.1 226.4 1496.3 231 1518.6 235.7 1525.9 241.4 1527.9 247.2 1528 254.1 1528.1 261.1 1528.2 270.3 1527.7 279.6 1527.7 288.8 1527.7 300.4 1527.7 311.9 1527.7 325.8 1527.7 339.6 1527.4 355.8 1527 374.3 1526.5 392.8 1526.3 413.6 1526.3 434.4 1526.3 455.2 1526.3 478.3 1526.3M201 1220.8 201.9 1220.8 202.8 1220.8 203.8 1220.8 204.9 1220.8 206.3 1220.8 207.9 1231.1 209.8 1277.9 211.9 1332.3 214.2 1385.9 216.7 1426.1 219.5 1458.4 223 1491.7 226.4 1514 231 1525.2 235.7 1527.8 241.4 1528 247.2 1528.1 254.1 1528.2 261.1 1528.2 270.3 1527.7 279.6 1527.7 288.8 1527.7 300.4 1527.7 311.9 1527.7 325.8 1527.7 339.6 1527.7 355.8 1527.4 374.3 1526.6 392.8 1525.7 413.6 1525.2 434.4 1525.2 455.2 1525.2 478.3 1525.2M201 1220.8 201.9 1220.8 202.8 1220.8 203.8 1220.8 204.9 1220.8 206.3 1220.8 207.9 1220.8 209.8 1252.1 211.9 1299.9 214.2 1352.3 216.7 1399.8 219.5 1434.1 223 1468.8 226.4 1496 231 1518.5 235.7 1525.9 241.4 1527.9 247.2 1528 254.1 1528.1 261.1 1528.2 270.3 1527.7 279.6 1527.7 288.8 1527.7 300.4 1527.7 311.9 1527.5 325.8 1526.5 339.6 1525.1 355.8 1523.4 374.3 1522.5 392.8 1522.4 413.6 1522.4 434.4 1522.4 455.2 1522.4 478.3 1522.4M201 1220.8 201.9 1220.8 202.8 1220.8 203.8 1220.8 204.9 1220.8 206.3 1220.8 207.9 1254.2 209.8 1308.8 211.9 1367.5 214.2 1415.7 216.7 1450.6 219.5 1483.3 223 1511.4 226.4 1523.6 231 1527.7 235.7 1528 241.4 1528.1 247.2 1528.2 254.1 1528.2 261.1 1528.2 270.3 1527.7 279.6 1527.7 288.8 1527.7 300.4 1527.7 311.9 1527.7 325.8 1527.7 339.6 1527.7 355.8 1526.9 374.3 1522.9 392.8 1517.9 413.6 1514.2 434.4 1514 455.2 1514 478.3 1514M201 1220.8 201.9 1220.8 202.8 1220.8 203.8 1220.8 204.9 1220.8 206.3 1220.8 207.9 1232.8 209.8 1280.2 211.9 1335 214.2 1388.5 216.7 1428.1 219.5 1460.5 223 1493.4 226.4 1515.1 231 1525.6 235.7 1527.9 241.4 1528 247.2 1528.1 254.1 1528.2 261.1 1528.2 270.3 1527.7 279.6 1527.7 288.8 1527.7 300.4 1527.7 311.9 1527.7 325.8 1527.6 339.6 1527.3 355.8 1526.7 374.3 1526 392.8 1525.7 413.6 1525.7 434.4 1525.7 455.2 1525.7 478.3 1525.7M201 1220.8 201.9 1220.8 202.8 1220.8 203.8 1220.8 204.9 1220.8 206.3 1220.8 207.9 1226.1 209.8 1271.4 211.9 1324.4 214.2 1378.2 216.7 1420.3 219.5 1452.3 223 1486.6 226.4 1510.3 231 1524.2 235.7 1527.6 241.4 1528 247.2 1528.1 254.1 1528.2 261.1 1528.2 270.3 1527.7 279.6 1527.7 288.8 1527.7 300.4 1527.7 311.9 1527.7 325.8 1527.7 339.6 1527.7 355.8 1527.6 374.3 1526.8 392.8 1525.6 413.6 1524.5 434.4 1524.4 455.2 1524.4 478.3 1524.4M201 1220.8 201.9 1220.8 202.8 1220.8 203.8 1220.8 204.9 1220.8 206.3 1220.8 207.9 1220.8 209.8 1261.9 211.9 1312.5 214.2 1366 216.7 1411 219.5 1443.5 223 1478.4 226.4 1503.9 231 1522 235.7 1527 241.4 1528 247.2 1528.1 254.1 1528.1 261.1 1528.2 270.3 1527.7 279.6 1527.7 288.8 1527.7 300.4 1527.7 311.9 1527.7 325.8 1527.7 339.6 1527.7 355.8 1527.3 374.3 1526.1 392.8 1524.7 413.6 1523.8 434.4 1523.7 455.2 1523.7 478.3 1523.7M201 1220.8 201.9 1220.8 202.8 1220.8 203.8 1220.8 204.9 1220.8 206.3 1220.8 207.9 1220.8 209.8 1244.5 211.9 1289.9 214.2 1341 216.7 1389.8 219.5 1426.3 223 1460.5 226.4 1489.1 231 1514.6 235.7 1524.6 241.4 1527.8 247.2 1528 254.1 1528.1 261.1 1528.2 270.3 1527.7 279.6 1527.7 288.8 1527.7 300.4 1527.7 311.9 1527.7 325.8 1527.6 339.6 1525.6 355.8 1520.8 374.3 1514.8 392.8 1511.1 413.6 1510.9 434.4 1510.9 455.2 1510.9 478.3 1510.9M201 1220.8 201.9 1220.8 202.8 1220.8 203.8 1220.8 204.9 1220.8 206.3 1220.8 207.9 1229.2 209.8 1275.4 211.9 1329.3 214.2 1383 216.7 1424 219.5 1456.1 223 1489.8 226.4 1512.7 231 1524.9 235.7 1527.7 241.4 1528 247.2 1528.1 254.1 1528.2 261.1 1528.2 270.3 1527.7 279.6 1527.7 288.8 1527.7 300.4 1527.7 311.9 1527.7 325.8 1527.7 339.6 1527 355.8 1525 374.3 1522.5 392.8 1520.8 413.6 1520.6 434.4 1520.6 455.2 1520.6 478.3 1520.6M201 1220.8 201.9 1220.8 202.8 1220.8 203.8 1220.8 204.9 1220.8 206.3 1220.8 207.9 1220.8 209.8 1248.9 211.9 1295.7 214.2 1347.6 216.7 1395.7 219.5 1430.9 223 1465.4 226.4 1493.2 231 1517 235.7 1525.4 241.4 1527.9 247.2 1528 254.1 1528.1 261.1 1528.2 270.3 1527.7 279.6 1527.7 288.8 1527.7 300.4 1527.7 311.9 1527.7 325.8 1527.7 339.6 1527.7 355.8 1527.6 374.3 1527 392.8 1526.2 413.6 1525.7 434.4 1525.7 455.2 1525.7 478.3 1525.7M201 1220.8 201.9 1220.8 202.8 1220.8 203.8 1220.8 204.9 1220.8 206.3 1220.8 207.9 1220.8 209.8 1252.3 211.9 1300.1 214.2 1352.6 216.7 1400 219.5 1434.3 223 1469 226.4 1496.2 231 1518.5 235.7 1525.9 241.4 1527.9 247.2 1528 254.1 1528.1 261.1 1528.2 270.3 1527.7 279.6 1527.7 288.8 1527.7 300.4 1527.7 311.9 1527.7 325.8 1526.2 339.6 1522.9 355.8 1518.3 374.3 1514.2 392.8 1513.4 413.6 1513.4 434.4 1513.4 455.2 1513.4 478.3 1513.4M201 1220.8 201.9 1220.8 202.8 1220.8 203.8 1220.8 204.9 1220.8 206.3 1220.8 207.9 1252.6 209.8 1306.6 211.9 1365.2 214.2 1413.9 216.7 1448.9 219.5 1481.8 223 1510.3 226.4 1523.2 231 1527.6 235.7 1528 241.4 1528.1 247.2 1528.2 254.1 1528.2 261.1 1528.2 270.3 1527.7 279.6 1527.7 288.8 1527.7 300.4 1527.7 311.9 1527.7 325.8 1527.7 339.6 1527.7 355.8 1525.5 374.3 1520 392.8 1514.4 413.6 1511.5 434.4 1511.5 455.2 1511.5 478.3 1511.5M201 1220.8 201.9 1220.8 202.8 1220.8 203.8 1220.8 204.9 1220.8 206.3 1220.8 207.9 1241 209.8 1291.1 211.9 1347.9 214.2 1400 216.7 1437 219.5 1469.9 223 1501.1 226.4 1519.3 231 1526.7 235.7 1528 241.4 1528.1 247.2 1528.1 254.1 1528.2 261.1 1528.2 270.3 1527.7 279.6 1527.7 288.8 1527.7 300.4 1527.7 311.9 1527.7 325.8 1527.7 339.6 1527.7 355.8 1526 374.3 1522.2 392.8 1518.4 413.6 1516.7 434.4 1516.7 455.2 1516.7 478.3 1516.7M201 1220.8 201.9 1220.8 202.8 1220.8 203.8 1220.8 204.9 1220.8 206.3 1220.8 207.9 1220.8 209.8 1244.3 211.9 1289.7 214.2 1340.8 216.7 1389.5 219.5 1426.1 223 1460.4 226.4 1488.9 231 1514.5 235.7 1524.6 241.4 1527.8 247.2 1528 254.1 1528.1 261.1 1528.2 270.3 1527.7 279.6 1527.7 288.8 1527.7 300.4 1527.7 311.9 1527.7 325.8 1527.7 339.6 1527.7 355.8 1526.9 374.3 1524 392.8 1520.6 413.6 1518.4 434.4 1518.4 455.2 1518.4 478.3 1518.4M201 1220.8 201.9 1220.8 202.8 1220.8 203.8 1220.8 204.9 1220.8 206.3 1220.8 207.9 1220.8 209.8 1249.9 211.9 1297 214.2 1349.1 216.7 1397 219.5 1431.9 223 1466.5 226.4 1494.1 231 1517.5 235.7 1525.6 241.4 1527.9 247.2 1528 254.1 1528.1 261.1 1528.2 270.3 1527.7 279.6 1527.7 288.8 1527.7 300.4 1527.7 311.9 1527.7 325.8 1527.7 339.6 1527.7 355.8 1526.8 374.3 1522.1 392.8 1515.9 413.6 1511.3 434.4 1511 455.2 1511 478.3 1511M201 1220.8 201.9 1220.8 202.8 1220.8 203.8 1220.8 204.9 1220.8 206.3 1220.8 207.9 1221.2 209.8 1264.9 211.9 1316.3 214.2 1370 216.7 1414.1 219.5 1446.3 223 1481.1 226.4 1506.1 231 1522.8 235.7 1527.2 241.4 1528 247.2 1528.1 254.1 1528.2 261.1 1528.2 270.3 1527.7 279.6 1527.7 288.8 1527.7 300.4 1527.7 311.9 1527.7 325.8 1527.7 339.6 1526.8 355.8 1524.6 374.3 1522 392.8 1520.3 413.6 1520.2 434.4 1520.2 455.2 1520.2 478.3 1520.2M201 1220.8 201.9 1220.8 202.8 1220.8 203.8 1220.8 204.9 1220.8 206.3 1220.8 207.9 1220.8 209.8 1263.2 211.9 1314.1 214.2 1367.7 216.7 1412.3 219.5 1444.7 223 1479.5 226.4 1504.9 231 1522.3 235.7 1527.1 241.4 1528 247.2 1528.1 254.1 1528.2 261.1 1528.2 270.3 1527.7 279.6 1527.7 288.8 1527.7 300.4 1527.7 311.9 1527.7 325.8 1527.4 339.6 1524.6 355.8 1519.2 374.3 1512.9 392.8 1509.8 413.6 1509.8 434.4 1509.8 455.2 1509.8 478.3 1509.8M201 1220.8 201.9 1220.8 202.8 1220.8 203.8 1220.8 204.9 1220.8 206.3 1220.8 207.9 1220.8 209.8 1237.5 211.9 1280.9 214.2 1330.4 216.7 1379.7 219.5 1418.6 223 1452.5 226.4 1482.1 231 1509.8 235.7 1522.9 241.4 1527.4 247.2 1528 254.1 1528.1 261.1 1528.1 270.3 1527.7 279.6 1527.7 288.8 1527.7 300.4 1527.7 311.9 1527.7 325.8 1527.7 339.6 1527.7 355.8 1527.2 374.3 1526.2 392.8 1525.2 413.6 1524.8 434.4 1524.8 455.2 1524.8 478.3 1524.8M201 1220.8 201.9 1220.8 202.8 1220.8 203.8 1220.8 204.9 1220.8 206.3 1220.8 207.9 1253.9 209.8 1308.4 211.9 1367.1 214.2 1415.4 216.7 1450.3 219.5 1483.1 223 1511.2 226.4 1523.5 231 1527.7 235.7 1528 241.4 1528.1 247.2 1528.2 254.1 1528.2 261.1 1528.2 270.3 1527.7 279.6 1527.7 288.8 1527.7 300.4 1527.7 311.9 1527.7 325.8 1527.7 339.6 1526.8 355.8 1524.1 374.3 1520.6 392.8 1518.3 413.6 1518.1 434.4 1518.1 455.2 1518.1 478.3 1518.1M201 1220.8 201.9 1220.8 202.8 1220.8 203.8 1220.8 204.9 1220.8 206.3 1220.8 207.9 1229.1 209.8 1275.3 211.9 1329.2 214.2 1382.9 216.7 1423.9 219.5 1456 223 1489.7 226.4 1512.6 231 1524.9 235.7 1527.7 241.4 1528 247.2 1528.1 254.1 1528.2 261.1 1528.2 270.3 1527.7 279.6 1527.7 288.8 1527.7 300.4 1527.7 311.9 1527.7 325.8 1526.4 339.6 1523.3 355.8 1518.8 374.3 1514.8 392.8 1513.9 413.6 1513.9 434.4 1513.9 455.2 1513.9 478.3 1513.9M201 1220.8 201.9 1220.8 202.8 1220.8 203.8 1220.8 204.9 1220.8 206.3 1220.8 207.9 1232.4 209.8 1279.6 211.9 1334.4 214.2 1387.9 216.7 1427.6 219.5 1460 223 1493 226.4 1514.8 231 1525.5 235.7 1527.9 241.4 1528 247.2 1528.1 254.1 1528.2 261.1 1528.2 270.3 1527.7 279.6 1527.7 288.8 1527.7 300.4 1527.7 311.9 1527.7 325.8 1527.7 339.6 1527.4 355.8 1525.1 374.3 1521.2 392.8 1518 413.6 1517.1 434.4 1517.1 455.2 1517.1 478.3 1517.1M201 1220.8 201.9 1220.8 202.8 1220.8 203.8 1220.8 204.9 1220.8 206.3 1220.8 207.9 1220.8 209.8 1248.5 211.9 1295.1 214.2 1346.9 216.7 1395.1 219.5 1430.4 223 1464.9 226.4 1492.8 231 1516.8 235.7 1525.3 241.4 1527.9 247.2 1528 254.1 1528.1 261.1 1528.2 270.3 1527.7 279.6 1527.7 288.8 1527.7 300.4 1527.7 311.9 1527.7 325.8 1527.6 339.6 1526.8 355.8 1525.5 374.3 1524.1 392.8 1523.5 413.6 1523.5 434.4 1523.5 455.2 1523.5 478.3 1523.5M201 1220.8 201.9 1220.8 202.8 1220.8 203.8 1220.8 204.9 1220.8 206.3 1220.8 207.9 1250.2 209.8 1303.5 211.9 1361.8 214.2 1411.3 216.7 1446.5 219.5 1479.5 223 1508.6 226.4 1522.6 231 1527.5 235.7 1528 241.4 1528.1 247.2 1528.2 254.1 1528.2 261.1 1528.2 270.3 1527.7 279.6 1527.7 288.8 1527.7 300.4 1527.7 311.9 1527.7 325.8 1527.7 339.6 1527.4 355.8 1525.8 374.3 1523.2 392.8 1521.1 413.6 1520.6 434.4 1520.6 455.2 1520.6 478.3 1520.6M201 1220.8 201.9 1220.8 202.8 1220.8 203.8 1220.8 204.9 1220.8 206.3 1220.8 207.9 1220.8 209.8 1257.4 211.9 1306.8 214.2 1359.9 216.7 1406.1 219.5 1439.3 223 1474.2 226.4 1500.5 231 1520.5 235.7 1526.5 241.4 1528 247.2 1528.1 254.1 1528.1 261.1 1528.2 270.3 1527.7 279.6 1527.7 288.8 1527.7 300.4 1527.7 311.9 1527.6 325.8 1527 339.6 1526.2 355.8 1525.3 374.3 1524.6 392.8 1524.6 413.6 1524.6 434.4 1524.6 455.2 1524.6 478.3 1524.6M201 1220.8 201.9 1220.8 202.8 1220.8 203.8 1220.8 204.9 1220.8 206.3 1220.8 207.9 1243.9 209.8 1295 211.9 1352.3 214.2 1403.7 216.7 1440 219.5 1473 223 1503.6 226.4 1520.5 231 1527 235.7 1528 241.4 1528.1 247.2 1528.2 254.1 1528.2 261.1 1528.2 270.3 1527.7 279.6 1527.7 288.8 1527.7 300.4 1527.7 311.9 1527.7 325.8 1527.4 339.6 1525.1 355.8 1520.7 374.3 1515.8 392.8 1513.4 413.6 1513.4 434.4 1513.4 455.2 1513.4 478.3 1513.4M201 1220.8 201.9 1220.8 202.8 1220.8 203.8 1220.8 204.9 1220.8 206.3 1220.8 207.9 1236.6 209.8 1285.2 211.9 1341 214.2 1394 216.7 1432.2 219.5 1464.9 223 1497.1 226.4 1517.2 231 1526.1 235.7 1527.9 241.4 1528.1 247.2 1528.1 254.1 1528.2 261.1 1528.2 270.3 1527.7 279.6 1527.7 288.8 1527.7 300.4 1527.7 311.9 1527.7 325.8 1527.7 339.6 1527.7 355.8 1527.1 374.3 1523.6 392.8 1519 413.6 1515.4 434.4 1515.1 455.2 1515.1 478.3 1515.1M201 1220.8 201.9 1220.8 202.8 1220.8 203.8 1220.8 204.9 1220.8 206.3 1220.8 207.9 1252 209.8 1305.8 211.9 1364.3 214.2 1413.3 216.7 1448.3 219.5 1481.2 223 1509.9 226.4 1523.1 231 1527.6 235.7 1528 241.4 1528.1 247.2 1528.2 254.1 1528.2 261.1 1528.2 270.3 1527.7 279.6 1527.7 288.8 1527.7 300.4 1527.7 311.9 1527.7 325.8 1527.7 339.6 1527.7 355.8 1527.6 374.3 1525.7 392.8 1522.8 413.6 1520 434.4 1519.6 455.2 1519.6 478.3 1519.6M201 1220.8 201.9 1220.8 202.8 1220.8 203.8 1220.8 204.9 1220.8 206.3 1220.8 207.9 1252.1 209.8 1306.1 211.9 1364.6 214.2 1413.5 216.7 1448.5 219.5 1481.4 223 1510 226.4 1523.1 231 1527.6 235.7 1528 241.4 1528.1 247.2 1528.2 254.1 1528.2 261.1 1528.2 270.3 1527.7 279.6 1527.7 288.8 1527.7 300.4 1527.7 311.9 1527.7 325.8 1527.7 339.6 1527.7 355.8 1527.1 374.3 1523.9 392.8 1519.8 413.6 1516.7 434.4 1516.5 455.2 1516.5 478.3 1516.5M201 1220.8 201.9 1220.8 202.8 1220.8 203.8 1220.8 204.9 1220.8 206.3 1220.8 207.9 1225.8 209.8 1270.9 211.9 1323.8 214.2 1377.6 216.7 1419.9 219.5 1451.8 223 1486.2 226.4 1510 231 1524.1 235.7 1527.6 241.4 1528 247.2 1528.1 254.1 1528.2 261.1 1528.2 270.3 1527.7 279.6 1527.7 288.8 1527.7 300.4 1527.7 311.9 1527.7 325.8 1527.1 339.6 1525.4 355.8 1523 374.3 1520.7 392.8 1520.1 413.6 1520.1 434.4 1520.1 455.2 1520.1 478.3 1520.1M201 1220.8 201.9 1220.8 202.8 1220.8 203.8 1220.8 204.9 1220.8 206.3 1220.8 207.9 1247.4 209.8 1299.7 211.9 1357.6 214.2 1408 216.7 1443.6 219.5 1476.7 223 1506.4 226.4 1521.7 231 1527.3 235.7 1528 241.4 1528.1 247.2 1528.2 254.1 1528.2 261.1 1528.2 270.3 1527.7 279.6 1527.7 288.8 1527.7 300.4 1527.7 311.9 1527.6 325.8 1526.8 339.6 1525.8 355.8 1524.5 374.3 1523.6 392.8 1523.6 413.6 1523.6 434.4 1523.6 455.2 1523.6 478.3 1523.6M201 1220.8 201.9 1220.8 202.8 1220.8 203.8 1220.8 204.9 1220.8 206.3 1220.8 207.9 1243.4 209.8 1294.3 211.9 1351.6 214.2 1403.1 216.7 1439.5 219.5 1472.5 223 1503.2 226.4 1520.3 231 1527 235.7 1528 241.4 1528.1 247.2 1528.1 254.1 1528.2 261.1 1528.2 270.3 1527.7 279.6 1527.7 288.8 1527.7 300.4 1527.7 311.9 1527.7 325.8 1527.7 339.6 1526.2 355.8 1522.3 374.3 1517.1 392.8 1513.7 413.6 1513.5 434.4 1513.5 455.2 1513.5 478.3 1513.5M201 1220.8 201.9 1220.8 202.8 1220.8 203.8 1220.8 204.9 1220.8 206.3 1220.8 207.9 1245.2 209.8 1296.7 211.9 1354.3 214.2 1405.3 216.7 1441.3 219.5 1474.4 223 1504.7 226.4 1520.9 231 1527.1 235.7 1528 241.4 1528.1 247.2 1528.2 254.1 1528.2 261.1 1528.2 270.3 1527.7 279.6 1527.7 288.8 1527.7 300.4 1527.7 311.9 1527.7 325.8 1527.5 339.6 1527.1 355.8 1526.3 374.3 1525.6 392.8 1525.4 413.6 1525.4 434.4 1525.4 455.2 1525.4 478.3 1525.4M201 1220.8 201.9 1220.8 202.8 1220.8 203.8 1220.8 204.9 1220.8 206.3 1220.8 207.9 1220.8 209.8 1256.2 211.9 1305.2 214.2 1358.2 216.7 1404.7 219.5 1438.1 223 1473 226.4 1499.5 231 1520.1 235.7 1526.4 241.4 1528 247.2 1528.1 254.1 1528.1 261.1 1528.2 270.3 1527.7 279.6 1527.7 288.8 1527.7 300.4 1527.7 311.9 1527.7 325.8 1526.6 339.6 1524.6 355.8 1521.9 374.3 1519.7 392.8 1519.3 413.6 1519.3 434.4 1519.3 455.2 1519.3 478.3 1519.3" fill="none" stroke="#edcbe4" stroke-width="1" stroke-linejoin="round"/>
<path d="M201 1220.8 201 1220.8 201.1 1220.8 201.3 1220.8 201.5 1220.8 201.7 1220.8 202 1220.8 202.3 1220.8 202.6 1220.8 203 1220.8 203.4 1220.8 203.8 1220.8 204.3 1220.8 204.8 1220.8 205.4 1220.8 206 1220.8 206.6 1220.8 207.2 1220.8 207.9 1232.7 208.6 1250.5 209.4 1269.5 210.1 1289.8 210.9 1311.1 211.7 1332.7 212.6 1354.2 213.5 1374.8 214.4 1393.5 215.3 1409.6 216.3 1423.4 217.3 1435.8 218.3 1447.6 219.4 1459.9 220.5 1471.6 221.6 1482.3 222.7 1492 223.9 1500.8 225.1 1508.5 226.3 1514.8 227.5 1519.2 228.8 1522.4 230.1 1524.5 231.4 1526 232.8 1527 234.1 1527.6 235.5 1527.9 237 1528 238.4 1528 239.9 1528 241.4 1528 242.9 1528.1 244.5 1528.1 246 1528.1 247.6 1528.1 249.3 1528.1 250.9 1528.2 252.6 1528.2 254.3 1528.2 256 1528.2 257.8 1528.2 259.5 1528.2 261.3 1528.2 263.2 1528.2 265 1528.2 266.9 1528.2 268.8 1528.2 270.7 1528.2 272.6 1528.2 274.6 1528.2 276.6 1528.2 278.6 1528.2 280.6 1528.2 282.7 1528.2 284.8 1528.2 286.9 1528.1 289 1528.1 291.2 1528.1 293.3 1528.1 295.5 1528.1 297.8 1528.1 300 1528 302.3 1528 304.6 1528 306.9 1528 309.2 1527.9 311.6 1527.9 313.9 1527.8 316.3 1527.7 318.8 1527.6 321.2 1527.6 323.7 1527.5 326.2 1527.4 328.7 1527.3 331.2 1527.2 333.8 1527.1 336.4 1527 339 1526.9 341.6 1526.8 344.3 1526.7 346.9 1526.6 349.6 1526.5 352.3 1526.4 355.1 1526.3 357.8 1526.2 360.6 1526.1 363.4 1526 366.2 1525.9 369.1 1525.8 371.9 1525.7 374.8 1525.6 377.7 1525.5 380.6 1525.4 383.6 1525.3 386.6 1525.2 389.6 1525.1 392.6 1525 395.6 1525 398.7 1524.9 401.7 1524.8 404.8 1524.8 408 1524.7 411.1 1524.7 414.3 1524.6 417.5 1524.6 420.7 1524.5 423.9 1524.5 427.1 1524.4 430.4 1524.4 433.7 1524.4 437 1524.3 440.3 1524.3 443.7 1524.3 447 1524.2 450.4 1524.2 453.8 1524.2 457.3 1524.2 460.7 1524.2 464.2 1524.2 467.7 1524.2 471.2 1524.1 474.7 1524.1 478.3 1524.1" fill="none" stroke="#b5509f" stroke-width="8.2" stroke-linejoin="round" stroke-linecap="butt"/>
<path d="M201 1220.8 201 1220.8 201.1 1220.8 201.3 1220.8 201.5 1220.8 201.7 1220.8 202 1220.8 202.3 1220.8 202.6 1220.8 203 1220.8 203.4 1220.8 203.8 1220.8 204.3 1220.8 204.8 1220.8 205.4 1220.8 206 1220.8 206.6 1220.8 207.2 1220.8 207.9 1220.8 208.6 1230.9 209.4 1251.7 210.1 1273 210.9 1294.8 211.7 1316.7 212.6 1338.4 213.5 1359.6 214.4 1379.7 215.3 1398 216.3 1413.8 217.3 1427.3 218.3 1439.6 219.4 1451.7 220.5 1464.2 221.6 1475.7 222.7 1486.2 223.9 1495.6 225.1 1504.2 226.3 1511.4 227.5 1517 228.8 1520.8 230.1 1523.4 231.4 1525.2 232.8 1526.5 234.1 1527.4 235.5 1527.8 237 1528 238.4 1528 239.9 1528 241.4 1528 242.9 1528.1 244.5 1528.1 246 1528.1 247.6 1528.1 249.3 1528.1 250.9 1528.2 252.6 1528.2 254.3 1528.2 256 1528.2 257.8 1528.2 259.5 1528.2 261.3 1528.2 263.2 1528.2 265 1528.3 266.9 1528.3 268.8 1528.3 270.7 1528.3 272.6 1528.2 274.6 1528.2 276.6 1528.2 278.6 1528.2 280.6 1528.2 282.7 1528.2 284.8 1528.2 286.9 1528.2 289 1528.2 291.2 1528.1 293.3 1528.1 295.5 1528.1 297.8 1528.1 300 1528 302.3 1528 304.6 1528 306.9 1527.9 309.2 1527.9 311.6 1527.8 313.9 1527.8 316.3 1527.7 318.8 1527.6 321.2 1527.5 323.7 1527.4 326.2 1527.3 328.7 1527.1 331.2 1527 333.8 1526.9 336.4 1526.8 339 1526.6 341.6 1526.5 344.3 1526.4 346.9 1526.2 349.6 1526.1 352.3 1526 355.1 1525.8 357.8 1525.7 360.6 1525.5 363.4 1525.4 366.2 1525.2 369.1 1525.1 371.9 1524.9 374.8 1524.7 377.7 1524.6 380.6 1524.4 383.6 1524.2 386.6 1524.1 389.6 1523.9 392.6 1523.7 395.6 1523.5 398.7 1523.3 401.7 1523.1 404.8 1522.8 408 1522.6 411.1 1522.4 414.3 1522.2 417.5 1522 420.7 1521.7 423.9 1521.5 427.1 1521.3 430.4 1521.1 433.7 1521 437 1520.8 440.3 1520.6 443.7 1520.5 447 1520.3 450.4 1520.2 453.8 1520.1 457.3 1519.9 460.7 1519.8 464.2 1519.7 467.7 1519.5 471.2 1519.4 474.7 1519.3 478.3 1519.1" fill="none" stroke="#b5509f" stroke-width="8.2" stroke-linejoin="round" stroke-linecap="butt"/>
</g>
<line x1="214.9" y1="1251" x2="214.9" y2="1527.7" stroke="#b5509f" stroke-width="2" stroke-linecap="butt"/>
<line x1="201" y1="1249.8" x2="201" y2="1528.8" stroke="#000" stroke-width="2.2" stroke-linecap="butt"/>
<line x1="197" y1="1527.7" x2="479.5" y2="1527.7" stroke="#000" stroke-width="2.2" stroke-linecap="butt"/>
<line x1="201" y1="1527.7" x2="201" y2="1532.4" stroke="#000" stroke-width="2.2" stroke-linecap="butt"/>
<line x1="293.4" y1="1527.7" x2="293.4" y2="1532.4" stroke="#000" stroke-width="2.2" stroke-linecap="butt"/>
<line x1="385.9" y1="1527.7" x2="385.9" y2="1532.4" stroke="#000" stroke-width="2.2" stroke-linecap="butt"/>
<line x1="478.3" y1="1527.7" x2="478.3" y2="1532.4" stroke="#000" stroke-width="2.2" stroke-linecap="butt"/>
<line x1="196.5" y1="1251.3" x2="201" y2="1251.3" stroke="#000" stroke-width="2" stroke-linecap="butt"/>
<text x="183" y="1255.7" font-size="28.3" text-anchor="end" fill="#000">0.1</text>
<line x1="196.5" y1="1389.1" x2="201" y2="1389.1" stroke="#000" stroke-width="2" stroke-linecap="butt"/>
<text x="183" y="1399" font-size="28.3" text-anchor="end" fill="#000">0.05</text>
<line x1="196.5" y1="1527.7" x2="201" y2="1527.7" stroke="#000" stroke-width="2" stroke-linecap="butt"/>
<text x="183" y="1535" font-size="28.3" text-anchor="end" fill="#000">0</text>
<text x="198.1" y="1563.2" font-size="28.3" text-anchor="middle" fill="#000">0</text>
<text x="289.6" y="1563.2" font-size="28.3" text-anchor="middle" fill="#000">4</text>
<text x="381.6" y="1563.2" font-size="28.3" text-anchor="middle" fill="#000">8</text>
<text x="473.9" y="1563.2" font-size="28.3" text-anchor="middle" fill="#000">12</text>
<text x="349.8" y="1600.5" font-size="29" text-anchor="middle" fill="#000">Time (s)</text>
<text x="113" y="1389.3" font-size="29" text-anchor="middle" fill="#000" transform="rotate(-90 113 1389.3)">E(reward | time)</text>
<clipPath id="c6"><rect x="631.3" y="1250.4" width="286" height="283.9"/></clipPath>
<g clip-path="url(#c6)">
<path d="M635.3 1448.1 636.2 1439.2 637.2 1430.4 638.1 1422.7 639.2 1414.3 640.6 1405.6 642.2 1398.7 644.1 1395.4 646.2 1394.9 648.5 1398.2 651.1 1404.4 653.8 1412.5 657.3 1422.5 660.8 1432.4 665.4 1444.8 670 1456.3 675.8 1470 681.6 1482.8 688.6 1496.2 695.5 1507.6 704.8 1519.3 714.1 1525.7 723.3 1528.2 734.9 1529.1 746.5 1529.2 760.4 1529.1 774.3 1528.9 790.5 1527.9 809 1525.7 827.6 1523.4 848.4 1522.3 869.3 1522.2 890.1 1522.2 913.3 1522.2M635.3 1449.9 636.2 1444 637.2 1437.9 638.1 1432.1 639.2 1425.6 640.6 1418.8 642.2 1411.5 644.1 1404.8 646.2 1400.2 648.5 1398.1 651.1 1397.8 653.8 1400.1 657.3 1405.3 660.8 1412 665.4 1420.9 670 1429.8 675.8 1440.6 681.6 1450.6 688.6 1462 695.5 1472.9 704.8 1486.4 714.1 1498 723.3 1508.2 734.9 1518.3 746.5 1524.6 760.4 1527.8 774.3 1528.9 790.5 1529.1 809 1529.1 827.6 1529 848.4 1528.8 869.3 1528.6 890.1 1528.4 913.3 1528.2M635.3 1382.1 636.2 1370 637.2 1357.7 638.1 1345.9 639.2 1333.3 640.6 1319.7 642.2 1305.7 644.1 1294 646.2 1287.2 648.5 1284.8 651.1 1286.8 653.8 1293.7 657.3 1306.4 660.8 1320.2 665.4 1338.5 670 1356.5 675.8 1377.5 681.6 1397.2 688.6 1419.8 695.5 1441 704.8 1466.1 714.1 1487.5 723.3 1505.2 734.9 1519.9 746.5 1526.5 760.4 1529.3 774.3 1529.8 790.5 1529.1 809 1526.9 827.6 1524.7 848.4 1523.6 869.3 1523.2 890.1 1522.7 913.3 1522.2M635.3 1407.5 636.2 1397.7 637.2 1387.6 638.1 1378 639.2 1367.7 640.6 1356.5 642.2 1345 644.1 1335.2 646.2 1329.4 648.5 1327.2 651.1 1328.5 653.8 1333.8 657.3 1344 660.8 1355.2 665.4 1370.1 670 1384.8 675.8 1402 681.6 1418.2 688.6 1436.7 695.5 1454.1 704.8 1474.9 714.1 1492.6 723.3 1507.5 734.9 1520.2 746.5 1526.3 760.4 1529 774.3 1529.5 790.5 1529.6 809 1529.4 827.6 1529.1 848.4 1528.9 869.3 1528.5 890.1 1528.2 913.3 1527.8M635.3 1379.1 636.2 1364.4 637.2 1349.6 638.1 1336.1 639.2 1321.9 640.6 1306.4 642.2 1292.2 644.1 1283.3 646.2 1279.9 648.5 1281.6 651.1 1289.2 653.8 1301.6 657.3 1318.2 660.8 1334.8 665.4 1356.4 670 1376.5 675.8 1400.2 681.6 1422.6 688.6 1447.6 695.5 1469.4 704.8 1494.1 714.1 1512.5 723.3 1523.2 734.9 1528.3 746.5 1529.7 760.4 1529.9 774.3 1529.8 790.5 1529.4 809 1529.1 827.6 1528.6 848.4 1528.1 869.3 1527.6 890.1 1527.3 913.3 1527.3M635.3 1382.8 636.2 1372.8 637.2 1362.4 638.1 1352.3 639.2 1340.8 640.6 1328.9 642.2 1316.1 644.1 1303.6 646.2 1293.7 648.5 1288 651.1 1286 653.8 1287.7 657.3 1294.6 660.8 1305 665.4 1320.4 670 1335.6 675.8 1354.6 681.6 1372.4 688.6 1392.5 695.5 1411.6 704.8 1435.8 714.1 1457.7 723.3 1476.8 734.9 1497.5 746.5 1512.9 760.4 1523.7 774.3 1528 790.5 1529.7 809 1529.9 827.6 1529.8 848.4 1529.5 869.3 1529.2 890.1 1528.9 913.3 1528.5M635.3 1443.7 636.2 1436.9 637.2 1429.9 638.1 1423.2 639.2 1416 640.6 1408.2 642.2 1400.1 644.1 1393.3 646.2 1389.1 648.5 1387.5 651.1 1388.3 653.8 1392 657.3 1399 660.8 1406.8 665.4 1417.2 670 1427.5 675.8 1439.5 681.6 1450.8 688.6 1463.7 695.5 1475.9 704.8 1490.4 714.1 1502.8 723.3 1513.3 734.9 1522.4 746.5 1526.8 760.4 1528.7 774.3 1529.2 790.5 1529.2 809 1529.1 827.6 1528.9 848.4 1528.7 869.3 1528.5 890.1 1528.2 913.3 1527.9M635.3 1377.8 636.2 1363.7 637.2 1349.5 638.1 1336.3 639.2 1322.4 640.6 1307.1 642.2 1292.7 644.1 1282.6 646.2 1278.2 648.5 1278.4 651.1 1284.6 653.8 1295.5 657.3 1311.5 660.8 1327.4 665.4 1348.5 670 1368.3 675.8 1391.4 681.6 1413.4 688.6 1438.2 695.5 1460.3 704.8 1485.6 714.1 1505.9 723.3 1519.4 734.9 1526.8 746.5 1529.4 760.4 1529.9 774.3 1529.9 790.5 1529.6 809 1529.2 827.6 1528.9 848.4 1528.4 869.3 1527.9 890.1 1527.4 913.3 1527.3M635.3 1410.6 636.2 1397.5 637.2 1384.5 638.1 1373.2 639.2 1360.9 640.6 1348.1 642.2 1338 644.1 1333.1 646.2 1332.5 648.5 1337.3 651.1 1346.5 653.8 1358.3 657.3 1373 660.8 1387.6 665.4 1405.8 670 1422.8 675.8 1442.9 681.6 1461.7 688.6 1481.3 695.5 1498.1 704.8 1515.2 714.1 1524.6 723.3 1528.2 734.9 1529.5 746.5 1529.6 760.4 1529.4 774.3 1529.2 790.5 1528.9 809 1528.5 827.6 1528.1 848.4 1527.6 869.3 1527.5 890.1 1527.5 913.3 1527.5M635.3 1437.7 636.2 1429.1 637.2 1420.4 638.1 1412.4 639.2 1404 640.6 1394.7 642.2 1386 644.1 1380.2 646.2 1377.7 648.5 1378.1 651.1 1382 653.8 1388.9 657.3 1398.6 660.8 1408.4 665.4 1421.2 670 1433.2 675.8 1447.2 681.6 1460.6 688.6 1475.6 695.5 1488.9 704.8 1504.1 714.1 1516 723.3 1523.7 734.9 1527.7 746.5 1529 760.4 1529.3 774.3 1529.2 790.5 1529.1 809 1528.8 827.6 1528.6 848.4 1528.3 869.3 1528 890.1 1527.7 913.3 1527.7M635.3 1391.6 636.2 1380.6 637.2 1369.2 638.1 1358.4 639.2 1346.7 640.6 1334.1 642.2 1321.1 644.1 1310 646.2 1303.3 648.5 1300.8 651.1 1302.1 653.8 1308.1 657.3 1319.5 660.8 1332.1 665.4 1348.9 670 1365.5 675.8 1385 681.6 1403.2 688.6 1424 695.5 1443.8 704.8 1467.2 714.1 1487.3 723.3 1504.3 734.9 1518.8 746.5 1525.9 760.4 1529 774.3 1529.7 790.5 1529.7 809 1529.6 827.6 1529.3 848.4 1528.9 869.3 1528.6 890.1 1528.2 913.3 1527.7M635.3 1448 636.2 1440.2 637.2 1432.4 638.1 1425.2 639.2 1417.6 640.6 1409.3 642.2 1401.6 644.1 1396.6 646.2 1394.6 648.5 1395.3 651.1 1399.1 653.8 1405.5 657.3 1414.3 660.8 1423.1 665.4 1434.6 670 1445.3 675.8 1457.9 681.6 1469.9 688.6 1483.3 695.5 1495.1 704.8 1508.5 714.1 1518.7 723.3 1525 734.9 1528.1 746.5 1529 760.4 1529.2 774.3 1529.1 790.5 1528.9 809 1528.7 827.6 1528.5 848.4 1528.2 869.3 1528 890.1 1527.8 913.3 1527.8M635.3 1444.2 636.2 1436 637.2 1427.7 638.1 1420.2 639.2 1412.2 640.6 1403.5 642.2 1395.5 644.1 1390.3 646.2 1388.3 648.5 1389.1 651.1 1393.3 653.8 1400.1 657.3 1409.4 660.8 1418.7 665.4 1430.8 670 1442.1 675.8 1455.3 681.6 1467.9 688.6 1482 695.5 1494.3 704.8 1508.3 714.1 1518.8 723.3 1525.1 734.9 1528.2 746.5 1529.1 760.4 1529.2 774.3 1529.1 790.5 1528.5 809 1527.3 827.6 1526 848.4 1525.3 869.3 1525 890.1 1524.8 913.3 1524.8M635.3 1378.9 636.2 1368.8 637.2 1358.3 638.1 1348 639.2 1336.2 640.6 1324.1 642.2 1311 644.1 1298.2 646.2 1287.9 648.5 1281.9 651.1 1279.6 653.8 1281 657.3 1287.9 660.8 1298.2 665.4 1313.8 670 1329.3 675.8 1348.6 681.6 1366.7 688.6 1387.3 695.5 1406.7 704.8 1431.5 714.1 1454 723.3 1473.6 734.9 1494.9 746.5 1511.2 760.4 1522.9 774.3 1527.7 790.5 1529.6 809 1529.9 827.6 1529.8 848.4 1529.6 869.3 1529.3 890.1 1529 913.3 1528.6M635.3 1424.4 636.2 1415 637.2 1405.5 638.1 1396.6 639.2 1387.1 640.6 1376.8 642.2 1366.8 644.1 1359.4 646.2 1355.9 648.5 1355.5 651.1 1359 653.8 1365.8 657.3 1376.5 660.8 1387 665.4 1401.2 670 1414.7 675.8 1430.4 681.6 1445.2 688.6 1462.1 695.5 1477.4 704.8 1494.9 714.1 1509.6 723.3 1519.9 734.9 1526.4 746.5 1528.7 760.4 1529.4 774.3 1529.4 790.5 1529.3 809 1529 827.6 1528.8 848.4 1528.5 869.3 1528.1 890.1 1527.8 913.3 1527.6M635.3 1433.4 636.2 1423.1 637.2 1412.8 638.1 1403.7 639.2 1393.9 640.6 1383.7 642.2 1375.4 644.1 1371.1 646.2 1370.3 648.5 1373.8 651.1 1380.8 653.8 1390.2 657.3 1401.8 660.8 1413.4 665.4 1427.9 670 1441.4 675.8 1457.5 681.6 1472.5 688.6 1488.4 695.5 1502 704.8 1516.2 714.1 1524.6 723.3 1527.9 734.9 1529.2 746.5 1529.3 760.4 1529.2 774.3 1529 790.5 1528.8 809 1528.5 827.6 1528.2 848.4 1527.8 869.3 1527.7 890.1 1527.7 913.3 1527.7M635.3 1434.3 636.2 1425.5 637.2 1416.6 638.1 1408.4 639.2 1399.7 640.6 1390.1 642.2 1381.1 644.1 1374.8 646.2 1372.1 648.5 1372.2 651.1 1376.1 653.8 1382.8 657.3 1392.9 660.8 1402.8 665.4 1416 670 1428.3 675.8 1442.8 681.6 1456.5 688.6 1472 695.5 1485.8 704.8 1501.6 714.1 1514.3 723.3 1522.7 734.9 1527.4 746.5 1529 760.4 1529.3 774.3 1529.3 790.5 1529.1 809 1528.9 827.6 1528.7 848.4 1528.3 869.3 1528 890.1 1527.7 913.3 1527.7M635.3 1422.3 636.2 1412.6 637.2 1402.7 638.1 1393.5 639.2 1383.8 640.6 1373.2 642.2 1363 644.1 1355.7 646.2 1352.3 648.5 1352 651.1 1356 653.8 1363.2 657.3 1374.2 660.8 1385.2 665.4 1399.8 670 1413.6 675.8 1429.8 681.6 1445 688.6 1462.4 695.5 1478 704.8 1495.8 714.1 1510.6 723.3 1520.7 734.9 1526.7 746.5 1528.9 760.4 1529.4 774.3 1529.4 790.5 1529.3 809 1529 827.6 1528.8 848.4 1528.4 869.3 1528.1 890.1 1527.7 913.3 1527.6M635.3 1452.7 636.2 1445.9 637.2 1438.9 638.1 1432.4 639.2 1425.5 640.6 1418 642.2 1410.7 644.1 1405.4 646.2 1402.9 648.5 1402.6 651.1 1405.3 653.8 1410.3 657.3 1418.1 660.8 1425.9 665.4 1436.2 670 1446 675.8 1457.5 681.6 1468.3 688.6 1480.6 695.5 1491.8 704.8 1504.5 714.1 1515.1 723.3 1522.5 734.9 1527 746.5 1528.7 760.4 1529.1 774.3 1529.1 790.5 1529 809 1528.8 827.6 1528.6 848.4 1528.4 869.3 1528.2 890.1 1527.9 913.3 1527.8M635.3 1422.4 636.2 1413.6 637.2 1404.7 638.1 1396.1 639.2 1387 640.6 1377 642.2 1366.9 644.1 1358.5 646.2 1353.7 648.5 1352 651.1 1353.6 653.8 1358.7 657.3 1368 660.8 1378 665.4 1391.3 670 1404.4 675.8 1419.7 681.6 1434 688.6 1450.4 695.5 1465.8 704.8 1484 714.1 1499.4 723.3 1512.1 734.9 1522.5 746.5 1527.1 760.4 1529.1 774.3 1529.4 790.5 1529.4 809 1529.2 827.6 1529 848.4 1528.7 869.3 1528.4 890.1 1528.1 913.3 1527.8M635.3 1376.6 636.2 1360 637.2 1343.4 638.1 1328.9 639.2 1313.2 640.6 1296.8 642.2 1283.5 644.1 1276.9 646.2 1275.8 648.5 1281.5 651.1 1292.8 653.8 1307.9 657.3 1326.6 660.8 1345.2 665.4 1368.5 670 1390.3 675.8 1416 681.6 1440 688.6 1465.4 695.5 1487.1 704.8 1509.7 714.1 1522.7 723.3 1527.8 734.9 1529.8 746.5 1529.9 760.4 1529.8 774.3 1529.5 790.5 1529.1 809 1528.6 827.6 1528.1 848.4 1527.5 869.3 1527.3 890.1 1527.3 913.3 1527.3M635.3 1452 636.2 1445.5 637.2 1438.9 638.1 1432.6 639.2 1425.9 640.6 1418.6 642.2 1411.3 644.1 1405.4 646.2 1402.1 648.5 1401.2 651.1 1402.7 653.8 1406.8 657.3 1413.9 660.8 1421.2 665.4 1431.1 670 1440.7 675.8 1451.8 681.6 1462.3 688.6 1474.3 695.5 1485.5 704.8 1498.5 714.1 1509.6 723.3 1518.3 734.9 1525.1 746.5 1527.9 760.4 1529 774.3 1529.1 790.5 1529.1 809 1528.9 827.6 1528.8 848.4 1528.6 869.3 1528.3 890.1 1528.1 913.3 1527.8M635.3 1412.3 636.2 1403.7 637.2 1394.8 638.1 1386.2 639.2 1376.6 640.6 1366.6 642.2 1355.9 644.1 1346 646.2 1339.1 648.5 1335.8 651.1 1335.2 653.8 1338.5 657.3 1345.9 660.8 1355.7 665.4 1368.8 670 1382 675.8 1397.8 681.6 1412.6 688.6 1429.4 695.5 1445.4 704.8 1465.2 714.1 1482.5 723.3 1497.6 734.9 1512.6 746.5 1522.4 760.4 1527.4 774.3 1529.2 790.5 1529.5 809 1529.5 827.6 1529.3 848.4 1529.1 869.3 1528.8 890.1 1528.5 913.3 1528.2M635.3 1429 636.2 1420.9 637.2 1412.6 638.1 1404.7 639.2 1396.1 640.6 1386.9 642.2 1377.5 644.1 1369.5 646.2 1364.7 648.5 1363 651.1 1364.1 653.8 1368.6 657.3 1377.1 660.8 1386.3 665.4 1398.6 670 1410.8 675.8 1425 681.6 1438.3 688.6 1453.5 695.5 1467.9 704.8 1485 714.1 1499.5 723.3 1511.7 734.9 1522 746.5 1526.8 760.4 1528.9 774.3 1529.3 790.5 1529.3 809 1529.1 827.6 1528.8 848.4 1528.5 869.3 1528.3 890.1 1528 913.3 1527.6M635.3 1390.3 636.2 1377.7 637.2 1365 638.1 1353.1 639.2 1340.5 640.6 1326.7 642.2 1313.4 644.1 1303.8 646.2 1299.3 648.5 1298.9 651.1 1303.9 653.8 1313.1 657.3 1327.5 660.8 1341.7 665.4 1360.7 670 1378.6 675.8 1399.5 681.6 1419.3 688.6 1441.9 695.5 1462.2 704.8 1485.5 714.1 1504.7 723.3 1518 734.9 1526.1 746.5 1529 760.4 1529.7 774.3 1529.8 790.5 1529.6 809 1529.2 827.6 1528.9 848.4 1528.5 869.3 1528 890.1 1527.6 913.3 1527.4M635.3 1399.3 636.2 1389.5 637.2 1379.5 638.1 1369.8 639.2 1359.1 640.6 1347.8 642.2 1335.8 644.1 1324.9 646.2 1317.5 648.5 1314.1 651.1 1313.8 653.8 1317.9 657.3 1326.7 660.8 1337.9 665.4 1352.7 670 1367.6 675.8 1385.3 681.6 1401.9 688.6 1420.8 695.5 1438.8 704.8 1461 714.1 1480.1 723.3 1496.8 734.9 1512.9 746.5 1522.9 760.4 1527.8 774.3 1529.4 790.5 1529.4 809 1528.5 827.6 1527.4 848.4 1526.8 869.3 1526.5 890.1 1526.2 913.3 1525.8M635.3 1379.3 636.2 1363.7 637.2 1348.1 638.1 1334.1 639.2 1319.2 640.6 1303.3 642.2 1289.7 644.1 1282.2 646.2 1280.1 648.5 1284.2 651.1 1293.8 653.8 1307.9 657.3 1325.4 660.8 1343 665.4 1365.4 670 1386.2 675.8 1410.8 681.6 1434 688.6 1459 695.5 1480.5 704.8 1504.2 714.1 1519.5 723.3 1526.4 734.9 1529.4 746.5 1529.9 760.4 1529.8 774.3 1529.6 790.5 1529.2 809 1528.8 827.6 1528.3 848.4 1527.8 869.3 1527.3 890.1 1527.3 913.3 1527.3M635.3 1416.5 636.2 1404.8 637.2 1392.9 638.1 1382.4 639.2 1371.2 640.6 1359.2 642.2 1349.1 644.1 1343.6 646.2 1342.1 648.5 1345.4 651.1 1352.8 653.8 1363.5 657.3 1376.7 660.8 1390.1 665.4 1406.9 670 1422.6 675.8 1441.1 681.6 1458.6 688.6 1477.4 695.5 1493.5 704.8 1511.1 714.1 1522.2 723.3 1527.1 734.9 1529.2 746.5 1529.5 760.4 1529.4 774.3 1529.2 790.5 1529 809 1528.7 827.6 1528.3 848.4 1527.9 869.3 1527.6 890.1 1527.6 913.3 1527.6M635.3 1373.1 636.2 1358.6 637.2 1343.9 638.1 1330.3 639.2 1315.9 640.6 1300.2 642.2 1285.3 644.1 1274.9 646.2 1270.4 648.5 1270.6 651.1 1277.1 653.8 1288.3 657.3 1304.8 660.8 1321.2 665.4 1343 670 1363.4 675.8 1387.3 681.6 1409.9 688.6 1435.5 695.5 1458.4 704.8 1484.4 714.1 1505.4 723.3 1519.2 734.9 1526.8 746.5 1529.4 760.4 1529.9 774.3 1529.9 790.5 1529.6 809 1529.3 827.6 1528.9 848.4 1528.4 869.3 1527.8 890.1 1527.3 913.3 1527.3M635.3 1396.4 636.2 1384.7 637.2 1372.9 638.1 1361.7 639.2 1349.9 640.6 1337 642.2 1324.3 644.1 1314.6 646.2 1309.7 648.5 1308.7 651.1 1312.5 653.8 1320.5 657.3 1333.7 660.8 1346.8 665.4 1364.4 670 1381.3 675.8 1401 681.6 1419.5 688.6 1440.7 695.5 1460.2 704.8 1482.5 714.1 1501.4 723.3 1515.3 734.9 1524.9 746.5 1528.4 760.4 1529.6 774.3 1529.7 790.5 1529.6 809 1529.3 827.6 1529 848.4 1528.6 869.3 1528.2 890.1 1527.8 913.3 1527.4M635.3 1391.4 636.2 1380 637.2 1368.4 638.1 1357.4 639.2 1345.5 640.6 1332.7 642.2 1319.6 644.1 1308.7 646.2 1302.4 648.5 1300.2 651.1 1302.3 653.8 1308.8 657.3 1320.9 660.8 1333.8 665.4 1351 670 1368 675.8 1387.7 681.6 1406.2 688.6 1427.4 695.5 1447.3 704.8 1470.8 714.1 1490.8 723.3 1507.3 734.9 1520.8 746.5 1526.7 760.4 1529.3 774.3 1529.7 790.5 1529.7 809 1529.5 827.6 1529.2 848.4 1528.9 869.3 1528.5 890.1 1528.1 913.3 1527.6M635.3 1377.4 636.2 1363.1 637.2 1348.7 638.1 1335.3 639.2 1321.2 640.6 1305.9 642.2 1291.4 644.1 1281.6 646.2 1277.4 648.5 1278 651.1 1284.6 653.8 1295.9 657.3 1312.1 660.8 1328.3 665.4 1349.6 670 1369.6 675.8 1393 681.6 1415.2 688.6 1440.2 695.5 1462.3 704.8 1487.6 714.1 1507.6 723.3 1520.5 734.9 1527.2 746.5 1529.5 760.4 1529.9 774.3 1529.9 790.5 1529.2 809 1527.8 827.6 1526.4 848.4 1525.5 869.3 1525 890.1 1524.5 913.3 1524.5M635.3 1430.5 636.2 1421.1 637.2 1411.6 638.1 1402.9 639.2 1393.7 640.6 1383.7 642.2 1374.3 644.1 1368.1 646.2 1365.6 648.5 1366.2 651.1 1370.7 653.8 1378.3 657.3 1389 660.8 1399.6 665.4 1413.6 670 1426.6 675.8 1441.8 681.6 1456.3 688.6 1472.6 695.5 1487 704.8 1503.3 714.1 1516 723.3 1523.9 734.9 1527.9 746.5 1529.2 760.4 1529.3 774.3 1529.3 790.5 1528.6 809 1526.9 827.6 1525.3 848.4 1524.4 869.3 1524.1 890.1 1523.8 913.3 1523.8M635.3 1436.8 636.2 1428.9 637.2 1420.8 638.1 1413.2 639.2 1405.1 640.6 1396.2 642.2 1387.4 644.1 1380.5 646.2 1376.8 648.5 1375.9 651.1 1378.1 653.8 1383.3 657.3 1392.1 660.8 1401 665.4 1413.1 670 1424.7 675.8 1438.1 681.6 1450.9 688.6 1465.4 695.5 1478.9 704.8 1494.4 714.1 1507.7 723.3 1517.8 734.9 1525.2 746.5 1528.1 760.4 1529.2 774.3 1529.3 790.5 1528.5 809 1526.3 827.6 1524.2 848.4 1523.2 869.3 1522.9 890.1 1522.6 913.3 1522.3M635.3 1450.1 636.2 1443.6 637.2 1437 638.1 1430.7 639.2 1423.9 640.6 1416.6 642.2 1409.1 644.1 1402.9 646.2 1399.3 648.5 1398 651.1 1399.2 653.8 1402.9 657.3 1409.8 660.8 1417.2 665.4 1427 670 1436.7 675.8 1447.9 681.6 1458.5 688.6 1470.6 695.5 1482 704.8 1495.4 714.1 1506.8 723.3 1516.2 734.9 1524 746.5 1527.4 760.4 1528.9 774.3 1529.1 790.5 1528.9 809 1528.3 827.6 1527.6 848.4 1527.2 869.3 1527 890.1 1526.7 913.3 1526.5M635.3 1444.6 636.2 1435.7 637.2 1426.7 638.1 1418.8 639.2 1410.3 640.6 1401.3 642.2 1393.8 644.1 1389.8 646.2 1388.8 648.5 1391.5 651.1 1397.2 653.8 1405.3 657.3 1415.3 660.8 1425.4 665.4 1438 670 1449.8 675.8 1463.8 681.6 1476.9 688.6 1491 695.5 1503 704.8 1516 714.1 1524.1 723.3 1527.6 734.9 1529 746.5 1529.2 760.4 1529.2 774.3 1529 790.5 1528.7 809 1528.3 827.6 1527.8 848.4 1527.4 869.3 1527.2 890.1 1527.2 913.3 1527.2M635.3 1442.2 636.2 1434.6 637.2 1426.8 638.1 1419.6 639.2 1411.9 640.6 1403.5 642.2 1395.1 644.1 1388.8 646.2 1385.6 648.5 1384.9 651.1 1387.4 653.8 1392.6 657.3 1401.2 660.8 1409.7 665.4 1421.2 670 1432.2 675.8 1445 681.6 1457.1 688.6 1471 695.5 1483.7 704.8 1498.3 714.1 1510.6 723.3 1519.7 734.9 1526 746.5 1528.4 760.4 1529.2 774.3 1529.2 790.5 1529.1 809 1528.9 827.6 1528.7 848.4 1528.5 869.3 1528.2 890.1 1527.9 913.3 1527.7M635.3 1378.9 636.2 1364 637.2 1348.8 638.1 1335.2 639.2 1320.7 640.6 1305 642.2 1291 644.1 1282.5 646.2 1279.6 648.5 1282.1 651.1 1290.4 653.8 1303.5 657.3 1320.4 660.8 1337.4 665.4 1359.4 670 1379.7 675.8 1403.7 681.6 1426.5 688.6 1451.6 695.5 1473.2 704.8 1497.8 714.1 1515.2 723.3 1524.5 734.9 1528.8 746.5 1529.8 760.4 1529.9 774.3 1529.7 790.5 1529.4 809 1529 827.6 1528.5 848.4 1528 869.3 1527.5 890.1 1527.3 913.3 1527.3M635.3 1427.2 636.2 1420.3 637.2 1413.1 638.1 1406.2 639.2 1398.2 640.6 1390 642.2 1381.1 644.1 1372.4 646.2 1365.4 648.5 1361.4 651.1 1359.9 653.8 1361 657.3 1365.7 660.8 1372.8 665.4 1383.4 670 1393.9 675.8 1407 681.6 1419.3 688.6 1433.2 695.5 1446.4 704.8 1463.2 714.1 1478.5 723.3 1491.7 734.9 1506.1 746.5 1517 760.4 1524.8 774.3 1528 790.5 1529.2 809 1529.4 827.6 1529.3 848.4 1529.1 869.3 1528.9 890.1 1528.7 913.3 1528.5M635.3 1442.6 636.2 1436.7 637.2 1430.7 638.1 1424.8 639.2 1418.1 640.6 1411.1 642.2 1403.6 644.1 1396.2 646.2 1390.3 648.5 1386.9 651.1 1385.6 653.8 1386.4 657.3 1390.3 660.8 1396.3 665.4 1405.2 670 1414.1 675.8 1425.2 681.6 1435.6 688.6 1447.4 695.5 1458.6 704.8 1472.8 714.1 1485.7 723.3 1496.9 734.9 1509.2 746.5 1518.5 760.4 1525.2 774.3 1528 790.5 1529.1 809 1529.2 827.6 1529.2 848.4 1529 869.3 1528.9 890.1 1528.7 913.3 1528.5M635.3 1394.4 636.2 1383.1 637.2 1371.6 638.1 1360.6 639.2 1348.9 640.6 1336.3 642.2 1323.4 644.1 1312.9 646.2 1307.1 648.5 1305.2 651.1 1307.6 653.8 1314.4 657.3 1326.7 660.8 1339.5 665.4 1356.6 670 1373.3 675.8 1392.7 681.6 1411 688.6 1432 695.5 1451.6 704.8 1474.4 714.1 1494 723.3 1509.7 734.9 1522.1 746.5 1527.3 760.4 1529.4 774.3 1529.7 790.5 1529.7 809 1529.4 827.6 1529.1 848.4 1528.8 869.3 1528.4 890.1 1528 913.3 1527.5M635.3 1438.5 636.2 1430.6 637.2 1422.6 638.1 1415.1 639.2 1407 640.6 1398.3 642.2 1389.6 644.1 1383 646.2 1379.6 648.5 1378.8 651.1 1381.4 653.8 1386.7 657.3 1395.6 660.8 1404.5 665.4 1416.5 670 1427.9 675.8 1441.3 681.6 1453.9 688.6 1468.3 695.5 1481.5 704.8 1496.7 714.1 1509.6 723.3 1519.1 734.9 1525.8 746.5 1528.3 760.4 1529.2 774.3 1529.3 790.5 1529 809 1528.2 827.6 1527.5 848.4 1527 869.3 1526.8 890.1 1526.5 913.3 1526.2M635.3 1401.8 636.2 1393 637.2 1383.9 638.1 1375.1 639.2 1365 640.6 1354.6 642.2 1343.3 644.1 1332.4 646.2 1324 648.5 1319.2 651.1 1317.6 653.8 1319.3 657.3 1325.7 660.8 1335 665.4 1348.4 670 1361.9 675.8 1378.5 681.6 1394 688.6 1411.6 695.5 1428.3 704.8 1449.5 714.1 1468.6 723.3 1485.1 734.9 1503 746.5 1516 760.4 1524.8 774.3 1528.3 790.5 1528.8 809 1527.2 827.6 1525.3 848.4 1524.4 869.3 1524.1 890.1 1523.8 913.3 1523.5M635.3 1455.5 636.2 1448.5 637.2 1441.4 638.1 1434.9 639.2 1428 640.6 1420.5 642.2 1413.6 644.1 1409 646.2 1407.2 648.5 1407.7 651.1 1411.1 653.8 1416.9 657.3 1424.9 660.8 1432.8 665.4 1443.3 670 1453 675.8 1464.4 681.6 1475.2 688.6 1487.3 695.5 1498 704.8 1510.1 714.1 1519.5 723.3 1525.2 734.9 1528.1 746.5 1529 760.4 1529.1 774.3 1529 790.5 1528.9 809 1528.7 827.6 1528.5 848.4 1528.3 869.3 1528 890.1 1527.8 913.3 1527.8M635.3 1456.8 636.2 1450 637.2 1443.2 638.1 1436.9 639.2 1430.2 640.6 1422.9 642.2 1416.1 644.1 1411.4 646.2 1409.4 648.5 1409.6 651.1 1412.7 653.8 1418 657.3 1425.7 660.8 1433.4 665.4 1443.5 670 1452.9 675.8 1464 681.6 1474.5 688.6 1486.3 695.5 1496.8 704.8 1508.8 714.1 1518.3 723.3 1524.5 734.9 1527.8 746.5 1528.9 760.4 1529.1 774.3 1529 790.5 1528.9 809 1528.7 827.6 1528.5 848.4 1528.3 869.3 1528.1 890.1 1527.8 913.3 1527.8M635.3 1392.9 636.2 1383.7 637.2 1374.2 638.1 1364.9 639.2 1354.3 640.6 1343.3 642.2 1331.5 644.1 1319.8 646.2 1310.5 648.5 1305 651.1 1302.9 653.8 1304.2 657.3 1310.3 660.8 1319.7 665.4 1333.8 670 1347.8 675.8 1365.2 681.6 1381.7 688.6 1400.3 695.5 1417.9 704.8 1440.3 714.1 1460.7 723.3 1478.5 734.9 1497.8 746.5 1512.6 760.4 1523.3 774.3 1527.7 790.5 1529 809 1528 827.6 1526.7 848.4 1525.9 869.3 1525.7 890.1 1525.4 913.3 1525M635.3 1385.9 636.2 1369.9 637.2 1354.1 638.1 1340.3 639.2 1325.3 640.6 1309.8 642.2 1297.7 644.1 1292 646.2 1291.6 648.5 1297.7 651.1 1309.1 653.8 1323.6 657.3 1341.6 660.8 1359.4 665.4 1381.5 670 1402.2 675.8 1426.6 681.6 1449.4 688.6 1473.1 695.5 1493.4 704.8 1513.6 714.1 1524.4 723.3 1528.4 734.9 1529.7 746.5 1529.8 760.4 1529.6 774.3 1529.3 790.5 1528.6 809 1527 827.6 1525.4 848.4 1524.4 869.3 1524.4 890.1 1524.4 913.3 1524.4M635.3 1430.3 636.2 1423.2 637.2 1415.8 638.1 1408.7 639.2 1400.6 640.6 1392.3 642.2 1383.4 644.1 1375 646.2 1368.9 648.5 1365.8 651.1 1365.1 653.8 1367.5 657.3 1373.3 660.8 1381.4 665.4 1392.2 670 1403.1 675.8 1416.4 681.6 1428.7 688.6 1442.7 695.5 1456.1 704.8 1472.8 714.1 1487.4 723.3 1500.2 734.9 1513.3 746.5 1522.1 760.4 1527.1 774.3 1528.9 790.5 1529.3 809 1529.3 827.6 1529.2 848.4 1529 869.3 1528.8 890.1 1528.5 913.3 1528.3M635.3 1459.7 636.2 1452.5 637.2 1445.4 638.1 1439 639.2 1432.1 640.6 1424.8 642.2 1418.5 644.1 1415 646.2 1414 648.5 1415.8 651.1 1420.2 653.8 1426.6 657.3 1434.6 660.8 1442.7 665.4 1453 670 1462.6 675.8 1473.8 681.6 1484.5 688.6 1496 695.5 1505.9 704.8 1516.9 714.1 1524 723.3 1527.3 734.9 1528.8 746.5 1529 760.4 1529 774.3 1528.9 790.5 1528.7 809 1528.5 827.6 1528.3 848.4 1528.1 869.3 1527.9 890.1 1527.9 913.3 1527.9M635.3 1445 636.2 1437 637.2 1428.9 638.1 1421.5 639.2 1413.7 640.6 1405.1 642.2 1397.1 644.1 1391.9 646.2 1389.8 648.5 1390.4 651.1 1394.2 653.8 1400.8 657.3 1409.8 660.8 1418.9 665.4 1430.8 670 1441.9 675.8 1454.9 681.6 1467.3 688.6 1481.2 695.5 1493.4 704.8 1507.3 714.1 1518 723.3 1524.6 734.9 1528 746.5 1529 760.4 1529.2 774.3 1529.1 790.5 1529 809 1528.8 827.6 1528.5 848.4 1528.3 869.3 1528 890.1 1527.8 913.3 1527.8M635.3 1411.9 636.2 1399.4 637.2 1386.8 638.1 1375.8 639.2 1363.9 640.6 1351.3 642.2 1341 644.1 1335.6 646.2 1334.5 648.5 1338.4 651.1 1346.7 653.8 1358.1 657.3 1372.2 660.8 1386.3 665.4 1404 670 1420.6 675.8 1440.1 681.6 1458.5 688.6 1478 695.5 1494.7 704.8 1512.5 714.1 1523.2 723.3 1527.6 734.9 1529.4 746.5 1529.5 760.4 1529.5 774.3 1529.2 790.5 1529 809 1528.6 827.6 1528.2 848.4 1527.8 869.3 1527.5 890.1 1527.5 913.3 1527.5M635.3 1415.3 636.2 1403.3 637.2 1391.4 638.1 1380.8 639.2 1369.4 640.6 1357.3 642.2 1347.1 644.1 1341.5 646.2 1340.1 648.5 1343.4 651.1 1350.9 653.8 1361.7 657.3 1375.1 660.8 1388.6 665.4 1405.7 670 1421.5 675.8 1440.3 681.6 1457.9 688.6 1476.9 695.5 1493.2 704.8 1511 714.1 1522.2 723.3 1527.1 734.9 1529.2 746.5 1529.5 760.4 1529.5 774.3 1529.3 790.5 1528.8 809 1527.9 827.6 1527 848.4 1526.3 869.3 1526 890.1 1526 913.3 1526M635.3 1386.6 636.2 1376.1 637.2 1365.3 638.1 1354.9 639.2 1343.2 640.6 1331.1 642.2 1318 644.1 1305.9 646.2 1297.4 648.5 1293.1 651.1 1292.3 653.8 1296 657.3 1304.9 660.8 1316.8 665.4 1332.6 670 1348.6 675.8 1367.9 681.6 1385.9 688.6 1406.3 695.5 1425.8 704.8 1450 714.1 1471.1 723.3 1489.5 734.9 1508.2 746.5 1520.4 760.4 1526.9 774.3 1529.3 790.5 1529.8 809 1529.8 827.6 1529.6 848.4 1529.3 869.3 1528.9 890.1 1528.6 913.3 1528.2M635.3 1388.4 636.2 1374.6 637.2 1360.7 638.1 1348 639.2 1334.6 640.6 1320.1 642.2 1306.8 644.1 1298.5 646.2 1295.5 648.5 1297.3 651.1 1304.5 653.8 1316.3 657.3 1331.9 660.8 1347.5 665.4 1367.9 670 1386.8 675.8 1409 681.6 1430.1 688.6 1453.6 695.5 1473.9 704.8 1497.1 714.1 1514.1 723.3 1523.8 734.9 1528.4 746.5 1529.7 760.4 1529.8 774.3 1529.7 790.5 1529.3 809 1529 827.6 1528.6 848.4 1528.1 869.3 1527.6 890.1 1527.4 913.3 1527.4M635.3 1424.7 636.2 1416.9 637.2 1408.9 638.1 1401.2 639.2 1392.6 640.6 1383.5 642.2 1373.9 644.1 1365.2 646.2 1359.1 648.5 1356.3 651.1 1356 653.8 1359.1 657.3 1366 660.8 1375 665.4 1386.7 670 1398.6 675.8 1412.9 681.6 1426.1 688.6 1441.2 695.5 1455.6 704.8 1473.4 714.1 1488.8 723.3 1502.2 734.9 1515.4 746.5 1523.6 760.4 1527.7 774.3 1529.2 790.5 1529.4 809 1529.4 827.6 1529.2 848.4 1529 869.3 1528.7 890.1 1528.5 913.3 1528.1M635.3 1426.4 636.2 1416 637.2 1405.6 638.1 1396.2 639.2 1386.2 640.6 1375.5 642.2 1366 644.1 1360.4 646.2 1358.6 648.5 1360.6 651.1 1366.5 653.8 1375.7 657.3 1387.3 660.8 1399.1 665.4 1414.1 670 1428.1 675.8 1444.6 681.6 1460.3 688.6 1477.4 695.5 1492.2 704.8 1508.8 714.1 1520.3 723.3 1526.1 734.9 1528.8 746.5 1529.3 760.4 1529.4 774.3 1529.2 790.5 1529 809 1528.7 827.6 1528.4 848.4 1528 869.3 1527.7 890.1 1527.6 913.3 1527.6M635.3 1446.2 636.2 1440 637.2 1433.7 638.1 1427.5 639.2 1420.7 640.6 1413.5 642.2 1405.9 644.1 1399 646.2 1394.2 648.5 1392 651.1 1391.8 653.8 1394.3 657.3 1399.8 660.8 1406.9 665.4 1416.3 670 1425.7 675.8 1437 681.6 1447.6 688.6 1459.5 695.5 1471 704.8 1485.1 714.1 1497.3 723.3 1507.9 734.9 1518.2 746.5 1524.7 760.4 1527.9 774.3 1529 790.5 1528.9 809 1528.1 827.6 1527.2 848.4 1526.7 869.3 1526.5 890.1 1526.3 913.3 1526.1M635.3 1414.9 636.2 1406.1 637.2 1397 638.1 1388.4 639.2 1378.9 640.6 1368.8 642.2 1358.1 644.1 1348.6 646.2 1342.4 648.5 1339.7 651.1 1339.9 653.8 1343.9 657.3 1352.2 660.8 1362.3 665.4 1375.5 670 1388.9 675.8 1404.7 681.6 1419.4 688.6 1436.2 695.5 1452.3 704.8 1471.8 714.1 1488.6 723.3 1503.1 734.9 1516.7 746.5 1524.6 760.4 1528.2 774.3 1529.4 790.5 1529.5 809 1529.4 827.6 1529.2 848.4 1529 869.3 1528.7 890.1 1528.4 913.3 1528M635.3 1411.3 636.2 1402.7 637.2 1393.9 638.1 1385.3 639.2 1375.7 640.6 1365.7 642.2 1354.9 644.1 1344.9 646.2 1337.8 648.5 1334.3 651.1 1333.5 653.8 1336.5 657.3 1343.7 660.8 1353.5 665.4 1366.5 670 1379.6 675.8 1395.5 681.6 1410.3 688.6 1427.1 695.5 1443.2 704.8 1463.1 714.1 1480.6 723.3 1495.8 734.9 1511.3 746.5 1521.5 760.4 1527.1 774.3 1529.1 790.5 1529.5 809 1529.5 827.6 1529.4 848.4 1529.1 869.3 1528.8 890.1 1528.6 913.3 1528.2M635.3 1414 636.2 1403.3 637.2 1392.4 638.1 1382.3 639.2 1371.7 640.6 1360.1 642.2 1349.1 644.1 1341.6 646.2 1338.3 648.5 1338.7 651.1 1343.5 653.8 1352 657.3 1364.2 660.8 1376.4 665.4 1392.5 670 1407.6 675.8 1425.2 681.6 1442 688.6 1460.9 695.5 1477.7 704.8 1496.9 714.1 1512.1 723.3 1522 734.9 1527.4 746.5 1529.2 760.4 1529.5 774.3 1529.5 790.5 1529.3 809 1529 827.6 1528.7 848.4 1528.3 869.3 1527.9 890.1 1527.6 913.3 1527.6" fill="none" stroke="#e5d8ee" stroke-width="1" stroke-linejoin="round"/>
<path d="M635.3 1415.3 635.3 1414.9 635.4 1413.9 635.6 1412.5 635.8 1410.5 636 1408.1 636.3 1405.2 636.6 1401.9 636.9 1398.2 637.3 1394.2 637.7 1390 638.2 1385.6 638.6 1381.2 639.2 1377 639.7 1372.5 640.3 1368 640.9 1363.4 641.5 1358.9 642.2 1354.7 642.9 1350.8 643.7 1347.5 644.4 1344.9 645.2 1342.9 646.1 1341.5 646.9 1340.6 647.8 1340.1 648.7 1340.1 649.7 1340.7 650.6 1342 651.6 1343.8 652.7 1346 653.7 1348.6 654.8 1351.7 655.9 1355.2 657.1 1358.9 658.2 1362.7 659.4 1366.4 660.6 1370.2 661.9 1374.2 663.2 1378.2 664.5 1382.4 665.8 1386.6 667.1 1390.8 668.5 1395.1 669.9 1399.3 671.3 1403.5 672.8 1407.7 674.3 1411.9 675.8 1416.1 677.3 1420.4 678.9 1424.6 680.4 1428.8 682.1 1433.1 683.7 1437.3 685.3 1441.6 687 1445.9 688.7 1450.2 690.5 1454.5 692.2 1458.7 694 1462.9 695.8 1467.1 697.6 1471.1 699.5 1475.1 701.3 1478.9 703.2 1482.7 705.2 1486.4 707.1 1490 709.1 1493.6 711.1 1497.1 713.1 1500.5 715.1 1503.8 717.2 1506.9 719.3 1509.8 721.4 1512.5 723.5 1514.9 725.7 1517.2 727.9 1519.3 730.1 1521.2 732.3 1522.7 734.6 1524 736.8 1525.1 739.1 1526 741.4 1526.7 743.8 1527.3 746.1 1527.9 748.5 1528.3 750.9 1528.6 753.4 1528.9 755.8 1529.1 758.3 1529.3 760.8 1529.4 763.3 1529.4 765.9 1529.5 768.4 1529.5 771 1529.5 773.6 1529.5 776.3 1529.5 778.9 1529.5 781.6 1529.5 784.3 1529.5 787 1529.5 789.8 1529.4 792.5 1529.4 795.3 1529.4 798.1 1529.3 800.9 1529.3 803.8 1529.3 806.7 1529.2 809.6 1529.2 812.5 1529.2 815.4 1529.1 818.4 1529.1 821.3 1529 824.3 1529 827.4 1529 830.4 1528.9 833.5 1528.9 836.6 1528.8 839.7 1528.8 842.8 1528.7 845.9 1528.7 849.1 1528.6 852.3 1528.6 855.5 1528.5 858.7 1528.5 862 1528.4 865.3 1528.4 868.6 1528.3 871.9 1528.3 875.2 1528.2 878.6 1528.1 882 1528.1 885.4 1528 888.8 1528 892.2 1527.9 895.7 1527.9 899.2 1527.8 902.7 1527.7 906.2 1527.7 909.7 1527.6 913.3 1527.6" fill="none" stroke="#7e5ca9" stroke-width="8.2" stroke-linejoin="round" stroke-linecap="butt"/>
</g>
<line x1="670" y1="1247.5" x2="670" y2="1528.3" stroke="#7e5ca9" stroke-width="2" stroke-linecap="butt"/>
<line x1="635.3" y1="1249.4" x2="635.3" y2="1529.4" stroke="#000" stroke-width="2.2" stroke-linecap="butt"/>
<line x1="631.3" y1="1528.3" x2="914.5" y2="1528.3" stroke="#000" stroke-width="2.2" stroke-linecap="butt"/>
<line x1="635.3" y1="1528.3" x2="635.3" y2="1533" stroke="#000" stroke-width="2.2" stroke-linecap="butt"/>
<line x1="728" y1="1528.3" x2="728" y2="1533" stroke="#000" stroke-width="2.2" stroke-linecap="butt"/>
<line x1="820.6" y1="1528.3" x2="820.6" y2="1533" stroke="#000" stroke-width="2.2" stroke-linecap="butt"/>
<line x1="913.3" y1="1528.3" x2="913.3" y2="1533" stroke="#000" stroke-width="2.2" stroke-linecap="butt"/>
<line x1="630.8" y1="1343" x2="635.3" y2="1343" stroke="#000" stroke-width="2" stroke-linecap="butt"/>
<text x="615.4" y="1351.6" font-size="28.3" text-anchor="end" fill="#000">0.05</text>
<line x1="630.8" y1="1435.5" x2="635.3" y2="1435.5" stroke="#000" stroke-width="2" stroke-linecap="butt"/>
<text x="615.4" y="1445.4" font-size="28.3" text-anchor="end" fill="#000">0.025</text>
<line x1="630.8" y1="1528.3" x2="635.3" y2="1528.3" stroke="#000" stroke-width="2" stroke-linecap="butt"/>
<text x="615.4" y="1536.5" font-size="28.3" text-anchor="end" fill="#000">0</text>
<text x="631.6" y="1563.2" font-size="28.3" text-anchor="middle" fill="#000">0</text>
<text x="723.8" y="1563.2" font-size="28.3" text-anchor="middle" fill="#000">4</text>
<text x="816.4" y="1563.2" font-size="28.3" text-anchor="middle" fill="#000">8</text>
<text x="907.7" y="1563.2" font-size="28.3" text-anchor="middle" fill="#000">12</text>
<text x="784.9" y="1600.5" font-size="29" text-anchor="middle" fill="#000">Time (s)</text>
<clipPath id="c7"><rect x="1061.4" y="1250.4" width="285.8" height="283.5"/></clipPath>
<g clip-path="url(#c7)">
<path d="M1077 1527.9 1086.2 1483.5 1100.1 1439.1 1116.3 1414.1 1134.9 1414.1 1158 1430.8 1181.2 1447.4 1215.9 1464.1 1250.6 1475.2 1296.9 1482.4 1343.2 1486.3 1343.2 1527.9 1232.1 1527.9 1211.2 1511.2 1192.7 1495.7 1169.6 1482.4 1146.4 1479.1 1130.2 1483.5 1111.7 1500.2 1097.8 1527.9Z" fill="#e3eefa"/>
<path d="M1065.4 1522.5 1066.3 1523.1 1067.3 1523.8 1068.2 1524.3 1069.3 1524.1 1070.7 1523 1072.3 1520.5 1074.2 1516.4 1076.3 1509.1 1078.6 1496.4 1081.1 1481 1083.9 1461.6 1087.4 1441.4 1090.9 1427.5 1095.5 1414.9 1100.1 1405.9 1105.9 1398 1111.7 1393.4 1118.6 1393.3 1125.6 1396.9 1134.9 1403.8 1144.1 1412.6 1153.4 1422.4 1164.9 1434.9 1176.5 1447 1190.4 1460.5 1204.3 1472.4 1220.5 1483.8 1239 1493 1257.5 1498.6 1278.4 1503.8 1299.2 1509 1320 1513.1 1343.2 1516.6M1065.4 1523.8 1066.3 1524.2 1067.3 1524.6 1068.2 1525 1069.3 1525.2 1070.7 1524.9 1072.3 1524.1 1074.2 1522.4 1076.3 1519.8 1078.6 1515.5 1081.1 1508 1083.9 1498.4 1087.4 1485.4 1090.9 1470.7 1095.5 1458 1100.1 1448.3 1105.9 1440.5 1111.7 1434.4 1118.6 1429.6 1125.6 1426.6 1134.9 1427.3 1144.1 1430.2 1153.4 1434.4 1164.9 1440.8 1176.5 1448 1190.4 1456.8 1204.3 1465.4 1220.5 1474.8 1239 1484.5 1257.5 1492.6 1278.4 1499.6 1299.2 1504.1 1320 1507.1 1343.2 1510.8M1065.4 1525.5 1066.3 1525.6 1067.3 1525.7 1068.2 1525.5 1069.3 1524 1070.7 1519.4 1072.3 1509.2 1074.2 1492.2 1076.3 1469.6 1078.6 1445.9 1081.1 1427.1 1083.9 1417.3 1087.4 1419.1 1090.9 1429.9 1095.5 1445.9 1100.1 1459.4 1105.9 1468.8 1111.7 1472.1 1118.6 1471.8 1125.6 1469.9 1134.9 1467.8 1144.1 1468.8 1153.4 1471.9 1164.9 1476.2 1176.5 1481.5 1190.4 1488.3 1204.3 1495.5 1220.5 1504.1 1239 1513.6 1257.5 1522.8 1278.4 1532.6 1299.2 1533.5 1320 1533.5 1343.2 1533.5M1065.4 1525.9 1066.3 1526 1067.3 1526.2 1068.2 1526.4 1069.3 1526.5 1070.7 1526.6 1072.3 1526.4 1074.2 1525.9 1076.3 1525.1 1078.6 1523.9 1081.1 1522 1083.9 1518.8 1087.4 1514 1090.9 1508.7 1095.5 1500.7 1100.1 1495 1105.9 1489.7 1111.7 1486.1 1118.6 1482.8 1125.6 1480.3 1134.9 1478.3 1144.1 1477.6 1153.4 1478.6 1164.9 1480.3 1176.5 1482.6 1190.4 1485.9 1204.3 1489.5 1220.5 1493.7 1239 1498.3 1257.5 1502.6 1278.4 1507 1299.2 1510.6 1320 1513.5 1343.2 1515.7M1065.4 1523.3 1066.3 1523.7 1067.3 1524.2 1068.2 1524.6 1069.3 1524.8 1070.7 1524.4 1072.3 1523.2 1074.2 1521.1 1076.3 1517.7 1078.6 1511.8 1081.1 1502 1083.9 1490.2 1087.4 1473.6 1090.9 1457.8 1095.5 1443.9 1100.1 1433.9 1105.9 1425.3 1111.7 1418.8 1118.6 1414.1 1125.6 1411.7 1134.9 1414.3 1144.1 1421.2 1153.4 1429.8 1164.9 1441.6 1176.5 1454 1190.4 1468.9 1204.3 1483.4 1220.5 1499.5 1239 1516.1 1257.5 1530.6 1278.4 1533.5 1299.2 1533.5 1320 1533.5 1343.2 1533.5M1065.4 1523.6 1066.3 1524 1067.3 1524.5 1068.2 1524.9 1069.3 1525 1070.7 1524.6 1072.3 1523.4 1074.2 1521.3 1076.3 1517.9 1078.6 1511.9 1081.1 1502.4 1083.9 1491 1087.4 1474.7 1090.9 1460.7 1095.5 1447.9 1100.1 1439 1105.9 1431.1 1111.7 1425.3 1118.6 1421.1 1125.6 1419.5 1134.9 1422.4 1144.1 1426.5 1153.4 1432.1 1164.9 1440 1176.5 1448.4 1190.4 1458.4 1204.3 1467.9 1220.5 1478.1 1239 1488 1257.5 1495.8 1278.4 1501.6 1299.2 1505.3 1320 1509 1343.2 1512.8M1065.4 1523.1 1066.3 1523.6 1067.3 1524.1 1068.2 1524.6 1069.3 1524.8 1070.7 1524.3 1072.3 1523 1074.2 1520.7 1076.3 1517.1 1078.6 1510.8 1081.1 1500.5 1083.9 1488.3 1087.4 1470.7 1090.9 1455 1095.5 1440.9 1100.1 1431 1105.9 1422.3 1111.7 1415.8 1118.6 1411.1 1125.6 1409.1 1134.9 1412.1 1144.1 1416.4 1153.4 1422.4 1164.9 1431 1176.5 1440.1 1190.4 1451 1204.3 1461.3 1220.5 1472.5 1239 1483.4 1257.5 1492.1 1278.4 1498.7 1299.2 1502.9 1320 1506.8 1343.2 1511M1065.4 1525 1066.3 1525.2 1067.3 1525.4 1068.2 1525.6 1069.3 1525.9 1070.7 1526 1072.3 1525.7 1074.2 1525.1 1076.3 1524.1 1078.6 1522.5 1081.1 1520.1 1083.9 1516 1087.4 1509.4 1090.9 1502.2 1095.5 1491.3 1100.1 1482.1 1105.9 1474.1 1111.7 1468.3 1118.6 1463.3 1125.6 1459.4 1134.9 1456.2 1144.1 1454.4 1153.4 1455.2 1164.9 1457.3 1176.5 1460.3 1190.4 1464.7 1204.3 1469.6 1220.5 1475.5 1239 1482.1 1257.5 1488.4 1278.4 1494.8 1299.2 1500.3 1320 1504.9 1343.2 1508.7M1065.4 1523.8 1066.3 1524.2 1067.3 1524.6 1068.2 1525 1069.3 1525.2 1070.7 1524.9 1072.3 1524.1 1074.2 1522.4 1076.3 1519.8 1078.6 1515.4 1081.1 1507.8 1083.9 1498.2 1087.4 1485.1 1090.9 1470.4 1095.5 1457.7 1100.1 1448.2 1105.9 1440.4 1111.7 1434.3 1118.6 1429.6 1125.6 1426.7 1134.9 1427.6 1144.1 1430.5 1153.4 1434.7 1164.9 1441.2 1176.5 1448.4 1190.4 1457.3 1204.3 1465.9 1220.5 1475.3 1239 1485 1257.5 1493 1278.4 1499.9 1299.2 1504.3 1320 1507.3 1343.2 1511M1065.4 1525.5 1066.3 1525.7 1067.3 1525.9 1068.2 1526.1 1069.3 1526.2 1070.7 1526.3 1072.3 1526.1 1074.2 1525.7 1076.3 1524.9 1078.6 1523.6 1081.1 1521.7 1083.9 1518.6 1087.4 1513.3 1090.9 1507.6 1095.5 1499 1100.1 1491.3 1105.9 1484.7 1111.7 1479.8 1118.6 1475.8 1125.6 1472.6 1134.9 1469.9 1144.1 1468.2 1153.4 1468.7 1164.9 1470.4 1176.5 1472.6 1190.4 1476.1 1204.3 1480 1220.5 1484.7 1239 1490 1257.5 1495.1 1278.4 1500.4 1299.2 1504.9 1320 1508.7 1343.2 1511.9M1065.4 1525.8 1066.3 1525.9 1067.3 1526 1068.2 1526.2 1069.3 1526.4 1070.7 1526.5 1072.3 1526.4 1074.2 1526.2 1076.3 1525.6 1078.6 1524.8 1081.1 1523.6 1083.9 1521.7 1087.4 1518.1 1090.9 1513.7 1095.5 1507.5 1100.1 1500.3 1105.9 1493.5 1111.7 1488.6 1118.6 1484.3 1125.6 1481.2 1134.9 1477.9 1144.1 1477.4 1153.4 1477.7 1164.9 1480.1 1176.5 1483.2 1190.4 1487.6 1204.3 1492.6 1220.5 1498.8 1239 1506 1257.5 1513.2 1278.4 1521 1299.2 1528.6 1320 1533.5 1343.2 1533.5M1065.4 1522.9 1066.3 1523.4 1067.3 1524 1068.2 1524.4 1069.3 1524.6 1070.7 1524 1072.3 1522.7 1074.2 1520.1 1076.3 1516.1 1078.6 1509 1081.1 1497.7 1083.9 1484.5 1087.4 1465.3 1090.9 1449.5 1095.5 1434.8 1100.1 1424.8 1105.9 1415.8 1111.7 1409.2 1118.6 1404.5 1125.6 1403.1 1134.9 1406.6 1144.1 1411.6 1153.4 1418.1 1164.9 1427.5 1176.5 1437.3 1190.4 1448.8 1204.3 1459.9 1220.5 1471.6 1239 1482.9 1257.5 1491.7 1278.4 1498.2 1299.2 1502.3 1320 1506.7 1343.2 1511M1065.4 1525 1066.3 1525.2 1067.3 1525.5 1068.2 1525.8 1069.3 1526 1070.7 1525.9 1072.3 1525.4 1074.2 1524.4 1076.3 1522.7 1078.6 1520.2 1081.1 1515.8 1083.9 1509.5 1087.4 1501 1090.9 1491.1 1095.5 1480.9 1100.1 1473.7 1105.9 1467.5 1111.7 1463 1118.6 1459 1125.6 1456.5 1134.9 1455.5 1144.1 1457.2 1153.4 1459.5 1164.9 1463.5 1176.5 1468.1 1190.4 1474 1204.3 1479.9 1220.5 1486.5 1239 1493.5 1257.5 1499.6 1278.4 1505.1 1299.2 1509.1 1320 1511.7 1343.2 1513.8M1065.4 1525.8 1066.3 1526 1067.3 1526.1 1068.2 1526.3 1069.3 1526.5 1070.7 1526.5 1072.3 1526.2 1074.2 1525.7 1076.3 1524.8 1078.6 1523.4 1081.1 1521.2 1083.9 1517.6 1087.4 1512.3 1090.9 1506.6 1095.5 1498 1100.1 1492.4 1105.9 1487 1111.7 1483.5 1118.6 1480.1 1125.6 1477.7 1134.9 1475.8 1144.1 1475.7 1153.4 1476.9 1164.9 1478.8 1176.5 1481.5 1190.4 1485.2 1204.3 1489 1220.5 1493.5 1239 1498.4 1257.5 1503 1278.4 1507.4 1299.2 1511.1 1320 1513.8 1343.2 1515.9M1065.4 1525.3 1066.3 1525.5 1067.3 1525.7 1068.2 1525.9 1069.3 1526.1 1070.7 1526.1 1072.3 1525.8 1074.2 1525.1 1076.3 1524 1078.6 1522.2 1081.1 1519.4 1083.9 1514.6 1087.4 1507.9 1090.9 1500.7 1095.5 1490 1100.1 1483 1105.9 1476.3 1111.7 1471.9 1118.6 1467.7 1125.6 1464.8 1134.9 1462.5 1144.1 1462.5 1153.4 1464.1 1164.9 1466.7 1176.5 1470.1 1190.4 1474.8 1204.3 1479.7 1220.5 1485.3 1239 1491.5 1257.5 1497.2 1278.4 1502.7 1299.2 1507.2 1320 1510.6 1343.2 1513.1M1065.4 1522.4 1066.3 1522.9 1067.3 1523.5 1068.2 1523.6 1069.3 1522 1070.7 1516.7 1072.3 1505.1 1074.2 1485.7 1076.3 1459.4 1078.6 1428.6 1081.1 1399.2 1083.9 1378.1 1087.4 1363.7 1090.9 1364.2 1095.5 1373.8 1100.1 1383.9 1105.9 1390 1111.7 1390.9 1118.6 1389.7 1125.6 1390.3 1134.9 1394.9 1144.1 1400.9 1153.4 1408.5 1164.9 1419.1 1176.5 1430.2 1190.4 1443.1 1204.3 1455.3 1220.5 1468.2 1239 1480.4 1257.5 1489.6 1278.4 1496.2 1299.2 1500.7 1320 1505.7 1343.2 1510.3M1065.4 1524.5 1066.3 1524.8 1067.3 1525.1 1068.2 1525.3 1069.3 1525.6 1070.7 1525.7 1072.3 1525.3 1074.2 1524.6 1076.3 1523.2 1078.6 1521.2 1081.1 1518.1 1083.9 1512.7 1087.4 1504.6 1090.9 1495.9 1095.5 1482.5 1100.1 1473.1 1105.9 1464.2 1111.7 1458.2 1118.6 1452.7 1125.6 1448.5 1134.9 1445.2 1144.1 1444.1 1153.4 1445.8 1164.9 1448.5 1176.5 1452.5 1190.4 1458 1204.3 1463.9 1220.5 1470.9 1239 1478.6 1257.5 1485.8 1278.4 1493 1299.2 1499.1 1320 1504 1343.2 1507.6M1065.4 1522.3 1066.3 1522.9 1067.3 1523.7 1068.2 1524.1 1069.3 1524 1070.7 1522.8 1072.3 1520.3 1074.2 1516.2 1076.3 1508.8 1078.6 1495.8 1081.1 1480 1083.9 1460.3 1087.4 1439 1090.9 1424.5 1095.5 1411.3 1100.1 1401.9 1105.9 1393.6 1111.7 1388.7 1118.6 1388.2 1125.6 1391.9 1134.9 1398.8 1144.1 1407.8 1153.4 1417.8 1164.9 1430.7 1176.5 1443.1 1190.4 1457.1 1204.3 1469.5 1220.5 1481.5 1239 1491.2 1257.5 1497.1 1278.4 1502.5 1299.2 1507.9 1320 1512.2 1343.2 1515.9M1065.4 1522.2 1066.3 1522.9 1067.3 1523.6 1068.2 1524.1 1069.3 1523.9 1070.7 1522.8 1072.3 1520.3 1074.2 1516.2 1076.3 1508.8 1078.6 1495.9 1081.1 1480 1083.9 1460.3 1087.4 1438.6 1090.9 1423.9 1095.5 1410.4 1100.1 1400.9 1105.9 1392.4 1111.7 1387.4 1118.6 1386.6 1125.6 1390.3 1134.9 1397.1 1144.1 1406.2 1153.4 1416.2 1164.9 1429.2 1176.5 1441.7 1190.4 1455.8 1204.3 1468.4 1220.5 1480.5 1239 1490.5 1257.5 1496.6 1278.4 1501.9 1299.2 1507.4 1320 1511.8 1343.2 1515.6M1065.4 1524.7 1066.3 1524.9 1067.3 1525.2 1068.2 1525.5 1069.3 1525.7 1070.7 1525.8 1072.3 1525.4 1074.2 1524.6 1076.3 1523.2 1078.6 1521.2 1081.1 1518 1083.9 1512.5 1087.4 1504.5 1090.9 1495.9 1095.5 1483 1100.1 1474.3 1105.9 1466 1111.7 1460.5 1118.6 1455.4 1125.6 1451.7 1134.9 1448.7 1144.1 1450.3 1153.4 1454.1 1164.9 1459.5 1176.5 1466 1190.4 1474.6 1204.3 1483.4 1220.5 1493.7 1239 1505.2 1257.5 1516.1 1278.4 1527.4 1299.2 1533.5 1320 1533.5 1343.2 1533.5M1065.4 1522.4 1066.3 1523.1 1067.3 1523.8 1068.2 1524.3 1069.3 1524.1 1070.7 1522.9 1072.3 1520.4 1074.2 1516.3 1076.3 1508.8 1078.6 1495.9 1081.1 1480.3 1083.9 1460.6 1087.4 1440.5 1090.9 1426.5 1095.5 1413.9 1100.1 1404.9 1105.9 1397.1 1111.7 1392.4 1118.6 1392.5 1125.6 1396.2 1134.9 1403.2 1144.1 1413.1 1153.4 1424 1164.9 1437.8 1176.5 1451.2 1190.4 1466.3 1204.3 1479.7 1220.5 1492.8 1239 1503.9 1257.5 1511.3 1278.4 1518.8 1299.2 1526.2 1320 1532.4 1343.2 1533.5M1065.4 1525.5 1066.3 1525.7 1067.3 1525.9 1068.2 1526.1 1069.3 1526.3 1070.7 1526.3 1072.3 1526.1 1074.2 1525.6 1076.3 1524.6 1078.6 1523.2 1081.1 1521 1083.9 1517.2 1087.4 1511.5 1090.9 1505.4 1095.5 1495.9 1100.1 1489.4 1105.9 1483.1 1111.7 1478.9 1118.6 1475.1 1125.6 1472.2 1134.9 1469.9 1144.1 1469.1 1153.4 1470.3 1164.9 1472.3 1176.5 1475 1190.4 1478.9 1204.3 1483.1 1220.5 1488 1239 1493.4 1257.5 1498.5 1278.4 1503.5 1299.2 1507.8 1320 1511.2 1343.2 1513.7M1065.4 1524.5 1066.3 1524.8 1067.3 1525.2 1068.2 1525.5 1069.3 1525.7 1070.7 1525.4 1072.3 1524.6 1074.2 1523.1 1076.3 1520.8 1078.6 1516.9 1081.1 1510.2 1083.9 1501.9 1087.4 1490.5 1090.9 1478.5 1095.5 1468.2 1100.1 1460.6 1105.9 1454.3 1111.7 1449.3 1118.6 1445.7 1125.6 1443.5 1134.9 1444.9 1144.1 1447.5 1153.4 1451.3 1164.9 1457 1176.5 1463.2 1190.4 1470.7 1204.3 1477.9 1220.5 1485.8 1239 1493.8 1257.5 1500.3 1278.4 1505.6 1299.2 1509 1320 1511.5 1343.2 1514.7M1065.4 1522.6 1066.3 1523.2 1067.3 1523.9 1068.2 1524.3 1069.3 1524.2 1070.7 1523.3 1072.3 1521.1 1074.2 1517.5 1076.3 1511.2 1078.6 1499.9 1081.1 1485.6 1083.9 1468.3 1087.4 1447.1 1090.9 1433.3 1095.5 1420 1100.1 1411 1105.9 1402.7 1111.7 1397.8 1118.6 1395.9 1125.6 1399 1134.9 1404.7 1144.1 1412.7 1153.4 1421.7 1164.9 1433.4 1176.5 1444.9 1190.4 1458 1204.3 1469.8 1220.5 1481.4 1239 1491.3 1257.5 1497.5 1278.4 1502.2 1299.2 1507.6 1320 1511.8 1343.2 1515.5M1065.4 1524.6 1066.3 1524.8 1067.3 1525.2 1068.2 1525.5 1069.3 1525.7 1070.7 1525.5 1072.3 1524.9 1074.2 1523.6 1076.3 1521.6 1078.6 1518.3 1081.1 1512.6 1083.9 1505 1087.4 1494.7 1090.9 1482.7 1095.5 1471.9 1100.1 1463.8 1105.9 1457.1 1111.7 1452 1118.6 1447.8 1125.6 1445.1 1134.9 1444.9 1144.1 1447.2 1153.4 1450.3 1164.9 1455.3 1176.5 1460.9 1190.4 1468 1204.3 1474.9 1220.5 1482.6 1239 1490.7 1257.5 1497.4 1278.4 1503.5 1299.2 1507.5 1320 1510.2 1343.2 1513M1065.4 1525.3 1066.3 1525.4 1067.3 1525.7 1068.2 1525.9 1069.3 1526.1 1070.7 1526.2 1072.3 1525.9 1074.2 1525.4 1076.3 1524.4 1078.6 1522.9 1081.1 1520.7 1083.9 1516.9 1087.4 1510.8 1090.9 1504.2 1095.5 1494.1 1100.1 1486.2 1105.9 1479.1 1111.7 1474 1118.6 1469.7 1125.6 1466.2 1134.9 1463.5 1144.1 1462.1 1153.4 1463.1 1164.9 1465 1176.5 1467.8 1190.4 1471.9 1204.3 1476.4 1220.5 1481.8 1239 1487.7 1257.5 1493.3 1278.4 1499.1 1299.2 1504 1320 1508 1343.2 1511.2M1065.4 1524 1066.3 1524.3 1067.3 1524.7 1068.2 1525.1 1069.3 1525.3 1070.7 1525 1072.3 1524.2 1074.2 1522.5 1076.3 1519.9 1078.6 1515.6 1081.1 1508.1 1083.9 1498.7 1087.4 1485.8 1090.9 1471.7 1095.5 1459.6 1100.1 1450.4 1105.9 1443 1111.7 1437.1 1118.6 1432.7 1125.6 1430 1134.9 1431.1 1144.1 1434 1153.4 1438.2 1164.9 1444.6 1176.5 1451.6 1190.4 1460.2 1204.3 1468.5 1220.5 1477.7 1239 1487 1257.5 1494.7 1278.4 1501.2 1299.2 1505.4 1320 1508.3 1343.2 1511.9M1065.4 1523.7 1066.3 1524 1067.3 1524.5 1068.2 1524.9 1069.3 1525.1 1070.7 1524.8 1072.3 1524 1074.2 1522.2 1076.3 1519.6 1078.6 1515.1 1081.1 1507.4 1083.9 1497.4 1087.4 1484 1090.9 1468.6 1095.5 1455.4 1100.1 1445.3 1105.9 1437.2 1111.7 1430.8 1118.6 1425.8 1125.6 1422.7 1134.9 1423.3 1144.1 1426.4 1153.4 1430.6 1164.9 1437.3 1176.5 1444.7 1190.4 1453.8 1204.3 1462.7 1220.5 1472.6 1239 1482.6 1257.5 1491.1 1278.4 1498.4 1299.2 1503.1 1320 1506.2 1343.2 1510M1065.4 1525.2 1066.3 1525.5 1067.3 1525.7 1068.2 1526 1069.3 1526.1 1070.7 1526 1072.3 1525.5 1074.2 1524.6 1076.3 1523 1078.6 1520.6 1081.1 1516.3 1083.9 1510.4 1087.4 1502.4 1090.9 1493 1095.5 1484 1100.1 1477.4 1105.9 1471.9 1111.7 1467.7 1118.6 1464.1 1125.6 1462 1134.9 1461.3 1144.1 1465.3 1153.4 1469.8 1164.9 1476.5 1176.5 1483.7 1190.4 1492.7 1204.3 1501.6 1220.5 1511.7 1239 1522.7 1257.5 1532.8 1278.4 1533.5 1299.2 1533.5 1320 1533.5 1343.2 1533.5M1065.4 1525.3 1066.3 1525.5 1067.3 1525.7 1068.2 1525.9 1069.3 1526.1 1070.7 1526.1 1072.3 1525.8 1074.2 1525.1 1076.3 1524 1078.6 1522.2 1081.1 1519.3 1083.9 1514.6 1087.4 1507.9 1090.9 1500.6 1095.5 1490 1100.1 1483.1 1105.9 1476.4 1111.7 1472.1 1118.6 1467.9 1125.6 1465.1 1134.9 1462.8 1144.1 1462.9 1153.4 1464.4 1164.9 1467 1176.5 1470.4 1190.4 1475.1 1204.3 1480 1220.5 1485.6 1239 1491.8 1257.5 1497.4 1278.4 1502.9 1299.2 1507.4 1320 1510.7 1343.2 1513.2M1065.4 1523.3 1066.3 1523.7 1067.3 1524.2 1068.2 1524.6 1069.3 1524.9 1070.7 1524.6 1072.3 1523.8 1074.2 1522.1 1076.3 1519.4 1078.6 1515.2 1081.1 1507.6 1083.9 1497.3 1087.4 1483.5 1090.9 1467.3 1095.5 1452 1100.1 1440.8 1105.9 1431.4 1111.7 1424.4 1118.6 1418.4 1125.6 1414.7 1134.9 1413.9 1144.1 1416.9 1153.4 1420.8 1164.9 1427.5 1176.5 1435.1 1190.4 1444.7 1204.3 1454.1 1220.5 1464.6 1239 1475.6 1257.5 1485 1278.4 1493.5 1299.2 1499.3 1320 1503.1 1343.2 1506.8M1065.4 1525.7 1066.3 1525.8 1067.3 1526 1068.2 1526.2 1069.3 1526.4 1070.7 1526.4 1072.3 1526.1 1074.2 1525.4 1076.3 1524.3 1078.6 1522.7 1081.1 1520 1083.9 1515.6 1087.4 1509.7 1090.9 1503.1 1095.5 1494.2 1100.1 1488.4 1105.9 1483 1111.7 1479.4 1118.6 1475.9 1125.6 1473.7 1134.9 1471.9 1144.1 1475.2 1153.4 1479.3 1164.9 1485.1 1176.5 1491.5 1190.4 1499.6 1204.3 1507.9 1220.5 1517.4 1239 1528 1257.5 1533.5 1278.4 1533.5 1299.2 1533.5 1320 1533.5 1343.2 1533.5M1065.4 1524.4 1066.3 1524.7 1067.3 1525 1068.2 1525.3 1069.3 1525.6 1070.7 1525.5 1072.3 1524.9 1074.2 1523.7 1076.3 1521.8 1078.6 1518.9 1081.1 1513.8 1083.9 1506.4 1087.4 1496.4 1090.9 1484.8 1095.5 1472.3 1100.1 1463.5 1105.9 1455.9 1111.7 1450.4 1118.6 1445.4 1125.6 1442.4 1134.9 1440.7 1144.1 1445.4 1153.4 1450.6 1164.9 1458.6 1176.5 1467.4 1190.4 1478.4 1204.3 1489.5 1220.5 1502 1239 1515.8 1257.5 1528.5 1278.4 1533.5 1299.2 1533.5 1320 1533.5 1343.2 1533.5M1065.4 1523.4 1066.3 1523.9 1067.3 1524.4 1068.2 1524.8 1069.3 1524.9 1070.7 1524.5 1072.3 1523.3 1074.2 1521.1 1076.3 1517.7 1078.6 1511.6 1081.1 1501.8 1083.9 1490.3 1087.4 1473.6 1090.9 1459 1095.5 1445.8 1100.1 1436.6 1105.9 1428.5 1111.7 1422.4 1118.6 1418.1 1125.6 1416.3 1134.9 1419.2 1144.1 1423.4 1153.4 1429.1 1164.9 1437.2 1176.5 1445.8 1190.4 1456 1204.3 1465.8 1220.5 1476.3 1239 1486.5 1257.5 1494.6 1278.4 1500.7 1299.2 1504.5 1320 1508.3 1343.2 1512.3M1065.4 1525 1066.3 1525.3 1067.3 1525.6 1068.2 1525.8 1069.3 1526 1070.7 1525.9 1072.3 1525.3 1074.2 1524.2 1076.3 1522.5 1078.6 1519.8 1081.1 1515 1083.9 1508.5 1087.4 1499.8 1090.9 1489.6 1095.5 1480.1 1100.1 1473.1 1105.9 1467.3 1111.7 1462.8 1118.6 1459.1 1125.6 1456.8 1134.9 1456.4 1144.1 1461.5 1153.4 1467.3 1164.9 1475.5 1176.5 1484.3 1190.4 1495.1 1204.3 1505.8 1220.5 1518 1239 1531.3 1257.5 1533.5 1278.4 1533.5 1299.2 1533.5 1320 1533.5 1343.2 1533.5M1065.4 1524.2 1066.3 1524.6 1067.3 1525 1068.2 1525.3 1069.3 1525.5 1070.7 1525.2 1072.3 1524.3 1074.2 1522.6 1076.3 1520.1 1078.6 1515.7 1081.1 1508.2 1083.9 1499.1 1087.4 1486.4 1090.9 1473.4 1095.5 1462.3 1100.1 1454.1 1105.9 1447.2 1111.7 1441.9 1118.6 1438 1125.6 1435.8 1134.9 1437.5 1144.1 1440.4 1153.4 1444.7 1164.9 1451 1176.5 1457.7 1190.4 1466 1204.3 1473.9 1220.5 1482.6 1239 1491.2 1257.5 1498.3 1278.4 1504 1299.2 1507.5 1320 1510.3 1343.2 1513.7M1065.4 1525.1 1066.3 1525.3 1067.3 1525.5 1068.2 1525.7 1069.3 1526 1070.7 1526 1072.3 1525.7 1074.2 1525 1076.3 1523.9 1078.6 1522.1 1081.1 1519.3 1083.9 1514.7 1087.4 1507.7 1090.9 1500.2 1095.5 1488.7 1100.1 1480.8 1105.9 1473.3 1111.7 1468.3 1118.6 1463.7 1125.6 1460.3 1134.9 1457.5 1144.1 1456.8 1153.4 1458.3 1164.9 1460.8 1176.5 1464.2 1190.4 1469 1204.3 1474.1 1220.5 1480.1 1239 1486.6 1257.5 1492.8 1278.4 1498.9 1299.2 1504 1320 1508 1343.2 1511M1065.4 1522.3 1066.3 1522.9 1067.3 1523.6 1068.2 1524.1 1069.3 1524.2 1070.7 1523.4 1072.3 1521.5 1074.2 1518.2 1076.3 1512.9 1078.6 1503 1081.1 1489.2 1083.9 1473 1087.4 1449.9 1090.9 1434.5 1095.5 1419 1100.1 1409.1 1105.9 1399.4 1111.7 1393.4 1118.6 1389 1125.6 1390.5 1134.9 1395.2 1144.1 1402.2 1153.4 1410.6 1164.9 1422 1176.5 1433.6 1190.4 1446.9 1204.3 1459.4 1220.5 1472.1 1239 1483.9 1257.5 1492.2 1278.4 1497.9 1299.2 1502.8 1320 1507.7 1343.2 1512.1M1065.4 1522.9 1066.3 1523.4 1067.3 1524 1068.2 1524.5 1069.3 1524.6 1070.7 1524 1072.3 1522.4 1074.2 1519.7 1076.3 1515.4 1078.6 1507.5 1081.1 1495.8 1083.9 1482 1087.4 1461.8 1090.9 1447.1 1095.5 1432.8 1100.1 1423.4 1105.9 1414.6 1111.7 1408.5 1118.6 1404.2 1125.6 1404 1134.9 1407.9 1144.1 1413.5 1153.4 1420.5 1164.9 1430.2 1176.5 1440.3 1190.4 1452 1204.3 1463.1 1220.5 1474.7 1239 1485.7 1257.5 1493.9 1278.4 1499.7 1299.2 1503.6 1320 1508.2 1343.2 1512.4M1065.4 1525.1 1066.3 1525.3 1067.3 1525.5 1068.2 1525.7 1069.3 1526 1070.7 1526.1 1072.3 1525.9 1074.2 1525.3 1076.3 1524.4 1078.6 1523 1081.1 1520.8 1083.9 1517.3 1087.4 1511.2 1090.9 1504.6 1095.5 1494.7 1100.1 1485.5 1105.9 1477.8 1111.7 1472 1118.6 1467.3 1125.6 1463.4 1134.9 1460.2 1144.1 1459.6 1153.4 1461.4 1164.9 1465.1 1176.5 1469.5 1190.4 1475.6 1204.3 1482.3 1220.5 1490.2 1239 1499.3 1257.5 1508 1278.4 1517.4 1299.2 1525.9 1320 1533.5 1343.2 1533.5M1065.4 1524.2 1066.3 1524.5 1067.3 1524.8 1068.2 1525.1 1069.3 1525.4 1070.7 1525.4 1072.3 1524.9 1074.2 1523.8 1076.3 1522 1078.6 1519.4 1081.1 1514.9 1083.9 1507.7 1087.4 1497.8 1090.9 1487 1095.5 1472.3 1100.1 1462.7 1105.9 1453.7 1111.7 1447.7 1118.6 1442 1125.6 1438.3 1134.9 1435.4 1144.1 1436.4 1153.4 1438.7 1164.9 1442.9 1176.5 1448.1 1190.4 1454.9 1204.3 1462.1 1220.5 1470.2 1239 1479 1257.5 1487 1278.4 1494.6 1299.2 1500.6 1320 1504.8 1343.2 1508M1065.4 1523.9 1066.3 1524.3 1067.3 1524.7 1068.2 1525.1 1069.3 1525.3 1070.7 1525 1072.3 1524.2 1074.2 1522.6 1076.3 1520.2 1078.6 1516.1 1081.1 1509 1083.9 1499.7 1087.4 1487.2 1090.9 1472.8 1095.5 1460.3 1100.1 1450.9 1105.9 1443.1 1111.7 1437.2 1118.6 1432.4 1125.6 1429.4 1134.9 1429.8 1144.1 1432.6 1153.4 1436.4 1164.9 1442.6 1176.5 1449.5 1190.4 1458 1204.3 1466.3 1220.5 1475.5 1239 1485 1257.5 1492.9 1278.4 1499.9 1299.2 1504.4 1320 1507.4 1343.2 1510.9M1065.4 1522.8 1066.3 1523.3 1067.3 1523.9 1068.2 1524.3 1069.3 1524.5 1070.7 1524 1072.3 1522.6 1074.2 1520 1076.3 1515.9 1078.6 1508.7 1081.1 1497.3 1083.9 1483.8 1087.4 1464.3 1090.9 1447.9 1095.5 1432.9 1100.1 1422.5 1105.9 1413.3 1111.7 1406.5 1118.6 1401.6 1125.6 1400 1134.9 1403.5 1144.1 1408.5 1153.4 1415.2 1164.9 1424.7 1176.5 1434.6 1190.4 1446.5 1204.3 1457.7 1220.5 1469.8 1239 1481.4 1257.5 1490.5 1278.4 1497.2 1299.2 1501.5 1320 1505.9 1343.2 1510.4M1065.4 1526.1 1066.3 1526.2 1067.3 1526.3 1068.2 1526.5 1069.3 1526.6 1070.7 1526.7 1072.3 1526.5 1074.2 1526.1 1076.3 1525.3 1078.6 1524.2 1081.1 1522.5 1083.9 1519.6 1087.4 1515.1 1090.9 1510.3 1095.5 1503 1100.1 1497.8 1105.9 1492.9 1111.7 1489.7 1118.6 1486.7 1125.6 1484.4 1134.9 1482.6 1144.1 1483.7 1153.4 1486.4 1164.9 1490 1176.5 1494.3 1190.4 1499.9 1204.3 1505.7 1220.5 1512.6 1239 1520.2 1257.5 1527.6 1278.4 1533.5 1299.2 1533.5 1320 1533.5 1343.2 1533.5M1065.4 1522.8 1066.3 1523.3 1067.3 1523.9 1068.2 1524.3 1069.3 1524.6 1070.7 1524.1 1072.3 1522.9 1074.2 1520.6 1076.3 1517 1078.6 1510.9 1081.1 1500.5 1083.9 1487.9 1087.4 1470.3 1090.9 1452.6 1095.5 1437.3 1100.1 1426.1 1105.9 1416.8 1111.7 1409.5 1118.6 1404.2 1125.6 1401.3 1134.9 1403.8 1144.1 1407.9 1153.4 1413.8 1164.9 1422.5 1176.5 1431.9 1190.4 1443.3 1204.3 1454.2 1220.5 1466.1 1239 1478 1257.5 1487.6 1278.4 1495.3 1299.2 1500.1 1320 1503.9 1343.2 1508.7M1065.4 1523.5 1066.3 1523.9 1067.3 1524.3 1068.2 1524.7 1069.3 1525 1070.7 1524.7 1072.3 1523.7 1074.2 1521.8 1076.3 1518.9 1078.6 1514.1 1081.1 1505.6 1083.9 1495 1087.4 1480.6 1090.9 1464.6 1095.5 1451 1100.1 1440.6 1105.9 1432.3 1111.7 1425.7 1118.6 1420.7 1125.6 1417.6 1134.9 1418.8 1144.1 1425.4 1153.4 1433.4 1164.9 1444.7 1176.5 1456.8 1190.4 1471.4 1204.3 1485.8 1220.5 1501.9 1239 1519 1257.5 1533.5 1278.4 1533.5 1299.2 1533.5 1320 1533.5 1343.2 1533.5M1065.4 1525.5 1066.3 1525.7 1067.3 1526 1068.2 1526.2 1069.3 1526.3 1070.7 1526.3 1072.3 1525.9 1074.2 1525.1 1076.3 1523.9 1078.6 1521.9 1081.1 1518.6 1083.9 1513.6 1087.4 1507 1090.9 1499.3 1095.5 1490.7 1100.1 1484.8 1105.9 1479.5 1111.7 1475.8 1118.6 1472.4 1125.6 1470.3 1134.9 1469.1 1144.1 1470.3 1153.4 1472 1164.9 1475.1 1176.5 1478.7 1190.4 1483.3 1204.3 1488.1 1220.5 1493.4 1239 1499 1257.5 1504 1278.4 1508.6 1299.2 1512 1320 1514.3 1343.2 1516.1M1065.4 1526.2 1066.3 1526.3 1067.3 1526.4 1068.2 1526.5 1069.3 1526.7 1070.7 1526.7 1072.3 1526.6 1074.2 1526.3 1076.3 1525.7 1078.6 1524.9 1081.1 1523.5 1083.9 1521.4 1087.4 1517.6 1090.9 1513.5 1095.5 1507.4 1100.1 1501.6 1105.9 1496.8 1111.7 1493.2 1118.6 1490.2 1125.6 1487.8 1134.9 1485.7 1144.1 1487.3 1153.4 1490.2 1164.9 1494.8 1176.5 1499.9 1190.4 1506.5 1204.3 1513.5 1220.5 1521.7 1239 1531.1 1257.5 1533.5 1278.4 1533.5 1299.2 1533.5 1320 1533.5 1343.2 1533.5M1065.4 1523.4 1066.3 1523.8 1067.3 1524.3 1068.2 1524.7 1069.3 1524.9 1070.7 1524.4 1072.3 1523.1 1074.2 1520.8 1076.3 1517.2 1078.6 1510.6 1081.1 1500.4 1083.9 1488.3 1087.4 1470.8 1090.9 1456.5 1095.5 1443.2 1100.1 1434.1 1105.9 1425.9 1111.7 1419.9 1118.6 1415.6 1125.6 1414.5 1134.9 1417.7 1144.1 1422.2 1153.4 1428.2 1164.9 1436.7 1176.5 1445.6 1190.4 1456.1 1204.3 1466.2 1220.5 1476.9 1239 1487.1 1257.5 1495.1 1278.4 1500.9 1299.2 1504.7 1320 1508.7 1343.2 1512.6M1065.4 1523.8 1066.3 1524.2 1067.3 1524.6 1068.2 1525 1069.3 1525.2 1070.7 1524.8 1072.3 1523.8 1074.2 1521.9 1076.3 1519 1078.6 1514 1081.1 1505.5 1083.9 1495.2 1087.4 1480.8 1090.9 1466.6 1095.5 1454.2 1100.1 1445.1 1105.9 1437.5 1111.7 1431.6 1118.6 1427.4 1125.6 1425.1 1134.9 1427.2 1144.1 1430.5 1153.4 1435.4 1164.9 1442.5 1176.5 1450.2 1190.4 1459.4 1204.3 1468.3 1220.5 1478 1239 1487.6 1257.5 1495.3 1278.4 1501.5 1299.2 1505.4 1320 1508.6 1343.2 1512.4M1065.4 1525.9 1066.3 1526 1067.3 1526.2 1068.2 1526.4 1069.3 1526.5 1070.7 1526.5 1072.3 1526.3 1074.2 1525.7 1076.3 1524.8 1078.6 1523.5 1081.1 1521.2 1083.9 1517.6 1087.4 1512.3 1090.9 1506.7 1095.5 1498.4 1100.1 1493 1105.9 1487.8 1111.7 1484.4 1118.6 1481.2 1125.6 1479 1134.9 1477.2 1144.1 1479.1 1153.4 1482.2 1164.9 1486.6 1176.5 1491.7 1190.4 1498.2 1204.3 1504.8 1220.5 1512.5 1239 1521.1 1257.5 1529.3 1278.4 1533.5 1299.2 1533.5 1320 1533.5 1343.2 1533.5M1065.4 1523.7 1066.3 1524.1 1067.3 1524.6 1068.2 1524.9 1069.3 1525.1 1070.7 1524.8 1072.3 1523.8 1074.2 1521.9 1076.3 1519 1078.6 1513.9 1081.1 1505.4 1083.9 1495 1087.4 1480.6 1090.9 1466 1095.5 1453.3 1100.1 1444 1105.9 1436.3 1111.7 1430.2 1118.6 1425.9 1125.6 1423.4 1134.9 1425.4 1144.1 1428.7 1153.4 1433.6 1164.9 1440.8 1176.5 1448.5 1190.4 1457.9 1204.3 1466.9 1220.5 1476.7 1239 1486.5 1257.5 1494.4 1278.4 1500.9 1299.2 1504.9 1320 1508 1343.2 1511.9M1065.4 1524.8 1066.3 1525 1067.3 1525.3 1068.2 1525.6 1069.3 1525.8 1070.7 1525.7 1072.3 1525.2 1074.2 1524.1 1076.3 1522.3 1078.6 1519.6 1081.1 1514.9 1083.9 1508.1 1087.4 1498.9 1090.9 1488.3 1095.5 1477.3 1100.1 1469.5 1105.9 1462.8 1111.7 1457.9 1118.6 1453.5 1125.6 1450.9 1134.9 1449.6 1144.1 1451.5 1153.4 1454 1164.9 1458.3 1176.5 1463.3 1190.4 1469.6 1204.3 1476 1220.5 1483.1 1239 1490.7 1257.5 1497.2 1278.4 1503.2 1299.2 1507.5 1320 1510.4 1343.2 1512.7M1065.4 1525 1066.3 1525.2 1067.3 1525.5 1068.2 1525.8 1069.3 1526 1070.7 1525.8 1072.3 1525.2 1074.2 1524.1 1076.3 1522.4 1078.6 1519.6 1081.1 1514.6 1083.9 1508 1087.4 1499 1090.9 1488.5 1095.5 1478.9 1100.1 1471.8 1105.9 1465.9 1111.7 1461.4 1118.6 1457.7 1125.6 1455.3 1134.9 1455.1 1144.1 1457 1153.4 1459.7 1164.9 1464 1176.5 1468.9 1190.4 1475.1 1204.3 1481.2 1220.5 1487.9 1239 1495 1257.5 1500.9 1278.4 1506.3 1299.2 1509.9 1320 1512.3 1343.2 1514.7M1065.4 1525.7 1066.3 1525.9 1067.3 1526 1068.2 1526.2 1069.3 1526.4 1070.7 1526.5 1072.3 1526.3 1074.2 1525.9 1076.3 1525.2 1078.6 1524.1 1081.1 1522.4 1083.9 1519.7 1087.4 1515 1090.9 1509.9 1095.5 1502.2 1100.1 1494.9 1105.9 1488.8 1111.7 1484.2 1118.6 1480.5 1125.6 1477.5 1134.9 1474.9 1144.1 1473.3 1153.4 1473.5 1164.9 1475 1176.5 1477 1190.4 1480.1 1204.3 1483.6 1220.5 1487.8 1239 1492.6 1257.5 1497.2 1278.4 1502 1299.2 1506.2 1320 1509.8 1343.2 1512.9M1065.4 1526.1 1066.3 1526.2 1067.3 1526.3 1068.2 1526.5 1069.3 1526.6 1070.7 1526.7 1072.3 1526.6 1074.2 1526.3 1076.3 1525.8 1078.6 1525 1081.1 1523.8 1083.9 1522 1087.4 1518.4 1090.9 1514.5 1095.5 1508.8 1100.1 1502.3 1105.9 1497 1111.7 1492.9 1118.6 1489.5 1125.6 1486.9 1134.9 1484.4 1144.1 1482.9 1153.4 1482.3 1164.9 1483.3 1176.5 1484.6 1190.4 1486.8 1204.3 1489.4 1220.5 1492.7 1239 1496.6 1257.5 1500.3 1278.4 1504.3 1299.2 1507.9 1320 1511 1343.2 1513.9M1065.4 1524.1 1066.3 1524.4 1067.3 1524.7 1068.2 1524.6 1069.3 1523.1 1070.7 1518.3 1072.3 1507.8 1074.2 1490 1076.3 1466.3 1078.6 1441 1081.1 1418.9 1083.9 1404.8 1087.4 1401.5 1090.9 1406 1095.5 1417.5 1100.1 1428.5 1105.9 1435.9 1111.7 1437.6 1118.6 1435.8 1125.6 1433.6 1134.9 1431.9 1144.1 1434 1153.4 1436.8 1164.9 1441.7 1176.5 1447.6 1190.4 1455.2 1204.3 1462.9 1220.5 1471.5 1239 1480.7 1257.5 1488.8 1278.4 1496.3 1299.2 1502 1320 1505.7 1343.2 1508.6M1065.4 1525 1066.3 1525.2 1067.3 1525.4 1068.2 1525.7 1069.3 1525.9 1070.7 1525.9 1072.3 1525.5 1074.2 1524.7 1076.3 1523.4 1078.6 1521.4 1081.1 1518 1083.9 1512.6 1087.4 1505 1090.9 1496.6 1095.5 1484.8 1100.1 1477 1105.9 1469.6 1111.7 1464.8 1118.6 1460.2 1125.6 1457 1134.9 1454.5 1144.1 1454.9 1153.4 1456.6 1164.9 1459.7 1176.5 1463.6 1190.4 1469 1204.3 1474.5 1220.5 1480.9 1239 1487.8 1257.5 1494.2 1278.4 1500.3 1299.2 1505.3 1320 1508.9 1343.2 1511.6M1065.4 1524.6 1066.3 1524.8 1067.3 1525.1 1068.2 1525.4 1069.3 1525.7 1070.7 1525.6 1072.3 1525.2 1074.2 1524.3 1076.3 1522.7 1078.6 1520.4 1081.1 1516.5 1083.9 1510.2 1087.4 1501.5 1090.9 1491.9 1095.5 1478.5 1100.1 1469.8 1105.9 1461.4 1111.7 1456 1118.6 1450.7 1125.6 1447.3 1134.9 1444.4 1144.1 1445 1153.4 1447.1 1164.9 1450.6 1176.5 1455.2 1190.4 1461.3 1204.3 1467.6 1220.5 1474.9 1239 1482.8 1257.5 1490.1 1278.4 1497 1299.2 1502.6 1320 1506.6 1343.2 1509.5M1065.4 1524.4 1066.3 1524.7 1067.3 1525 1068.2 1525.3 1069.3 1525.6 1070.7 1525.5 1072.3 1525.1 1074.2 1524.2 1076.3 1522.5 1078.6 1520.1 1081.1 1516.2 1083.9 1509.7 1087.4 1500.6 1090.9 1490.7 1095.5 1476.8 1100.1 1467.7 1105.9 1459 1111.7 1453.3 1118.6 1447.9 1125.6 1444.3 1134.9 1441.3 1144.1 1441.9 1153.4 1444 1164.9 1447.6 1176.5 1452.3 1190.4 1458.7 1204.3 1465.2 1220.5 1472.8 1239 1481 1257.5 1488.5 1278.4 1495.7 1299.2 1501.5 1320 1505.7 1343.2 1508.8M1065.4 1522.3 1066.3 1522.9 1067.3 1523.6 1068.2 1524.1 1069.3 1524.1 1070.7 1523.1 1072.3 1521 1074.2 1517.4 1076.3 1511.2 1078.6 1500 1081.1 1485.3 1083.9 1467.9 1087.4 1444.9 1090.9 1430 1095.5 1415.4 1100.1 1405.7 1105.9 1396.5 1111.7 1391.1 1118.6 1388 1125.6 1390.9 1134.9 1396.4 1144.1 1404.3 1153.4 1413.5 1164.9 1425.6 1176.5 1437.6 1190.4 1451.3 1204.3 1463.9 1220.5 1476.3 1239 1487.4 1257.5 1494.5 1278.4 1499.6 1299.2 1505.1 1320 1509.8 1343.2 1513.8M1065.4 1523.8 1066.3 1524.2 1067.3 1524.7 1068.2 1525 1069.3 1525.1 1070.7 1524.6 1072.3 1523.4 1074.2 1521.1 1076.3 1517.5 1078.6 1510.9 1081.1 1501.1 1083.9 1489.6 1087.4 1472.9 1090.9 1460.7 1095.5 1448.9 1100.1 1441.1 1105.9 1433.8 1111.7 1428.8 1118.6 1425.1 1125.6 1425.1 1134.9 1428.3 1144.1 1433 1153.4 1438.8 1164.9 1446.9 1176.5 1455.3 1190.4 1465 1204.3 1474.2 1220.5 1483.9 1239 1493 1257.5 1499.7 1278.4 1504.5 1299.2 1507.8 1320 1511.6 1343.2 1515.1M1065.4 1524.5 1066.3 1524.7 1067.3 1525 1068.2 1525.3 1069.3 1525.6 1070.7 1525.6 1072.3 1525.2 1074.2 1524.4 1076.3 1523 1078.6 1520.9 1081.1 1517.4 1083.9 1511.7 1087.4 1503.2 1090.9 1494.1 1095.5 1480.3 1100.1 1471 1105.9 1462.1 1111.7 1456.2 1118.6 1450.7 1125.6 1446.7 1134.9 1443.5 1144.1 1442.8 1153.4 1444.7 1164.9 1447.8 1176.5 1452 1190.4 1457.8 1204.3 1463.9 1220.5 1471.2 1239 1479.1 1257.5 1486.5 1278.4 1493.7 1299.2 1499.8 1320 1504.5 1343.2 1507.9M1065.4 1524.7 1066.3 1524.9 1067.3 1525.2 1068.2 1525.4 1069.3 1525.7 1070.7 1525.8 1072.3 1525.5 1074.2 1524.7 1076.3 1523.5 1078.6 1521.6 1081.1 1518.7 1083.9 1513.7 1087.4 1506.1 1090.9 1497.9 1095.5 1485.2 1100.1 1475.9 1105.9 1467.3 1111.7 1461.4 1118.6 1456.1 1125.6 1452.1 1134.9 1448.8 1144.1 1449.2 1153.4 1452.6 1164.9 1457.3 1176.5 1463.2 1190.4 1471.1 1204.3 1479.4 1220.5 1489.2 1239 1500.1 1257.5 1510.6 1278.4 1521.6 1299.2 1531.5 1320 1533.5 1343.2 1533.5M1065.4 1523.2 1066.3 1523.7 1067.3 1524.3 1068.2 1524.7 1069.3 1524.8 1070.7 1524.1 1072.3 1522.7 1074.2 1520 1076.3 1515.8 1078.6 1508 1081.1 1496.7 1083.9 1483.5 1087.4 1464.2 1090.9 1450.9 1095.5 1437.7 1100.1 1429.1 1105.9 1420.9 1111.7 1415.4 1118.6 1411.5 1125.6 1412 1134.9 1415.8 1144.1 1421.3 1153.4 1428.1 1164.9 1437.5 1176.5 1447.1 1190.4 1458.2 1204.3 1468.6 1220.5 1479.4 1239 1489.5 1257.5 1496.9 1278.4 1502 1299.2 1505.9 1320 1510.1 1343.2 1513.9M1065.4 1525.5 1066.3 1525.7 1067.3 1525.9 1068.2 1526.1 1069.3 1526.3 1070.7 1526.3 1072.3 1526.1 1074.2 1525.5 1076.3 1524.5 1078.6 1523.1 1081.1 1520.7 1083.9 1516.8 1087.4 1511 1090.9 1504.7 1095.5 1495.2 1100.1 1488.8 1105.9 1482.6 1111.7 1478.6 1118.6 1474.8 1125.6 1472 1134.9 1469.8 1144.1 1471.7 1153.4 1475.3 1164.9 1480.4 1176.5 1486.2 1190.4 1493.7 1204.3 1501.5 1220.5 1510.6 1239 1520.8 1257.5 1530.6 1278.4 1533.5 1299.2 1533.5 1320 1533.5 1343.2 1533.5M1065.4 1524 1066.3 1524.3 1067.3 1524.7 1068.2 1525 1069.3 1525.3 1070.7 1525.2 1072.3 1524.7 1074.2 1523.5 1076.3 1521.5 1078.6 1518.5 1081.1 1513.4 1083.9 1505.5 1087.4 1494.9 1090.9 1482.8 1095.5 1468.1 1100.1 1458.3 1105.9 1449.3 1111.7 1443.2 1118.6 1437.3 1125.6 1433.8 1134.9 1431.2 1144.1 1434.9 1153.4 1439.5 1164.9 1446.8 1176.5 1455 1190.4 1465.5 1204.3 1476.2 1220.5 1488.4 1239 1501.7 1257.5 1514 1278.4 1526.3 1299.2 1533.5 1320 1533.5 1343.2 1533.5M1065.4 1523.6 1066.3 1524 1067.3 1524.4 1068.2 1524.8 1069.3 1525.1 1070.7 1524.8 1072.3 1523.9 1074.2 1522.2 1076.3 1519.5 1078.6 1515 1081.1 1507.2 1083.9 1497.2 1087.4 1483.6 1090.9 1468.1 1095.5 1454.7 1100.1 1444.6 1105.9 1436.3 1111.7 1429.9 1118.6 1424.8 1125.6 1421.7 1134.9 1422.3 1144.1 1425.3 1153.4 1429.6 1164.9 1436.4 1176.5 1443.8 1190.4 1453.1 1204.3 1462.1 1220.5 1472 1239 1482.2 1257.5 1490.7 1278.4 1498 1299.2 1502.8 1320 1506 1343.2 1509.8M1065.4 1523.8 1066.3 1524.1 1067.3 1524.6 1068.2 1525 1069.3 1525.2 1070.7 1524.8 1072.3 1523.9 1074.2 1522 1076.3 1519.2 1078.6 1514.3 1081.1 1506 1083.9 1495.9 1087.4 1481.8 1090.9 1467.3 1095.5 1454.7 1100.1 1445.4 1105.9 1437.8 1111.7 1431.7 1118.6 1427.3 1125.6 1424.8 1134.9 1426.6 1144.1 1431.5 1153.4 1437.8 1164.9 1446.9 1176.5 1456.5 1190.4 1468.3 1204.3 1479.6 1220.5 1492.2 1239 1505.2 1257.5 1516.5 1278.4 1526.7 1299.2 1533.5 1320 1533.5 1343.2 1533.5M1065.4 1525.1 1066.3 1525.3 1067.3 1525.6 1068.2 1525.8 1069.3 1526 1070.7 1526.1 1072.3 1525.8 1074.2 1525.2 1076.3 1524.1 1078.6 1522.6 1081.1 1520.1 1083.9 1515.9 1087.4 1509.3 1090.9 1502.3 1095.5 1491.5 1100.1 1483.5 1105.9 1476.1 1111.7 1471.1 1118.6 1466.5 1125.6 1463 1134.9 1460.2 1144.1 1459 1153.4 1460.3 1164.9 1462.4 1176.5 1465.5 1190.4 1469.9 1204.3 1474.7 1220.5 1480.4 1239 1486.7 1257.5 1492.6 1278.4 1498.6 1299.2 1503.6 1320 1507.7 1343.2 1510.9M1065.4 1523 1066.3 1523.5 1067.3 1523.9 1068.2 1524 1069.3 1522.5 1070.7 1517.3 1072.3 1506.1 1074.2 1487.2 1076.3 1461.9 1078.6 1433.2 1081.1 1406.1 1083.9 1387.5 1087.4 1377.1 1090.9 1378 1095.5 1389 1100.1 1399.4 1105.9 1406.4 1111.7 1407.5 1118.6 1406.4 1125.6 1405.5 1134.9 1408.9 1144.1 1413.4 1153.4 1419.5 1164.9 1428.3 1176.5 1437.6 1190.4 1448.7 1204.3 1459.4 1220.5 1470.9 1239 1482 1257.5 1491 1278.4 1497.8 1299.2 1502.1 1320 1506.1 1343.2 1510.5M1065.4 1523 1066.3 1523.5 1067.3 1524.1 1068.2 1524.5 1069.3 1524.6 1070.7 1524 1072.3 1522.5 1074.2 1519.8 1076.3 1515.5 1078.6 1507.5 1081.1 1495.9 1083.9 1482.2 1087.4 1462.3 1090.9 1448.2 1095.5 1434.3 1100.1 1425.2 1105.9 1416.6 1111.7 1410.8 1118.6 1406.6 1125.6 1406.8 1134.9 1410.7 1144.1 1416.3 1153.4 1423.3 1164.9 1432.9 1176.5 1442.9 1190.4 1454.4 1204.3 1465.3 1220.5 1476.6 1239 1487.2 1257.5 1495.1 1278.4 1500.6 1299.2 1504.5 1320 1509 1343.2 1513M1065.4 1523.4 1066.3 1523.9 1067.3 1524.4 1068.2 1524.9 1069.3 1524.9 1070.7 1524.2 1072.3 1522.7 1074.2 1520 1076.3 1515.6 1078.6 1507.5 1081.1 1496.3 1083.9 1483.1 1087.4 1464.6 1090.9 1452.3 1095.5 1440 1100.1 1432.1 1105.9 1424.4 1111.7 1419.7 1118.6 1416.4 1125.6 1417.8 1134.9 1421.7 1144.1 1427.4 1153.4 1434.3 1164.9 1443.6 1176.5 1452.9 1190.4 1463.7 1204.3 1473.7 1220.5 1483.9 1239 1493.2 1257.5 1499.7 1278.4 1504.2 1299.2 1508.1 1320 1512.1 1343.2 1515.5M1065.4 1522.5 1066.3 1523.1 1067.3 1523.8 1068.2 1524.3 1069.3 1524.1 1070.7 1523 1072.3 1520.5 1074.2 1516.4 1076.3 1509 1078.6 1496.3 1081.1 1480.9 1083.9 1461.4 1087.4 1441.4 1090.9 1427.6 1095.5 1415.1 1100.1 1406.1 1105.9 1398.3 1111.7 1393.8 1118.6 1393.8 1125.6 1397.4 1134.9 1404.3 1144.1 1416.2 1153.4 1429 1164.9 1445.3 1176.5 1461.2 1190.4 1479.3 1204.3 1495.7 1220.5 1512.4 1239 1527.6 1257.5 1533.5 1278.4 1533.5 1299.2 1533.5 1320 1533.5 1343.2 1533.5M1065.4 1525.9 1066.3 1526 1067.3 1526.2 1068.2 1526.4 1069.3 1526.5 1070.7 1526.6 1072.3 1526.3 1074.2 1525.9 1076.3 1525 1078.6 1523.8 1081.1 1521.8 1083.9 1518.4 1087.4 1513.4 1090.9 1508.1 1095.5 1500 1100.1 1494.6 1105.9 1489.4 1111.7 1485.9 1118.6 1482.7 1125.6 1480.4 1134.9 1478.5 1144.1 1478.2 1153.4 1479.3 1164.9 1481.1 1176.5 1483.5 1190.4 1487 1204.3 1490.6 1220.5 1494.8 1239 1499.4 1257.5 1503.7 1278.4 1508 1299.2 1511.5 1320 1514.2 1343.2 1516.3M1065.4 1523.7 1066.3 1524.1 1067.3 1524.5 1068.2 1524.9 1069.3 1525.1 1070.7 1524.7 1072.3 1523.7 1074.2 1521.8 1076.3 1518.8 1078.6 1513.7 1081.1 1505.1 1083.9 1494.6 1087.4 1479.9 1090.9 1465.1 1095.5 1452.4 1100.1 1443 1105.9 1435.1 1111.7 1429 1118.6 1424.6 1125.6 1422.1 1134.9 1424.2 1144.1 1429.9 1153.4 1437.2 1164.9 1447.3 1176.5 1458.1 1190.4 1471 1204.3 1483.6 1220.5 1497.6 1239 1512.1 1257.5 1524.8 1278.4 1533.5 1299.2 1533.5 1320 1533.5 1343.2 1533.5M1065.4 1523.6 1066.3 1524 1067.3 1524.5 1068.2 1524.9 1069.3 1525 1070.7 1524.5 1072.3 1523.1 1074.2 1520.7 1076.3 1516.9 1078.6 1509.9 1081.1 1499.6 1083.9 1487.6 1087.4 1470 1090.9 1457.6 1095.5 1445.4 1100.1 1437.4 1105.9 1429.9 1111.7 1424.8 1118.6 1421.1 1125.6 1421.4 1134.9 1424.8 1144.1 1432.5 1153.4 1441.5 1164.9 1453.5 1176.5 1465.7 1190.4 1480.1 1204.3 1493.8 1220.5 1508.6 1239 1523.6 1257.5 1533.5 1278.4 1533.5 1299.2 1533.5 1320 1533.5 1343.2 1533.5M1065.4 1525.9 1066.3 1526.1 1067.3 1526.3 1068.2 1526.4 1069.3 1526.6 1070.7 1526.6 1072.3 1526.4 1074.2 1525.9 1076.3 1525.1 1078.6 1523.8 1081.1 1521.9 1083.9 1518.6 1087.4 1513.7 1090.9 1508.5 1095.5 1500.6 1100.1 1495.3 1105.9 1490.2 1111.7 1486.8 1118.6 1483.7 1125.6 1481.4 1134.9 1479.6 1144.1 1480.5 1153.4 1482.9 1164.9 1486.3 1176.5 1490.3 1190.4 1495.6 1204.3 1501.1 1220.5 1507.5 1239 1514.6 1257.5 1521.4 1278.4 1528.5 1299.2 1533.5 1320 1533.5 1343.2 1533.5M1065.4 1523.5 1066.3 1523.9 1067.3 1524.3 1068.2 1524.6 1069.3 1524.3 1070.7 1521.9 1072.3 1514.5 1074.2 1498.2 1076.3 1469.4 1078.6 1427.7 1081.1 1377.3 1083.9 1329.4 1087.4 1292.5 1090.9 1280.8 1095.5 1300.4 1100.1 1334.6 1105.9 1374 1111.7 1398.4 1118.6 1411.8 1125.6 1416.1 1134.9 1418.7 1144.1 1422.3 1153.4 1426.3 1164.9 1432.8 1176.5 1440.1 1190.4 1449.2 1204.3 1458.2 1220.5 1468.2 1239 1478.7 1257.5 1487.6 1278.4 1495.6 1299.2 1501 1320 1504.6 1343.2 1508.1M1065.4 1522.9 1066.3 1523.5 1067.3 1524.1 1068.2 1524.5 1069.3 1524.5 1070.7 1523.8 1072.3 1522 1074.2 1518.9 1076.3 1513.9 1078.6 1504.5 1081.1 1491.9 1083.9 1477 1087.4 1456.4 1090.9 1443 1095.5 1429.6 1100.1 1420.9 1105.9 1412.5 1111.7 1407.4 1118.6 1404.1 1125.6 1406.1 1134.9 1410.6 1144.1 1417.2 1153.4 1425 1164.9 1435.4 1176.5 1445.9 1190.4 1457.9 1204.3 1469.1 1220.5 1480.3 1239 1490.4 1257.5 1497.3 1278.4 1502.1 1299.2 1506.6 1320 1510.9 1343.2 1514.7M1065.4 1523 1066.3 1523.5 1067.3 1524.1 1068.2 1524.5 1069.3 1524.6 1070.7 1523.9 1072.3 1522.3 1074.2 1519.5 1076.3 1514.9 1078.6 1506.4 1081.1 1494.4 1083.9 1480.3 1087.4 1460 1090.9 1446.3 1095.5 1432.5 1100.1 1423.6 1105.9 1415 1111.7 1409.5 1118.6 1405.6 1125.6 1406.5 1134.9 1410.5 1144.1 1419.5 1153.4 1429.8 1164.9 1443.4 1176.5 1457.3 1190.4 1473.4 1204.3 1488.9 1220.5 1505.4 1239 1521.8 1257.5 1533.5 1278.4 1533.5 1299.2 1533.5 1320 1533.5 1343.2 1533.5M1065.4 1523.9 1066.3 1524.2 1067.3 1524.7 1068.2 1525 1069.3 1525.2 1070.7 1524.9 1072.3 1524 1074.2 1522.3 1076.3 1519.6 1078.6 1515.1 1081.1 1507.3 1083.9 1497.6 1087.4 1484.3 1090.9 1469.8 1095.5 1457.4 1100.1 1448.1 1105.9 1440.5 1111.7 1434.5 1118.6 1430 1125.6 1427.2 1134.9 1428.5 1144.1 1431.5 1153.4 1435.9 1164.9 1442.5 1176.5 1449.7 1190.4 1458.7 1204.3 1467.2 1220.5 1476.7 1239 1486.2 1257.5 1494.1 1278.4 1500.7 1299.2 1504.9 1320 1507.9 1343.2 1511.6M1065.4 1522.8 1066.3 1523.2 1067.3 1523.8 1068.2 1524.3 1069.3 1524.5 1070.7 1524.1 1072.3 1522.8 1074.2 1520.4 1076.3 1516.8 1078.6 1510.4 1081.1 1499.7 1083.9 1486.9 1087.4 1468.8 1090.9 1451.1 1095.5 1435.7 1100.1 1424.5 1105.9 1415 1111.7 1407.7 1118.6 1402.4 1125.6 1399.6 1134.9 1402.3 1144.1 1406.6 1153.4 1412.7 1164.9 1421.6 1176.5 1431.2 1190.4 1442.8 1204.3 1453.9 1220.5 1465.9 1239 1477.9 1257.5 1487.5 1278.4 1495.2 1299.2 1500 1320 1503.9 1343.2 1508.7M1065.4 1523.7 1066.3 1524.2 1067.3 1524.6 1068.2 1525 1069.3 1525.1 1070.7 1524.7 1072.3 1523.5 1074.2 1521.3 1076.3 1517.8 1078.6 1511.6 1081.1 1502 1083.9 1490.8 1087.4 1474.4 1090.9 1461.7 1095.5 1449.7 1100.1 1441.6 1105.9 1434.2 1111.7 1428.9 1118.6 1425.1 1125.6 1424.5 1134.9 1427.5 1144.1 1434.9 1153.4 1443.5 1164.9 1455.2 1176.5 1467.2 1190.4 1481.4 1204.3 1495 1220.5 1510 1239 1525.2 1257.5 1533.5 1278.4 1533.5 1299.2 1533.5 1320 1533.5 1343.2 1533.5M1065.4 1525.7 1066.3 1525.8 1067.3 1526 1068.2 1526.1 1069.3 1526.3 1070.7 1526.4 1072.3 1526.3 1074.2 1526 1076.3 1525.4 1078.6 1524.4 1081.1 1523 1083.9 1520.8 1087.4 1516.6 1090.9 1511.8 1095.5 1505 1100.1 1497 1105.9 1490.4 1111.7 1485.2 1118.6 1481 1125.6 1477.8 1134.9 1474.6 1144.1 1472.7 1153.4 1471.8 1164.9 1472.8 1176.5 1474.4 1190.4 1477 1204.3 1480.2 1220.5 1484.2 1239 1488.9 1257.5 1493.4 1278.4 1498.3 1299.2 1502.8 1320 1506.6 1343.2 1510.2M1065.4 1523.7 1066.3 1524.1 1067.3 1524.6 1068.2 1524.9 1069.3 1525.2 1070.7 1524.9 1072.3 1523.9 1074.2 1522.2 1076.3 1519.5 1078.6 1514.9 1081.1 1507 1083.9 1497 1087.4 1483.5 1090.9 1468.5 1095.5 1455.6 1100.1 1445.9 1105.9 1438.1 1111.7 1431.9 1118.6 1427.2 1125.6 1424.2 1134.9 1425.4 1144.1 1428.5 1153.4 1432.9 1164.9 1439.6 1176.5 1447 1190.4 1456.2 1204.3 1465 1220.5 1474.7 1239 1484.5 1257.5 1492.7 1278.4 1499.6 1299.2 1504 1320 1507.1 1343.2 1510.9M1065.4 1524.1 1066.3 1524.4 1067.3 1524.8 1068.2 1525.2 1069.3 1525.4 1070.7 1525.2 1072.3 1524.4 1074.2 1522.9 1076.3 1520.5 1078.6 1516.6 1081.1 1509.8 1083.9 1500.9 1087.4 1489 1090.9 1475.2 1095.5 1463.3 1100.1 1454.3 1105.9 1446.9 1111.7 1441.2 1118.6 1436.6 1125.6 1433.8 1134.9 1434.2 1144.1 1436.8 1153.4 1440.6 1164.9 1446.5 1176.5 1453 1190.4 1461.2 1204.3 1469.2 1220.5 1477.9 1239 1487 1257.5 1494.6 1278.4 1501.2 1299.2 1505.5 1320 1508.4 1343.2 1511.7M1065.4 1523 1066.3 1523.5 1067.3 1524.1 1068.2 1524.6 1069.3 1524.6 1070.7 1523.8 1072.3 1521.9 1074.2 1518.8 1076.3 1513.6 1078.6 1503.9 1081.1 1491.2 1083.9 1476.1 1087.4 1455.8 1090.9 1442.6 1095.5 1429.6 1100.1 1421 1105.9 1412.8 1111.7 1408 1118.6 1405 1125.6 1407.3 1134.9 1411.9 1144.1 1421.2 1153.4 1431.5 1164.9 1445 1176.5 1458.5 1190.4 1474.1 1204.3 1488.7 1220.5 1503.9 1239 1518.6 1257.5 1529.9 1278.4 1533.5 1299.2 1533.5 1320 1533.5 1343.2 1533.5M1065.4 1523.3 1066.3 1523.8 1067.3 1524.4 1068.2 1524.8 1069.3 1524.8 1070.7 1524.1 1072.3 1522.4 1074.2 1519.6 1076.3 1514.9 1078.6 1506.2 1081.1 1494.5 1083.9 1480.7 1087.4 1461.7 1090.9 1449.3 1095.5 1436.9 1100.1 1428.9 1105.9 1421.1 1111.7 1416.5 1118.6 1413.3 1125.6 1415.2 1134.9 1419.4 1144.1 1425.5 1153.4 1432.7 1164.9 1442.4 1176.5 1452.1 1190.4 1463.2 1204.3 1473.5 1220.5 1483.9 1239 1493.3 1257.5 1499.6 1278.4 1504 1299.2 1508.3 1320 1512.2 1343.2 1515.7M1065.4 1524.2 1066.3 1524.5 1067.3 1524.8 1068.2 1525.2 1069.3 1525.4 1070.7 1525.3 1072.3 1524.6 1074.2 1523.3 1076.3 1521.3 1078.6 1518 1081.1 1512.3 1083.9 1504.1 1087.4 1493.2 1090.9 1480.5 1095.5 1467.5 1100.1 1458.2 1105.9 1450.3 1111.7 1444.5 1118.6 1439.3 1125.6 1436.2 1134.9 1434.8 1144.1 1439.2 1153.4 1444.3 1164.9 1452.1 1176.5 1460.7 1190.4 1471.4 1204.3 1482.2 1220.5 1494.4 1239 1507.6 1257.5 1519.5 1278.4 1531.4 1299.2 1533.5 1320 1533.5 1343.2 1533.5M1065.4 1523.1 1066.3 1523.5 1067.3 1524 1068.2 1524.5 1069.3 1524.7 1070.7 1524.4 1072.3 1523.4 1074.2 1521.4 1076.3 1518.2 1078.6 1513 1081.1 1503.9 1083.9 1492.5 1087.4 1476.9 1090.9 1459.7 1095.5 1444.8 1100.1 1433.7 1105.9 1424.6 1111.7 1417.4 1118.6 1412 1125.6 1408.6 1134.9 1409.9 1144.1 1415.1 1153.4 1421.9 1164.9 1431.8 1176.5 1442.5 1190.4 1455.6 1204.3 1468.3 1220.5 1482.5 1239 1497.3 1257.5 1510.2 1278.4 1522.1 1299.2 1531.1 1320 1533.5 1343.2 1533.5M1065.4 1524.4 1066.3 1524.6 1067.3 1525 1068.2 1525.3 1069.3 1525.5 1070.7 1525.5 1072.3 1525 1074.2 1524.1 1076.3 1522.4 1078.6 1520 1081.1 1515.8 1083.9 1509.2 1087.4 1499.9 1090.9 1489.8 1095.5 1475.7 1100.1 1466.4 1105.9 1457.7 1111.7 1451.9 1118.6 1446.4 1125.6 1442.8 1134.9 1439.9 1144.1 1440.5 1153.4 1442.7 1164.9 1446.5 1176.5 1451.3 1190.4 1457.8 1204.3 1464.5 1220.5 1472.2 1239 1480.5 1257.5 1488.1 1278.4 1495.4 1299.2 1501.3 1320 1505.5 1343.2 1508.6M1065.4 1526.1 1066.3 1526.2 1067.3 1526.3 1068.2 1526.5 1069.3 1526.6 1070.7 1526.7 1072.3 1526.6 1074.2 1526.2 1076.3 1525.6 1078.6 1524.7 1081.1 1523.3 1083.9 1521 1087.4 1517 1090.9 1512.7 1095.5 1506.2 1100.1 1500.2 1105.9 1495.2 1111.7 1491.4 1118.6 1488.4 1125.6 1485.9 1134.9 1483.8 1144.1 1482.5 1153.4 1482.8 1164.9 1484 1176.5 1485.7 1190.4 1488.3 1204.3 1491.2 1220.5 1494.8 1239 1498.8 1257.5 1502.7 1278.4 1506.7 1299.2 1510.1 1320 1513.1 1343.2 1515.6M1065.4 1523.2 1066.3 1523.7 1067.3 1524.1 1068.2 1524.6 1069.3 1524.8 1070.7 1524.5 1072.3 1523.5 1074.2 1521.6 1076.3 1518.5 1078.6 1513.5 1081.1 1504.8 1083.9 1493.7 1087.4 1478.6 1090.9 1461.8 1095.5 1447.3 1100.1 1436.4 1105.9 1427.6 1111.7 1420.6 1118.6 1415.2 1125.6 1411.9 1134.9 1413 1144.1 1416.4 1153.4 1421.3 1164.9 1428.8 1176.5 1437 1190.4 1447.2 1204.3 1457 1220.5 1467.9 1239 1478.9 1257.5 1488.1 1278.4 1495.9 1299.2 1501 1320 1504.4 1343.2 1508.6M1065.4 1523.2 1066.3 1523.6 1067.3 1524.1 1068.2 1524.6 1069.3 1524.8 1070.7 1524.2 1072.3 1522.9 1074.2 1520.5 1076.3 1516.8 1078.6 1510 1081.1 1499.4 1083.9 1486.9 1087.4 1468.7 1090.9 1453.6 1095.5 1439.7 1100.1 1430.1 1105.9 1421.5 1111.7 1415.2 1118.6 1410.7 1125.6 1409.3 1134.9 1412.6 1144.1 1420.6 1153.4 1430.1 1164.9 1443.2 1176.5 1456.6 1190.4 1472.6 1204.3 1488.1 1220.5 1505.1 1239 1522.5 1257.5 1533.5 1278.4 1533.5 1299.2 1533.5 1320 1533.5 1343.2 1533.5M1065.4 1523.2 1066.3 1523.7 1067.3 1524.2 1068.2 1524.6 1069.3 1524.8 1070.7 1524.3 1072.3 1523.1 1074.2 1520.7 1076.3 1517.1 1078.6 1510.6 1081.1 1500.3 1083.9 1488.1 1087.4 1470.4 1090.9 1455.4 1095.5 1441.7 1100.1 1432.1 1105.9 1423.7 1111.7 1417.4 1118.6 1413 1125.6 1411.4 1134.9 1414.5 1144.1 1419 1153.4 1425 1164.9 1433.6 1176.5 1442.6 1190.4 1453.4 1204.3 1463.6 1220.5 1474.6 1239 1485.2 1257.5 1493.5 1278.4 1499.8 1299.2 1503.7 1320 1507.7 1343.2 1511.8M1065.4 1525.9 1066.3 1526 1067.3 1526.2 1068.2 1526.3 1069.3 1526.5 1070.7 1526.6 1072.3 1526.4 1074.2 1526.1 1076.3 1525.4 1078.6 1524.4 1081.1 1522.9 1083.9 1520.4 1087.4 1516.1 1090.9 1511.4 1095.5 1504.4 1100.1 1497.5 1105.9 1491.8 1111.7 1487.4 1118.6 1484 1125.6 1481.1 1134.9 1478.6 1144.1 1477.1 1153.4 1477.2 1164.9 1478.5 1176.5 1480.3 1190.4 1483.1 1204.3 1486.3 1220.5 1490.2 1239 1494.7 1257.5 1499 1278.4 1503.4 1299.2 1507.4 1320 1510.7 1343.2 1513.6M1065.4 1524.6 1066.3 1524.9 1067.3 1525.2 1068.2 1525.5 1069.3 1525.7 1070.7 1525.5 1072.3 1524.9 1074.2 1523.7 1076.3 1521.8 1078.6 1518.7 1081.1 1513.2 1083.9 1505.8 1087.4 1495.8 1090.9 1484 1095.5 1473.1 1100.1 1465 1105.9 1458.3 1111.7 1453.2 1118.6 1448.9 1125.6 1446.2 1134.9 1445.7 1144.1 1447.9 1153.4 1450.8 1164.9 1455.6 1176.5 1461.1 1190.4 1468 1204.3 1474.8 1220.5 1482.4 1239 1490.3 1257.5 1497.1 1278.4 1503.2 1299.2 1507.4 1320 1510.1 1343.2 1512.7M1065.4 1525.5 1066.3 1525.7 1067.3 1525.8 1068.2 1525.6 1069.3 1524.1 1070.7 1519.3 1072.3 1509.1 1074.2 1491.8 1076.3 1469 1078.6 1444.9 1081.1 1425.2 1083.9 1414.3 1087.4 1415.4 1090.9 1425.1 1095.5 1441.6 1100.1 1456.1 1105.9 1466.6 1111.7 1470.6 1118.6 1470.7 1125.6 1469.7 1134.9 1468.5 1144.1 1469.6 1153.4 1471.2 1164.9 1474.1 1176.5 1477.5 1190.4 1482.1 1204.3 1486.8 1220.5 1492 1239 1497.7 1257.5 1502.7 1278.4 1507.5 1299.2 1511.2 1320 1513.7 1343.2 1515.6M1065.4 1522.7 1066.3 1523.3 1067.3 1524 1068.2 1524.4 1069.3 1524.4 1070.7 1523.5 1072.3 1521.5 1074.2 1518.2 1076.3 1512.5 1078.6 1502 1081.1 1488.5 1083.9 1472.3 1087.4 1451.2 1090.9 1437.5 1095.5 1424.1 1100.1 1415.3 1105.9 1406.8 1111.7 1401.8 1118.6 1399.1 1125.6 1401.8 1134.9 1406.9 1144.1 1414.3 1153.4 1422.8 1164.9 1433.9 1176.5 1445 1190.4 1457.6 1204.3 1469.2 1220.5 1480.7 1239 1490.8 1257.5 1497.3 1278.4 1502 1299.2 1507 1320 1511.3 1343.2 1515.1M1065.4 1523.3 1066.3 1523.7 1067.3 1524.3 1068.2 1524.7 1069.3 1524.8 1070.7 1524.1 1072.3 1522.6 1074.2 1519.9 1076.3 1515.6 1078.6 1507.6 1081.1 1496.3 1083.9 1482.9 1087.4 1463.7 1090.9 1450.7 1095.5 1437.6 1100.1 1429.2 1105.9 1421.1 1111.7 1415.9 1118.6 1412.2 1125.6 1413 1134.9 1416.9 1144.1 1422.5 1153.4 1429.4 1164.9 1438.8 1176.5 1448.5 1190.4 1459.5 1204.3 1469.9 1220.5 1480.6 1239 1490.5 1257.5 1497.6 1278.4 1502.6 1299.2 1506.5 1320 1510.7 1343.2 1514.4M1065.4 1522.4 1066.3 1523 1067.3 1523.7 1068.2 1524.2 1069.3 1524.1 1070.7 1523.2 1072.3 1521 1074.2 1517.3 1076.3 1511.1 1078.6 1499.6 1081.1 1485 1083.9 1467.4 1087.4 1445 1090.9 1430.5 1095.5 1416.4 1100.1 1406.9 1105.9 1398 1111.7 1392.8 1118.6 1390.2 1125.6 1393.2 1134.9 1398.9 1144.1 1406.9 1153.4 1416.1 1164.9 1428.2 1176.5 1440 1190.4 1453.6 1204.3 1466 1220.5 1478.1 1239 1488.8 1257.5 1495.6 1278.4 1500.5 1299.2 1506 1320 1510.5 1343.2 1514.5M1065.4 1525 1066.3 1525.2 1067.3 1525.5 1068.2 1525.8 1069.3 1526 1070.7 1525.9 1072.3 1525.6 1074.2 1524.7 1076.3 1523.4 1078.6 1521.3 1081.1 1517.8 1083.9 1512.3 1087.4 1504.6 1090.9 1496.2 1095.5 1484.8 1100.1 1477.4 1105.9 1470.4 1111.7 1465.7 1118.6 1461.3 1125.6 1458.4 1134.9 1456.1 1144.1 1456.9 1153.4 1458.7 1164.9 1461.8 1176.5 1465.9 1190.4 1471.2 1204.3 1476.7 1220.5 1483 1239 1489.8 1257.5 1496 1278.4 1501.9 1299.2 1506.7 1320 1510 1343.2 1512.4M1065.4 1523.7 1066.3 1524.1 1067.3 1524.5 1068.2 1524.9 1069.3 1525.1 1070.7 1524.7 1072.3 1523.6 1074.2 1521.5 1076.3 1518.3 1078.6 1512.7 1081.1 1503.5 1083.9 1492.5 1087.4 1476.9 1090.9 1462.8 1095.5 1450.2 1100.1 1441.3 1105.9 1433.6 1111.7 1427.7 1118.6 1423.5 1125.6 1421.7 1134.9 1424.4 1144.1 1428.2 1153.4 1433.5 1164.9 1441.2 1176.5 1449.3 1190.4 1459 1204.3 1468.3 1220.5 1478.3 1239 1488 1257.5 1495.8 1278.4 1501.7 1299.2 1505.5 1320 1508.9 1343.2 1512.8M1065.4 1524.6 1066.3 1524.9 1067.3 1525.2 1068.2 1525.5 1069.3 1525.7 1070.7 1525.5 1072.3 1524.9 1074.2 1523.6 1076.3 1521.6 1078.6 1518.4 1081.1 1512.6 1083.9 1505.1 1087.4 1494.9 1090.9 1483 1095.5 1472.4 1100.1 1464.5 1105.9 1458 1111.7 1452.9 1118.6 1448.8 1125.6 1446.3 1134.9 1446.2 1144.1 1448.5 1153.4 1451.6 1164.9 1456.6 1176.5 1462.2 1190.4 1469.2 1204.3 1476 1220.5 1483.6 1239 1491.5 1257.5 1498.2 1278.4 1504.1 1299.2 1508 1320 1510.6 1343.2 1513.4M1065.4 1524.9 1066.3 1525.1 1067.3 1525.3 1068.2 1525.6 1069.3 1525.8 1070.7 1525.9 1072.3 1525.6 1074.2 1524.9 1076.3 1523.7 1078.6 1521.9 1081.1 1519.2 1083.9 1514.5 1087.4 1507.2 1090.9 1499.4 1095.5 1487.4 1100.1 1478.7 1105.9 1470.5 1111.7 1465 1118.6 1460 1125.6 1456.2 1134.9 1453.1 1144.1 1453.5 1153.4 1456.6 1164.9 1461 1176.5 1466.6 1190.4 1473.9 1204.3 1481.7 1220.5 1490.9 1239 1501.1 1257.5 1510.9 1278.4 1521.1 1299.2 1530.4 1320 1533.5 1343.2 1533.5M1065.4 1525.9 1066.3 1526 1067.3 1526.2 1068.2 1526.4 1069.3 1526.5 1070.7 1526.6 1072.3 1526.4 1074.2 1526.1 1076.3 1525.4 1078.6 1524.4 1081.1 1522.9 1083.9 1520.4 1087.4 1516.1 1090.9 1511.4 1095.5 1504.4 1100.1 1497.8 1105.9 1492.3 1111.7 1488.1 1118.6 1484.7 1125.6 1482 1134.9 1479.6 1144.1 1478.2 1153.4 1478.4 1164.9 1479.7 1176.5 1481.5 1190.4 1484.4 1204.3 1487.6 1220.5 1491.4 1239 1495.8 1257.5 1500 1278.4 1504.4 1299.2 1508.2 1320 1511.5 1343.2 1514.2M1065.4 1523.1 1066.3 1523.6 1067.3 1524.1 1068.2 1524.6 1069.3 1524.7 1070.7 1524 1072.3 1522.4 1074.2 1519.6 1076.3 1515.1 1078.6 1506.8 1081.1 1495 1083.9 1481.2 1087.4 1461.2 1090.9 1447.6 1095.5 1434 1100.1 1425.2 1105.9 1416.7 1111.7 1411.3 1118.6 1407.3 1125.6 1408.2 1134.9 1412.2 1144.1 1418.1 1153.4 1425.2 1164.9 1435 1176.5 1445 1190.4 1456.5 1204.3 1467.4 1220.5 1478.5 1239 1488.9 1257.5 1496.3 1278.4 1501.5 1299.2 1505.5 1320 1509.9 1343.2 1513.8M1065.4 1525.8 1066.3 1525.9 1067.3 1526.1 1068.2 1526.3 1069.3 1526.4 1070.7 1526.5 1072.3 1526.3 1074.2 1525.8 1076.3 1525 1078.6 1523.7 1081.1 1521.8 1083.9 1518.5 1087.4 1513.4 1090.9 1508 1095.5 1499.5 1100.1 1493.4 1105.9 1487.7 1111.7 1483.8 1118.6 1480.2 1125.6 1477.5 1134.9 1475.4 1144.1 1478 1153.4 1482.5 1164.9 1488.6 1176.5 1495.4 1190.4 1504.1 1204.3 1513 1220.5 1523.6 1239 1533.5 1257.5 1533.5 1278.4 1533.5 1299.2 1533.5 1320 1533.5 1343.2 1533.5M1065.4 1522.6 1066.3 1523.2 1067.3 1523.8 1068.2 1524.2 1069.3 1524.4 1070.7 1523.8 1072.3 1522.3 1074.2 1519.5 1076.3 1515.2 1078.6 1507.4 1081.1 1495.3 1083.9 1481.1 1087.4 1460.5 1090.9 1444.3 1095.5 1428.9 1100.1 1418.6 1105.9 1409.2 1111.7 1402.4 1118.6 1397.6 1125.6 1396.6 1134.9 1400.5 1144.1 1408.4 1153.4 1418 1164.9 1431.1 1176.5 1444.7 1190.4 1460.6 1204.3 1476 1220.5 1492.7 1239 1509.4 1257.5 1523.4 1278.4 1533.5 1299.2 1533.5 1320 1533.5 1343.2 1533.5" fill="none" stroke="#d9e6f4" stroke-width="1" stroke-linejoin="round"/>
<path d="M1065.4 1524.6 1065.4 1524.6 1065.5 1524.6 1065.7 1524.6 1065.9 1524.7 1066.1 1524.8 1066.4 1524.9 1066.7 1525 1067 1525.1 1067.4 1525.2 1067.8 1525.4 1068.3 1525.5 1068.7 1525.6 1069.3 1525.7 1069.8 1525.7 1070.4 1525.6 1071 1525.5 1071.6 1525.3 1072.3 1525 1073 1524.6 1073.8 1524.1 1074.5 1523.6 1075.3 1522.9 1076.2 1522.1 1077 1521.2 1077.9 1520.1 1078.8 1518.7 1079.8 1517 1080.7 1514.9 1081.7 1512.5 1082.8 1509.8 1083.8 1507 1084.9 1504 1086 1500.9 1087.1 1497.7 1088.3 1494.2 1089.5 1490.4 1090.7 1486.1 1092 1482.1 1093.2 1478.9 1094.5 1476 1095.9 1473.3 1097.2 1470.7 1098.6 1468.3 1100 1465.9 1101.4 1463.8 1102.9 1461.9 1104.3 1460.2 1105.9 1458.7 1107.4 1457.2 1108.9 1455.8 1110.5 1454.4 1112.1 1453.1 1113.8 1451.8 1115.4 1450.7 1117.1 1449.6 1118.8 1448.8 1120.5 1448 1122.3 1447.3 1124 1446.6 1125.8 1445.9 1127.7 1445.4 1129.5 1444.9 1131.4 1444.7 1133.3 1444.7 1135.2 1444.9 1137.2 1445.2 1139.1 1445.7 1141.1 1446.2 1143.1 1446.6 1145.2 1447.1 1147.2 1447.6 1149.3 1448.2 1151.4 1448.8 1153.6 1449.6 1155.7 1450.3 1157.9 1451.2 1160.1 1452 1162.3 1453 1164.6 1453.9 1166.9 1454.9 1169.1 1456 1171.5 1457 1173.8 1458.1 1176.2 1459.2 1178.6 1460.4 1181 1461.5 1183.4 1462.7 1185.8 1463.9 1188.3 1465.1 1190.8 1466.4 1193.3 1467.6 1195.9 1468.9 1198.4 1470.1 1201 1471.4 1203.6 1472.6 1206.3 1473.9 1208.9 1475.1 1211.6 1476.4 1214.3 1477.7 1217 1478.9 1219.7 1480.2 1222.5 1481.4 1225.3 1482.7 1228.1 1483.9 1230.9 1485.1 1233.8 1486.3 1236.6 1487.5 1239.5 1488.7 1242.4 1489.9 1245.4 1491 1248.3 1492.2 1251.3 1493.2 1254.3 1494.3 1257.3 1495.4 1260.4 1496.4 1263.4 1497.4 1266.5 1498.4 1269.6 1499.3 1272.7 1500.2 1275.9 1501.1 1279.1 1502 1282.2 1502.8 1285.5 1503.6 1288.7 1504.3 1291.9 1505 1295.2 1505.6 1298.5 1506.2 1301.8 1506.8 1305.2 1507.3 1308.5 1507.8 1311.9 1508.3 1315.3 1508.8 1318.7 1509.2 1322.1 1509.6 1325.6 1510 1329.1 1510.3 1332.6 1510.7 1336.1 1511.1 1339.6 1511.4 1343.2 1511.8" fill="none" stroke="#5b9bd5" stroke-width="8.2" stroke-linejoin="round" stroke-linecap="butt"/>
</g>
<line x1="1152.2" y1="1250.8" x2="1152.2" y2="1527.9" stroke="#5b9bd5" stroke-width="2" stroke-linecap="butt"/>
<line x1="1065.4" y1="1249.4" x2="1065.4" y2="1529" stroke="#000" stroke-width="2.2" stroke-linecap="butt"/>
<line x1="1061.4" y1="1527.9" x2="1344.4" y2="1527.9" stroke="#000" stroke-width="2.2" stroke-linecap="butt"/>
<line x1="1065.4" y1="1527.9" x2="1065.4" y2="1532.6" stroke="#000" stroke-width="2.2" stroke-linecap="butt"/>
<line x1="1158" y1="1527.9" x2="1158" y2="1532.6" stroke="#000" stroke-width="2.2" stroke-linecap="butt"/>
<line x1="1250.6" y1="1527.9" x2="1250.6" y2="1532.6" stroke="#000" stroke-width="2.2" stroke-linecap="butt"/>
<line x1="1343.2" y1="1527.9" x2="1343.2" y2="1532.6" stroke="#000" stroke-width="2.2" stroke-linecap="butt"/>
<line x1="1060.9" y1="1250.8" x2="1065.4" y2="1250.8" stroke="#000" stroke-width="2" stroke-linecap="butt"/>
<text x="1051.5" y="1260.3" font-size="28.3" text-anchor="end" fill="#000">0.05</text>
<line x1="1060.9" y1="1389.1" x2="1065.4" y2="1389.1" stroke="#000" stroke-width="2" stroke-linecap="butt"/>
<text x="1051.5" y="1399.1" font-size="28.3" text-anchor="end" fill="#000">0.025</text>
<line x1="1060.9" y1="1527.9" x2="1065.4" y2="1527.9" stroke="#000" stroke-width="2" stroke-linecap="butt"/>
<text x="1051.5" y="1540.9" font-size="28.3" text-anchor="end" fill="#000">0</text>
<text x="1061.9" y="1563.2" font-size="28.3" text-anchor="middle" fill="#000">0</text>
<text x="1154.1" y="1563.2" font-size="28.3" text-anchor="middle" fill="#000">4</text>
<text x="1246.3" y="1563.2" font-size="28.3" text-anchor="middle" fill="#000">8</text>
<text x="1337.9" y="1563.2" font-size="28.3" text-anchor="middle" fill="#000">12</text>
<text x="1214.8" y="1600.5" font-size="29" text-anchor="middle" fill="#000">Time (s)</text>
<clipPath id="c8"><rect x="1495.7" y="1250.4" width="286" height="283.5"/></clipPath>
<g clip-path="url(#c8)">
<path d="M1499.7 1527.9 1499.7 1194.9 1507.8 1194.9 1513.6 1361.4 1520.5 1444.7 1527.5 1494.6 1536.8 1527.9Z" fill="#cfeaf2"/>
<path d="M1597 1480.7 1627.1 1472.4 1661.9 1465.7 1696.6 1456.9 1731.4 1447.4 1777.7 1436.3 1777.7 1511.2 1731.4 1505.7 1696.6 1491.8 1661.9 1480.7 1627.1 1483.5Z" fill="#cfeaf2"/>
<path d="M1499.7 1527.9 1777.7 1527.9 1777.7 1522.4 1569.2 1522.4 1546 1511.2 1534.5 1505.7 1499.7 1505.7Z" fill="#cfeaf2"/>
<path d="M1499.7 1220.4 1500.6 1220.4 1501.6 1220.4 1502.5 1220.4 1503.6 1220.4 1505 1220.4 1506.7 1220.4 1508.5 1220.4 1510.6 1220.4 1512.9 1263.3 1515.5 1313.1 1518.2 1356.8 1521 1391.6 1524 1421.3 1527.5 1447.7 1531 1467.5 1534.5 1482.5 1537.9 1493.7 1541.4 1502.2 1546 1510.3 1550.7 1515.8 1555.3 1519.6 1559.9 1522.2 1564.6 1524 1569.2 1525.2 1575 1526.1 1580.8 1523.7 1586.6 1518.1 1592.4 1510.1 1599.3 1498.7 1606.3 1486.8 1613.2 1475.7 1620.2 1466.9 1629.4 1461.1 1638.7 1461.4 1650.3 1461.9 1661.9 1462.5 1675.8 1463.1 1692 1463.9 1712.8 1464.8 1733.7 1465.8 1754.5 1466.7 1777.7 1467.8M1499.7 1527.9 1500.6 1527.9 1501.6 1527.9 1502.5 1527.9 1503.6 1527.9 1505 1527.9 1506.7 1527.9 1508.5 1527.9 1510.6 1527.9 1512.9 1527.9 1515.5 1527.8 1518.2 1527.6 1521 1527.3 1524 1526.7 1527.5 1525.7 1531 1524.2 1534.5 1522.1 1537.9 1519.5 1541.4 1516.3 1546 1511.3 1550.7 1505.8 1555.3 1499.9 1559.9 1494 1564.6 1488.4 1569.2 1483.4 1575 1478.4 1580.8 1474.8 1586.6 1472.9 1592.4 1472.5 1599.3 1472 1606.3 1470.3 1613.2 1467.7 1620.2 1464.7 1629.4 1460.9 1638.7 1458.5 1650.3 1460.7 1661.9 1465.7 1675.8 1469.8 1692 1472.4 1712.8 1473.3 1733.7 1472.7 1754.5 1471.3 1777.7 1469.4M1499.7 1220.4 1500.6 1241.3 1501.6 1285 1502.5 1322 1503.6 1360.4 1505 1397.2 1506.7 1430 1508.5 1457.5 1510.6 1479.2 1512.9 1495.2 1515.5 1506 1518.2 1512.1 1521 1513.8 1524 1511.8 1527.5 1505.4 1531 1495.4 1534.5 1482.6 1537.9 1468 1541.4 1452.5 1546 1432.3 1550.7 1414.4 1555.3 1400.3 1559.9 1391.1 1564.6 1386.9 1569.2 1387.4 1575 1393.8 1580.8 1404.9 1586.6 1418.5 1592.4 1431.8 1599.3 1445.8 1606.3 1456.9 1613.2 1465 1620.2 1470.5 1629.4 1475.3 1638.7 1479.4 1650.3 1485.1 1661.9 1488.2 1675.8 1489.8 1692 1490.2 1712.8 1489.9 1733.7 1489.3 1754.5 1488.5 1777.7 1487.7M1499.7 1220.4 1500.6 1220.4 1501.6 1220.4 1502.5 1220.4 1503.6 1220.4 1505 1220.4 1506.7 1247.6 1508.5 1327.2 1510.6 1389 1512.9 1433.3 1515.5 1461.6 1518.2 1476 1521 1479 1524 1474.1 1527.5 1462.6 1531 1448.6 1534.5 1435.1 1537.9 1423.9 1541.4 1415.9 1546 1410.3 1550.7 1410.1 1555.3 1414.3 1559.9 1421.3 1564.6 1429.7 1569.2 1438.4 1575 1448.5 1580.8 1457.1 1586.6 1464.2 1592.4 1470.2 1599.3 1476.7 1606.3 1481.3 1613.2 1484 1620.2 1485.5 1629.4 1486.3 1638.7 1486.1 1650.3 1485.4 1661.9 1484.3 1675.8 1482.9 1692 1481.1 1712.8 1478.8 1733.7 1476.5 1754.5 1474.3 1777.7 1471.7M1499.7 1527.9 1500.6 1527.9 1501.6 1527.9 1502.5 1527.9 1503.6 1527.9 1505 1527.9 1506.7 1527.9 1508.5 1527.9 1510.6 1527.9 1512.9 1527.8 1515.5 1527.6 1518.2 1527.2 1521 1526.5 1524 1525.1 1527.5 1522.5 1531 1518.7 1534.5 1513.5 1537.9 1507 1541.4 1499.2 1546 1487.4 1550.7 1474.7 1555.3 1461.9 1559.9 1450 1564.6 1439.8 1569.2 1431.8 1575 1425.3 1580.8 1423 1586.6 1424.4 1592.4 1428.3 1599.3 1433.5 1606.3 1438.6 1613.2 1443.2 1620.2 1447.2 1629.4 1451.9 1638.7 1457 1650.3 1466 1661.9 1473.5 1675.8 1478.9 1692 1482.2 1712.8 1483.7 1733.7 1483.8 1754.5 1483.5 1777.7 1483M1499.7 1220.4 1500.6 1220.4 1501.6 1220.4 1502.5 1220.4 1503.6 1220.4 1505 1236 1506.7 1308 1508.5 1368.4 1510.6 1415.8 1512.9 1450.6 1515.5 1474.2 1518.2 1488.2 1521 1494.5 1524 1495.8 1527.5 1493.1 1531 1487.9 1534.5 1481.5 1537.9 1474.9 1541.4 1468.5 1546 1461 1550.7 1455.1 1555.3 1451 1559.9 1448.7 1564.6 1448.1 1569.2 1449 1575 1451.9 1580.8 1456.3 1586.6 1461.7 1592.4 1467.7 1599.3 1473.3 1606.3 1476.1 1613.2 1476.8 1620.2 1476 1629.4 1474.2 1638.7 1473.3 1650.3 1476.3 1661.9 1481.7 1675.8 1486.5 1692 1490.7 1712.8 1494.5 1733.7 1497.4 1754.5 1499.9 1777.7 1502.4M1499.7 1220.4 1500.6 1220.4 1501.6 1220.4 1502.5 1220.4 1503.6 1220.4 1505 1220.4 1506.7 1220.4 1508.5 1220.4 1510.6 1251.1 1512.9 1313.8 1515.5 1366.5 1518.2 1409.3 1521 1440.7 1524 1465.5 1527.5 1485.4 1531 1499 1534.5 1508.2 1537.9 1514.5 1541.4 1518.8 1546 1522.5 1550.7 1524.6 1555.3 1526 1559.9 1526.7 1564.6 1527.2 1569.2 1527.5 1575 1527.2 1580.8 1524.2 1586.6 1518.9 1592.4 1512.1 1599.3 1502.6 1606.3 1493 1613.2 1484.3 1620.2 1477.7 1629.4 1473.9 1638.7 1474 1650.3 1474.1 1661.9 1474.3 1675.8 1474.5 1692 1474.7 1712.8 1474.9 1733.7 1475.2 1754.5 1475.4 1777.7 1475.7M1499.7 1220.4 1500.6 1220.4 1501.6 1220.4 1502.5 1220.4 1503.6 1220.4 1505 1220.4 1506.7 1220.4 1508.5 1220.4 1510.6 1220.4 1512.9 1220.4 1515.5 1245.4 1518.2 1332.4 1521 1392.6 1524 1437.1 1527.5 1470.6 1531 1491.7 1534.5 1505 1537.9 1513.5 1541.4 1518.8 1546 1523 1550.7 1525.2 1555.3 1526.5 1559.9 1527.1 1564.6 1527.5 1569.2 1527.7 1575 1527.8 1580.8 1527.9 1586.6 1527.1 1592.4 1523.7 1599.3 1517 1606.3 1508.5 1613.2 1499.5 1620.2 1491 1629.4 1482.4 1638.7 1478.9 1650.3 1480.2 1661.9 1481.6 1675.8 1483.3 1692 1485.4 1712.8 1488 1733.7 1490.6 1754.5 1493.2 1777.7 1496.1M1499.7 1527.9 1500.6 1527.9 1501.6 1527.9 1502.5 1527.8 1503.6 1527.6 1505 1526.8 1506.7 1524.5 1508.5 1519.4 1510.6 1509.5 1512.9 1493.2 1515.5 1470.1 1518.2 1441.4 1521 1413 1524 1386.3 1527.5 1364.5 1531 1354.2 1534.5 1354.7 1537.9 1363.9 1541.4 1379.2 1546 1404.4 1550.7 1430.5 1555.3 1454.3 1559.9 1474.3 1564.6 1488.9 1569.2 1497.1 1575 1500.3 1580.8 1497.9 1586.6 1492.1 1592.4 1484.9 1599.3 1476.4 1606.3 1469.8 1613.2 1466.7 1620.2 1467.8 1629.4 1471.2 1638.7 1474.5 1650.3 1478.6 1661.9 1482.6 1675.8 1487.5 1692 1493.2 1712.8 1500.6 1733.7 1507.9 1754.5 1515.2 1777.7 1523.4M1499.7 1527.9 1500.6 1527.9 1501.6 1527.9 1502.5 1527.7 1503.6 1527.4 1505 1526.8 1506.7 1525.5 1508.5 1523.2 1510.6 1519.6 1512.9 1514.4 1515.5 1507.2 1518.2 1497.9 1521 1487.5 1524 1475.5 1527.5 1461.4 1531 1447.5 1534.5 1434.4 1537.9 1422.7 1541.4 1412.6 1546 1402 1550.7 1394.7 1555.3 1390.7 1559.9 1389.7 1564.6 1391.2 1569.2 1394.9 1575 1400 1580.8 1404.6 1586.6 1408.7 1592.4 1411.9 1599.3 1415.1 1606.3 1417.7 1613.2 1420.7 1620.2 1424.8 1629.4 1433.7 1638.7 1441.9 1650.3 1449.4 1661.9 1454.5 1675.8 1458.1 1692 1459.8 1712.8 1459.8 1733.7 1458.4 1754.5 1456.3 1777.7 1453.6M1499.7 1220.4 1500.6 1220.4 1501.6 1262.7 1502.5 1304.4 1503.6 1347.3 1505 1388 1506.7 1423.8 1508.5 1453.1 1510.6 1475.2 1512.9 1490.1 1515.5 1498.4 1518.2 1500.7 1521 1498.3 1524 1492.2 1527.5 1482.6 1531 1471.9 1534.5 1461.1 1537.9 1451.2 1541.4 1442.1 1546 1432 1550.7 1424.4 1555.3 1419.6 1559.9 1417 1564.6 1416.5 1569.2 1417.5 1575 1420.3 1580.8 1424.5 1586.6 1429.9 1592.4 1436.5 1599.3 1445.2 1606.3 1452.3 1613.2 1457.8 1620.2 1461.8 1629.4 1465.3 1638.7 1467.1 1650.3 1467.7 1661.9 1467.2 1675.8 1465.6 1692 1463.2 1712.8 1459.7 1733.7 1456 1754.5 1452.3 1777.7 1448.2M1499.7 1527.9 1500.6 1527.9 1501.6 1527.9 1502.5 1527.9 1503.6 1527.9 1505 1527.9 1506.7 1527.8 1508.5 1527.6 1510.6 1527.2 1512.9 1526.4 1515.5 1524.8 1518.2 1522.1 1521 1518.2 1524 1512.6 1527.5 1504.5 1531 1494.9 1534.5 1484.2 1537.9 1472.9 1541.4 1461.6 1546 1447.2 1550.7 1434.6 1555.3 1424.6 1559.9 1417.4 1564.6 1413.2 1569.2 1412 1575 1414.1 1580.8 1419.2 1586.6 1424.3 1592.4 1428.8 1599.3 1433.2 1606.3 1436.7 1613.2 1439.9 1620.2 1443.2 1629.4 1449.1 1638.7 1458.1 1650.3 1468.7 1661.9 1476.5 1675.8 1483.2 1692 1488.7 1712.8 1493.9 1733.7 1498.1 1754.5 1501.9 1777.7 1506M1499.7 1452.3 1500.6 1465.2 1501.6 1475.9 1502.5 1484.8 1503.6 1493.7 1505 1501.9 1506.7 1508.9 1508.5 1514.2 1510.6 1517.8 1512.9 1519.8 1515.5 1520.2 1518.2 1519.3 1521 1517.3 1524 1514.4 1527.5 1510.3 1531 1505.7 1534.5 1500.7 1537.9 1495.7 1541.4 1490.6 1546 1484.1 1550.7 1478 1555.3 1472.4 1559.9 1467.6 1564.6 1463.5 1569.2 1460.2 1575 1457.3 1580.8 1455.5 1586.6 1454.9 1592.4 1453.8 1599.3 1450.3 1606.3 1445 1613.2 1438.8 1620.2 1432.4 1629.4 1425.4 1638.7 1422.4 1650.3 1426.8 1661.9 1432.4 1675.8 1438.1 1692 1443.3 1712.8 1447.7 1733.7 1450 1754.5 1450.7 1777.7 1450.1M1499.7 1527.9 1500.6 1527.9 1501.6 1527.9 1502.5 1527.8 1503.6 1527.6 1505 1527.2 1506.7 1526.4 1508.5 1525.1 1510.6 1522.9 1512.9 1519.6 1515.5 1515.1 1518.2 1509.3 1521 1502.7 1524 1495.1 1527.5 1486.1 1531 1477.2 1534.5 1468.9 1537.9 1461.5 1541.4 1455.1 1546 1448.3 1550.7 1443.7 1555.3 1441.3 1559.9 1440.7 1564.6 1441.8 1569.2 1444.3 1575 1449 1580.8 1453.3 1586.6 1455.8 1592.4 1456.4 1599.3 1455.3 1606.3 1452.7 1613.2 1449.4 1620.2 1446.7 1629.4 1446.1 1638.7 1450 1650.3 1453.9 1661.9 1456.3 1675.8 1457.6 1692 1457.7 1712.8 1456.3 1733.7 1454.2 1754.5 1451.7 1777.7 1448.6M1499.7 1371.6 1500.6 1405.1 1501.6 1431.5 1502.5 1452.1 1503.6 1471.9 1505 1488.8 1506.7 1502.2 1508.5 1511.8 1510.6 1518.2 1512.9 1521.8 1515.5 1523.5 1518.2 1523.7 1521 1522.9 1524 1521.3 1527.5 1518.8 1531 1515.8 1534.5 1512.2 1537.9 1508.4 1541.4 1504.3 1546 1498.6 1550.7 1492.7 1555.3 1486.9 1559.9 1481.3 1564.6 1475.9 1569.2 1470.2 1575 1462.4 1580.8 1454.4 1586.6 1446.5 1592.4 1439.2 1599.3 1431.5 1606.3 1425.6 1613.2 1422.1 1620.2 1421.6 1629.4 1424.3 1638.7 1428.1 1650.3 1433.7 1661.9 1439.8 1675.8 1447.2 1692 1455.2 1712.8 1463.9 1733.7 1470.4 1754.5 1474.9 1777.7 1478M1499.7 1220.4 1500.6 1220.4 1501.6 1220.4 1502.5 1220.4 1503.6 1220.4 1505 1220.4 1506.7 1220.4 1508.5 1220.4 1510.6 1220.4 1512.9 1304 1515.5 1380.2 1518.2 1434.1 1521 1468.3 1524 1491.4 1527.5 1507.2 1531 1516.2 1534.5 1521.2 1537.9 1524.1 1541.4 1525.8 1546 1526.9 1550.7 1527.4 1555.3 1527.7 1559.9 1527.7 1564.6 1526.2 1569.2 1523.2 1575 1517.7 1580.8 1511.1 1586.6 1503.8 1592.4 1496.5 1599.3 1488.5 1606.3 1482.4 1613.2 1479.1 1620.2 1478.9 1629.4 1479.2 1638.7 1479.4 1650.3 1479.7 1661.9 1480 1675.8 1480.4 1692 1480.8 1712.8 1481.3 1733.7 1481.9 1754.5 1482.4 1777.7 1483M1499.7 1220.4 1500.6 1220.4 1501.6 1220.4 1502.5 1220.4 1503.6 1220.4 1505 1220.4 1506.7 1220.4 1508.5 1220.4 1510.6 1220.4 1512.9 1220.4 1515.5 1220.4 1518.2 1220.4 1521 1220.4 1524 1220.4 1527.5 1281.1 1531 1341.9 1534.5 1387.7 1537.9 1422.2 1541.4 1448.2 1546 1472.7 1550.7 1487.1 1555.3 1494 1559.9 1495.8 1564.6 1494.1 1569.2 1490.2 1575 1483.7 1580.8 1477 1586.6 1471.1 1592.4 1467.1 1599.3 1465.7 1606.3 1467.7 1613.2 1469.9 1620.2 1471.9 1629.4 1474.5 1638.7 1477.1 1650.3 1480.4 1661.9 1483.6 1675.8 1487.5 1692 1492 1712.8 1497.8 1733.7 1503.6 1754.5 1509.4 1777.7 1515.8M1499.7 1220.4 1500.6 1220.4 1501.6 1220.4 1502.5 1269.9 1503.6 1356.4 1505 1422.9 1506.7 1468.6 1508.5 1497.1 1510.6 1513.1 1512.9 1521.4 1515.5 1525.2 1518.2 1526.9 1521 1527.4 1524 1527.6 1527.5 1527.5 1531 1527.1 1534.5 1526.6 1537.9 1525.7 1541.4 1524.6 1546 1522.7 1550.7 1520.1 1555.3 1517 1559.9 1513.4 1564.6 1509.4 1569.2 1505.2 1575 1499 1580.8 1490.9 1586.6 1481.9 1592.4 1472.5 1599.3 1461.8 1606.3 1452.5 1613.2 1445.5 1620.2 1441.5 1629.4 1442.1 1638.7 1445.9 1650.3 1451.7 1661.9 1457.7 1675.8 1464.4 1692 1470.7 1712.8 1476.1 1733.7 1479 1754.5 1480.3 1777.7 1480.7M1499.7 1220.4 1500.6 1220.4 1501.6 1220.4 1502.5 1220.4 1503.6 1220.4 1505 1220.4 1506.7 1220.4 1508.5 1301.6 1510.6 1368.5 1512.9 1419.9 1515.5 1457.5 1518.2 1483.8 1521 1500.3 1524 1511.2 1527.5 1518.6 1531 1522.7 1534.5 1525 1537.9 1526.3 1541.4 1527 1546 1527.5 1550.7 1527.7 1555.3 1527.8 1559.9 1527.9 1564.6 1527.9 1569.2 1527.9 1575 1527.9 1580.8 1527.9 1586.6 1527.9 1592.4 1527.8 1599.3 1525.2 1606.3 1519.5 1613.2 1512.3 1620.2 1504.8 1629.4 1495.8 1638.7 1490 1650.3 1489.5 1661.9 1492.6 1675.8 1496.3 1692 1500.6 1712.8 1506.1 1733.7 1511.6 1754.5 1517.2 1777.7 1523.3M1499.7 1220.4 1500.6 1220.4 1501.6 1220.4 1502.5 1220.4 1503.6 1220.4 1505 1220.4 1506.7 1220.4 1508.5 1220.4 1510.6 1220.4 1512.9 1284.5 1515.5 1348 1518.2 1398.5 1521 1434.8 1524 1462.8 1527.5 1484.8 1531 1499.3 1534.5 1509 1537.9 1515.4 1541.4 1519.6 1546 1522.9 1550.7 1523.6 1555.3 1522.4 1559.9 1519.7 1564.6 1515.9 1569.2 1511.4 1575 1505 1580.8 1498.5 1586.6 1492.3 1592.4 1487.1 1599.3 1483 1606.3 1481.4 1613.2 1480 1620.2 1478.6 1629.4 1476.7 1638.7 1474.8 1650.3 1472.5 1661.9 1470.1 1675.8 1467.3 1692 1464 1712.8 1459.8 1733.7 1455.6 1754.5 1451.3 1777.7 1446.6M1499.7 1267.9 1500.6 1335.8 1501.6 1385.9 1502.5 1423 1503.6 1456 1505 1481.9 1506.7 1499.4 1508.5 1508.1 1510.6 1506.9 1512.9 1494.2 1515.5 1469.3 1518.2 1433.4 1521 1395.2 1524 1358.5 1527.5 1329.8 1531 1319.3 1534.5 1325.7 1537.9 1344.6 1541.4 1370.7 1546 1408.5 1550.7 1443 1555.3 1469.7 1559.9 1488.1 1564.6 1499.1 1569.2 1504.5 1575 1505.7 1580.8 1503.2 1586.6 1498.8 1592.4 1493.8 1599.3 1488.6 1606.3 1485.6 1613.2 1484 1620.2 1482.4 1629.4 1480.3 1638.7 1478.1 1650.3 1475.4 1661.9 1472.7 1675.8 1469.5 1692 1465.7 1712.8 1460.9 1733.7 1456 1754.5 1451.2 1777.7 1445.8M1499.7 1527.9 1500.6 1527.9 1501.6 1527.9 1502.5 1527.9 1503.6 1527.8 1505 1527.5 1506.7 1526.6 1508.5 1524.1 1510.6 1518.6 1512.9 1508 1515.5 1490.5 1518.2 1465.2 1521 1435.8 1524 1402.9 1527.5 1368.5 1531 1342.2 1534.5 1326.5 1537.9 1321.7 1541.4 1326.7 1546 1344.8 1550.7 1370.6 1555.3 1399 1559.9 1426.5 1564.6 1450.8 1569.2 1471 1575 1490.3 1580.8 1503.9 1586.6 1513 1592.4 1518.3 1599.3 1519 1606.3 1515.1 1613.2 1508.3 1620.2 1500 1629.4 1488.7 1638.7 1479.9 1650.3 1475.9 1661.9 1474.2 1675.8 1472.3 1692 1469.9 1712.8 1467 1733.7 1464 1754.5 1461 1777.7 1457.7M1499.7 1527.9 1500.6 1527.9 1501.6 1527.9 1502.5 1527.9 1503.6 1527.9 1505 1527.9 1506.7 1527.7 1508.5 1526.9 1510.6 1524.5 1512.9 1518.6 1515.5 1506.3 1518.2 1485.3 1521 1457.3 1524 1422.8 1527.5 1384.4 1531 1354.6 1534.5 1337.7 1537.9 1335 1541.4 1344.3 1546 1369.8 1550.7 1401.9 1555.3 1433.8 1559.9 1461.3 1564.6 1482.9 1569.2 1498.7 1575 1511.7 1580.8 1519.3 1586.6 1523.5 1592.4 1525 1599.3 1522.6 1606.3 1517.3 1613.2 1510.5 1620.2 1503.5 1629.4 1495.4 1638.7 1490.3 1650.3 1490.3 1661.9 1491.9 1675.8 1493.8 1692 1496 1712.8 1498.9 1733.7 1501.8 1754.5 1504.7 1777.7 1507.9M1499.7 1220.4 1500.6 1220.4 1501.6 1220.4 1502.5 1220.4 1503.6 1240.4 1505 1302.8 1506.7 1358.5 1508.5 1404.8 1510.6 1440.7 1512.9 1466.3 1515.5 1482.2 1518.2 1489.9 1521 1490.6 1524 1486.3 1527.5 1477.4 1531 1466.3 1534.5 1454.4 1537.9 1442.9 1541.4 1432.4 1546 1420.9 1550.7 1412.8 1555.3 1408.3 1559.9 1407.1 1564.6 1408.9 1569.2 1413.2 1575 1421.1 1580.8 1430.9 1586.6 1439.4 1592.4 1445.4 1599.3 1449.4 1606.3 1450.6 1613.2 1449.9 1620.2 1448.4 1629.4 1447.5 1638.7 1450.9 1650.3 1456.8 1661.9 1460.6 1675.8 1463.3 1692 1464.8 1712.8 1465.6 1733.7 1465.8 1754.5 1465.7 1777.7 1465.6M1499.7 1220.4 1500.6 1220.4 1501.6 1220.4 1502.5 1220.4 1503.6 1220.4 1505 1220.4 1506.7 1220.4 1508.5 1220.4 1510.6 1220.4 1512.9 1223.9 1515.5 1295 1518.2 1353.8 1521 1397.8 1524 1432.9 1527.5 1461.9 1531 1482 1534.5 1496 1537.9 1505.7 1541.4 1512.5 1546 1518.4 1550.7 1522.1 1555.3 1524.3 1559.9 1525.7 1564.6 1526.5 1569.2 1527.1 1575 1527.4 1580.8 1526.2 1586.6 1523.2 1592.4 1518.7 1599.3 1512.1 1606.3 1505 1613.2 1498.4 1620.2 1492.8 1629.4 1488.7 1638.7 1488.4 1650.3 1488.3 1661.9 1488.3 1675.8 1488.2 1692 1488.2 1712.8 1488.1 1733.7 1488 1754.5 1487.9 1777.7 1487.8M1499.7 1527.9 1500.6 1527.9 1501.6 1527.9 1502.5 1527.9 1503.6 1527.9 1505 1527.6 1506.7 1526.7 1508.5 1523.8 1510.6 1516.9 1512.9 1503.7 1515.5 1483 1518.2 1456.8 1521 1432.3 1524 1412.9 1527.5 1403.7 1531 1408.1 1534.5 1422.1 1537.9 1440.9 1541.4 1460.5 1546 1483.3 1550.7 1499.4 1555.3 1508.9 1559.9 1513.1 1564.6 1513.6 1569.2 1511.7 1575 1507.4 1580.8 1502.2 1586.6 1496.8 1592.4 1492.2 1599.3 1488.3 1606.3 1486.7 1613.2 1485.3 1620.2 1483.8 1629.4 1481.8 1638.7 1479.8 1650.3 1477.4 1661.9 1474.9 1675.8 1472 1692 1468.5 1712.8 1464.1 1733.7 1459.7 1754.5 1455.3 1777.7 1450.4M1499.7 1527.9 1500.6 1527.9 1501.6 1527.9 1502.5 1527.9 1503.6 1527.7 1505 1527.4 1506.7 1526.7 1508.5 1525.3 1510.6 1522.8 1512.9 1518.8 1515.5 1512.7 1518.2 1504.2 1521 1494.1 1524 1481.7 1527.5 1466.3 1531 1450.6 1534.5 1435.4 1537.9 1421.4 1541.4 1409 1546 1395.1 1550.7 1384.6 1555.3 1377.6 1559.9 1373.8 1564.6 1372.7 1569.2 1373.9 1575 1378.1 1580.8 1384.3 1586.6 1392 1592.4 1401 1599.3 1413.3 1606.3 1425 1613.2 1435.2 1620.2 1443.8 1629.4 1452.7 1638.7 1458.9 1650.3 1463.6 1661.9 1465.5 1675.8 1465.4 1692 1463.1 1712.8 1458.4 1733.7 1452.7 1754.5 1446.6 1777.7 1439.6M1499.7 1527.9 1500.6 1527.9 1501.6 1527.5 1502.5 1525.6 1503.6 1518.1 1505 1498 1506.7 1459.3 1508.5 1405.2 1510.6 1351.1 1512.9 1318.1 1515.5 1319.4 1518.2 1351.8 1521 1396.5 1524 1441.7 1527.5 1480.1 1531 1503.6 1534.5 1516.3 1537.9 1522.7 1541.4 1525.6 1546 1527.2 1550.7 1527.7 1555.3 1527.8 1559.9 1527.9 1564.6 1527.9 1569.2 1527.9 1575 1527.9 1580.8 1527.9 1586.6 1527.5 1592.4 1524.7 1599.3 1518.7 1606.3 1510.4 1613.2 1500.6 1620.2 1490.5 1629.4 1478.4 1638.7 1470.8 1650.3 1467.9 1661.9 1465.3 1675.8 1462.2 1692 1458.6 1712.8 1453.9 1733.7 1449.3 1754.5 1444.6 1777.7 1439.5M1499.7 1527.9 1500.6 1527.8 1501.6 1527.3 1502.5 1525.6 1503.6 1521.1 1505 1511.8 1506.7 1495.3 1508.5 1470.7 1510.6 1438.8 1512.9 1402.9 1515.5 1368.3 1518.2 1340.5 1521 1325.1 1524 1321.5 1527.5 1331.1 1531 1350.5 1534.5 1374.9 1537.9 1400.5 1541.4 1425 1546 1453.3 1550.7 1475.8 1555.3 1492.5 1559.9 1504.5 1564.6 1512.7 1569.2 1518.2 1575 1522.5 1580.8 1525 1586.6 1526.3 1592.4 1526.9 1599.3 1525 1606.3 1520.3 1613.2 1513.5 1620.2 1505.3 1629.4 1493.9 1638.7 1484 1650.3 1477.9 1661.9 1475.1 1675.8 1471.8 1692 1467.9 1712.8 1462.8 1733.7 1457.8 1754.5 1452.7 1777.7 1447.1M1499.7 1220.4 1500.6 1220.4 1501.6 1224.4 1502.5 1297.6 1503.6 1364.8 1505 1420.1 1506.7 1461 1508.5 1487.7 1510.6 1501.2 1512.9 1501.8 1515.5 1489.5 1518.2 1465.2 1521 1435.7 1524 1405.1 1527.5 1380 1531 1370.2 1534.5 1375.3 1537.9 1391.5 1541.4 1413.7 1546 1445 1550.7 1472.3 1555.3 1492.6 1559.9 1505 1564.6 1511 1569.2 1512.5 1575 1510.4 1580.8 1506 1586.6 1500.7 1592.4 1495.7 1599.3 1490.9 1606.3 1488.3 1613.2 1488.4 1620.2 1489 1629.4 1489.8 1638.7 1490.6 1650.3 1491.6 1661.9 1492.6 1675.8 1493.8 1692 1495.2 1712.8 1497 1733.7 1498.8 1754.5 1500.6 1777.7 1502.6M1499.7 1527.9 1500.6 1527.9 1501.6 1527.9 1502.5 1527.9 1503.6 1527.9 1505 1527.9 1506.7 1527.8 1508.5 1527.7 1510.6 1527.4 1512.9 1526.9 1515.5 1526 1518.2 1524.7 1521 1522.8 1524 1520.1 1527.5 1516.3 1531 1511.8 1534.5 1506.5 1537.9 1500.8 1541.4 1494.7 1546 1486.3 1550.7 1477.9 1555.3 1468.6 1559.9 1457.7 1564.6 1445.9 1569.2 1433.7 1575 1419.1 1580.8 1405.8 1586.6 1394.7 1592.4 1386.4 1599.3 1380.9 1606.3 1381.3 1613.2 1386.8 1620.2 1393.5 1629.4 1403.2 1638.7 1413 1650.3 1424.8 1661.9 1435.6 1675.8 1446.7 1692 1457.3 1712.8 1467.4 1733.7 1474.8 1754.5 1480.3 1777.7 1485M1499.7 1220.4 1500.6 1220.4 1501.6 1220.4 1502.5 1220.4 1503.6 1220.4 1505 1220.4 1506.7 1220.4 1508.5 1220.4 1510.6 1220.4 1512.9 1220.4 1515.5 1241 1518.2 1315.3 1521 1370.3 1524 1413.9 1527.5 1449.5 1531 1474 1534.5 1490.8 1537.9 1502.4 1541.4 1510.4 1546 1517.2 1550.7 1521.4 1555.3 1524 1559.9 1525.5 1564.6 1526.5 1569.2 1527 1575 1527.4 1580.8 1527 1586.6 1523.9 1592.4 1518.6 1599.3 1510.4 1606.3 1501.2 1613.2 1492.1 1620.2 1484.3 1629.4 1477.5 1638.7 1476.6 1650.3 1477.1 1661.9 1477.6 1675.8 1478.2 1692 1478.9 1712.8 1479.8 1733.7 1480.7 1754.5 1481.6 1777.7 1482.6M1499.7 1220.4 1500.6 1220.4 1501.6 1220.4 1502.5 1220.4 1503.6 1220.4 1505 1220.4 1506.7 1220.4 1508.5 1220.4 1510.6 1220.4 1512.9 1220.4 1515.5 1220.4 1518.2 1220.4 1521 1220.4 1524 1220.4 1527.5 1296.6 1531 1356.5 1534.5 1400.9 1537.9 1433.8 1541.4 1458.2 1546 1481.2 1550.7 1496.6 1555.3 1506.9 1559.9 1512.7 1564.6 1513.6 1569.2 1511 1575 1504.4 1580.8 1495.8 1586.6 1486.3 1592.4 1477.3 1599.3 1468.4 1606.3 1462.9 1613.2 1461.9 1620.2 1463.9 1629.4 1466.7 1638.7 1469.4 1650.3 1472.7 1661.9 1476.1 1675.8 1480.1 1692 1484.8 1712.8 1490.8 1733.7 1496.8 1754.5 1502.8 1777.7 1509.5M1499.7 1220.4 1500.6 1220.4 1501.6 1220.4 1502.5 1220.4 1503.6 1220.4 1505 1220.4 1506.7 1220.4 1508.5 1220.4 1510.6 1220.4 1512.9 1220.4 1515.5 1220.4 1518.2 1220.4 1521 1237.4 1524 1304.2 1527.5 1362.5 1531 1405.5 1534.5 1437.4 1537.9 1460.9 1541.4 1478.4 1546 1494.8 1550.7 1505.7 1555.3 1513.1 1559.9 1518 1564.6 1521.3 1569.2 1523.5 1575 1524.9 1580.8 1522.8 1586.6 1518 1592.4 1511.5 1599.3 1502.7 1606.3 1494.1 1613.2 1487 1620.2 1482.2 1629.4 1480.9 1638.7 1483.6 1650.3 1487.1 1661.9 1490.5 1675.8 1494.6 1692 1499.4 1712.8 1505.5 1733.7 1511.7 1754.5 1517.8 1777.7 1524.7M1499.7 1527.9 1500.6 1527.9 1501.6 1527.8 1502.5 1527.6 1503.6 1526.6 1505 1524.2 1506.7 1518.8 1508.5 1508.6 1510.6 1491.9 1512.9 1468 1515.5 1437.3 1518.2 1402.4 1521 1369.8 1524 1340.4 1527.5 1316.9 1531 1305.5 1534.5 1305.3 1537.9 1314.3 1541.4 1329.8 1546 1356.5 1550.7 1385 1555.3 1411.3 1559.9 1433.5 1564.6 1450.8 1569.2 1463.3 1575 1472.9 1580.8 1477.2 1586.6 1478 1592.4 1476.9 1599.3 1475.1 1606.3 1474.7 1613.2 1474.3 1620.2 1473.3 1629.4 1471.5 1638.7 1469.4 1650.3 1466.7 1661.9 1463.8 1675.8 1460.4 1692 1456.4 1712.8 1451.3 1733.7 1446.2 1754.5 1441 1777.7 1435.3M1499.7 1527.9 1500.6 1527.9 1501.6 1527.9 1502.5 1527.9 1503.6 1527.9 1505 1527.9 1506.7 1527.9 1508.5 1527.9 1510.6 1527.9 1512.9 1527.8 1515.5 1527.7 1518.2 1527.4 1521 1527 1524 1526.4 1527.5 1525.3 1531 1523.7 1534.5 1521.7 1537.9 1519.2 1541.4 1516.2 1546 1511.7 1550.7 1506.5 1555.3 1500.1 1559.9 1492.2 1564.6 1483.1 1569.2 1473.3 1575 1460.7 1580.8 1448.6 1586.6 1437.5 1592.4 1428.2 1599.3 1420.2 1606.3 1416.6 1613.2 1417.3 1620.2 1419.4 1629.4 1423.3 1638.7 1428.2 1650.3 1434.6 1661.9 1440.7 1675.8 1447 1692 1452.5 1712.8 1456.6 1733.7 1458.2 1754.5 1458 1777.7 1456.6M1499.7 1220.4 1500.6 1220.4 1501.6 1220.4 1502.5 1220.4 1503.6 1220.4 1505 1220.4 1506.7 1220.4 1508.5 1220.4 1510.6 1311.3 1512.9 1394.3 1515.5 1449.4 1518.2 1484 1521 1503.3 1524 1514.8 1527.5 1521.5 1531 1524.8 1534.5 1526.4 1537.9 1526.5 1541.4 1525 1546 1520.9 1550.7 1515.2 1555.3 1508.4 1559.9 1500.9 1564.6 1493.2 1569.2 1485.6 1575 1477 1580.8 1470 1586.6 1465.4 1592.4 1464 1599.3 1464.5 1606.3 1465 1613.2 1465.5 1620.2 1466 1629.4 1466.6 1638.7 1467.3 1650.3 1468.1 1661.9 1469 1675.8 1470 1692 1471.2 1712.8 1472.7 1733.7 1474.2 1754.5 1475.7 1777.7 1477.4M1499.7 1220.4 1500.6 1220.4 1501.6 1220.4 1502.5 1220.4 1503.6 1220.4 1505 1220.4 1506.7 1220.4 1508.5 1220.4 1510.6 1308.7 1512.9 1384.9 1515.5 1438.6 1518.2 1474.4 1521 1495.9 1524 1509.5 1527.5 1518.2 1531 1522.8 1534.5 1525.2 1537.9 1526.5 1541.4 1527.2 1546 1527.6 1550.7 1527.7 1555.3 1525.7 1559.9 1521.4 1564.6 1515.6 1569.2 1508.6 1575 1499.2 1580.8 1489.9 1586.6 1481.4 1592.4 1474.5 1599.3 1469.2 1606.3 1468.2 1613.2 1470.3 1620.2 1472.4 1629.4 1475.3 1638.7 1478.1 1650.3 1481.7 1661.9 1485.3 1675.8 1489.5 1692 1494.5 1712.8 1501 1733.7 1507.4 1754.5 1513.8 1777.7 1520.9M1499.7 1220.4 1500.6 1290.5 1501.6 1371 1502.5 1424.2 1503.6 1466.1 1505 1494.7 1506.7 1511.8 1508.5 1520.9 1510.6 1525.1 1512.9 1526.9 1515.5 1527.5 1518.2 1527.6 1521 1527.5 1524 1527 1527.5 1526.2 1531 1524.9 1534.5 1523 1537.9 1520.5 1541.4 1517.3 1546 1511.9 1550.7 1505.5 1555.3 1498.2 1559.9 1490.4 1564.6 1482.4 1569.2 1474.7 1575 1465.8 1580.8 1458.4 1586.6 1452.8 1592.4 1449 1599.3 1444.6 1606.3 1440.2 1613.2 1435.9 1620.2 1431.8 1629.4 1427.3 1638.7 1425.4 1650.3 1429.8 1661.9 1436.2 1675.8 1441.4 1692 1444.2 1712.8 1443.5 1733.7 1439.6 1754.5 1433.9 1777.7 1426.7M1499.7 1220.4 1500.6 1220.4 1501.6 1220.4 1502.5 1220.4 1503.6 1220.4 1505 1220.4 1506.7 1220.4 1508.5 1220.4 1510.6 1220.4 1512.9 1220.4 1515.5 1220.4 1518.2 1291.3 1521 1349.4 1524 1396.4 1527.5 1435.4 1531 1462.9 1534.5 1482.2 1537.9 1495.7 1541.4 1505.3 1546 1513.8 1550.7 1519.1 1555.3 1522.4 1559.9 1524.4 1564.6 1525.7 1569.2 1526.5 1575 1525.9 1580.8 1521.7 1586.6 1515.3 1592.4 1507.5 1599.3 1497.8 1606.3 1489 1613.2 1482.2 1620.2 1478.4 1629.4 1479.1 1638.7 1482.4 1650.3 1486.7 1661.9 1490.9 1675.8 1496 1692 1501.9 1712.8 1509.5 1733.7 1517.1 1754.5 1524.8 1777.7 1527.9M1499.7 1220.4 1500.6 1220.4 1501.6 1220.4 1502.5 1220.4 1503.6 1220.4 1505 1220.4 1506.7 1220.4 1508.5 1220.4 1510.6 1220.4 1512.9 1220.4 1515.5 1220.4 1518.2 1220.4 1521 1242.4 1524 1298.7 1527.5 1350.1 1531 1389.9 1534.5 1420.8 1537.9 1444.8 1541.4 1463.4 1546 1481.9 1550.7 1495.1 1555.3 1503.9 1559.9 1508.6 1564.6 1510.3 1569.2 1509.8 1575 1506.8 1580.8 1502.3 1586.6 1497 1592.4 1491.7 1599.3 1486.4 1606.3 1483.2 1613.2 1482.4 1620.2 1481.9 1629.4 1481 1638.7 1480.1 1650.3 1479 1661.9 1477.8 1675.8 1476.4 1692 1474.7 1712.8 1472.6 1733.7 1470.5 1754.5 1468.3 1777.7 1466M1499.7 1220.4 1500.6 1220.4 1501.6 1220.4 1502.5 1220.4 1503.6 1220.4 1505 1220.4 1506.7 1220.4 1508.5 1220.4 1510.6 1220.4 1512.9 1220.4 1515.5 1252.1 1518.2 1320.6 1521 1372.2 1524 1413.6 1527.5 1447.9 1531 1472 1534.5 1488.8 1537.9 1500.5 1541.4 1508.7 1546 1515.3 1550.7 1516.7 1555.3 1514.2 1559.9 1509.2 1564.6 1502.6 1569.2 1495.2 1575 1485.8 1580.8 1477.1 1586.6 1470 1592.4 1465.2 1599.3 1463.6 1606.3 1465.6 1613.2 1467.7 1620.2 1469.7 1629.4 1472.5 1638.7 1475.2 1650.3 1478.6 1661.9 1482.1 1675.8 1486.2 1692 1491 1712.8 1497.1 1733.7 1503.3 1754.5 1509.5 1777.7 1516.3M1499.7 1527.9 1500.6 1527.9 1501.6 1527.9 1502.5 1527.9 1503.6 1527.9 1505 1527.8 1506.7 1527.7 1508.5 1527.4 1510.6 1527.1 1512.9 1526.5 1515.5 1525.7 1518.2 1524.5 1521 1523.1 1524 1521.2 1527.5 1518.7 1531 1516 1534.5 1512.9 1537.9 1509.6 1541.4 1506.2 1546 1501.4 1550.7 1496.6 1555.3 1491.8 1559.9 1487.2 1564.6 1482.8 1569.2 1478.7 1575 1474.1 1580.8 1470.1 1586.6 1466.7 1592.4 1463 1599.3 1456.5 1606.3 1448.6 1613.2 1440 1620.2 1431.5 1629.4 1421.9 1638.7 1416.3 1650.3 1417.3 1661.9 1420.6 1675.8 1425.1 1692 1430.5 1712.8 1436.8 1733.7 1442 1754.5 1445.8 1777.7 1448.5M1499.7 1220.4 1500.6 1220.4 1501.6 1220.4 1502.5 1220.4 1503.6 1220.4 1505 1220.4 1506.7 1220.4 1508.5 1220.4 1510.6 1220.4 1512.9 1220.4 1515.5 1220.4 1518.2 1220.4 1521 1220.4 1524 1220.4 1527.5 1276.9 1531 1332.7 1534.5 1376.1 1537.9 1409.8 1541.4 1436.1 1546 1462.2 1550.7 1480.9 1555.3 1494.3 1559.9 1503.9 1564.6 1510.7 1569.2 1515.6 1575 1519.7 1580.8 1520 1586.6 1517.3 1592.4 1512.5 1599.3 1505.4 1606.3 1498.1 1613.2 1491.7 1620.2 1487.3 1629.4 1485.6 1638.7 1487.9 1650.3 1490.7 1661.9 1493.6 1675.8 1497 1692 1500.9 1712.8 1506 1733.7 1511.1 1754.5 1516.1 1777.7 1521.8M1499.7 1220.4 1500.6 1220.4 1501.6 1220.4 1502.5 1220.4 1503.6 1220.4 1505 1220.4 1506.7 1220.4 1508.5 1220.4 1510.6 1220.4 1512.9 1256.9 1515.5 1305.2 1518.2 1348.1 1521 1382.8 1524 1412.8 1527.5 1439.8 1531 1460.5 1534.5 1476.3 1537.9 1488.4 1541.4 1497.7 1546 1506.8 1550.7 1513.1 1555.3 1517.6 1559.9 1520.7 1564.6 1522.8 1569.2 1524.3 1575 1524.1 1580.8 1520.9 1586.6 1515.5 1592.4 1508.6 1599.3 1499.1 1606.3 1489.4 1613.2 1480.6 1620.2 1474.1 1629.4 1470.8 1638.7 1469.5 1650.3 1467.8 1661.9 1466.1 1675.8 1464 1692 1461.6 1712.8 1458.6 1733.7 1455.5 1754.5 1452.5 1777.7 1449.1M1499.7 1527.9 1500.6 1527.9 1501.6 1527.9 1502.5 1527.9 1503.6 1527.9 1505 1527.9 1506.7 1527.8 1508.5 1527.6 1510.6 1527 1512.9 1525.6 1515.5 1522.5 1518.2 1516.7 1521 1508.1 1524 1495.7 1527.5 1478.1 1531 1458.7 1534.5 1439.6 1537.9 1422.6 1541.4 1409.2 1546 1398.3 1550.7 1395.7 1555.3 1400.3 1559.9 1409 1564.6 1419.6 1569.2 1430.3 1575 1442.3 1580.8 1451.5 1586.6 1457.6 1592.4 1461 1599.3 1463 1606.3 1464.3 1613.2 1467 1620.2 1469.4 1629.4 1471 1638.7 1471.7 1650.3 1471.8 1661.9 1471.6 1675.8 1471.2 1692 1470.7 1712.8 1470 1733.7 1469.3 1754.5 1468.6 1777.7 1467.8M1499.7 1220.4 1500.6 1220.4 1501.6 1220.4 1502.5 1220.4 1503.6 1220.4 1505 1220.4 1506.7 1220.4 1508.5 1220.4 1510.6 1220.4 1512.9 1220.4 1515.5 1220.4 1518.2 1238.6 1521 1306.1 1524 1361.6 1527.5 1408.6 1531 1442.3 1534.5 1466.5 1537.9 1483.8 1541.4 1496.3 1546 1507.6 1550.7 1514.9 1555.3 1519.5 1559.9 1522.5 1564.6 1524.4 1569.2 1525.7 1575 1526.6 1580.8 1526.4 1586.6 1523.9 1592.4 1519.3 1599.3 1511.6 1606.3 1502.4 1613.2 1492.6 1620.2 1483.3 1629.4 1474 1638.7 1470.3 1650.3 1466.9 1661.9 1463.5 1675.8 1459.5 1692 1454.7 1712.8 1448.6 1733.7 1442.6 1754.5 1436.5 1777.7 1429.7M1499.7 1220.4 1500.6 1220.4 1501.6 1220.4 1502.5 1220.4 1503.6 1220.4 1505 1220.4 1506.7 1220.4 1508.5 1220.4 1510.6 1220.4 1512.9 1220.4 1515.5 1220.4 1518.2 1310.3 1521 1377.9 1524 1427.6 1527.5 1464.9 1531 1488.3 1534.5 1503 1537.9 1512.3 1541.4 1518.1 1546 1522.6 1550.7 1525.1 1555.3 1526.4 1559.9 1526.8 1564.6 1524.9 1569.2 1521 1575 1514 1580.8 1505.5 1586.6 1496.5 1592.4 1487.8 1599.3 1478.6 1606.3 1472 1613.2 1469.1 1620.2 1469.8 1629.4 1471.2 1638.7 1472.6 1650.3 1474.3 1661.9 1476 1675.8 1478.1 1692 1480.5 1712.8 1483.6 1733.7 1486.7 1754.5 1489.8 1777.7 1493.2M1499.7 1527.9 1500.6 1527.9 1501.6 1527.9 1502.5 1527.9 1503.6 1527.9 1505 1527.9 1506.7 1527.9 1508.5 1527.9 1510.6 1527.8 1512.9 1527.6 1515.5 1527.4 1518.2 1526.9 1521 1526.1 1524 1524.9 1527.5 1523.1 1531 1520.6 1534.5 1517.5 1537.9 1513.9 1541.4 1509.7 1546 1503.3 1550.7 1496.4 1555.3 1489.1 1559.9 1481.7 1564.6 1474.5 1569.2 1467.7 1575 1459.6 1580.8 1451 1586.6 1442.2 1592.4 1433.7 1599.3 1424.4 1606.3 1416.6 1613.2 1410.9 1620.2 1407.9 1629.4 1409.4 1638.7 1414.9 1650.3 1422.7 1661.9 1430.5 1675.8 1439.1 1692 1447.2 1712.8 1454.2 1733.7 1457.8 1754.5 1458.7 1777.7 1457.8M1499.7 1527.9 1500.6 1527.9 1501.6 1527.9 1502.5 1527.9 1503.6 1527.9 1505 1527.9 1506.7 1527.9 1508.5 1527.9 1510.6 1527.9 1512.9 1527.8 1515.5 1527.6 1518.2 1527.3 1521 1526.6 1524 1525.5 1527.5 1523.6 1531 1521 1534.5 1517.5 1537.9 1513.4 1541.4 1508.6 1546 1501.7 1550.7 1494.6 1555.3 1487.8 1559.9 1481.8 1564.6 1477 1569.2 1473.5 1575 1471.1 1580.8 1471 1586.6 1472.6 1592.4 1473.6 1599.3 1472.5 1606.3 1469.6 1613.2 1465.6 1620.2 1461.5 1629.4 1457.1 1638.7 1456.4 1650.3 1461.9 1661.9 1466.8 1675.8 1470.9 1692 1474.2 1712.8 1477.2 1733.7 1479.5 1754.5 1481.6 1777.7 1483.9M1499.7 1220.4 1500.6 1220.4 1501.6 1220.4 1502.5 1220.4 1503.6 1220.4 1505 1220.4 1506.7 1220.4 1508.5 1220.4 1510.6 1220.4 1512.9 1220.4 1515.5 1266.3 1518.2 1317.5 1521 1358.6 1524 1394.1 1527.5 1426 1531 1450.2 1534.5 1468.7 1537.9 1482.8 1541.4 1493.5 1546 1504 1550.7 1511.2 1555.3 1516.3 1559.9 1519.8 1564.6 1522.3 1569.2 1524 1575 1525.4 1580.8 1526.3 1586.6 1526.9 1592.4 1526.6 1599.3 1523.5 1606.3 1518.2 1613.2 1511.5 1620.2 1504.4 1629.4 1495.5 1638.7 1489.3 1650.3 1487.4 1661.9 1487.3 1675.8 1487.1 1692 1486.8 1712.8 1486.5 1733.7 1486.2 1754.5 1485.9 1777.7 1485.6M1499.7 1220.4 1500.6 1220.4 1501.6 1220.4 1502.5 1220.4 1503.6 1220.4 1505 1220.4 1506.7 1220.4 1508.5 1220.4 1510.6 1297.4 1512.9 1371.1 1515.5 1425.3 1518.2 1463.3 1521 1487.2 1524 1503.3 1527.5 1514.1 1531 1520.1 1534.5 1523.6 1537.9 1525.5 1541.4 1526.5 1546 1527.3 1550.7 1527.6 1555.3 1527.8 1559.9 1527.8 1564.6 1527.9 1569.2 1527.9 1575 1527.9 1580.8 1527.9 1586.6 1527.9 1592.4 1527.7 1599.3 1524.5 1606.3 1518.7 1613.2 1511.4 1620.2 1503.5 1629.4 1493.8 1638.7 1487.1 1650.3 1485.5 1661.9 1486.9 1675.8 1488.5 1692 1490.4 1712.8 1492.8 1733.7 1495.3 1754.5 1497.7 1777.7 1500.4M1499.7 1220.4 1500.6 1220.4 1501.6 1220.4 1502.5 1220.4 1503.6 1220.4 1505 1220.4 1506.7 1220.4 1508.5 1220.4 1510.6 1220.4 1512.9 1285.9 1515.5 1374.5 1518.2 1434.6 1521 1471.2 1524 1494.8 1527.5 1510.1 1531 1518.4 1534.5 1522.8 1537.9 1524.6 1541.4 1524.3 1546 1521.6 1550.7 1517.2 1555.3 1511.5 1559.9 1505.1 1564.6 1498.4 1569.2 1491.6 1575 1483.8 1580.8 1477.1 1586.6 1472.5 1592.4 1470.5 1599.3 1470.1 1606.3 1469.7 1613.2 1469.2 1620.2 1468.8 1629.4 1468.3 1638.7 1467.7 1650.3 1467.1 1661.9 1466.4 1675.8 1465.5 1692 1464.6 1712.8 1463.3 1733.7 1462.1 1754.5 1460.9 1777.7 1459.5M1499.7 1220.4 1500.6 1220.4 1501.6 1220.4 1502.5 1220.4 1503.6 1220.4 1505 1231.5 1506.7 1294 1508.5 1349.4 1510.6 1396.2 1512.9 1434 1515.5 1463.1 1518.2 1484.7 1521 1499.1 1524 1509.3 1527.5 1516.7 1531 1521.2 1534.5 1523.8 1537.9 1525.5 1541.4 1526.4 1546 1526.9 1550.7 1525.4 1555.3 1522.1 1559.9 1517.3 1564.6 1511.4 1569.2 1504.8 1575 1496 1580.8 1487.5 1586.6 1479.7 1592.4 1473.6 1599.3 1469.3 1606.3 1468.5 1613.2 1468.1 1620.2 1467.7 1629.4 1467.2 1638.7 1466.7 1650.3 1466 1661.9 1465.3 1675.8 1464.5 1692 1463.6 1712.8 1462.4 1733.7 1461.2 1754.5 1460 1777.7 1458.7M1499.7 1437.5 1500.6 1466.8 1501.6 1486.5 1502.5 1499.9 1503.6 1510.7 1505 1518.3 1506.7 1523.1 1508.5 1525.7 1510.6 1527 1512.9 1527.5 1515.5 1527.7 1518.2 1527.6 1521 1527.4 1524 1527.1 1527.5 1526.5 1531 1525.7 1534.5 1524.6 1537.9 1523.2 1541.4 1521.6 1546 1518.9 1550.7 1515.9 1555.3 1512.4 1559.9 1508.7 1564.6 1503.8 1569.2 1497.5 1575 1488.1 1580.8 1478 1586.6 1467.8 1592.4 1458.4 1599.3 1448.8 1606.3 1442 1613.2 1438.7 1620.2 1439.2 1629.4 1442 1638.7 1446 1650.3 1452 1661.9 1458.7 1675.8 1466.8 1692 1475.8 1712.8 1485.7 1733.7 1493.6 1754.5 1499.8 1777.7 1505.2M1499.7 1220.4 1500.6 1220.4 1501.6 1220.4 1502.5 1220.4 1503.6 1220.4 1505 1220.4 1506.7 1220.4 1508.5 1220.4 1510.6 1220.4 1512.9 1220.4 1515.5 1220.4 1518.2 1220.4 1521 1220.4 1524 1220.4 1527.5 1276.9 1531 1339.3 1534.5 1386.2 1537.9 1421.4 1541.4 1447.9 1546 1472.8 1550.7 1488.2 1555.3 1496.8 1559.9 1500.8 1564.6 1501.6 1569.2 1500.2 1575 1496.9 1580.8 1492.8 1586.6 1488.9 1592.4 1486 1599.3 1484.7 1606.3 1485.5 1613.2 1486.2 1620.2 1486.8 1629.4 1487.6 1638.7 1488.3 1650.3 1489.2 1661.9 1490.1 1675.8 1491.1 1692 1492.4 1712.8 1494 1733.7 1495.5 1754.5 1497.1 1777.7 1498.9M1499.7 1350.3 1500.6 1385.3 1501.6 1413.5 1502.5 1436 1503.6 1458.1 1505 1477.7 1506.7 1493.7 1508.5 1505.8 1510.6 1514.1 1512.9 1519 1515.5 1520.9 1518.2 1519.5 1521 1515.1 1524 1507.1 1527.5 1494.5 1531 1479.4 1534.5 1463.1 1537.9 1447.4 1541.4 1433.7 1546 1419.6 1550.7 1411.2 1555.3 1408.7 1559.9 1411.2 1564.6 1417.3 1569.2 1425.5 1575 1436.7 1580.8 1447.5 1586.6 1457 1592.4 1465.1 1599.3 1473.5 1606.3 1480 1613.2 1484.1 1620.2 1486.4 1629.4 1487.7 1638.7 1487.8 1650.3 1487.2 1661.9 1486.1 1675.8 1484.6 1692 1482.7 1712.8 1480.3 1733.7 1477.9 1754.5 1475.5 1777.7 1472.8M1499.7 1220.4 1500.6 1220.4 1501.6 1220.4 1502.5 1220.4 1503.6 1220.4 1505 1274.3 1506.7 1333.1 1508.5 1371.7 1510.6 1385.7 1512.9 1377.9 1515.5 1359.7 1518.2 1346.9 1521 1350.7 1524 1371.7 1527.5 1407.7 1531 1444.3 1534.5 1474.3 1537.9 1495.8 1541.4 1509.7 1546 1520 1550.7 1524.7 1555.3 1526.7 1559.9 1527.4 1564.6 1527.7 1569.2 1527.8 1575 1527.9 1580.8 1527.3 1586.6 1524.7 1592.4 1520.6 1599.3 1514.3 1606.3 1507.3 1613.2 1500.3 1620.2 1494.2 1629.4 1488.8 1638.7 1487.8 1650.3 1487.5 1661.9 1487.2 1675.8 1486.8 1692 1486.3 1712.8 1485.8 1733.7 1485.2 1754.5 1484.7 1777.7 1484M1499.7 1220.4 1500.6 1220.4 1501.6 1220.4 1502.5 1220.4 1503.6 1220.4 1505 1220.4 1506.7 1220.4 1508.5 1220.4 1510.6 1220.4 1512.9 1220.4 1515.5 1220.4 1518.2 1220.4 1521 1220.4 1524 1267 1527.5 1330.9 1531 1379.2 1534.5 1415.7 1537.9 1443.2 1541.4 1463.9 1546 1482.8 1550.7 1493.2 1555.3 1497.7 1559.9 1498 1564.6 1495.6 1569.2 1491.4 1575 1485.1 1580.8 1478.7 1586.6 1473.3 1592.4 1469.8 1599.3 1469 1606.3 1470.5 1613.2 1471.9 1620.2 1473.3 1629.4 1475 1638.7 1476.7 1650.3 1478.8 1661.9 1480.9 1675.8 1483.4 1692 1486.3 1712.8 1490.1 1733.7 1493.9 1754.5 1497.6 1777.7 1501.8M1499.7 1366.7 1500.6 1397.6 1501.6 1422.5 1502.5 1442.7 1503.6 1462.6 1505 1480.4 1506.7 1495 1508.5 1506 1510.6 1513.6 1512.9 1518.2 1515.5 1520.2 1518.2 1520.2 1521 1518.6 1524 1515.8 1527.5 1511.5 1531 1506.4 1534.5 1500.8 1537.9 1494.9 1541.4 1488 1546 1477.3 1550.7 1465.7 1555.3 1453.7 1559.9 1442 1564.6 1430.9 1569.2 1420.8 1575 1410.1 1580.8 1402.3 1586.6 1397.7 1592.4 1396.9 1599.3 1400.3 1606.3 1404.8 1613.2 1409.9 1620.2 1415.3 1629.4 1422.3 1638.7 1429 1650.3 1436.4 1661.9 1442.5 1675.8 1448.3 1692 1452.9 1712.8 1456.4 1733.7 1458 1754.5 1458.5 1777.7 1458.2M1499.7 1527.9 1500.6 1527.9 1501.6 1527.9 1502.5 1527.9 1503.6 1527.9 1505 1527.9 1506.7 1527.8 1508.5 1527.6 1510.6 1526.9 1512.9 1524.9 1515.5 1520.4 1518.2 1511.4 1521 1497.5 1524 1477.1 1527.5 1448.6 1531 1418.3 1534.5 1390.3 1537.9 1368 1541.4 1353.1 1546 1346 1550.7 1351.8 1555.3 1366.8 1559.9 1386.8 1564.6 1407.9 1569.2 1427.6 1575 1448.1 1580.8 1463.4 1586.6 1474.1 1592.4 1481.8 1599.3 1488.2 1606.3 1491.6 1613.2 1493.2 1620.2 1493.8 1629.4 1493.7 1638.7 1493.2 1650.3 1492.4 1661.9 1491.5 1675.8 1490.4 1692 1489.2 1712.8 1487.5 1733.7 1485.9 1754.5 1484.2 1777.7 1482.4M1499.7 1527.9 1500.6 1527.9 1501.6 1527.9 1502.5 1527.9 1503.6 1527.9 1505 1527.8 1506.7 1527.7 1508.5 1527.5 1510.6 1527.2 1512.9 1526.5 1515.5 1525.3 1518.2 1523.6 1521 1521.4 1524 1518.3 1527.5 1514 1531 1508.9 1534.5 1503.3 1537.9 1497.2 1541.4 1490.9 1546 1482.3 1550.7 1473.9 1555.3 1466.1 1559.9 1458.9 1564.6 1452.8 1569.2 1447.7 1575 1442.9 1580.8 1439.9 1586.6 1436.9 1592.4 1432.8 1599.3 1427 1606.3 1421 1613.2 1415.8 1620.2 1412 1629.4 1410.8 1638.7 1415.7 1650.3 1426.1 1661.9 1435.6 1675.8 1445.3 1692 1454.3 1712.8 1462.5 1733.7 1467.9 1754.5 1471.3 1777.7 1473.7M1499.7 1527.9 1500.6 1527.9 1501.6 1527.9 1502.5 1527.9 1503.6 1527.9 1505 1527.9 1506.7 1527.9 1508.5 1527.9 1510.6 1527.9 1512.9 1527.8 1515.5 1527.6 1518.2 1527.2 1521 1526.5 1524 1525.3 1527.5 1523.2 1531 1520.1 1534.5 1516.2 1537.9 1511.4 1541.4 1505.3 1546 1495.4 1550.7 1484.5 1555.3 1473.3 1559.9 1462.7 1564.6 1453.2 1569.2 1445.3 1575 1438.1 1580.8 1434 1586.6 1433.2 1592.4 1435.6 1599.3 1441.7 1606.3 1448.3 1613.2 1454.7 1620.2 1460.6 1629.4 1467.1 1638.7 1472 1650.3 1476.2 1661.9 1478.6 1675.8 1480 1692 1480.4 1712.8 1480 1733.7 1479.1 1754.5 1478.2 1777.7 1477.1M1499.7 1220.4 1500.6 1220.4 1501.6 1220.4 1502.5 1220.4 1503.6 1231.9 1505 1296.7 1506.7 1322.8 1508.5 1319.7 1510.6 1303.6 1512.9 1290.9 1515.5 1292.5 1518.2 1311.8 1521 1342.4 1524 1380 1527.5 1420.7 1531 1454.1 1534.5 1479.2 1537.9 1496.8 1541.4 1508.6 1546 1518 1550.7 1523 1555.3 1525.5 1559.9 1526.3 1564.6 1525.1 1569.2 1522.5 1575 1518 1580.8 1512.4 1586.6 1506.4 1592.4 1500.4 1599.3 1493.8 1606.3 1488.9 1613.2 1486.5 1620.2 1486 1629.4 1485.3 1638.7 1484.6 1650.3 1483.7 1661.9 1482.9 1675.8 1481.9 1692 1480.6 1712.8 1479.1 1733.7 1477.6 1754.5 1476 1777.7 1474.3M1499.7 1220.4 1500.6 1220.4 1501.6 1220.4 1502.5 1220.4 1503.6 1220.4 1505 1220.4 1506.7 1220.4 1508.5 1220.4 1510.6 1258 1512.9 1299.7 1515.5 1338.2 1518.2 1372.8 1521 1401.1 1524 1426 1527.5 1448.7 1531 1466.3 1534.5 1480.1 1537.9 1490.7 1541.4 1499 1546 1507.2 1550.7 1513.1 1555.3 1515.2 1559.9 1513.8 1564.6 1509.8 1569.2 1504.1 1575 1495.5 1580.8 1486.6 1586.6 1478.3 1592.4 1471.6 1599.3 1466.6 1606.3 1465.9 1613.2 1468.5 1620.2 1471.2 1629.4 1474.7 1638.7 1478.2 1650.3 1482.6 1661.9 1487 1675.8 1492.2 1692 1498.3 1712.8 1506.2 1733.7 1514.1 1754.5 1521.9 1777.7 1527.9M1499.7 1220.4 1500.6 1220.4 1501.6 1220.4 1502.5 1220.4 1503.6 1220.4 1505 1220.4 1506.7 1220.4 1508.5 1220.4 1510.6 1220.4 1512.9 1220.4 1515.5 1220.4 1518.2 1220.4 1521 1220.4 1524 1220.4 1527.5 1228.8 1531 1295.8 1534.5 1347.8 1537.9 1388.1 1541.4 1419.4 1546 1450.6 1550.7 1472.7 1555.3 1488.6 1559.9 1499.9 1564.6 1507.9 1569.2 1513.6 1575 1518.6 1580.8 1521.8 1586.6 1523.9 1592.4 1524.3 1599.3 1520.4 1606.3 1512.9 1613.2 1503.4 1620.2 1493.2 1629.4 1480.7 1638.7 1472.3 1650.3 1470.6 1661.9 1471.4 1675.8 1472.4 1692 1473.5 1712.8 1475 1733.7 1476.5 1754.5 1477.9 1777.7 1479.5M1499.7 1220.4 1500.6 1255.4 1501.6 1299.5 1502.5 1336.4 1503.6 1374.3 1505 1410 1506.7 1441.4 1508.5 1467.1 1510.6 1487 1512.9 1501.6 1515.5 1511.7 1518.2 1518.3 1521 1522.1 1524 1524.2 1527.5 1525.2 1531 1525.1 1534.5 1524.1 1537.9 1522.4 1541.4 1520 1546 1515.7 1550.7 1510.5 1555.3 1504.6 1559.9 1498.4 1564.6 1491.5 1569.2 1483.3 1575 1472.3 1580.8 1461.3 1586.6 1451.1 1592.4 1442.4 1599.3 1434.5 1606.3 1430 1613.2 1429.4 1620.2 1433.2 1629.4 1440.4 1638.7 1447.3 1650.3 1454.6 1661.9 1460.3 1675.8 1464.7 1692 1467.6 1712.8 1468.7 1733.7 1468.5 1754.5 1467.6 1777.7 1466.4M1499.7 1220.4 1500.6 1220.4 1501.6 1220.4 1502.5 1220.4 1503.6 1220.4 1505 1220.4 1506.7 1220.4 1508.5 1220.4 1510.6 1220.4 1512.9 1252.8 1515.5 1332.6 1518.2 1393.4 1521 1435.4 1524 1466.2 1527.5 1489.2 1531 1503.6 1534.5 1512.7 1537.9 1518.4 1541.4 1521.9 1546 1524.7 1550.7 1526.2 1555.3 1527 1559.9 1525.9 1564.6 1522.6 1569.2 1517.7 1575 1509.9 1580.8 1501.3 1586.6 1492.5 1592.4 1484.3 1599.3 1476.4 1606.3 1471.5 1613.2 1470.6 1620.2 1471.8 1629.4 1473.3 1638.7 1474.8 1650.3 1476.7 1661.9 1478.6 1675.8 1480.9 1692 1483.5 1712.8 1486.9 1733.7 1490.3 1754.5 1493.7 1777.7 1497.5M1499.7 1220.4 1500.6 1220.4 1501.6 1247.5 1502.5 1303.1 1503.6 1357.3 1505 1405.4 1506.7 1444.6 1508.5 1474.2 1510.6 1494.8 1512.9 1508.1 1515.5 1515.7 1518.2 1519.4 1521 1520.2 1524 1519.2 1527.5 1516.5 1531 1512.9 1534.5 1508.6 1537.9 1503.7 1541.4 1498.6 1546 1491.4 1550.7 1484.3 1555.3 1477.3 1559.9 1470.9 1564.6 1465 1569.2 1460 1575 1454.8 1580.8 1449.6 1586.6 1443.4 1592.4 1436.6 1599.3 1428.5 1606.3 1421.3 1613.2 1415.6 1620.2 1412.4 1629.4 1413.1 1638.7 1419.6 1650.3 1428.7 1661.9 1437.4 1675.8 1446.8 1692 1456 1712.8 1465 1733.7 1471.3 1754.5 1475.5 1777.7 1478.5M1499.7 1220.4 1500.6 1220.4 1501.6 1220.4 1502.5 1220.4 1503.6 1332.3 1505 1412.1 1506.7 1452.8 1508.5 1457.7 1510.6 1433.3 1512.9 1391.1 1515.5 1346.8 1518.2 1316.4 1521 1310.1 1524 1326 1527.5 1361.9 1531 1403.1 1534.5 1440.5 1537.9 1470.1 1541.4 1491.4 1546 1509.3 1550.7 1519 1555.3 1523.8 1559.9 1525.7 1564.6 1525.1 1569.2 1522.8 1575 1518.3 1580.8 1512.9 1586.6 1507.1 1592.4 1501.4 1599.3 1495.3 1606.3 1491 1613.2 1489.1 1620.2 1489.3 1629.4 1489.7 1638.7 1490 1650.3 1490.4 1661.9 1490.9 1675.8 1491.4 1692 1492 1712.8 1492.7 1733.7 1493.5 1754.5 1494.3 1777.7 1495.1M1499.7 1220.4 1500.6 1220.4 1501.6 1220.4 1502.5 1220.4 1503.6 1220.4 1505 1220.4 1506.7 1220.4 1508.5 1320.4 1510.6 1398.4 1512.9 1451.2 1515.5 1484.8 1518.2 1504.9 1521 1515.6 1524 1521.7 1527.5 1525.1 1531 1526.6 1534.5 1527.3 1537.9 1527.6 1541.4 1527.8 1546 1527.5 1550.7 1525.6 1555.3 1522.5 1559.9 1518.3 1564.6 1513.4 1569.2 1507.9 1575 1500.7 1580.8 1493.8 1586.6 1487.6 1592.4 1482.7 1599.3 1479.6 1606.3 1479 1613.2 1478.4 1620.2 1477.9 1629.4 1477.2 1638.7 1476.5 1650.3 1475.7 1661.9 1474.8 1675.8 1473.8 1692 1472.6 1712.8 1471 1733.7 1469.5 1754.5 1467.9 1777.7 1466.2M1499.7 1220.4 1500.6 1220.4 1501.6 1220.4 1502.5 1220.4 1503.6 1220.4 1505 1220.4 1506.7 1287.1 1508.5 1354.6 1510.6 1407.8 1512.9 1446.6 1515.5 1472.2 1518.2 1485.5 1521 1488 1524 1482.2 1527.5 1468.6 1531 1451.9 1534.5 1435.7 1537.9 1422.5 1541.4 1414 1546 1410.8 1550.7 1416 1555.3 1427.3 1559.9 1441.9 1564.6 1457.6 1569.2 1472.6 1575 1487.1 1580.8 1494.6 1586.6 1496.2 1592.4 1493.5 1599.3 1487 1606.3 1479.2 1613.2 1472.3 1620.2 1467.9 1629.4 1468.1 1638.7 1471 1650.3 1474.5 1661.9 1477.9 1675.8 1481.9 1692 1486.7 1712.8 1492.7 1733.7 1498.8 1754.5 1504.9 1777.7 1511.6M1499.7 1220.4 1500.6 1220.4 1501.6 1220.4 1502.5 1220.4 1503.6 1220.4 1505 1220.4 1506.7 1220.4 1508.5 1220.4 1510.6 1220.4 1512.9 1220.4 1515.5 1251 1518.2 1334.4 1521 1392.7 1524 1436.2 1527.5 1469.3 1531 1490.4 1534.5 1504 1537.9 1512.6 1541.4 1518.1 1546 1522.5 1550.7 1524.9 1555.3 1526.3 1559.9 1525.6 1564.6 1522.7 1569.2 1518.1 1575 1510.8 1580.8 1502.7 1586.6 1494.7 1592.4 1487.3 1599.3 1480.4 1606.3 1476.4 1613.2 1476.2 1620.2 1477.8 1629.4 1480.1 1638.7 1482.3 1650.3 1485.1 1661.9 1487.9 1675.8 1491.2 1692 1495.1 1712.8 1500.1 1733.7 1505.1 1754.5 1510.1 1777.7 1515.7M1499.7 1220.4 1500.6 1220.4 1501.6 1220.4 1502.5 1220.4 1503.6 1220.4 1505 1220.4 1506.7 1220.4 1508.5 1220.4 1510.6 1220.4 1512.9 1259.5 1515.5 1306.4 1518.2 1348.3 1521 1382.2 1524 1411.8 1527.5 1438.5 1531 1459.1 1534.5 1475 1537.9 1487.2 1541.4 1496.6 1546 1505.8 1550.7 1512.3 1555.3 1516.9 1559.9 1520.1 1564.6 1522.4 1569.2 1524 1575 1524.9 1580.8 1522.8 1586.6 1518.3 1592.4 1512.4 1599.3 1504.5 1606.3 1496.9 1613.2 1490.5 1620.2 1486.3 1629.4 1485.3 1638.7 1487.6 1650.3 1490.4 1661.9 1493.2 1675.8 1496.6 1692 1500.6 1712.8 1505.6 1733.7 1510.7 1754.5 1515.8 1777.7 1521.4M1499.7 1220.4 1500.6 1220.4 1501.6 1220.4 1502.5 1220.4 1503.6 1220.4 1505 1220.4 1506.7 1220.4 1508.5 1220.4 1510.6 1220.4 1512.9 1220.4 1515.5 1220.4 1518.2 1256.1 1521 1327.8 1524 1384.3 1527.5 1430 1531 1461.2 1534.5 1482.4 1537.9 1496.9 1541.4 1506.7 1546 1515.2 1550.7 1520.3 1555.3 1523.3 1559.9 1525.2 1564.6 1526.3 1569.2 1526.9 1575 1527.4 1580.8 1527.6 1586.6 1527.8 1592.4 1527.5 1599.3 1523.2 1606.3 1515.3 1613.2 1505.5 1620.2 1495.3 1629.4 1483.5 1638.7 1476 1650.3 1475.7 1661.9 1479.1 1675.8 1483.2 1692 1488.1 1712.8 1494.2 1733.7 1500.4 1754.5 1506.6 1777.7 1513.5M1499.7 1527.9 1500.6 1527.8 1501.6 1527 1502.5 1523.8 1503.6 1514.9 1505 1496.3 1506.7 1466.4 1508.5 1429.2 1510.6 1394.5 1512.9 1373 1515.5 1371.2 1518.2 1388.5 1521 1415.4 1524 1445.8 1527.5 1475.3 1531 1496.4 1534.5 1510 1537.9 1518.2 1541.4 1522.8 1546 1525.8 1550.7 1527.1 1555.3 1527.6 1559.9 1527.8 1564.6 1527.9 1569.2 1527.9 1575 1527.7 1580.8 1525.8 1586.6 1522.1 1592.4 1517.3 1599.3 1510.6 1606.3 1503.6 1613.2 1497.2 1620.2 1492.1 1629.4 1488.9 1638.7 1488.9 1650.3 1489 1661.9 1489 1675.8 1489.1 1692 1489.1 1712.8 1489.2 1733.7 1489.3 1754.5 1489.4 1777.7 1489.5M1499.7 1220.4 1500.6 1220.4 1501.6 1220.4 1502.5 1220.4 1503.6 1220.4 1505 1220.4 1506.7 1220.4 1508.5 1220.4 1510.6 1220.4 1512.9 1220.4 1515.5 1321.8 1518.2 1395.7 1521 1443 1524 1475.4 1527.5 1497.8 1531 1510.6 1534.5 1518 1537.9 1522.2 1541.4 1524.6 1546 1526.3 1550.7 1527.2 1555.3 1527.5 1559.9 1527.7 1564.6 1527.8 1569.2 1527.9 1575 1527.9 1580.8 1527.9 1586.6 1527.9 1592.4 1526.9 1599.3 1522.7 1606.3 1515.8 1613.2 1507.3 1620.2 1498 1629.4 1486.4 1638.7 1478 1650.3 1475 1661.9 1473.9 1675.8 1472.6 1692 1471.1 1712.8 1469.2 1733.7 1467.3 1754.5 1465.3 1777.7 1463.2M1499.7 1527.9 1500.6 1527.9 1501.6 1527.9 1502.5 1527.9 1503.6 1527.9 1505 1527.8 1506.7 1527.5 1508.5 1526.7 1510.6 1524.7 1512.9 1520.5 1515.5 1512.9 1518.2 1500.9 1521 1485.4 1524 1465.8 1527.5 1441.9 1531 1419.4 1534.5 1400.6 1537.9 1387.1 1541.4 1379.7 1546 1378.8 1550.7 1386.6 1555.3 1400.3 1559.9 1417 1564.6 1433.8 1569.2 1449.2 1575 1464.8 1580.8 1475.8 1586.6 1482.5 1592.4 1485.5 1599.3 1485.8 1606.3 1484.4 1613.2 1483.3 1620.2 1482.6 1629.4 1480.6 1638.7 1477.9 1650.3 1474.2 1661.9 1470.2 1675.8 1465.4 1692 1459.8 1712.8 1452.6 1733.7 1445.3 1754.5 1438.1 1777.7 1430M1499.7 1220.4 1500.6 1220.4 1501.6 1220.4 1502.5 1220.4 1503.6 1263.5 1505 1330 1506.7 1386.9 1508.5 1432.1 1510.6 1465.9 1512.9 1489.7 1515.5 1505.4 1518.2 1515.3 1521 1520.9 1524 1524.1 1527.5 1526.1 1531 1527 1534.5 1527.5 1537.9 1527.7 1541.4 1527.8 1546 1527.9 1550.7 1527.9 1555.3 1527.9 1559.9 1527.9 1564.6 1527.9 1569.2 1527.8 1575 1525.9 1580.8 1522.1 1586.6 1516.8 1592.4 1510.5 1599.3 1502.2 1606.3 1494.1 1613.2 1487 1620.2 1482 1629.4 1479.8 1638.7 1478.6 1650.3 1477.1 1661.9 1475.6 1675.8 1473.7 1692 1471.6 1712.8 1468.8 1733.7 1466.1 1754.5 1463.4 1777.7 1460.3M1499.7 1527.9 1500.6 1527.9 1501.6 1527.9 1502.5 1527.9 1503.6 1527.8 1505 1527.2 1506.7 1525 1508.5 1519 1510.6 1505.7 1512.9 1481.4 1515.5 1444.8 1518.2 1399.2 1521 1356.1 1524 1320.8 1527.5 1300.7 1531 1303.1 1534.5 1322.7 1537.9 1352.5 1541.4 1385.9 1546 1426.9 1550.7 1457.9 1555.3 1477.9 1559.9 1488.4 1564.6 1492 1569.2 1491 1575 1486 1580.8 1479.4 1586.6 1473.2 1592.4 1468.5 1599.3 1466.4 1606.3 1466.9 1613.2 1467.3 1620.2 1467.7 1629.4 1468.3 1638.7 1468.8 1650.3 1469.5 1661.9 1470.1 1675.8 1471 1692 1471.9 1712.8 1473.1 1733.7 1474.3 1754.5 1475.6 1777.7 1476.9M1499.7 1220.4 1500.6 1220.4 1501.6 1220.4 1502.5 1220.4 1503.6 1220.4 1505 1220.4 1506.7 1265.9 1508.5 1342.7 1510.6 1400.7 1512.9 1440.7 1515.5 1464.2 1518.2 1473.6 1521 1471.8 1524 1462 1527.5 1445 1531 1425.8 1534.5 1407.4 1537.9 1391.6 1541.4 1379.6 1546 1369.1 1550.7 1365.1 1555.3 1366.7 1559.9 1372.5 1564.6 1381.1 1569.2 1391.1 1575 1404.2 1580.8 1416.8 1586.6 1428.4 1592.4 1439.1 1599.3 1451.2 1606.3 1460.8 1613.2 1467.7 1620.2 1472.4 1629.4 1476.2 1638.7 1478.2 1650.3 1479.3 1661.9 1479.6 1675.8 1479.3 1692 1478.8 1712.8 1477.9 1733.7 1477 1754.5 1476.1 1777.7 1475.1M1499.7 1220.4 1500.6 1220.4 1501.6 1220.4 1502.5 1220.4 1503.6 1220.4 1505 1324.1 1506.7 1401.8 1508.5 1454.9 1510.6 1488.1 1512.9 1507.2 1515.5 1517 1518.2 1521.2 1521 1522.2 1524 1521.5 1527.5 1519.6 1531 1517 1534.5 1513.9 1537.9 1510.4 1541.4 1506.8 1546 1501.7 1550.7 1496.6 1555.3 1491.5 1559.9 1486.6 1564.6 1482.1 1569.2 1478 1575 1472.2 1580.8 1465.5 1586.6 1457.9 1592.4 1449.9 1599.3 1440.1 1606.3 1430.8 1613.2 1422.9 1620.2 1417.6 1629.4 1416.1 1638.7 1417 1650.3 1418.8 1661.9 1420.8 1675.8 1423.1 1692 1425 1712.8 1425.8 1733.7 1424.6 1754.5 1421.8 1777.7 1417.1M1499.7 1220.4 1500.6 1220.4 1501.6 1220.4 1502.5 1220.4 1503.6 1220.4 1505 1220.4 1506.7 1220.4 1508.5 1220.4 1510.6 1220.4 1512.9 1220.4 1515.5 1275.5 1518.2 1356.6 1521 1411.6 1524 1451.5 1527.5 1480.8 1531 1498.9 1534.5 1510 1537.9 1516.6 1541.4 1519.7 1546 1520.1 1550.7 1517.9 1555.3 1514.1 1559.9 1509.4 1564.6 1504.3 1569.2 1499.3 1575 1493.5 1580.8 1488.8 1586.6 1485.8 1592.4 1484.8 1599.3 1485.6 1606.3 1486.4 1613.2 1487.2 1620.2 1488 1629.4 1489 1638.7 1490.1 1650.3 1491.4 1661.9 1492.8 1675.8 1494.3 1692 1496.2 1712.8 1498.6 1733.7 1501 1754.5 1503.3 1777.7 1506M1499.7 1527.9 1500.6 1527.9 1501.6 1527.9 1502.5 1527.9 1503.6 1527.9 1505 1527.8 1506.7 1527.7 1508.5 1527.5 1510.6 1527.2 1512.9 1526.7 1515.5 1525.9 1518.2 1524.8 1521 1523.5 1524 1521.7 1527.5 1519.3 1531 1516.5 1534.5 1513.5 1537.9 1510.2 1541.4 1506.7 1546 1501.4 1550.7 1494.3 1555.3 1485.6 1559.9 1475.8 1564.6 1465.4 1569.2 1454.7 1575 1441.5 1580.8 1429.2 1586.6 1418.7 1592.4 1410.6 1599.3 1405.1 1606.3 1403.6 1613.2 1403.2 1620.2 1403.5 1629.4 1404.9 1638.7 1407.2 1650.3 1411 1661.9 1415.4 1675.8 1420.8 1692 1427 1712.8 1433.9 1733.7 1439.3 1754.5 1443.1 1777.7 1445.8M1499.7 1220.4 1500.6 1220.4 1501.6 1220.4 1502.5 1220.4 1503.6 1228.5 1505 1268.8 1506.7 1309 1508.5 1347.4 1510.6 1382.6 1512.9 1413.8 1515.5 1440.3 1518.2 1462.3 1521 1478.8 1524 1492 1527.5 1502.9 1531 1510.5 1534.5 1515.8 1537.9 1519.5 1541.4 1522 1546 1524.3 1550.7 1525.7 1555.3 1526.5 1559.9 1527 1564.6 1527.4 1569.2 1527.6 1575 1527.7 1580.8 1527.7 1586.6 1525.5 1592.4 1521 1599.3 1513.5 1606.3 1504.6 1613.2 1495.6 1620.2 1487.5 1629.4 1479.7 1638.7 1477.7 1650.3 1478.2 1661.9 1478.7 1675.8 1479.3 1692 1480 1712.8 1481 1733.7 1481.9 1754.5 1482.8 1777.7 1483.8M1499.7 1220.4 1500.6 1220.4 1501.6 1220.4 1502.5 1220.4 1503.6 1223.4 1505 1280.2 1506.7 1333.1 1508.5 1380 1510.6 1419.3 1512.9 1450.9 1515.5 1475.1 1518.2 1493 1521 1504.8 1524 1513.1 1527.5 1519.1 1531 1522.6 1534.5 1524.7 1537.9 1526 1541.4 1526.8 1546 1527.3 1550.7 1527.6 1555.3 1527.8 1559.9 1527.6 1564.6 1525.6 1569.2 1521.7 1575 1515 1580.8 1507.3 1586.6 1499.2 1592.4 1491.6 1599.3 1484.1 1606.3 1479.3 1613.2 1477.9 1620.2 1479.7 1629.4 1482.7 1638.7 1485.7 1650.3 1489.4 1661.9 1493 1675.8 1497.5 1692 1502.7 1712.8 1509.3 1733.7 1516 1754.5 1522.6 1777.7 1527.9M1499.7 1527.9 1500.6 1527.9 1501.6 1527.9 1502.5 1527.9 1503.6 1527.9 1505 1527.9 1506.7 1527.9 1508.5 1527.9 1510.6 1527.9 1512.9 1527.9 1515.5 1527.9 1518.2 1527.8 1521 1527.7 1524 1527.5 1527.5 1527.1 1531 1526.5 1534.5 1525.5 1537.9 1524.1 1541.4 1522.3 1546 1519.2 1550.7 1515.2 1555.3 1510.6 1559.9 1505.4 1564.6 1499.8 1569.2 1494.1 1575 1487.2 1580.8 1479.8 1586.6 1471.4 1592.4 1462.5 1599.3 1451.9 1606.3 1442 1613.2 1433.6 1620.2 1427.5 1629.4 1424.3 1638.7 1427.4 1650.3 1432.5 1661.9 1437.4 1675.8 1442 1692 1445.1 1712.8 1445.6 1733.7 1443.3 1754.5 1439.1 1777.7 1433.4M1499.7 1315.7 1500.6 1386 1501.6 1433 1502.5 1464.4 1503.6 1489.5 1505 1506.9 1506.7 1517.5 1508.5 1523.2 1510.6 1525.8 1512.9 1526.8 1515.5 1527 1518.2 1526.6 1521 1525.9 1524 1524.8 1527.5 1523.1 1531 1521 1534.5 1518.6 1537.9 1515.8 1541.4 1512.8 1546 1508.4 1550.7 1503.8 1555.3 1499.2 1559.9 1494.6 1564.6 1490.4 1569.2 1486.5 1575 1482.3 1580.8 1477.5 1586.6 1470.9 1592.4 1463.5 1599.3 1454.5 1606.3 1446.3 1613.2 1439.9 1620.2 1436.1 1629.4 1436.2 1638.7 1442 1650.3 1450.2 1661.9 1458.5 1675.8 1467.8 1692 1477.6 1712.8 1488.2 1733.7 1496.8 1754.5 1504 1777.7 1510.6M1499.7 1220.4 1500.6 1220.4 1501.6 1220.4 1502.5 1220.4 1503.6 1220.4 1505 1220.4 1506.7 1220.4 1508.5 1220.4 1510.6 1220.4 1512.9 1220.4 1515.5 1220.4 1518.2 1220.4 1521 1274.6 1524 1339.6 1527.5 1394.2 1531 1432.9 1534.5 1460.4 1537.9 1480 1541.4 1493.9 1546 1506.3 1550.7 1514.2 1555.3 1519.2 1559.9 1522.4 1564.6 1524.4 1569.2 1525.7 1575 1526.7 1580.8 1526 1586.6 1521.7 1592.4 1514.6 1599.3 1504 1606.3 1492.8 1613.2 1482.5 1620.2 1474.4 1629.4 1468.8 1638.7 1470.3 1650.3 1473.8 1661.9 1477.3 1675.8 1481.5 1692 1486.4 1712.8 1492.7 1733.7 1499 1754.5 1505.3 1777.7 1512.3M1499.7 1220.4 1500.6 1220.4 1501.6 1220.4 1502.5 1220.4 1503.6 1220.4 1505 1220.4 1506.7 1220.4 1508.5 1220.4 1510.6 1220.4 1512.9 1220.4 1515.5 1220.4 1518.2 1274.9 1521 1347.3 1524 1402.5 1527.5 1445.6 1531 1473.9 1534.5 1492.5 1537.9 1504.3 1541.4 1510.6 1546 1513 1550.7 1511 1555.3 1506.1 1559.9 1499.5 1564.6 1492 1569.2 1484.3 1575 1475.2 1580.8 1467.5 1586.6 1462.2 1592.4 1460 1599.3 1460.3 1606.3 1460.8 1613.2 1461.2 1620.2 1461.6 1629.4 1462.1 1638.7 1462.7 1650.3 1463.4 1661.9 1464 1675.8 1464.9 1692 1465.8 1712.8 1467.1 1733.7 1468.3 1754.5 1469.5 1777.7 1470.9M1499.7 1220.4 1500.6 1220.4 1501.6 1315.2 1502.5 1388.2 1503.6 1445.2 1505 1483.8 1506.7 1506.6 1508.5 1518.4 1510.6 1523.5 1512.9 1524.8 1515.5 1524 1518.2 1521.8 1521 1518.4 1524 1513.6 1527.5 1507 1531 1499.3 1534.5 1490.9 1537.9 1482.2 1541.4 1473.5 1546 1462.3 1550.7 1452.4 1555.3 1444.2 1559.9 1437.9 1564.6 1433.7 1569.2 1431.5 1575 1431.4 1580.8 1433.8 1586.6 1438.2 1592.4 1442.5 1599.3 1446.4 1606.3 1448.8 1613.2 1449.9 1620.2 1450.3 1629.4 1450.6 1638.7 1452.7 1650.3 1459.4 1661.9 1464.7 1675.8 1468.6 1692 1470.8 1712.8 1471.1 1733.7 1470 1754.5 1468.3 1777.7 1465.9M1499.7 1220.4 1500.6 1220.4 1501.6 1220.4 1502.5 1220.4 1503.6 1220.4 1505 1220.4 1506.7 1220.4 1508.5 1276.9 1510.6 1357.7 1512.9 1417.3 1515.5 1459.1 1518.2 1486.9 1521 1503.5 1524 1513.9 1527.5 1520.6 1531 1524.1 1534.5 1525.9 1537.9 1526.7 1541.4 1526 1546 1522.8 1550.7 1517.8 1555.3 1511.6 1559.9 1504.8 1564.6 1497.7 1569.2 1490.8 1575 1483.1 1580.8 1477 1586.6 1473.1 1592.4 1472 1599.3 1473.6 1606.3 1475.5 1613.2 1477.4 1620.2 1479.3 1629.4 1481.9 1638.7 1484.4 1650.3 1487.6 1661.9 1490.8 1675.8 1494.6 1692 1499 1712.8 1504.8 1733.7 1510.5 1754.5 1516.2 1777.7 1522.5M1499.7 1242.1 1500.6 1295.8 1501.6 1339.3 1502.5 1374.7 1503.6 1409.7 1505 1441.4 1506.7 1467.8 1508.5 1488.2 1510.6 1503 1512.9 1513 1515.5 1519.3 1518.2 1522.9 1521 1524.5 1524 1524.8 1527.5 1524 1531 1522.1 1534.5 1519.4 1537.9 1515.8 1541.4 1511.7 1546 1505.2 1550.7 1498.2 1555.3 1489.3 1559.9 1478.2 1564.6 1466 1569.2 1453.4 1575 1438.4 1580.8 1425.1 1586.6 1414.6 1592.4 1407.5 1599.3 1403.9 1606.3 1406.4 1613.2 1413.8 1620.2 1421.8 1629.4 1432.7 1638.7 1443 1650.3 1454.5 1661.9 1464.3 1675.8 1473.7 1692 1482.3 1712.8 1490.9 1733.7 1497.9 1754.5 1504.2 1777.7 1510.8M1499.7 1527.9 1500.6 1527.9 1501.6 1527.9 1502.5 1527.9 1503.6 1527.7 1505 1527.2 1506.7 1525.8 1508.5 1522.7 1510.6 1516.8 1512.9 1506.8 1515.5 1492.1 1518.2 1472.6 1521 1451.4 1524 1428.9 1527.5 1406.2 1531 1389.3 1534.5 1379.3 1537.9 1376 1541.4 1377.8 1546 1385.6 1550.7 1396.9 1555.3 1409.3 1559.9 1420.9 1564.6 1430.6 1569.2 1438.1 1575 1444.4 1580.8 1448.4 1586.6 1451.2 1592.4 1454.2 1599.3 1458.9 1606.3 1462.1 1613.2 1464.2 1620.2 1465.5 1629.4 1466.8 1638.7 1467.6 1650.3 1468.5 1661.9 1469.2 1675.8 1470.1 1692 1471 1712.8 1472.3 1733.7 1473.5 1754.5 1474.8 1777.7 1476.2M1499.7 1220.4 1500.6 1220.4 1501.6 1220.4 1502.5 1220.4 1503.6 1220.4 1505 1220.4 1506.7 1220.4 1508.5 1220.4 1510.6 1220.4 1512.9 1220.4 1515.5 1220.4 1518.2 1269 1521 1325 1524 1372 1527.5 1412.9 1531 1443.1 1534.5 1465.4 1537.9 1481.8 1541.4 1493.9 1546 1505.2 1550.7 1512.8 1555.3 1517.8 1559.9 1520.5 1564.6 1520 1569.2 1517.1 1575 1510.9 1580.8 1502.9 1586.6 1494.1 1592.4 1485.3 1599.3 1475.9 1606.3 1468.9 1613.2 1465.9 1620.2 1465.8 1629.4 1465.8 1638.7 1465.8 1650.3 1465.7 1661.9 1465.7 1675.8 1465.7 1692 1465.6 1712.8 1465.5 1733.7 1465.5 1754.5 1465.4 1777.7 1465.3M1499.7 1220.4 1500.6 1220.4 1501.6 1220.4 1502.5 1220.4 1503.6 1220.4 1505 1220.4 1506.7 1220.4 1508.5 1220.4 1510.6 1220.4 1512.9 1220.4 1515.5 1220.4 1518.2 1220.4 1521 1220.4 1524 1220.4 1527.5 1273.8 1531 1338.3 1534.5 1386.5 1537.9 1422.4 1541.4 1449.2 1546 1474.7 1550.7 1491.9 1555.3 1503.5 1559.9 1511.4 1564.6 1516.7 1569.2 1520.4 1575 1523.3 1580.8 1525.1 1586.6 1526.2 1592.4 1526 1599.3 1522.8 1606.3 1517.1 1613.2 1509.9 1620.2 1502.2 1629.4 1492.6 1638.7 1485.9 1650.3 1484 1661.9 1483.7 1675.8 1483.4 1692 1483.1 1712.8 1482.7 1733.7 1482.2 1754.5 1481.8 1777.7 1481.3M1499.7 1220.4 1500.6 1220.4 1501.6 1220.4 1502.5 1220.4 1503.6 1220.4 1505 1220.4 1506.7 1220.4 1508.5 1220.4 1510.6 1220.4 1512.9 1220.4 1515.5 1249.3 1518.2 1340.1 1521 1401.3 1524 1445.3 1527.5 1477.5 1531 1497.1 1534.5 1509.1 1537.9 1516.4 1541.4 1520.9 1546 1524.3 1550.7 1526 1555.3 1526.9 1559.9 1527.4 1564.6 1527.4 1569.2 1525.2 1575 1519.5 1580.8 1511.6 1586.6 1502.3 1592.4 1492.4 1599.3 1481.2 1606.3 1471.8 1613.2 1465.5 1620.2 1463.5 1629.4 1464.6 1638.7 1465.8 1650.3 1467.2 1661.9 1468.6 1675.8 1470.2 1692 1472.2 1712.8 1474.7 1733.7 1477.2 1754.5 1479.8 1777.7 1482.6M1499.7 1220.4 1500.6 1220.4 1501.6 1220.4 1502.5 1220.4 1503.6 1220.4 1505 1220.4 1506.7 1220.4 1508.5 1220.4 1510.6 1220.4 1512.9 1220.4 1515.5 1220.4 1518.2 1220.4 1521 1220.4 1524 1267.2 1527.5 1333.6 1531 1383 1534.5 1419.9 1537.9 1447.4 1541.4 1467.9 1546 1487.3 1550.7 1500.5 1555.3 1508.7 1559.9 1513.1 1564.6 1514.9 1569.2 1514.8 1575 1512.9 1580.8 1509.7 1586.6 1506 1592.4 1502.3 1599.3 1498.7 1606.3 1496.6 1613.2 1496.1 1620.2 1495.6 1629.4 1494.9 1638.7 1494.1 1650.3 1493.2 1661.9 1492.2 1675.8 1491 1692 1489.7 1712.8 1488 1733.7 1486.2 1754.5 1484.5 1777.7 1482.6M1499.7 1527.9 1500.6 1527.9 1501.6 1527.9 1502.5 1527.9 1503.6 1527.9 1505 1527.9 1506.7 1527.9 1508.5 1527.9 1510.6 1527.9 1512.9 1527.9 1515.5 1527.8 1518.2 1527.7 1521 1527.5 1524 1527.1 1527.5 1526.2 1531 1524.7 1534.5 1522.5 1537.9 1519.5 1541.4 1515.1 1546 1505.9 1550.7 1493.7 1555.3 1479.4 1559.9 1464 1564.6 1448.7 1569.2 1434.2 1575 1418.7 1580.8 1407.2 1586.6 1400.4 1592.4 1398.7 1599.3 1403.2 1606.3 1411 1613.2 1420.4 1620.2 1430.5 1629.4 1443.9 1638.7 1456.3 1650.3 1469.6 1661.9 1480.2 1675.8 1489.9 1692 1498.4 1712.8 1506.5 1733.7 1513.2 1754.5 1519.4 1777.7 1526.1M1499.7 1527.9 1500.6 1527.9 1501.6 1527.9 1502.5 1527.9 1503.6 1527.9 1505 1527.9 1506.7 1527.9 1508.5 1527.7 1510.6 1527.4 1512.9 1526.6 1515.5 1524.8 1518.2 1521.5 1521 1516.6 1524 1509.5 1527.5 1499.3 1531 1488 1534.5 1476.5 1537.9 1466 1541.4 1457.3 1546 1449.6 1550.7 1446.6 1555.3 1448 1559.9 1452.9 1564.6 1460.2 1569.2 1468.8 1575 1480.1 1580.8 1490.7 1586.6 1499.9 1592.4 1507.5 1599.3 1511.8 1606.3 1510.9 1613.2 1506.2 1620.2 1499.3 1629.4 1489.3 1638.7 1481.2 1650.3 1477.7 1661.9 1478.5 1675.8 1479.4 1692 1480.4 1712.8 1481.7 1733.7 1482.9 1754.5 1484.2 1777.7 1485.5M1499.7 1220.4 1500.6 1220.4 1501.6 1220.4 1502.5 1220.4 1503.6 1220.4 1505 1220.4 1506.7 1220.4 1508.5 1220.4 1510.6 1294.5 1512.9 1374.7 1515.5 1431.5 1518.2 1469.7 1521 1492.8 1524 1507.6 1527.5 1517.1 1531 1522.2 1534.5 1524.8 1537.9 1526.3 1541.4 1527 1546 1527.5 1550.7 1527.7 1555.3 1527.8 1559.9 1527.9 1564.6 1527.9 1569.2 1527.9 1575 1527.9 1580.8 1527.9 1586.6 1527.8 1592.4 1526.3 1599.3 1522.3 1606.3 1516.6 1613.2 1509.8 1620.2 1502.6 1629.4 1493.9 1638.7 1488.1 1650.3 1486.2 1661.9 1484.8 1675.8 1483.2 1692 1481.4 1712.8 1479 1733.7 1476.6 1754.5 1474.2 1777.7 1471.6M1499.7 1220.4 1500.6 1220.4 1501.6 1220.4 1502.5 1226.8 1503.6 1338.7 1505 1419.5 1506.7 1471.3 1508.5 1501 1510.6 1516.2 1512.9 1523.3 1515.5 1526.2 1518.2 1527.3 1521 1527.5 1524 1527.5 1527.5 1527.1 1531 1526.5 1534.5 1525.5 1537.9 1524 1541.4 1522.2 1546 1518.9 1550.7 1514.8 1555.3 1509.8 1559.9 1504.1 1564.6 1498 1569.2 1491.6 1575 1483.7 1580.8 1476.3 1586.6 1469.8 1592.4 1463.3 1599.3 1453.7 1606.3 1443.3 1613.2 1433.2 1620.2 1424.3 1629.4 1415.9 1638.7 1413.3 1650.3 1420 1661.9 1428.9 1675.8 1438.5 1692 1447.5 1712.8 1455.1 1733.7 1459.1 1754.5 1460.9 1777.7 1461.2M1499.7 1527.9 1500.6 1527.9 1501.6 1527.9 1502.5 1527.9 1503.6 1527.8 1505 1527.5 1506.7 1526.6 1508.5 1524.8 1510.6 1521.1 1512.9 1514.9 1515.5 1505.5 1518.2 1492.5 1521 1477.9 1524 1461.3 1527.5 1443.3 1531 1428.1 1534.5 1416.8 1537.9 1410 1541.4 1407.7 1546 1410.5 1550.7 1418.5 1555.3 1430 1559.9 1443 1564.6 1456.4 1569.2 1469.1 1575 1483.2 1580.8 1494.8 1586.6 1502.9 1592.4 1507.1 1599.3 1508.1 1606.3 1505.7 1613.2 1501.3 1620.2 1496.1 1629.4 1489.8 1638.7 1486.8 1650.3 1485.4 1661.9 1483.8 1675.8 1481.8 1692 1479.4 1712.8 1476.3 1733.7 1473.2 1754.5 1470.1 1777.7 1466.6M1499.7 1220.4 1500.6 1220.4 1501.6 1220.4 1502.5 1220.4 1503.6 1251.9 1505 1321.7 1506.7 1381 1508.5 1428 1510.6 1462.5 1512.9 1485.8 1515.5 1499.6 1518.2 1505.5 1521 1505.3 1524 1500.4 1527.5 1490.8 1531 1478.4 1534.5 1464.4 1537.9 1449.8 1541.4 1435.7 1546 1418.5 1550.7 1404.4 1555.3 1394 1559.9 1387.7 1564.6 1384.3 1569.2 1383.2 1575 1384.5 1580.8 1388 1586.6 1393 1592.4 1398.7 1599.3 1406.1 1606.3 1414 1613.2 1422.9 1620.2 1433.1 1629.4 1444.2 1638.7 1452.3 1650.3 1458.7 1661.9 1462.1 1675.8 1463.5 1692 1462.8 1712.8 1460.3 1733.7 1456.9 1754.5 1453.3 1777.7 1449.1M1499.7 1376.5 1500.6 1433.5 1501.6 1469 1502.5 1491.2 1503.6 1507.5 1505 1517.4 1506.7 1521 1508.5 1516.8 1510.6 1500.8 1512.9 1467.9 1515.5 1418 1518.2 1359.8 1521 1313.3 1524 1287.8 1527.5 1293 1531 1325.1 1534.5 1369.2 1537.9 1413.3 1541.4 1450.4 1546 1485.7 1550.7 1506.6 1555.3 1517.9 1559.9 1522.9 1564.6 1523.5 1569.2 1521.5 1575 1516.9 1580.8 1511.1 1586.6 1504.7 1592.4 1498.3 1599.3 1491.6 1606.3 1486.6 1613.2 1484.4 1620.2 1484.1 1629.4 1483.8 1638.7 1483.5 1650.3 1483.2 1661.9 1482.8 1675.8 1482.3 1692 1481.8 1712.8 1481.2 1733.7 1480.5 1754.5 1479.8 1777.7 1479.1M1499.7 1527.9 1500.6 1527.9 1501.6 1527.9 1502.5 1527.9 1503.6 1527.9 1505 1527.9 1506.7 1527.8 1508.5 1527.7 1510.6 1527.2 1512.9 1526.3 1515.5 1524.3 1518.2 1520.8 1521 1515.5 1524 1507.9 1527.5 1496.7 1531 1483.5 1534.5 1469.2 1537.9 1454.7 1541.4 1440.9 1546 1424.9 1550.7 1413 1555.3 1405.4 1559.9 1401 1564.6 1399.3 1569.2 1400.2 1575 1403.8 1580.8 1409.2 1586.6 1415.6 1592.4 1422.3 1599.3 1430.7 1606.3 1439.7 1613.2 1449.6 1620.2 1457.9 1629.4 1466 1638.7 1471.4 1650.3 1475.6 1661.9 1478.1 1675.8 1479.7 1692 1480.7 1712.8 1481.5 1733.7 1482.1 1754.5 1482.7 1777.7 1483.3M1499.7 1220.4 1500.6 1220.4 1501.6 1220.4 1502.5 1220.4 1503.6 1220.4 1505 1220.4 1506.7 1220.4 1508.5 1220.4 1510.6 1220.4 1512.9 1220.4 1515.5 1220.4 1518.2 1220.4 1521 1223.8 1524 1300.7 1527.5 1365.6 1531 1411.9 1534.5 1445 1537.9 1468.6 1541.4 1485.3 1546 1499.7 1550.7 1508.1 1555.3 1512.4 1559.9 1513.9 1564.6 1513.5 1569.2 1511.8 1575 1508.5 1580.8 1504.7 1586.6 1501.1 1592.4 1498.3 1599.3 1496 1606.3 1493.5 1613.2 1491.1 1620.2 1488.6 1629.4 1485.3 1638.7 1482 1650.3 1477.8 1661.9 1473.7 1675.8 1468.7 1692 1462.9 1712.8 1455.4 1733.7 1447.9 1754.5 1440.5 1777.7 1432.2M1499.7 1220.4 1500.6 1220.4 1501.6 1220.4 1502.5 1220.4 1503.6 1220.4 1505 1262.5 1506.7 1327.6 1508.5 1382.6 1510.6 1426.3 1512.9 1458.9 1515.5 1481.4 1518.2 1495.2 1521 1501.3 1524 1502 1527.5 1497.6 1531 1489.4 1534.5 1478.7 1537.9 1466.7 1541.4 1454.1 1546 1437.7 1550.7 1423 1555.3 1411 1559.9 1402.3 1564.6 1396.9 1569.2 1394.9 1575 1395.6 1580.8 1397.3 1586.6 1399.8 1592.4 1403.2 1599.3 1408.1 1606.3 1414.1 1613.2 1421.2 1620.2 1429.8 1629.4 1444.1 1638.7 1458.3 1650.3 1472.3 1661.9 1483 1675.8 1492.8 1692 1501.6 1712.8 1510.5 1733.7 1518.3 1754.5 1525.6 1777.7 1527.9M1499.7 1220.4 1500.6 1220.4 1501.6 1220.4 1502.5 1220.4 1503.6 1253.2 1505 1326.5 1506.7 1387.7 1508.5 1435.2 1510.6 1469.7 1512.9 1493.2 1515.5 1508.2 1518.2 1517.3 1521 1522.1 1524 1524.7 1527.5 1525.9 1531 1526.1 1534.5 1525.7 1537.9 1524.9 1541.4 1523.7 1546 1521.7 1550.7 1519.2 1555.3 1516.2 1559.9 1513 1564.6 1509.5 1569.2 1506.1 1575 1501.9 1580.8 1498.1 1586.6 1494.9 1592.4 1492.1 1599.3 1486.2 1606.3 1478.1 1613.2 1469.1 1620.2 1460.5 1629.4 1451.4 1638.7 1447 1650.3 1450.5 1661.9 1457.7 1675.8 1465.8 1692 1474 1712.8 1482.5 1733.7 1489.2 1754.5 1494.7 1777.7 1499.9M1499.7 1220.4 1500.6 1220.4 1501.6 1220.4 1502.5 1304.6 1503.6 1379.8 1505 1437.3 1506.7 1476.4 1508.5 1499.5 1510.6 1510.1 1512.9 1511 1515.5 1504.2 1518.2 1491.2 1521 1475.5 1524 1458.6 1527.5 1442.2 1531 1431.6 1534.5 1427.6 1537.9 1429.6 1541.4 1436.4 1546 1450 1550.7 1465.5 1555.3 1480.4 1559.9 1493.3 1564.6 1503.5 1569.2 1511.3 1575 1517.6 1580.8 1519.2 1586.6 1517.3 1592.4 1513.2 1599.3 1506.6 1606.3 1499.7 1613.2 1493.5 1620.2 1489.1 1629.4 1487.2 1638.7 1488.3 1650.3 1489.6 1661.9 1491 1675.8 1492.7 1692 1494.6 1712.8 1497 1733.7 1499.5 1754.5 1501.9 1777.7 1504.7M1499.7 1527.9 1500.6 1527.9 1501.6 1527.9 1502.5 1527.9 1503.6 1527.9 1505 1527.9 1506.7 1527.9 1508.5 1527.9 1510.6 1527.9 1512.9 1527.9 1515.5 1527.8 1518.2 1527.7 1521 1527.6 1524 1527.2 1527.5 1526.6 1531 1525.7 1534.5 1524.4 1537.9 1522.6 1541.4 1520.4 1546 1516.7 1550.7 1512 1555.3 1505.7 1559.9 1497.8 1564.6 1488.6 1569.2 1478.6 1575 1465.6 1580.8 1452.6 1586.6 1440.6 1592.4 1430.2 1599.3 1420.8 1606.3 1415.7 1613.2 1414.2 1620.2 1414.4 1629.4 1416.8 1638.7 1421.2 1650.3 1428.1 1661.9 1435.6 1675.8 1444.2 1692 1452.4 1712.8 1459.5 1733.7 1463.2 1754.5 1464.2 1777.7 1463.4M1499.7 1220.4 1500.6 1220.4 1501.6 1220.4 1502.5 1220.4 1503.6 1220.4 1505 1220.4 1506.7 1220.4 1508.5 1239.6 1510.6 1283.7 1512.9 1324.9 1515.5 1362.2 1518.2 1395.1 1521 1421.5 1524 1444.2 1527.5 1464.4 1531 1479.8 1534.5 1491.4 1537.9 1500.2 1541.4 1506.9 1546 1513.4 1550.7 1517.9 1555.3 1521 1559.9 1522.7 1564.6 1522.6 1569.2 1521 1575 1517.4 1580.8 1512.8 1586.6 1507.7 1592.4 1502.7 1599.3 1497.3 1606.3 1493.5 1613.2 1492 1620.2 1492.3 1629.4 1492.8 1638.7 1493.3 1650.3 1493.9 1661.9 1494.4 1675.8 1495.1 1692 1496 1712.8 1497 1733.7 1498 1754.5 1499.1 1777.7 1500.3M1499.7 1527.9 1500.6 1527.9 1501.6 1527.9 1502.5 1527.6 1503.6 1526.4 1505 1521.9 1506.7 1509.8 1508.5 1485.3 1510.6 1447.2 1512.9 1401.6 1515.5 1361.5 1518.2 1340.5 1521 1344 1524 1367.6 1527.5 1406 1531 1443.7 1534.5 1473.9 1537.9 1495.3 1541.4 1509.2 1546 1519.6 1550.7 1524.4 1555.3 1526.5 1559.9 1527.4 1564.6 1527.7 1569.2 1527.8 1575 1527.9 1580.8 1527.9 1586.6 1527.9 1592.4 1527.4 1599.3 1523.6 1606.3 1516.8 1613.2 1508.1 1620.2 1498.5 1629.4 1486.1 1638.7 1476.7 1650.3 1472.9 1661.9 1472 1675.8 1471 1692 1469.8 1712.8 1468.2 1733.7 1466.6 1754.5 1465.1 1777.7 1463.3M1499.7 1398.8 1500.6 1421.8 1501.6 1440.6 1502.5 1456.2 1503.6 1471.7 1505 1486 1506.7 1498.2 1508.5 1507.8 1510.6 1514.9 1512.9 1519.7 1515.5 1522.4 1518.2 1523.3 1521 1522.4 1524 1519.5 1527.5 1513.9 1531 1506 1534.5 1496.3 1537.9 1485.4 1541.4 1473.9 1546 1459.2 1550.7 1446.6 1555.3 1437.4 1559.9 1432.2 1564.6 1430.9 1569.2 1433.1 1575 1440 1580.8 1449.8 1586.6 1461 1592.4 1471.6 1599.3 1479.9 1606.3 1483.5 1613.2 1483.2 1620.2 1480.2 1629.4 1474.5 1638.7 1470.1 1650.3 1470.6 1661.9 1471.9 1675.8 1472.7 1692 1472.9 1712.8 1473 1733.7 1472.9 1754.5 1472.9 1777.7 1472.8M1499.7 1527.9 1500.6 1527.9 1501.6 1527.9 1502.5 1527.9 1503.6 1527.9 1505 1527.9 1506.7 1527.7 1508.5 1527.1 1510.6 1525.2 1512.9 1520.7 1515.5 1511.4 1518.2 1495.2 1521 1473 1524 1444 1527.5 1408.7 1531 1376.8 1534.5 1352.8 1537.9 1339.3 1541.4 1336.6 1546 1346.8 1550.7 1367.3 1555.3 1392.3 1559.9 1417.2 1564.6 1439 1569.2 1456.3 1575 1471.5 1580.8 1480.7 1586.6 1485.7 1592.4 1488.3 1599.3 1490.6 1606.3 1492.3 1613.2 1493.1 1620.2 1493.4 1629.4 1493.5 1638.7 1493.3 1650.3 1493.1 1661.9 1492.9 1675.8 1492.6 1692 1492.2 1712.8 1491.8 1733.7 1491.4 1754.5 1490.9 1777.7 1490.4" fill="none" stroke="#cfeaf2" stroke-width="1" stroke-linejoin="round"/>
<path d="M1499.7 1366.4 1499.7 1366.9 1499.8 1368 1500 1369.8 1500.2 1372.2 1500.4 1375.1 1500.7 1378.5 1501 1382.4 1501.3 1386.4 1501.7 1390.6 1502.1 1394.8 1502.6 1399.2 1503 1403.5 1503.6 1407.9 1504.1 1412.4 1504.7 1417.3 1505.3 1422.4 1505.9 1427.7 1506.6 1432.8 1507.3 1437.5 1508.1 1441.5 1508.8 1444.9 1509.6 1448.3 1510.5 1451.5 1511.3 1454.6 1512.2 1457.6 1513.1 1460.4 1514.1 1463.1 1515 1465.8 1516 1468.3 1517.1 1470.7 1518.1 1473.1 1519.2 1475.3 1520.3 1477.4 1521.5 1479.4 1522.6 1481.2 1523.8 1482.9 1525 1484.6 1526.3 1486.1 1527.6 1487.5 1528.9 1488.8 1530.2 1490.1 1531.5 1491.2 1532.9 1492.3 1534.3 1493.3 1535.7 1494.2 1537.2 1495.1 1538.7 1495.8 1540.2 1496.6 1541.7 1497.2 1543.3 1497.8 1544.8 1498.4 1546.5 1498.9 1548.1 1499.4 1549.7 1499.7 1551.4 1500 1553.1 1500.2 1554.9 1500.4 1556.6 1500.5 1558.4 1500.6 1560.2 1500.7 1562 1500.7 1563.9 1500.6 1565.7 1500.5 1567.6 1500.3 1569.6 1500 1571.5 1499.6 1573.5 1499.2 1575.5 1498.7 1577.5 1498.2 1579.5 1497.6 1581.6 1497 1583.7 1496.3 1585.8 1495.6 1587.9 1494.9 1590.1 1494.2 1592.3 1493.4 1594.5 1492.6 1596.7 1491.9 1599 1491.2 1601.2 1490.4 1603.5 1489.7 1605.8 1488.9 1608.2 1488.2 1610.5 1487.4 1612.9 1486.7 1615.3 1485.9 1617.8 1485.2 1620.2 1484.6 1622.7 1484 1625.2 1483.4 1627.7 1482.8 1630.3 1482.3 1632.8 1481.8 1635.4 1481.3 1638 1480.8 1640.7 1480.4 1643.3 1480.1 1646 1479.7 1648.7 1479.4 1651.4 1479.1 1654.2 1478.8 1656.9 1478.5 1659.7 1478.3 1662.5 1478.1 1665.3 1477.9 1668.2 1477.7 1671.1 1477.6 1674 1477.4 1676.9 1477.4 1679.8 1477.3 1682.8 1477.3 1685.7 1477.3 1688.7 1477.4 1691.8 1477.4 1694.8 1477.5 1697.9 1477.6 1701 1477.7 1704.1 1477.9 1707.2 1478 1710.3 1478.2 1713.5 1478.3 1716.7 1478.5 1719.9 1478.7 1723.1 1479 1726.4 1479.2 1729.7 1479.5 1733 1479.9 1736.3 1480.2 1739.6 1480.5 1743 1480.9 1746.4 1481.2 1749.8 1481.6 1753.2 1481.9 1756.6 1482.3 1760.1 1482.7 1763.6 1483 1767.1 1483.4 1770.6 1483.8 1774.1 1484.2 1777.7 1484.6" fill="none" stroke="#6cc5d9" stroke-width="8.2" stroke-linejoin="round" stroke-linecap="butt"/>
</g>
<line x1="1716.9" y1="1244.2" x2="1716.9" y2="1527.9" stroke="#6cc5d9" stroke-width="2" stroke-linecap="butt"/>
<line x1="1499.7" y1="1249.4" x2="1499.7" y2="1529" stroke="#000" stroke-width="2.2" stroke-linecap="butt"/>
<line x1="1495.7" y1="1527.9" x2="1778.9" y2="1527.9" stroke="#000" stroke-width="2.2" stroke-linecap="butt"/>
<line x1="1499.7" y1="1527.9" x2="1499.7" y2="1532.6" stroke="#000" stroke-width="2.2" stroke-linecap="butt"/>
<line x1="1592.4" y1="1527.9" x2="1592.4" y2="1532.6" stroke="#000" stroke-width="2.2" stroke-linecap="butt"/>
<line x1="1685" y1="1527.9" x2="1685" y2="1532.6" stroke="#000" stroke-width="2.2" stroke-linecap="butt"/>
<line x1="1777.7" y1="1527.9" x2="1777.7" y2="1532.6" stroke="#000" stroke-width="2.2" stroke-linecap="butt"/>
<line x1="1495.2" y1="1250.8" x2="1499.7" y2="1250.8" stroke="#000" stroke-width="2" stroke-linecap="butt"/>
<text x="1486" y="1260.3" font-size="28.3" text-anchor="end" fill="#000">0.05</text>
<line x1="1495.2" y1="1389.1" x2="1499.7" y2="1389.1" stroke="#000" stroke-width="2" stroke-linecap="butt"/>
<text x="1486" y="1403.5" font-size="28.3" text-anchor="end" fill="#000">0.025</text>
<line x1="1495.2" y1="1527.9" x2="1499.7" y2="1527.9" stroke="#000" stroke-width="2" stroke-linecap="butt"/>
<text x="1486" y="1540.9" font-size="28.3" text-anchor="end" fill="#000">0</text>
<text x="1496.4" y="1563.2" font-size="28.3" text-anchor="middle" fill="#000">0</text>
<text x="1588.2" y="1563.2" font-size="28.3" text-anchor="middle" fill="#000">4</text>
<text x="1680.6" y="1563.2" font-size="28.3" text-anchor="middle" fill="#000">8</text>
<text x="1772.8" y="1563.2" font-size="28.3" text-anchor="middle" fill="#000">12</text>
<text x="1649.3" y="1600.5" font-size="29" text-anchor="middle" fill="#000">Time (s)</text>
<line x1="192.1" y1="1640.5" x2="192.1" y2="1894.4" stroke="#000" stroke-width="2.2" stroke-linecap="butt"/>
<line x1="188.1" y1="1893.4" x2="444.1" y2="1893.4" stroke="#000" stroke-width="2.2" stroke-linecap="butt"/>
<line x1="332.1" y1="1893.4" x2="332.1" y2="1897.9" stroke="#000" stroke-width="2" stroke-linecap="butt"/>
<line x1="187.6" y1="1641.5" x2="192.1" y2="1641.5" stroke="#000" stroke-width="2" stroke-linecap="butt"/>
<text x="176.4" y="1654" font-size="28.3" text-anchor="end" fill="#000">100</text>
<line x1="187.6" y1="1767.7" x2="192.1" y2="1767.7" stroke="#000" stroke-width="2" stroke-linecap="butt"/>
<text x="176.4" y="1780.2" font-size="28.3" text-anchor="end" fill="#000">50</text>
<line x1="187.6" y1="1893.4" x2="192.1" y2="1893.4" stroke="#000" stroke-width="2" stroke-linecap="butt"/>
<text x="176.4" y="1904.4" font-size="28.3" text-anchor="end" fill="#000">0</text>
<path d="M192.1 1893.4 204.7 1641.5 217.3 1836 229.9 1817.8 242.5 1829.4 255.1 1851.6 267.7 1877 280.3 1889.1 292.9 1893.4 305.5 1893.4 318.1 1893.4 330.7 1893.4 343.3 1893.4 355.9 1893.4 368.5 1893.4 381.1 1893.4 393.7 1893.4 406.3 1893.4 418.9 1893.4 431.5 1893.4 444.1 1893.4" fill="none" stroke="#1c75bc" stroke-width="6.6" stroke-linejoin="round" stroke-linecap="butt"/>
<path d="M192.1 1893.4 204.7 1744.8 217.3 1774.3 229.9 1794.2 242.5 1816.3 255.1 1843 267.7 1882.3 280.3 1890.9 292.9 1893.4 305.5 1893.4 318.1 1893.4 330.7 1893.4 343.3 1893.4 355.9 1893.4 368.5 1893.4 381.1 1893.4 393.7 1893.4 406.3 1893.4 418.9 1893.4 431.5 1893.4 444.1 1893.4" fill="none" stroke="#b4232c" stroke-width="6.6" stroke-linejoin="round" stroke-linecap="butt"/>
<text x="190.8" y="1929.5" font-size="28.3" text-anchor="middle" fill="#000">0</text>
<text x="330.5" y="1929.5" font-size="28.3" text-anchor="middle" fill="#000">5</text>
<text x="309" y="1966.7" font-size="29" text-anchor="middle" fill="#000">W1 distance</text>
<text x="111.5" y="1768.1" font-size="29" text-anchor="middle" fill="#000" transform="rotate(-90 111.5 1768.1)">Count</text>
<text x="239.5" y="1673.9" font-size="28.8" text-anchor="start" fill="#1c75bc" xml:space="preserve">Data  - exponential</text>
<text x="239.5" y="1719.1" font-size="28.8" text-anchor="start" fill="#b4232c" xml:space="preserve">Simulation</text>
<line x1="638.2" y1="1640.5" x2="638.2" y2="1894.4" stroke="#000" stroke-width="2.2" stroke-linecap="butt"/>
<line x1="634.2" y1="1893.4" x2="888.6" y2="1893.4" stroke="#000" stroke-width="2.2" stroke-linecap="butt"/>
<line x1="777.3" y1="1893.4" x2="777.3" y2="1897.9" stroke="#000" stroke-width="2" stroke-linecap="butt"/>
<line x1="633.7" y1="1641.5" x2="638.2" y2="1641.5" stroke="#000" stroke-width="2" stroke-linecap="butt"/>
<text x="620.3" y="1654" font-size="28.3" text-anchor="end" fill="#000">200</text>
<line x1="633.7" y1="1767.7" x2="638.2" y2="1767.7" stroke="#000" stroke-width="2" stroke-linecap="butt"/>
<text x="620.3" y="1780.2" font-size="28.3" text-anchor="end" fill="#000">100</text>
<line x1="633.7" y1="1893.4" x2="638.2" y2="1893.4" stroke="#000" stroke-width="2" stroke-linecap="butt"/>
<text x="620.3" y="1904.4" font-size="28.3" text-anchor="end" fill="#000">0</text>
<path d="M638.2 1894.7 650.7 1892.8 663.2 1646.5 675.8 1889.6 688.3 1894.7 700.8 1892.1 713.3 1893.4 725.8 1893.4 738.4 1893.4 750.9 1893.4 763.4 1893.4 775.9 1893.4 788.4 1893.4 801 1893.4 813.5 1893.4 826 1893.4 838.5 1893.4 851 1893.4 863.6 1893.4 876.1 1893.4 888.6 1893.4" fill="none" stroke="#1c75bc" stroke-width="6.6" stroke-linejoin="round" stroke-linecap="butt"/>
<path d="M638.2 1892.1 650.7 1889 663.2 1647.8 675.8 1889 688.3 1891.5 700.8 1892.8 713.3 1893.4 725.8 1893.4 738.4 1893.4 750.9 1893.4 763.4 1893.4 775.9 1893.4 788.4 1893.4 801 1893.4 813.5 1893.4 826 1893.4 838.5 1893.4 851 1893.4 863.6 1893.4 876.1 1893.4 888.6 1893.4" fill="none" stroke="#b4232c" stroke-width="6.6" stroke-linejoin="round" stroke-linecap="butt"/>
<text x="636.4" y="1929.5" font-size="28.3" text-anchor="middle" fill="#000">0</text>
<text x="776" y="1929.5" font-size="28.3" text-anchor="middle" fill="#000">5</text>
<text x="754" y="1966.7" font-size="29" text-anchor="middle" fill="#000">W1 distance</text>
<line x1="1063.2" y1="1640.5" x2="1063.2" y2="1894.4" stroke="#000" stroke-width="2.2" stroke-linecap="butt"/>
<line x1="1059.2" y1="1893.4" x2="1314.1" y2="1893.4" stroke="#000" stroke-width="2.2" stroke-linecap="butt"/>
<line x1="1202.6" y1="1893.4" x2="1202.6" y2="1897.9" stroke="#000" stroke-width="2" stroke-linecap="butt"/>
<line x1="1058.7" y1="1687.1" x2="1063.2" y2="1687.1" stroke="#000" stroke-width="2" stroke-linecap="butt"/>
<text x="1040.5" y="1696.9" font-size="28.3" text-anchor="end" fill="#000">50</text>
<line x1="1058.7" y1="1893.4" x2="1063.2" y2="1893.4" stroke="#000" stroke-width="2" stroke-linecap="butt"/>
<text x="1040.5" y="1901.9" font-size="28.3" text-anchor="end" fill="#000">0</text>
<path d="M1063.2 1893.4 1075.7 1893.4 1088.3 1838.1 1100.8 1658 1113.4 1705.5 1125.9 1740.6 1138.5 1773.6 1151 1827.3 1163.6 1885.1 1176.1 1893.4 1188.7 1893.4 1201.2 1893.4 1213.7 1893.4 1226.3 1893.4 1238.8 1893.4 1251.4 1893.4 1263.9 1893.4 1276.5 1893.4 1289 1893.4 1301.6 1893.4 1314.1 1893.4" fill="none" stroke="#1c75bc" stroke-width="6.6" stroke-linejoin="round" stroke-linecap="butt"/>
<path d="M1063.2 1893.4 1075.7 1893.4 1088.3 1893.4 1100.8 1829.4 1113.4 1740.6 1125.9 1670.4 1138.5 1641.5 1151 1767.5 1163.6 1876.9 1176.1 1893.4 1188.7 1893.4 1201.2 1893.4 1213.7 1893.4 1226.3 1893.4 1238.8 1893.4 1251.4 1893.4 1263.9 1893.4 1276.5 1893.4 1289 1893.4 1301.6 1893.4 1314.1 1893.4" fill="none" stroke="#b4232c" stroke-width="6.6" stroke-linejoin="round" stroke-linecap="butt"/>
<text x="1060.8" y="1929.5" font-size="28.3" text-anchor="middle" fill="#000">0</text>
<text x="1200.5" y="1929.5" font-size="28.3" text-anchor="middle" fill="#000">5</text>
<text x="1179.4" y="1966.7" font-size="29" text-anchor="middle" fill="#000">W1 distance</text>
<line x1="1497.1" y1="1640.5" x2="1497.1" y2="1894.4" stroke="#000" stroke-width="2.2" stroke-linecap="butt"/>
<line x1="1493.1" y1="1893.4" x2="1748.1" y2="1893.4" stroke="#000" stroke-width="2.2" stroke-linecap="butt"/>
<line x1="1636.5" y1="1893.4" x2="1636.5" y2="1897.9" stroke="#000" stroke-width="2" stroke-linecap="butt"/>
<line x1="1492.6" y1="1641.5" x2="1497.1" y2="1641.5" stroke="#000" stroke-width="2" stroke-linecap="butt"/>
<text x="1479.8" y="1656" font-size="28.3" text-anchor="end" fill="#000">50</text>
<line x1="1492.6" y1="1893.4" x2="1497.1" y2="1893.4" stroke="#000" stroke-width="2" stroke-linecap="butt"/>
<text x="1479.8" y="1904.8" font-size="28.3" text-anchor="end" fill="#000">0</text>
<path d="M1497.1 1893.4 1509.6 1893.4 1522.2 1893.4 1534.8 1893.4 1547.3 1893.4 1559.8 1840.5 1572.4 1691.9 1584.9 1691.9 1597.5 1732.2 1610 1832.9 1622.6 1832.9 1635.1 1843 1647.7 1832.9 1660.2 1832.9 1672.8 1863.2 1685.3 1858.1 1697.9 1879.3 1710.4 1888.4 1723 1878.3 1735.5 1893.4 1748.1 1893.4" fill="none" stroke="#1c75bc" stroke-width="6.6" stroke-linejoin="round" stroke-linecap="butt"/>
<path d="M1497.1 1893.4 1509.6 1893.4 1522.2 1893.4 1534.8 1893.4 1547.3 1893.4 1559.8 1849.1 1572.4 1807.8 1584.9 1694.9 1597.5 1641.5 1610 1807.8 1622.6 1792.6 1635.1 1829.4 1647.7 1862.7 1660.2 1853.6 1672.8 1878.3 1685.3 1853.6 1697.9 1863.7 1710.4 1887.9 1723 1883.3 1735.5 1893.4 1748.1 1887.9" fill="none" stroke="#b4232c" stroke-width="6.6" stroke-linejoin="round" stroke-linecap="butt"/>
<text x="1495.5" y="1929.5" font-size="28.3" text-anchor="middle" fill="#000">0</text>
<text x="1634.9" y="1929.5" font-size="28.3" text-anchor="middle" fill="#000">5</text>
<text x="1613.4" y="1966.7" font-size="29" text-anchor="middle" fill="#000">W1 distance</text>
<text x="0" y="23.6" font-size="32" text-anchor="start" fill="#000" font-weight="bold">a</text>
<text x="608.5" y="23.6" font-size="32" text-anchor="start" fill="#000" font-weight="bold">b</text>
<text x="1274.5" y="24.2" font-size="32" text-anchor="start" fill="#000" font-weight="bold">c</text>
<text x="0" y="540.6" font-size="32" text-anchor="start" fill="#000" font-weight="bold">d</text>
<text x="0" y="895.3" font-size="32" text-anchor="start" fill="#000" font-weight="bold">e</text>
<text x="0" y="1224.2" font-size="32" text-anchor="start" fill="#000" font-weight="bold">f</text>
<text x="0" y="1638.4" font-size="32" text-anchor="start" fill="#000" font-weight="bold">g</text>
</svg>
</body></html>
